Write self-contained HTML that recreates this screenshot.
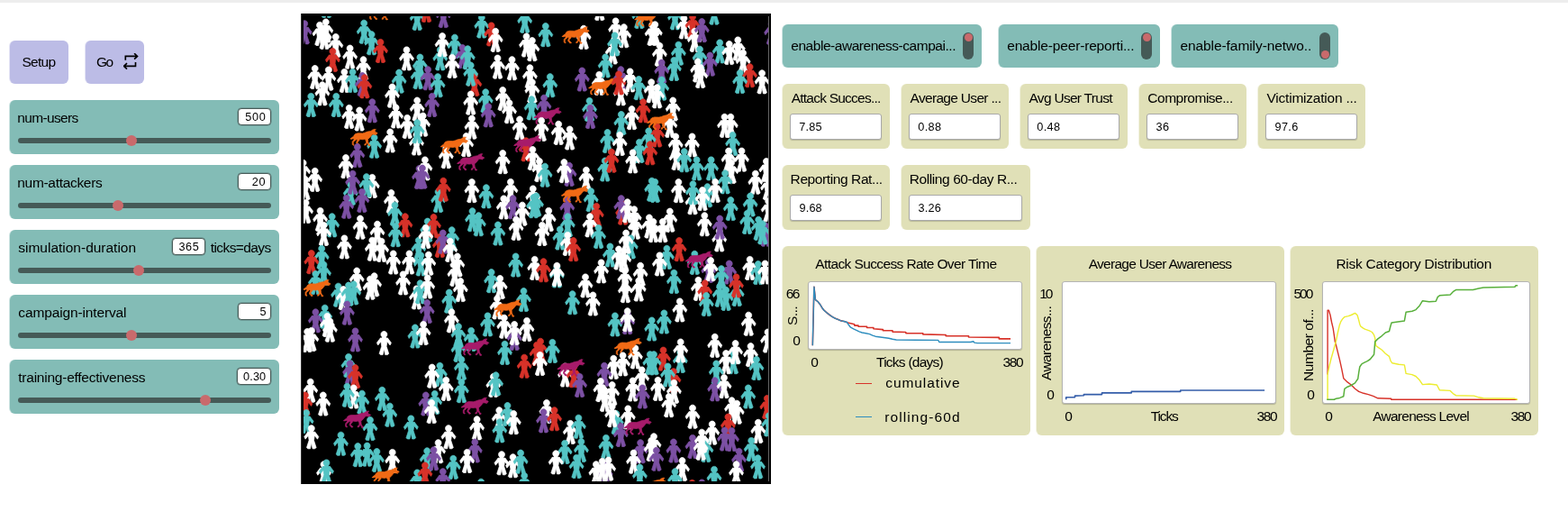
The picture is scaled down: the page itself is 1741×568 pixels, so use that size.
<!DOCTYPE html><html lang="en"><head><meta charset="utf-8"><title>NetLogo Web</title><style>
*{box-sizing:border-box;margin:0;padding:0}
html,body{width:1741px;height:568px;overflow:hidden;background:#fff}
body{font-family:"Liberation Sans",sans-serif;color:#000;position:relative;font-size:15.5px;line-height:18px}
.topbar{position:absolute;left:0;top:0;width:1741px;height:3px;background:#ededed}
.w{position:absolute;border-radius:6px}
.tx{position:absolute;white-space:nowrap;line-height:18px}
.btn{background:#bcbce6;height:48px;top:45px;box-shadow:-1px 0 0 rgba(188,188,230,.4)}
.sl{background:#83bcb6;left:11px;width:299px;height:60px;box-shadow:-1px 0 0 rgba(131,188,182,.4)}
.sl .val{position:absolute;top:9px;height:19px;background:#fff;border:1px solid #4a5d5a;border-radius:4px;box-shadow:0 0 0 .5px rgba(69,90,87,.55)}
.sl .track{position:absolute;left:9px;right:9px;top:42px;height:6px;border-radius:3px;background:#455a57}
.sl .thumb{position:absolute;top:39px;width:12px;height:12px;border-radius:6px;background:#c96a6c}
.sw{background:#83bcb6;top:27px;height:48px;box-shadow:-1px 0 0 rgba(131,188,182,.4)}
.sw .tg{position:absolute;right:9px;top:9px;width:12px;height:30px;border-radius:6px;background:#455a57}
.sw .tg i{position:absolute;left:1.5px;width:9px;height:9px;border-radius:5px;background:#c96a6c}
.mo{background:#e0e0b7;height:72px;box-shadow:-1px 0 0 rgba(224,224,183,.4)}
.mo .val{position:absolute;left:8px;right:9px;top:33px;height:29px;background:#fff;border:1px solid #a9a9a9;border-radius:3px;box-shadow:0 1px 1px rgba(0,0,0,.18)}
.pl{background:#e0e0b7;top:273px;width:275px;height:210px;box-shadow:-1px 0 0 rgba(224,224,183,.4)}
.pl .cv{position:absolute;background:#fff;border:1px solid #b4b4b4;border-radius:3px;box-shadow:0 1px 1px rgba(0,0,0,.2)}
.pl .yl{position:absolute;white-space:nowrap;line-height:18px;transform-origin:0 0;transform:rotate(-90deg)}
.pl .ln{position:absolute;width:18px;height:1.5px}
.world{position:absolute;left:334px;top:15px;width:522px;height:522px;background:#000;box-shadow:inset 1px 0 0 #333;overflow:hidden}
</style></head><body>
<div class="topbar"></div>
<div class="w btn" style="left:11px;width:65px"><span class="tx" style="left:13.5px;top:14.6px;font-size:15.5px;letter-spacing:-0.75px">Setup</span></div>
<div class="w btn" style="left:95px;width:65px"><span class="tx" style="left:12.1px;top:14.6px;font-size:15.5px;letter-spacing:-1.76px">Go</span><svg style="position:absolute;left:42px;top:14px" width="17" height="19" viewBox="0 0 17 19"><g fill="none" stroke="#000" stroke-width="1.65"><path d="M2.3 7.7V3.4H15.2M12.1 0.2L15.5 3.4L12.1 6.6M13.5 10.1V14.4H0.9M4 11.2L0.6 14.4L4 17.7"/></g></svg></div>
<div class="w sl" style="top:111px"><span class="tx" style="left:8.3px;top:10.6px;font-size:15.5px;letter-spacing:-0.65px">num-users</span><div class="val" style="left:253px;width:37px"></div><span class="tx" style="left:261.3px;top:9.6px;font-size:12.7px;letter-spacing:0.64px">500</span><div class="track"></div><div class="thumb" style="left:128.6px"></div></div>
<div class="w sl" style="top:183px"><span class="tx" style="left:8.3px;top:10.6px;font-size:15.5px;letter-spacing:-0.31px">num-attackers</span><div class="val" style="left:253px;width:37px"></div><span class="tx" style="left:268.8px;top:9.6px;font-size:12.7px;letter-spacing:0.74px">20</span><div class="track"></div><div class="thumb" style="left:113.5px"></div></div>
<div class="w sl" style="top:255px"><span class="tx" style="left:9.3px;top:10.6px;font-size:15.5px;letter-spacing:-0.01px">simulation-duration</span><div class="val" style="left:180px;width:37px"></div><span class="tx" style="left:187.5px;top:9.6px;font-size:12.7px;letter-spacing:0.54px">365</span><span class="tx" style="left:222.8px;top:10.6px;font-size:15.5px;letter-spacing:-0.59px">ticks=days</span><div class="track"></div><div class="thumb" style="left:137.4px"></div></div>
<div class="w sl" style="top:327px"><span class="tx" style="left:9.3px;top:10.6px;font-size:15.5px;letter-spacing:-0.13px">campaign-interval</span><div class="val" style="left:253px;width:37px"></div><span class="tx" style="left:277.5px;top:9.6px;font-size:12.7px;letter-spacing:0.00px">5</span><div class="track"></div><div class="thumb" style="left:128.5px"></div></div>
<div class="w sl" style="top:399px"><span class="tx" style="left:9.3px;top:10.6px;font-size:15.5px;letter-spacing:-0.24px">training-effectiveness</span><div class="val" style="left:252px;width:38px"></div><span class="tx" style="left:259.0px;top:9.6px;font-size:12.7px;letter-spacing:0.15px">0.30</span><div class="track"></div><div class="thumb" style="left:210.8px"></div></div>
<div class="world"><svg width="516.5" height="516.5" viewBox="0 0 516.5 516.5" stroke-width="0.7" stroke-linejoin="round" style="position:absolute;left:2.5px;top:2.5px;box-sizing:content-box;border-right:1px solid #666">
<path transform="translate(151.8 46.7)" fill="#54c4c4" stroke="#54c4c4" d="M3.5,-9.3 3.2,-7.8 2.2,-6.5 0.8,-5.9 -0.8,-5.9 -2.2,-6.5 -3.2,-7.8 -3.5,-9.3 -3.2,-10.8 -2.2,-12.1 -0.8,-12.8 0.8,-12.8 2.2,-12.1 3.2,-10.8zM4.0,-5.3 2.7,4.0 5.3,12.0 4.0,13.3 1.3,13.3 0.0,6.7 -1.3,13.3 -4.0,13.3 -5.3,12.0 -2.7,4.0 -4.0,-5.3zM-2.0,-6.3 2.0,-6.3 2.0,-5.0 -2.0,-5.0zM4.0,-5.3 8.0,0.0 6.7,2.7 1.3,-4.0zM-1.3,-4.0 -6.7,2.7 -8.0,0.0 -4.0,-5.3z"/>
<path transform="translate(189.8 75.3)" fill="#d73229" stroke="#d73229" d="M3.5,-9.3 3.2,-7.8 2.2,-6.5 0.8,-5.9 -0.8,-5.9 -2.2,-6.5 -3.2,-7.8 -3.5,-9.3 -3.2,-10.8 -2.2,-12.1 -0.8,-12.8 0.8,-12.8 2.2,-12.1 3.2,-10.8zM4.0,-5.3 2.7,4.0 5.3,12.0 4.0,13.3 1.3,13.3 0.0,6.7 -1.3,13.3 -4.0,13.3 -5.3,12.0 -2.7,4.0 -4.0,-5.3zM-2.0,-6.3 2.0,-6.3 2.0,-5.0 -2.0,-5.0zM4.0,-5.3 8.0,0.0 6.7,2.7 1.3,-4.0zM-1.3,-4.0 -6.7,2.7 -8.0,0.0 -4.0,-5.3z"/>
<path transform="translate(158.3 155.4)" fill="#ffffff" stroke="#ffffff" d="M3.5,-9.3 3.2,-7.8 2.2,-6.5 0.8,-5.9 -0.8,-5.9 -2.2,-6.5 -3.2,-7.8 -3.5,-9.3 -3.2,-10.8 -2.2,-12.1 -0.8,-12.8 0.8,-12.8 2.2,-12.1 3.2,-10.8zM4.0,-5.3 2.7,4.0 5.3,12.0 4.0,13.3 1.3,13.3 0.0,6.7 -1.3,13.3 -4.0,13.3 -5.3,12.0 -2.7,4.0 -4.0,-5.3zM-2.0,-6.3 2.0,-6.3 2.0,-5.0 -2.0,-5.0zM4.0,-5.3 8.0,0.0 6.7,2.7 1.3,-4.0zM-1.3,-4.0 -6.7,2.7 -8.0,0.0 -4.0,-5.3z"/>
<path transform="translate(151.4 254.1)" fill="#d73229" stroke="#d73229" d="M3.5,-9.3 3.2,-7.8 2.2,-6.5 0.8,-5.9 -0.8,-5.9 -2.2,-6.5 -3.2,-7.8 -3.5,-9.3 -3.2,-10.8 -2.2,-12.1 -0.8,-12.8 0.8,-12.8 2.2,-12.1 3.2,-10.8zM4.0,-5.3 2.7,4.0 5.3,12.0 4.0,13.3 1.3,13.3 0.0,6.7 -1.3,13.3 -4.0,13.3 -5.3,12.0 -2.7,4.0 -4.0,-5.3zM-2.0,-6.3 2.0,-6.3 2.0,-5.0 -2.0,-5.0zM4.0,-5.3 8.0,0.0 6.7,2.7 1.3,-4.0zM-1.3,-4.0 -6.7,2.7 -8.0,0.0 -4.0,-5.3z"/>
<path transform="translate(1.2 17.6)" fill="#7c50a4" stroke="#7c50a4" d="M3.5,-9.3 3.2,-7.8 2.2,-6.5 0.8,-5.9 -0.8,-5.9 -2.2,-6.5 -3.2,-7.8 -3.5,-9.3 -3.2,-10.8 -2.2,-12.1 -0.8,-12.8 0.8,-12.8 2.2,-12.1 3.2,-10.8zM4.0,-5.3 2.7,4.0 5.3,12.0 4.0,13.3 1.3,13.3 0.0,6.7 -1.3,13.3 -4.0,13.3 -5.3,12.0 -2.7,4.0 -4.0,-5.3zM-2.0,-6.3 2.0,-6.3 2.0,-5.0 -2.0,-5.0zM4.0,-5.3 8.0,0.0 6.7,2.7 1.3,-4.0zM-1.3,-4.0 -6.7,2.7 -8.0,0.0 -4.0,-5.3z"/>
<path transform="translate(18.0 19.2)" fill="#ffffff" stroke="#ffffff" d="M3.5,-9.3 3.2,-7.8 2.2,-6.5 0.8,-5.9 -0.8,-5.9 -2.2,-6.5 -3.2,-7.8 -3.5,-9.3 -3.2,-10.8 -2.2,-12.1 -0.8,-12.8 0.8,-12.8 2.2,-12.1 3.2,-10.8zM4.0,-5.3 2.7,4.0 5.3,12.0 4.0,13.3 1.3,13.3 0.0,6.7 -1.3,13.3 -4.0,13.3 -5.3,12.0 -2.7,4.0 -4.0,-5.3zM-2.0,-6.3 2.0,-6.3 2.0,-5.0 -2.0,-5.0zM4.0,-5.3 8.0,0.0 6.7,2.7 1.3,-4.0zM-1.3,-4.0 -6.7,2.7 -8.0,0.0 -4.0,-5.3z"/>
<path transform="translate(24.8 15.8)" fill="#ffffff" stroke="#ffffff" d="M3.5,-9.3 3.2,-7.8 2.2,-6.5 0.8,-5.9 -0.8,-5.9 -2.2,-6.5 -3.2,-7.8 -3.5,-9.3 -3.2,-10.8 -2.2,-12.1 -0.8,-12.8 0.8,-12.8 2.2,-12.1 3.2,-10.8zM4.0,-5.3 2.7,4.0 5.3,12.0 4.0,13.3 1.3,13.3 0.0,6.7 -1.3,13.3 -4.0,13.3 -5.3,12.0 -2.7,4.0 -4.0,-5.3zM-2.0,-6.3 2.0,-6.3 2.0,-5.0 -2.0,-5.0zM4.0,-5.3 8.0,0.0 6.7,2.7 1.3,-4.0zM-1.3,-4.0 -6.7,2.7 -8.0,0.0 -4.0,-5.3z"/>
<path transform="translate(23.2 23.1)" fill="#ffffff" stroke="#ffffff" d="M3.5,-9.3 3.2,-7.8 2.2,-6.5 0.8,-5.9 -0.8,-5.9 -2.2,-6.5 -3.2,-7.8 -3.5,-9.3 -3.2,-10.8 -2.2,-12.1 -0.8,-12.8 0.8,-12.8 2.2,-12.1 3.2,-10.8zM4.0,-5.3 2.7,4.0 5.3,12.0 4.0,13.3 1.3,13.3 0.0,6.7 -1.3,13.3 -4.0,13.3 -5.3,12.0 -2.7,4.0 -4.0,-5.3zM-2.0,-6.3 2.0,-6.3 2.0,-5.0 -2.0,-5.0zM4.0,-5.3 8.0,0.0 6.7,2.7 1.3,-4.0zM-1.3,-4.0 -6.7,2.7 -8.0,0.0 -4.0,-5.3z"/>
<path transform="translate(25.5 -11.7)" fill="#54c4c4" stroke="#54c4c4" d="M3.5,-9.3 3.2,-7.8 2.2,-6.5 0.8,-5.9 -0.8,-5.9 -2.2,-6.5 -3.2,-7.8 -3.5,-9.3 -3.2,-10.8 -2.2,-12.1 -0.8,-12.8 0.8,-12.8 2.2,-12.1 3.2,-10.8zM4.0,-5.3 2.7,4.0 5.3,12.0 4.0,13.3 1.3,13.3 0.0,6.7 -1.3,13.3 -4.0,13.3 -5.3,12.0 -2.7,4.0 -4.0,-5.3zM-2.0,-6.3 2.0,-6.3 2.0,-5.0 -2.0,-5.0zM4.0,-5.3 8.0,0.0 6.7,2.7 1.3,-4.0zM-1.3,-4.0 -6.7,2.7 -8.0,0.0 -4.0,-5.3z"/>
<path transform="translate(35.8 32.3)" fill="#ffffff" stroke="#ffffff" d="M3.5,-9.3 3.2,-7.8 2.2,-6.5 0.8,-5.9 -0.8,-5.9 -2.2,-6.5 -3.2,-7.8 -3.5,-9.3 -3.2,-10.8 -2.2,-12.1 -0.8,-12.8 0.8,-12.8 2.2,-12.1 3.2,-10.8zM4.0,-5.3 2.7,4.0 5.3,12.0 4.0,13.3 1.3,13.3 0.0,6.7 -1.3,13.3 -4.0,13.3 -5.3,12.0 -2.7,4.0 -4.0,-5.3zM-2.0,-6.3 2.0,-6.3 2.0,-5.0 -2.0,-5.0zM4.0,-5.3 8.0,0.0 6.7,2.7 1.3,-4.0zM-1.3,-4.0 -6.7,2.7 -8.0,0.0 -4.0,-5.3z"/>
<path transform="translate(32.4 48.3)" fill="#d73229" stroke="#d73229" d="M3.5,-9.3 3.2,-7.8 2.2,-6.5 0.8,-5.9 -0.8,-5.9 -2.2,-6.5 -3.2,-7.8 -3.5,-9.3 -3.2,-10.8 -2.2,-12.1 -0.8,-12.8 0.8,-12.8 2.2,-12.1 3.2,-10.8zM4.0,-5.3 2.7,4.0 5.3,12.0 4.0,13.3 1.3,13.3 0.0,6.7 -1.3,13.3 -4.0,13.3 -5.3,12.0 -2.7,4.0 -4.0,-5.3zM-2.0,-6.3 2.0,-6.3 2.0,-5.0 -2.0,-5.0zM4.0,-5.3 8.0,0.0 6.7,2.7 1.3,-4.0zM-1.3,-4.0 -6.7,2.7 -8.0,0.0 -4.0,-5.3z"/>
<path transform="translate(51.6 44.9)" fill="#ffffff" stroke="#ffffff" d="M3.5,-9.3 3.2,-7.8 2.2,-6.5 0.8,-5.9 -0.8,-5.9 -2.2,-6.5 -3.2,-7.8 -3.5,-9.3 -3.2,-10.8 -2.2,-12.1 -0.8,-12.8 0.8,-12.8 2.2,-12.1 3.2,-10.8zM4.0,-5.3 2.7,4.0 5.3,12.0 4.0,13.3 1.3,13.3 0.0,6.7 -1.3,13.3 -4.0,13.3 -5.3,12.0 -2.7,4.0 -4.0,-5.3zM-2.0,-6.3 2.0,-6.3 2.0,-5.0 -2.0,-5.0zM4.0,-5.3 8.0,0.0 6.7,2.7 1.3,-4.0zM-1.3,-4.0 -6.7,2.7 -8.0,0.0 -4.0,-5.3z"/>
<path transform="translate(66.5 57.5)" fill="#ffffff" stroke="#ffffff" d="M3.5,-9.3 3.2,-7.8 2.2,-6.5 0.8,-5.9 -0.8,-5.9 -2.2,-6.5 -3.2,-7.8 -3.5,-9.3 -3.2,-10.8 -2.2,-12.1 -0.8,-12.8 0.8,-12.8 2.2,-12.1 3.2,-10.8zM4.0,-5.3 2.7,4.0 5.3,12.0 4.0,13.3 1.3,13.3 0.0,6.7 -1.3,13.3 -4.0,13.3 -5.3,12.0 -2.7,4.0 -4.0,-5.3zM-2.0,-6.3 2.0,-6.3 2.0,-5.0 -2.0,-5.0zM4.0,-5.3 8.0,0.0 6.7,2.7 1.3,-4.0zM-1.3,-4.0 -6.7,2.7 -8.0,0.0 -4.0,-5.3z"/>
<path transform="translate(67.2 17.0)" fill="#54c4c4" stroke="#54c4c4" d="M3.5,-9.3 3.2,-7.8 2.2,-6.5 0.8,-5.9 -0.8,-5.9 -2.2,-6.5 -3.2,-7.8 -3.5,-9.3 -3.2,-10.8 -2.2,-12.1 -0.8,-12.8 0.8,-12.8 2.2,-12.1 3.2,-10.8zM4.0,-5.3 2.7,4.0 5.3,12.0 4.0,13.3 1.3,13.3 0.0,6.7 -1.3,13.3 -4.0,13.3 -5.3,12.0 -2.7,4.0 -4.0,-5.3zM-2.0,-6.3 2.0,-6.3 2.0,-5.0 -2.0,-5.0zM4.0,-5.3 8.0,0.0 6.7,2.7 1.3,-4.0zM-1.3,-4.0 -6.7,2.7 -8.0,0.0 -4.0,-5.3z"/>
<path transform="translate(75.6 29.5)" fill="#54c4c4" stroke="#54c4c4" d="M3.5,-9.3 3.2,-7.8 2.2,-6.5 0.8,-5.9 -0.8,-5.9 -2.2,-6.5 -3.2,-7.8 -3.5,-9.3 -3.2,-10.8 -2.2,-12.1 -0.8,-12.8 0.8,-12.8 2.2,-12.1 3.2,-10.8zM4.0,-5.3 2.7,4.0 5.3,12.0 4.0,13.3 1.3,13.3 0.0,6.7 -1.3,13.3 -4.0,13.3 -5.3,12.0 -2.7,4.0 -4.0,-5.3zM-2.0,-6.3 2.0,-6.3 2.0,-5.0 -2.0,-5.0zM4.0,-5.3 8.0,0.0 6.7,2.7 1.3,-4.0zM-1.3,-4.0 -6.7,2.7 -8.0,0.0 -4.0,-5.3z"/>
<path transform="translate(85.5 38.2)" fill="#d73229" stroke="#d73229" d="M3.5,-9.3 3.2,-7.8 2.2,-6.5 0.8,-5.9 -0.8,-5.9 -2.2,-6.5 -3.2,-7.8 -3.5,-9.3 -3.2,-10.8 -2.2,-12.1 -0.8,-12.8 0.8,-12.8 2.2,-12.1 3.2,-10.8zM4.0,-5.3 2.7,4.0 5.3,12.0 4.0,13.3 1.3,13.3 0.0,6.7 -1.3,13.3 -4.0,13.3 -5.3,12.0 -2.7,4.0 -4.0,-5.3zM-2.0,-6.3 2.0,-6.3 2.0,-5.0 -2.0,-5.0zM4.0,-5.3 8.0,0.0 6.7,2.7 1.3,-4.0zM-1.3,-4.0 -6.7,2.7 -8.0,0.0 -4.0,-5.3z"/>
<path transform="translate(114.5 46.7)" fill="#ffffff" stroke="#ffffff" d="M3.5,-9.3 3.2,-7.8 2.2,-6.5 0.8,-5.9 -0.8,-5.9 -2.2,-6.5 -3.2,-7.8 -3.5,-9.3 -3.2,-10.8 -2.2,-12.1 -0.8,-12.8 0.8,-12.8 2.2,-12.1 3.2,-10.8zM4.0,-5.3 2.7,4.0 5.3,12.0 4.0,13.3 1.3,13.3 0.0,6.7 -1.3,13.3 -4.0,13.3 -5.3,12.0 -2.7,4.0 -4.0,-5.3zM-2.0,-6.3 2.0,-6.3 2.0,-5.0 -2.0,-5.0zM4.0,-5.3 8.0,0.0 6.7,2.7 1.3,-4.0zM-1.3,-4.0 -6.7,2.7 -8.0,0.0 -4.0,-5.3z"/>
<path transform="translate(129.4 54.9)" fill="#54c4c4" stroke="#54c4c4" d="M3.5,-9.3 3.2,-7.8 2.2,-6.5 0.8,-5.9 -0.8,-5.9 -2.2,-6.5 -3.2,-7.8 -3.5,-9.3 -3.2,-10.8 -2.2,-12.1 -0.8,-12.8 0.8,-12.8 2.2,-12.1 3.2,-10.8zM4.0,-5.3 2.7,4.0 5.3,12.0 4.0,13.3 1.3,13.3 0.0,6.7 -1.3,13.3 -4.0,13.3 -5.3,12.0 -2.7,4.0 -4.0,-5.3zM-2.0,-6.3 2.0,-6.3 2.0,-5.0 -2.0,-5.0zM4.0,-5.3 8.0,0.0 6.7,2.7 1.3,-4.0zM-1.3,-4.0 -6.7,2.7 -8.0,0.0 -4.0,-5.3z"/>
<path transform="translate(127.1 67.3)" fill="#54c4c4" stroke="#54c4c4" d="M3.5,-9.3 3.2,-7.8 2.2,-6.5 0.8,-5.9 -0.8,-5.9 -2.2,-6.5 -3.2,-7.8 -3.5,-9.3 -3.2,-10.8 -2.2,-12.1 -0.8,-12.8 0.8,-12.8 2.2,-12.1 3.2,-10.8zM4.0,-5.3 2.7,4.0 5.3,12.0 4.0,13.3 1.3,13.3 0.0,6.7 -1.3,13.3 -4.0,13.3 -5.3,12.0 -2.7,4.0 -4.0,-5.3zM-2.0,-6.3 2.0,-6.3 2.0,-5.0 -2.0,-5.0zM4.0,-5.3 8.0,0.0 6.7,2.7 1.3,-4.0zM-1.3,-4.0 -6.7,2.7 -8.0,0.0 -4.0,-5.3z"/>
<path transform="translate(12.7 67.3)" fill="#ffffff" stroke="#ffffff" d="M3.5,-9.3 3.2,-7.8 2.2,-6.5 0.8,-5.9 -0.8,-5.9 -2.2,-6.5 -3.2,-7.8 -3.5,-9.3 -3.2,-10.8 -2.2,-12.1 -0.8,-12.8 0.8,-12.8 2.2,-12.1 3.2,-10.8zM4.0,-5.3 2.7,4.0 5.3,12.0 4.0,13.3 1.3,13.3 0.0,6.7 -1.3,13.3 -4.0,13.3 -5.3,12.0 -2.7,4.0 -4.0,-5.3zM-2.0,-6.3 2.0,-6.3 2.0,-5.0 -2.0,-5.0zM4.0,-5.3 8.0,0.0 6.7,2.7 1.3,-4.0zM-1.3,-4.0 -6.7,2.7 -8.0,0.0 -4.0,-5.3z"/>
<path transform="translate(27.8 68.9)" fill="#ffffff" stroke="#ffffff" d="M3.5,-9.3 3.2,-7.8 2.2,-6.5 0.8,-5.9 -0.8,-5.9 -2.2,-6.5 -3.2,-7.8 -3.5,-9.3 -3.2,-10.8 -2.2,-12.1 -0.8,-12.8 0.8,-12.8 2.2,-12.1 3.2,-10.8zM4.0,-5.3 2.7,4.0 5.3,12.0 4.0,13.3 1.3,13.3 0.0,6.7 -1.3,13.3 -4.0,13.3 -5.3,12.0 -2.7,4.0 -4.0,-5.3zM-2.0,-6.3 2.0,-6.3 2.0,-5.0 -2.0,-5.0zM4.0,-5.3 8.0,0.0 6.7,2.7 1.3,-4.0zM-1.3,-4.0 -6.7,2.7 -8.0,0.0 -4.0,-5.3z"/>
<path transform="translate(45.4 71.2)" fill="#ffffff" stroke="#ffffff" d="M3.5,-9.3 3.2,-7.8 2.2,-6.5 0.8,-5.9 -0.8,-5.9 -2.2,-6.5 -3.2,-7.8 -3.5,-9.3 -3.2,-10.8 -2.2,-12.1 -0.8,-12.8 0.8,-12.8 2.2,-12.1 3.2,-10.8zM4.0,-5.3 2.7,4.0 5.3,12.0 4.0,13.3 1.3,13.3 0.0,6.7 -1.3,13.3 -4.0,13.3 -5.3,12.0 -2.7,4.0 -4.0,-5.3zM-2.0,-6.3 2.0,-6.3 2.0,-5.0 -2.0,-5.0zM4.0,-5.3 8.0,0.0 6.7,2.7 1.3,-4.0zM-1.3,-4.0 -6.7,2.7 -8.0,0.0 -4.0,-5.3z"/>
<path transform="translate(54.6 71.2)" fill="#54c4c4" stroke="#54c4c4" d="M3.5,-9.3 3.2,-7.8 2.2,-6.5 0.8,-5.9 -0.8,-5.9 -2.2,-6.5 -3.2,-7.8 -3.5,-9.3 -3.2,-10.8 -2.2,-12.1 -0.8,-12.8 0.8,-12.8 2.2,-12.1 3.2,-10.8zM4.0,-5.3 2.7,4.0 5.3,12.0 4.0,13.3 1.3,13.3 0.0,6.7 -1.3,13.3 -4.0,13.3 -5.3,12.0 -2.7,4.0 -4.0,-5.3zM-2.0,-6.3 2.0,-6.3 2.0,-5.0 -2.0,-5.0zM4.0,-5.3 8.0,0.0 6.7,2.7 1.3,-4.0zM-1.3,-4.0 -6.7,2.7 -8.0,0.0 -4.0,-5.3z"/>
<path transform="translate(65.3 75.3)" fill="#7c50a4" stroke="#7c50a4" d="M3.5,-9.3 3.2,-7.8 2.2,-6.5 0.8,-5.9 -0.8,-5.9 -2.2,-6.5 -3.2,-7.8 -3.5,-9.3 -3.2,-10.8 -2.2,-12.1 -0.8,-12.8 0.8,-12.8 2.2,-12.1 3.2,-10.8zM4.0,-5.3 2.7,4.0 5.3,12.0 4.0,13.3 1.3,13.3 0.0,6.7 -1.3,13.3 -4.0,13.3 -5.3,12.0 -2.7,4.0 -4.0,-5.3zM-2.0,-6.3 2.0,-6.3 2.0,-5.0 -2.0,-5.0zM4.0,-5.3 8.0,0.0 6.7,2.7 1.3,-4.0zM-1.3,-4.0 -6.7,2.7 -8.0,0.0 -4.0,-5.3z"/>
<path transform="translate(67.8 77.6)" fill="#d73229" stroke="#d73229" d="M3.5,-9.3 3.2,-7.8 2.2,-6.5 0.8,-5.9 -0.8,-5.9 -2.2,-6.5 -3.2,-7.8 -3.5,-9.3 -3.2,-10.8 -2.2,-12.1 -0.8,-12.8 0.8,-12.8 2.2,-12.1 3.2,-10.8zM4.0,-5.3 2.7,4.0 5.3,12.0 4.0,13.3 1.3,13.3 0.0,6.7 -1.3,13.3 -4.0,13.3 -5.3,12.0 -2.7,4.0 -4.0,-5.3zM-2.0,-6.3 2.0,-6.3 2.0,-5.0 -2.0,-5.0zM4.0,-5.3 8.0,0.0 6.7,2.7 1.3,-4.0zM-1.3,-4.0 -6.7,2.7 -8.0,0.0 -4.0,-5.3z"/>
<path transform="translate(20.9 85.6)" fill="#ffffff" stroke="#ffffff" d="M3.5,-9.3 3.2,-7.8 2.2,-6.5 0.8,-5.9 -0.8,-5.9 -2.2,-6.5 -3.2,-7.8 -3.5,-9.3 -3.2,-10.8 -2.2,-12.1 -0.8,-12.8 0.8,-12.8 2.2,-12.1 3.2,-10.8zM4.0,-5.3 2.7,4.0 5.3,12.0 4.0,13.3 1.3,13.3 0.0,6.7 -1.3,13.3 -4.0,13.3 -5.3,12.0 -2.7,4.0 -4.0,-5.3zM-2.0,-6.3 2.0,-6.3 2.0,-5.0 -2.0,-5.0zM4.0,-5.3 8.0,0.0 6.7,2.7 1.3,-4.0zM-1.3,-4.0 -6.7,2.7 -8.0,0.0 -4.0,-5.3z"/>
<path transform="translate(8.3 98.2)" fill="#54c4c4" stroke="#54c4c4" d="M3.5,-9.3 3.2,-7.8 2.2,-6.5 0.8,-5.9 -0.8,-5.9 -2.2,-6.5 -3.2,-7.8 -3.5,-9.3 -3.2,-10.8 -2.2,-12.1 -0.8,-12.8 0.8,-12.8 2.2,-12.1 3.2,-10.8zM4.0,-5.3 2.7,4.0 5.3,12.0 4.0,13.3 1.3,13.3 0.0,6.7 -1.3,13.3 -4.0,13.3 -5.3,12.0 -2.7,4.0 -4.0,-5.3zM-2.0,-6.3 2.0,-6.3 2.0,-5.0 -2.0,-5.0zM4.0,-5.3 8.0,0.0 6.7,2.7 1.3,-4.0zM-1.3,-4.0 -6.7,2.7 -8.0,0.0 -4.0,-5.3z"/>
<path transform="translate(36.3 98.2)" fill="#54c4c4" stroke="#54c4c4" d="M3.5,-9.3 3.2,-7.8 2.2,-6.5 0.8,-5.9 -0.8,-5.9 -2.2,-6.5 -3.2,-7.8 -3.5,-9.3 -3.2,-10.8 -2.2,-12.1 -0.8,-12.8 0.8,-12.8 2.2,-12.1 3.2,-10.8zM4.0,-5.3 2.7,4.0 5.3,12.0 4.0,13.3 1.3,13.3 0.0,6.7 -1.3,13.3 -4.0,13.3 -5.3,12.0 -2.7,4.0 -4.0,-5.3zM-2.0,-6.3 2.0,-6.3 2.0,-5.0 -2.0,-5.0zM4.0,-5.3 8.0,0.0 6.7,2.7 1.3,-4.0zM-1.3,-4.0 -6.7,2.7 -8.0,0.0 -4.0,-5.3z"/>
<path transform="translate(50.7 111.2)" fill="#ffffff" stroke="#ffffff" d="M3.5,-9.3 3.2,-7.8 2.2,-6.5 0.8,-5.9 -0.8,-5.9 -2.2,-6.5 -3.2,-7.8 -3.5,-9.3 -3.2,-10.8 -2.2,-12.1 -0.8,-12.8 0.8,-12.8 2.2,-12.1 3.2,-10.8zM4.0,-5.3 2.7,4.0 5.3,12.0 4.0,13.3 1.3,13.3 0.0,6.7 -1.3,13.3 -4.0,13.3 -5.3,12.0 -2.7,4.0 -4.0,-5.3zM-2.0,-6.3 2.0,-6.3 2.0,-5.0 -2.0,-5.0zM4.0,-5.3 8.0,0.0 6.7,2.7 1.3,-4.0zM-1.3,-4.0 -6.7,2.7 -8.0,0.0 -4.0,-5.3z"/>
<path transform="translate(62.1 113.8)" fill="#ffffff" stroke="#ffffff" d="M3.5,-9.3 3.2,-7.8 2.2,-6.5 0.8,-5.9 -0.8,-5.9 -2.2,-6.5 -3.2,-7.8 -3.5,-9.3 -3.2,-10.8 -2.2,-12.1 -0.8,-12.8 0.8,-12.8 2.2,-12.1 3.2,-10.8zM4.0,-5.3 2.7,4.0 5.3,12.0 4.0,13.3 1.3,13.3 0.0,6.7 -1.3,13.3 -4.0,13.3 -5.3,12.0 -2.7,4.0 -4.0,-5.3zM-2.0,-6.3 2.0,-6.3 2.0,-5.0 -2.0,-5.0zM4.0,-5.3 8.0,0.0 6.7,2.7 1.3,-4.0zM-1.3,-4.0 -6.7,2.7 -8.0,0.0 -4.0,-5.3z"/>
<path transform="translate(76.3 104.6)" fill="#7c50a4" stroke="#7c50a4" d="M3.5,-9.3 3.2,-7.8 2.2,-6.5 0.8,-5.9 -0.8,-5.9 -2.2,-6.5 -3.2,-7.8 -3.5,-9.3 -3.2,-10.8 -2.2,-12.1 -0.8,-12.8 0.8,-12.8 2.2,-12.1 3.2,-10.8zM4.0,-5.3 2.7,4.0 5.3,12.0 4.0,13.3 1.3,13.3 0.0,6.7 -1.3,13.3 -4.0,13.3 -5.3,12.0 -2.7,4.0 -4.0,-5.3zM-2.0,-6.3 2.0,-6.3 2.0,-5.0 -2.0,-5.0zM4.0,-5.3 8.0,0.0 6.7,2.7 1.3,-4.0zM-1.3,-4.0 -6.7,2.7 -8.0,0.0 -4.0,-5.3z"/>
<path transform="translate(106.1 71.9)" fill="#54c4c4" stroke="#54c4c4" d="M3.5,-9.3 3.2,-7.8 2.2,-6.5 0.8,-5.9 -0.8,-5.9 -2.2,-6.5 -3.2,-7.8 -3.5,-9.3 -3.2,-10.8 -2.2,-12.1 -0.8,-12.8 0.8,-12.8 2.2,-12.1 3.2,-10.8zM4.0,-5.3 2.7,4.0 5.3,12.0 4.0,13.3 1.3,13.3 0.0,6.7 -1.3,13.3 -4.0,13.3 -5.3,12.0 -2.7,4.0 -4.0,-5.3zM-2.0,-6.3 2.0,-6.3 2.0,-5.0 -2.0,-5.0zM4.0,-5.3 8.0,0.0 6.7,2.7 1.3,-4.0zM-1.3,-4.0 -6.7,2.7 -8.0,0.0 -4.0,-5.3z"/>
<path transform="translate(98.5 87.9)" fill="#ffffff" stroke="#ffffff" d="M3.5,-9.3 3.2,-7.8 2.2,-6.5 0.8,-5.9 -0.8,-5.9 -2.2,-6.5 -3.2,-7.8 -3.5,-9.3 -3.2,-10.8 -2.2,-12.1 -0.8,-12.8 0.8,-12.8 2.2,-12.1 3.2,-10.8zM4.0,-5.3 2.7,4.0 5.3,12.0 4.0,13.3 1.3,13.3 0.0,6.7 -1.3,13.3 -4.0,13.3 -5.3,12.0 -2.7,4.0 -4.0,-5.3zM-2.0,-6.3 2.0,-6.3 2.0,-5.0 -2.0,-5.0zM4.0,-5.3 8.0,0.0 6.7,2.7 1.3,-4.0zM-1.3,-4.0 -6.7,2.7 -8.0,0.0 -4.0,-5.3z"/>
<path transform="translate(102.6 110.8)" fill="#ffffff" stroke="#ffffff" d="M3.5,-9.3 3.2,-7.8 2.2,-6.5 0.8,-5.9 -0.8,-5.9 -2.2,-6.5 -3.2,-7.8 -3.5,-9.3 -3.2,-10.8 -2.2,-12.1 -0.8,-12.8 0.8,-12.8 2.2,-12.1 3.2,-10.8zM4.0,-5.3 2.7,4.0 5.3,12.0 4.0,13.3 1.3,13.3 0.0,6.7 -1.3,13.3 -4.0,13.3 -5.3,12.0 -2.7,4.0 -4.0,-5.3zM-2.0,-6.3 2.0,-6.3 2.0,-5.0 -2.0,-5.0zM4.0,-5.3 8.0,0.0 6.7,2.7 1.3,-4.0zM-1.3,-4.0 -6.7,2.7 -8.0,0.0 -4.0,-5.3z"/>
<path transform="translate(115.2 122.2)" fill="#ffffff" stroke="#ffffff" d="M3.5,-9.3 3.2,-7.8 2.2,-6.5 0.8,-5.9 -0.8,-5.9 -2.2,-6.5 -3.2,-7.8 -3.5,-9.3 -3.2,-10.8 -2.2,-12.1 -0.8,-12.8 0.8,-12.8 2.2,-12.1 3.2,-10.8zM4.0,-5.3 2.7,4.0 5.3,12.0 4.0,13.3 1.3,13.3 0.0,6.7 -1.3,13.3 -4.0,13.3 -5.3,12.0 -2.7,4.0 -4.0,-5.3zM-2.0,-6.3 2.0,-6.3 2.0,-5.0 -2.0,-5.0zM4.0,-5.3 8.0,0.0 6.7,2.7 1.3,-4.0zM-1.3,-4.0 -6.7,2.7 -8.0,0.0 -4.0,-5.3z"/>
<path transform="translate(126.2 102.8)" fill="#ffffff" stroke="#ffffff" d="M3.5,-9.3 3.2,-7.8 2.2,-6.5 0.8,-5.9 -0.8,-5.9 -2.2,-6.5 -3.2,-7.8 -3.5,-9.3 -3.2,-10.8 -2.2,-12.1 -0.8,-12.8 0.8,-12.8 2.2,-12.1 3.2,-10.8zM4.0,-5.3 2.7,4.0 5.3,12.0 4.0,13.3 1.3,13.3 0.0,6.7 -1.3,13.3 -4.0,13.3 -5.3,12.0 -2.7,4.0 -4.0,-5.3zM-2.0,-6.3 2.0,-6.3 2.0,-5.0 -2.0,-5.0zM4.0,-5.3 8.0,0.0 6.7,2.7 1.3,-4.0zM-1.3,-4.0 -6.7,2.7 -8.0,0.0 -4.0,-5.3z"/>
<path transform="translate(86.6 -8.2)" fill="#f16a15" stroke="#f16a15" d="M12.0,-4.5 12.3,-3.1 14.7,-2.3 14.9,-1.6 14.3,-1.0 12.7,-0.9 13.4,0.1 10.9,-0.5 9.2,-0.6 7.7,1.4 6.0,3.4 4.2,4.8 4.5,8.0 5.7,10.8 6.9,11.2 6.7,12.1 5.0,12.1 4.8,11.0 3.6,9.0 2.8,9.7 1.9,11.4 0.4,11.5 1.0,9.8 1.7,10.1 2.3,8.8 2.2,6.3 1.6,6.0 1.0,4.5 -0.7,5.2 -3.1,5.1 -5.2,4.6 -5.0,5.7 -7.1,8.1 -7.3,8.9 -4.7,11.1 -5.0,11.7 -6.6,11.8 -6.8,11.1 -8.5,9.3 -8.4,7.8 -7.5,5.9 -8.2,4.8 -9.0,5.6 -11.9,8.0 -11.9,10.3 -11.0,11.0 -11.2,11.6 -12.3,11.5 -13.0,10.7 -13.0,7.6 -11.2,5.5 -11.2,4.3 -12.0,4.1 -13.7,4.7 -14.8,4.4zM-15.1,4.5 -13.6,3.0 -11.4,1.6 -11.0,0.3 -9.7,-1.0 -6.8,-1.9 -1.6,-1.7 0.9,-2.4 3.8,-3.5 7.7,-4.2 8.6,-4.8 8.8,-5.2 11.8,-6.4 11.9,-5.8 13.1,-6.3 11.9,-4.7 11.9,-3.7z"/>
<path transform="translate(126.2 2.1)" fill="#54c4c4" stroke="#54c4c4" d="M3.5,-9.3 3.2,-7.8 2.2,-6.5 0.8,-5.9 -0.8,-5.9 -2.2,-6.5 -3.2,-7.8 -3.5,-9.3 -3.2,-10.8 -2.2,-12.1 -0.8,-12.8 0.8,-12.8 2.2,-12.1 3.2,-10.8zM4.0,-5.3 2.7,4.0 5.3,12.0 4.0,13.3 1.3,13.3 0.0,6.7 -1.3,13.3 -4.0,13.3 -5.3,12.0 -2.7,4.0 -4.0,-5.3zM-2.0,-6.3 2.0,-6.3 2.0,-5.0 -2.0,-5.0zM4.0,-5.3 8.0,0.0 6.7,2.7 1.3,-4.0zM-1.3,-4.0 -6.7,2.7 -8.0,0.0 -4.0,-5.3z"/>
<path transform="translate(136.5 -6.8)" fill="#d73229" stroke="#d73229" d="M3.5,-9.3 3.2,-7.8 2.2,-6.5 0.8,-5.9 -0.8,-5.9 -2.2,-6.5 -3.2,-7.8 -3.5,-9.3 -3.2,-10.8 -2.2,-12.1 -0.8,-12.8 0.8,-12.8 2.2,-12.1 3.2,-10.8zM4.0,-5.3 2.7,4.0 5.3,12.0 4.0,13.3 1.3,13.3 0.0,6.7 -1.3,13.3 -4.0,13.3 -5.3,12.0 -2.7,4.0 -4.0,-5.3zM-2.0,-6.3 2.0,-6.3 2.0,-5.0 -2.0,-5.0zM4.0,-5.3 8.0,0.0 6.7,2.7 1.3,-4.0zM-1.3,-4.0 -6.7,2.7 -8.0,0.0 -4.0,-5.3z"/>
<path transform="translate(155.3 -0.7)" fill="#7c50a4" stroke="#7c50a4" d="M3.5,-9.3 3.2,-7.8 2.2,-6.5 0.8,-5.9 -0.8,-5.9 -2.2,-6.5 -3.2,-7.8 -3.5,-9.3 -3.2,-10.8 -2.2,-12.1 -0.8,-12.8 0.8,-12.8 2.2,-12.1 3.2,-10.8zM4.0,-5.3 2.7,4.0 5.3,12.0 4.0,13.3 1.3,13.3 0.0,6.7 -1.3,13.3 -4.0,13.3 -5.3,12.0 -2.7,4.0 -4.0,-5.3zM-2.0,-6.3 2.0,-6.3 2.0,-5.0 -2.0,-5.0zM4.0,-5.3 8.0,0.0 6.7,2.7 1.3,-4.0zM-1.3,-4.0 -6.7,2.7 -8.0,0.0 -4.0,-5.3z"/>
<path transform="translate(197.8 10.8)" fill="#54c4c4" stroke="#54c4c4" d="M3.5,-9.3 3.2,-7.8 2.2,-6.5 0.8,-5.9 -0.8,-5.9 -2.2,-6.5 -3.2,-7.8 -3.5,-9.3 -3.2,-10.8 -2.2,-12.1 -0.8,-12.8 0.8,-12.8 2.2,-12.1 3.2,-10.8zM4.0,-5.3 2.7,4.0 5.3,12.0 4.0,13.3 1.3,13.3 0.0,6.7 -1.3,13.3 -4.0,13.3 -5.3,12.0 -2.7,4.0 -4.0,-5.3zM-2.0,-6.3 2.0,-6.3 2.0,-5.0 -2.0,-5.0zM4.0,-5.3 8.0,0.0 6.7,2.7 1.3,-4.0zM-1.3,-4.0 -6.7,2.7 -8.0,0.0 -4.0,-5.3z"/>
<path transform="translate(208.6 19.7)" fill="#d73229" stroke="#d73229" d="M3.5,-9.3 3.2,-7.8 2.2,-6.5 0.8,-5.9 -0.8,-5.9 -2.2,-6.5 -3.2,-7.8 -3.5,-9.3 -3.2,-10.8 -2.2,-12.1 -0.8,-12.8 0.8,-12.8 2.2,-12.1 3.2,-10.8zM4.0,-5.3 2.7,4.0 5.3,12.0 4.0,13.3 1.3,13.3 0.0,6.7 -1.3,13.3 -4.0,13.3 -5.3,12.0 -2.7,4.0 -4.0,-5.3zM-2.0,-6.3 2.0,-6.3 2.0,-5.0 -2.0,-5.0zM4.0,-5.3 8.0,0.0 6.7,2.7 1.3,-4.0zM-1.3,-4.0 -6.7,2.7 -8.0,0.0 -4.0,-5.3z"/>
<path transform="translate(213.2 26.1)" fill="#ffffff" stroke="#ffffff" d="M3.5,-9.3 3.2,-7.8 2.2,-6.5 0.8,-5.9 -0.8,-5.9 -2.2,-6.5 -3.2,-7.8 -3.5,-9.3 -3.2,-10.8 -2.2,-12.1 -0.8,-12.8 0.8,-12.8 2.2,-12.1 3.2,-10.8zM4.0,-5.3 2.7,4.0 5.3,12.0 4.0,13.3 1.3,13.3 0.0,6.7 -1.3,13.3 -4.0,13.3 -5.3,12.0 -2.7,4.0 -4.0,-5.3zM-2.0,-6.3 2.0,-6.3 2.0,-5.0 -2.0,-5.0zM4.0,-5.3 8.0,0.0 6.7,2.7 1.3,-4.0zM-1.3,-4.0 -6.7,2.7 -8.0,0.0 -4.0,-5.3z"/>
<path transform="translate(245.7 5.1)" fill="#54c4c4" stroke="#54c4c4" d="M3.5,-9.3 3.2,-7.8 2.2,-6.5 0.8,-5.9 -0.8,-5.9 -2.2,-6.5 -3.2,-7.8 -3.5,-9.3 -3.2,-10.8 -2.2,-12.1 -0.8,-12.8 0.8,-12.8 2.2,-12.1 3.2,-10.8zM4.0,-5.3 2.7,4.0 5.3,12.0 4.0,13.3 1.3,13.3 0.0,6.7 -1.3,13.3 -4.0,13.3 -5.3,12.0 -2.7,4.0 -4.0,-5.3zM-2.0,-6.3 2.0,-6.3 2.0,-5.0 -2.0,-5.0zM4.0,-5.3 8.0,0.0 6.7,2.7 1.3,-4.0zM-1.3,-4.0 -6.7,2.7 -8.0,0.0 -4.0,-5.3z"/>
<path transform="translate(247.5 31.8)" fill="#ffffff" stroke="#ffffff" d="M3.5,-9.3 3.2,-7.8 2.2,-6.5 0.8,-5.9 -0.8,-5.9 -2.2,-6.5 -3.2,-7.8 -3.5,-9.3 -3.2,-10.8 -2.2,-12.1 -0.8,-12.8 0.8,-12.8 2.2,-12.1 3.2,-10.8zM4.0,-5.3 2.7,4.0 5.3,12.0 4.0,13.3 1.3,13.3 0.0,6.7 -1.3,13.3 -4.0,13.3 -5.3,12.0 -2.7,4.0 -4.0,-5.3zM-2.0,-6.3 2.0,-6.3 2.0,-5.0 -2.0,-5.0zM4.0,-5.3 8.0,0.0 6.7,2.7 1.3,-4.0zM-1.3,-4.0 -6.7,2.7 -8.0,0.0 -4.0,-5.3z"/>
<path transform="translate(253.9 36.4)" fill="#ffffff" stroke="#ffffff" d="M3.5,-9.3 3.2,-7.8 2.2,-6.5 0.8,-5.9 -0.8,-5.9 -2.2,-6.5 -3.2,-7.8 -3.5,-9.3 -3.2,-10.8 -2.2,-12.1 -0.8,-12.8 0.8,-12.8 2.2,-12.1 3.2,-10.8zM4.0,-5.3 2.7,4.0 5.3,12.0 4.0,13.3 1.3,13.3 0.0,6.7 -1.3,13.3 -4.0,13.3 -5.3,12.0 -2.7,4.0 -4.0,-5.3zM-2.0,-6.3 2.0,-6.3 2.0,-5.0 -2.0,-5.0zM4.0,-5.3 8.0,0.0 6.7,2.7 1.3,-4.0zM-1.3,-4.0 -6.7,2.7 -8.0,0.0 -4.0,-5.3z"/>
<path transform="translate(154.1 31.4)" fill="#ffffff" stroke="#ffffff" d="M3.5,-9.3 3.2,-7.8 2.2,-6.5 0.8,-5.9 -0.8,-5.9 -2.2,-6.5 -3.2,-7.8 -3.5,-9.3 -3.2,-10.8 -2.2,-12.1 -0.8,-12.8 0.8,-12.8 2.2,-12.1 3.2,-10.8zM4.0,-5.3 2.7,4.0 5.3,12.0 4.0,13.3 1.3,13.3 0.0,6.7 -1.3,13.3 -4.0,13.3 -5.3,12.0 -2.7,4.0 -4.0,-5.3zM-2.0,-6.3 2.0,-6.3 2.0,-5.0 -2.0,-5.0zM4.0,-5.3 8.0,0.0 6.7,2.7 1.3,-4.0zM-1.3,-4.0 -6.7,2.7 -8.0,0.0 -4.0,-5.3z"/>
<path transform="translate(167.9 33.0)" fill="#54c4c4" stroke="#54c4c4" d="M3.5,-9.3 3.2,-7.8 2.2,-6.5 0.8,-5.9 -0.8,-5.9 -2.2,-6.5 -3.2,-7.8 -3.5,-9.3 -3.2,-10.8 -2.2,-12.1 -0.8,-12.8 0.8,-12.8 2.2,-12.1 3.2,-10.8zM4.0,-5.3 2.7,4.0 5.3,12.0 4.0,13.3 1.3,13.3 0.0,6.7 -1.3,13.3 -4.0,13.3 -5.3,12.0 -2.7,4.0 -4.0,-5.3zM-2.0,-6.3 2.0,-6.3 2.0,-5.0 -2.0,-5.0zM4.0,-5.3 8.0,0.0 6.7,2.7 1.3,-4.0zM-1.3,-4.0 -6.7,2.7 -8.0,0.0 -4.0,-5.3z"/>
<path transform="translate(176.6 44.4)" fill="#7c50a4" stroke="#7c50a4" d="M3.5,-9.3 3.2,-7.8 2.2,-6.5 0.8,-5.9 -0.8,-5.9 -2.2,-6.5 -3.2,-7.8 -3.5,-9.3 -3.2,-10.8 -2.2,-12.1 -0.8,-12.8 0.8,-12.8 2.2,-12.1 3.2,-10.8zM4.0,-5.3 2.7,4.0 5.3,12.0 4.0,13.3 1.3,13.3 0.0,6.7 -1.3,13.3 -4.0,13.3 -5.3,12.0 -2.7,4.0 -4.0,-5.3zM-2.0,-6.3 2.0,-6.3 2.0,-5.0 -2.0,-5.0zM4.0,-5.3 8.0,0.0 6.7,2.7 1.3,-4.0zM-1.3,-4.0 -6.7,2.7 -8.0,0.0 -4.0,-5.3z"/>
<path transform="translate(182.3 45.6)" fill="#54c4c4" stroke="#54c4c4" d="M3.5,-9.3 3.2,-7.8 2.2,-6.5 0.8,-5.9 -0.8,-5.9 -2.2,-6.5 -3.2,-7.8 -3.5,-9.3 -3.2,-10.8 -2.2,-12.1 -0.8,-12.8 0.8,-12.8 2.2,-12.1 3.2,-10.8zM4.0,-5.3 2.7,4.0 5.3,12.0 4.0,13.3 1.3,13.3 0.0,6.7 -1.3,13.3 -4.0,13.3 -5.3,12.0 -2.7,4.0 -4.0,-5.3zM-2.0,-6.3 2.0,-6.3 2.0,-5.0 -2.0,-5.0zM4.0,-5.3 8.0,0.0 6.7,2.7 1.3,-4.0zM-1.3,-4.0 -6.7,2.7 -8.0,0.0 -4.0,-5.3z"/>
<path transform="translate(165.1 55.2)" fill="#ffffff" stroke="#ffffff" d="M3.5,-9.3 3.2,-7.8 2.2,-6.5 0.8,-5.9 -0.8,-5.9 -2.2,-6.5 -3.2,-7.8 -3.5,-9.3 -3.2,-10.8 -2.2,-12.1 -0.8,-12.8 0.8,-12.8 2.2,-12.1 3.2,-10.8zM4.0,-5.3 2.7,4.0 5.3,12.0 4.0,13.3 1.3,13.3 0.0,6.7 -1.3,13.3 -4.0,13.3 -5.3,12.0 -2.7,4.0 -4.0,-5.3zM-2.0,-6.3 2.0,-6.3 2.0,-5.0 -2.0,-5.0zM4.0,-5.3 8.0,0.0 6.7,2.7 1.3,-4.0zM-1.3,-4.0 -6.7,2.7 -8.0,0.0 -4.0,-5.3z"/>
<path transform="translate(185.7 63.9)" fill="#54c4c4" stroke="#54c4c4" d="M3.5,-9.3 3.2,-7.8 2.2,-6.5 0.8,-5.9 -0.8,-5.9 -2.2,-6.5 -3.2,-7.8 -3.5,-9.3 -3.2,-10.8 -2.2,-12.1 -0.8,-12.8 0.8,-12.8 2.2,-12.1 3.2,-10.8zM4.0,-5.3 2.7,4.0 5.3,12.0 4.0,13.3 1.3,13.3 0.0,6.7 -1.3,13.3 -4.0,13.3 -5.3,12.0 -2.7,4.0 -4.0,-5.3zM-2.0,-6.3 2.0,-6.3 2.0,-5.0 -2.0,-5.0zM4.0,-5.3 8.0,0.0 6.7,2.7 1.3,-4.0zM-1.3,-4.0 -6.7,2.7 -8.0,0.0 -4.0,-5.3z"/>
<path transform="translate(138.1 68.5)" fill="#7c50a4" stroke="#7c50a4" d="M3.5,-9.3 3.2,-7.8 2.2,-6.5 0.8,-5.9 -0.8,-5.9 -2.2,-6.5 -3.2,-7.8 -3.5,-9.3 -3.2,-10.8 -2.2,-12.1 -0.8,-12.8 0.8,-12.8 2.2,-12.1 3.2,-10.8zM4.0,-5.3 2.7,4.0 5.3,12.0 4.0,13.3 1.3,13.3 0.0,6.7 -1.3,13.3 -4.0,13.3 -5.3,12.0 -2.7,4.0 -4.0,-5.3zM-2.0,-6.3 2.0,-6.3 2.0,-5.0 -2.0,-5.0zM4.0,-5.3 8.0,0.0 6.7,2.7 1.3,-4.0zM-1.3,-4.0 -6.7,2.7 -8.0,0.0 -4.0,-5.3z"/>
<path transform="translate(149.1 76.5)" fill="#54c4c4" stroke="#54c4c4" d="M3.5,-9.3 3.2,-7.8 2.2,-6.5 0.8,-5.9 -0.8,-5.9 -2.2,-6.5 -3.2,-7.8 -3.5,-9.3 -3.2,-10.8 -2.2,-12.1 -0.8,-12.8 0.8,-12.8 2.2,-12.1 3.2,-10.8zM4.0,-5.3 2.7,4.0 5.3,12.0 4.0,13.3 1.3,13.3 0.0,6.7 -1.3,13.3 -4.0,13.3 -5.3,12.0 -2.7,4.0 -4.0,-5.3zM-2.0,-6.3 2.0,-6.3 2.0,-5.0 -2.0,-5.0zM4.0,-5.3 8.0,0.0 6.7,2.7 1.3,-4.0zM-1.3,-4.0 -6.7,2.7 -8.0,0.0 -4.0,-5.3z"/>
<path transform="translate(142.7 98.2)" fill="#7c50a4" stroke="#7c50a4" d="M3.5,-9.3 3.2,-7.8 2.2,-6.5 0.8,-5.9 -0.8,-5.9 -2.2,-6.5 -3.2,-7.8 -3.5,-9.3 -3.2,-10.8 -2.2,-12.1 -0.8,-12.8 0.8,-12.8 2.2,-12.1 3.2,-10.8zM4.0,-5.3 2.7,4.0 5.3,12.0 4.0,13.3 1.3,13.3 0.0,6.7 -1.3,13.3 -4.0,13.3 -5.3,12.0 -2.7,4.0 -4.0,-5.3zM-2.0,-6.3 2.0,-6.3 2.0,-5.0 -2.0,-5.0zM4.0,-5.3 8.0,0.0 6.7,2.7 1.3,-4.0zM-1.3,-4.0 -6.7,2.7 -8.0,0.0 -4.0,-5.3z"/>
<path transform="translate(132.6 119.9)" fill="#ffffff" stroke="#ffffff" d="M3.5,-9.3 3.2,-7.8 2.2,-6.5 0.8,-5.9 -0.8,-5.9 -2.2,-6.5 -3.2,-7.8 -3.5,-9.3 -3.2,-10.8 -2.2,-12.1 -0.8,-12.8 0.8,-12.8 2.2,-12.1 3.2,-10.8zM4.0,-5.3 2.7,4.0 5.3,12.0 4.0,13.3 1.3,13.3 0.0,6.7 -1.3,13.3 -4.0,13.3 -5.3,12.0 -2.7,4.0 -4.0,-5.3zM-2.0,-6.3 2.0,-6.3 2.0,-5.0 -2.0,-5.0zM4.0,-5.3 8.0,0.0 6.7,2.7 1.3,-4.0zM-1.3,-4.0 -6.7,2.7 -8.0,0.0 -4.0,-5.3z"/>
<path transform="translate(185.7 95.9)" fill="#ffffff" stroke="#ffffff" d="M3.5,-9.3 3.2,-7.8 2.2,-6.5 0.8,-5.9 -0.8,-5.9 -2.2,-6.5 -3.2,-7.8 -3.5,-9.3 -3.2,-10.8 -2.2,-12.1 -0.8,-12.8 0.8,-12.8 2.2,-12.1 3.2,-10.8zM4.0,-5.3 2.7,4.0 5.3,12.0 4.0,13.3 1.3,13.3 0.0,6.7 -1.3,13.3 -4.0,13.3 -5.3,12.0 -2.7,4.0 -4.0,-5.3zM-2.0,-6.3 2.0,-6.3 2.0,-5.0 -2.0,-5.0zM4.0,-5.3 8.0,0.0 6.7,2.7 1.3,-4.0zM-1.3,-4.0 -6.7,2.7 -8.0,0.0 -4.0,-5.3z"/>
<path transform="translate(186.9 122.9)" fill="#ffffff" stroke="#ffffff" d="M3.5,-9.3 3.2,-7.8 2.2,-6.5 0.8,-5.9 -0.8,-5.9 -2.2,-6.5 -3.2,-7.8 -3.5,-9.3 -3.2,-10.8 -2.2,-12.1 -0.8,-12.8 0.8,-12.8 2.2,-12.1 3.2,-10.8zM4.0,-5.3 2.7,4.0 5.3,12.0 4.0,13.3 1.3,13.3 0.0,6.7 -1.3,13.3 -4.0,13.3 -5.3,12.0 -2.7,4.0 -4.0,-5.3zM-2.0,-6.3 2.0,-6.3 2.0,-5.0 -2.0,-5.0zM4.0,-5.3 8.0,0.0 6.7,2.7 1.3,-4.0zM-1.3,-4.0 -6.7,2.7 -8.0,0.0 -4.0,-5.3z"/>
<path transform="translate(202.2 93.6)" fill="#54c4c4" stroke="#54c4c4" d="M3.5,-9.3 3.2,-7.8 2.2,-6.5 0.8,-5.9 -0.8,-5.9 -2.2,-6.5 -3.2,-7.8 -3.5,-9.3 -3.2,-10.8 -2.2,-12.1 -0.8,-12.8 0.8,-12.8 2.2,-12.1 3.2,-10.8zM4.0,-5.3 2.7,4.0 5.3,12.0 4.0,13.3 1.3,13.3 0.0,6.7 -1.3,13.3 -4.0,13.3 -5.3,12.0 -2.7,4.0 -4.0,-5.3zM-2.0,-6.3 2.0,-6.3 2.0,-5.0 -2.0,-5.0zM4.0,-5.3 8.0,0.0 6.7,2.7 1.3,-4.0zM-1.3,-4.0 -6.7,2.7 -8.0,0.0 -4.0,-5.3z"/>
<path transform="translate(205.2 109.6)" fill="#7c50a4" stroke="#7c50a4" d="M3.5,-9.3 3.2,-7.8 2.2,-6.5 0.8,-5.9 -0.8,-5.9 -2.2,-6.5 -3.2,-7.8 -3.5,-9.3 -3.2,-10.8 -2.2,-12.1 -0.8,-12.8 0.8,-12.8 2.2,-12.1 3.2,-10.8zM4.0,-5.3 2.7,4.0 5.3,12.0 4.0,13.3 1.3,13.3 0.0,6.7 -1.3,13.3 -4.0,13.3 -5.3,12.0 -2.7,4.0 -4.0,-5.3zM-2.0,-6.3 2.0,-6.3 2.0,-5.0 -2.0,-5.0zM4.0,-5.3 8.0,0.0 6.7,2.7 1.3,-4.0zM-1.3,-4.0 -6.7,2.7 -8.0,0.0 -4.0,-5.3z"/>
<path transform="translate(221.2 91.3)" fill="#ffffff" stroke="#ffffff" d="M3.5,-9.3 3.2,-7.8 2.2,-6.5 0.8,-5.9 -0.8,-5.9 -2.2,-6.5 -3.2,-7.8 -3.5,-9.3 -3.2,-10.8 -2.2,-12.1 -0.8,-12.8 0.8,-12.8 2.2,-12.1 3.2,-10.8zM4.0,-5.3 2.7,4.0 5.3,12.0 4.0,13.3 1.3,13.3 0.0,6.7 -1.3,13.3 -4.0,13.3 -5.3,12.0 -2.7,4.0 -4.0,-5.3zM-2.0,-6.3 2.0,-6.3 2.0,-5.0 -2.0,-5.0zM4.0,-5.3 8.0,0.0 6.7,2.7 1.3,-4.0zM-1.3,-4.0 -6.7,2.7 -8.0,0.0 -4.0,-5.3z"/>
<path transform="translate(228.5 105.5)" fill="#ffffff" stroke="#ffffff" d="M3.5,-9.3 3.2,-7.8 2.2,-6.5 0.8,-5.9 -0.8,-5.9 -2.2,-6.5 -3.2,-7.8 -3.5,-9.3 -3.2,-10.8 -2.2,-12.1 -0.8,-12.8 0.8,-12.8 2.2,-12.1 3.2,-10.8zM4.0,-5.3 2.7,4.0 5.3,12.0 4.0,13.3 1.3,13.3 0.0,6.7 -1.3,13.3 -4.0,13.3 -5.3,12.0 -2.7,4.0 -4.0,-5.3zM-2.0,-6.3 2.0,-6.3 2.0,-5.0 -2.0,-5.0zM4.0,-5.3 8.0,0.0 6.7,2.7 1.3,-4.0zM-1.3,-4.0 -6.7,2.7 -8.0,0.0 -4.0,-5.3z"/>
<path transform="translate(215.5 55.9)" fill="#ffffff" stroke="#ffffff" d="M3.5,-9.3 3.2,-7.8 2.2,-6.5 0.8,-5.9 -0.8,-5.9 -2.2,-6.5 -3.2,-7.8 -3.5,-9.3 -3.2,-10.8 -2.2,-12.1 -0.8,-12.8 0.8,-12.8 2.2,-12.1 3.2,-10.8zM4.0,-5.3 2.7,4.0 5.3,12.0 4.0,13.3 1.3,13.3 0.0,6.7 -1.3,13.3 -4.0,13.3 -5.3,12.0 -2.7,4.0 -4.0,-5.3zM-2.0,-6.3 2.0,-6.3 2.0,-5.0 -2.0,-5.0zM4.0,-5.3 8.0,0.0 6.7,2.7 1.3,-4.0zM-1.3,-4.0 -6.7,2.7 -8.0,0.0 -4.0,-5.3z"/>
<path transform="translate(231.5 57.5)" fill="#ffffff" stroke="#ffffff" d="M3.5,-9.3 3.2,-7.8 2.2,-6.5 0.8,-5.9 -0.8,-5.9 -2.2,-6.5 -3.2,-7.8 -3.5,-9.3 -3.2,-10.8 -2.2,-12.1 -0.8,-12.8 0.8,-12.8 2.2,-12.1 3.2,-10.8zM4.0,-5.3 2.7,4.0 5.3,12.0 4.0,13.3 1.3,13.3 0.0,6.7 -1.3,13.3 -4.0,13.3 -5.3,12.0 -2.7,4.0 -4.0,-5.3zM-2.0,-6.3 2.0,-6.3 2.0,-5.0 -2.0,-5.0zM4.0,-5.3 8.0,0.0 6.7,2.7 1.3,-4.0zM-1.3,-4.0 -6.7,2.7 -8.0,0.0 -4.0,-5.3z"/>
<path transform="translate(251.4 66.6)" fill="#ffffff" stroke="#ffffff" d="M3.5,-9.3 3.2,-7.8 2.2,-6.5 0.8,-5.9 -0.8,-5.9 -2.2,-6.5 -3.2,-7.8 -3.5,-9.3 -3.2,-10.8 -2.2,-12.1 -0.8,-12.8 0.8,-12.8 2.2,-12.1 3.2,-10.8zM4.0,-5.3 2.7,4.0 5.3,12.0 4.0,13.3 1.3,13.3 0.0,6.7 -1.3,13.3 -4.0,13.3 -5.3,12.0 -2.7,4.0 -4.0,-5.3zM-2.0,-6.3 2.0,-6.3 2.0,-5.0 -2.0,-5.0zM4.0,-5.3 8.0,0.0 6.7,2.7 1.3,-4.0zM-1.3,-4.0 -6.7,2.7 -8.0,0.0 -4.0,-5.3z"/>
<path transform="translate(253.9 82.6)" fill="#ffffff" stroke="#ffffff" d="M3.5,-9.3 3.2,-7.8 2.2,-6.5 0.8,-5.9 -0.8,-5.9 -2.2,-6.5 -3.2,-7.8 -3.5,-9.3 -3.2,-10.8 -2.2,-12.1 -0.8,-12.8 0.8,-12.8 2.2,-12.1 3.2,-10.8zM4.0,-5.3 2.7,4.0 5.3,12.0 4.0,13.3 1.3,13.3 0.0,6.7 -1.3,13.3 -4.0,13.3 -5.3,12.0 -2.7,4.0 -4.0,-5.3zM-2.0,-6.3 2.0,-6.3 2.0,-5.0 -2.0,-5.0zM4.0,-5.3 8.0,0.0 6.7,2.7 1.3,-4.0zM-1.3,-4.0 -6.7,2.7 -8.0,0.0 -4.0,-5.3z"/>
<path transform="translate(253.2 101.6)" fill="#54c4c4" stroke="#54c4c4" d="M3.5,-9.3 3.2,-7.8 2.2,-6.5 0.8,-5.9 -0.8,-5.9 -2.2,-6.5 -3.2,-7.8 -3.5,-9.3 -3.2,-10.8 -2.2,-12.1 -0.8,-12.8 0.8,-12.8 2.2,-12.1 3.2,-10.8zM4.0,-5.3 2.7,4.0 5.3,12.0 4.0,13.3 1.3,13.3 0.0,6.7 -1.3,13.3 -4.0,13.3 -5.3,12.0 -2.7,4.0 -4.0,-5.3zM-2.0,-6.3 2.0,-6.3 2.0,-5.0 -2.0,-5.0zM4.0,-5.3 8.0,0.0 6.7,2.7 1.3,-4.0zM-1.3,-4.0 -6.7,2.7 -8.0,0.0 -4.0,-5.3z"/>
<path transform="translate(240.0 123.8)" fill="#ffffff" stroke="#ffffff" d="M3.5,-9.3 3.2,-7.8 2.2,-6.5 0.8,-5.9 -0.8,-5.9 -2.2,-6.5 -3.2,-7.8 -3.5,-9.3 -3.2,-10.8 -2.2,-12.1 -0.8,-12.8 0.8,-12.8 2.2,-12.1 3.2,-10.8zM4.0,-5.3 2.7,4.0 5.3,12.0 4.0,13.3 1.3,13.3 0.0,6.7 -1.3,13.3 -4.0,13.3 -5.3,12.0 -2.7,4.0 -4.0,-5.3zM-2.0,-6.3 2.0,-6.3 2.0,-5.0 -2.0,-5.0zM4.0,-5.3 8.0,0.0 6.7,2.7 1.3,-4.0zM-1.3,-4.0 -6.7,2.7 -8.0,0.0 -4.0,-5.3z"/>
<path transform="translate(268.8 20.4)" fill="#54c4c4" stroke="#54c4c4" d="M3.5,-9.3 3.2,-7.8 2.2,-6.5 0.8,-5.9 -0.8,-5.9 -2.2,-6.5 -3.2,-7.8 -3.5,-9.3 -3.2,-10.8 -2.2,-12.1 -0.8,-12.8 0.8,-12.8 2.2,-12.1 3.2,-10.8zM4.0,-5.3 2.7,4.0 5.3,12.0 4.0,13.3 1.3,13.3 0.0,6.7 -1.3,13.3 -4.0,13.3 -5.3,12.0 -2.7,4.0 -4.0,-5.3zM-2.0,-6.3 2.0,-6.3 2.0,-5.0 -2.0,-5.0zM4.0,-5.3 8.0,0.0 6.7,2.7 1.3,-4.0zM-1.3,-4.0 -6.7,2.7 -8.0,0.0 -4.0,-5.3z"/>
<path transform="translate(311.1 23.1)" fill="#ffffff" stroke="#ffffff" d="M3.5,-9.3 3.2,-7.8 2.2,-6.5 0.8,-5.9 -0.8,-5.9 -2.2,-6.5 -3.2,-7.8 -3.5,-9.3 -3.2,-10.8 -2.2,-12.1 -0.8,-12.8 0.8,-12.8 2.2,-12.1 3.2,-10.8zM4.0,-5.3 2.7,4.0 5.3,12.0 4.0,13.3 1.3,13.3 0.0,6.7 -1.3,13.3 -4.0,13.3 -5.3,12.0 -2.7,4.0 -4.0,-5.3zM-2.0,-6.3 2.0,-6.3 2.0,-5.0 -2.0,-5.0zM4.0,-5.3 8.0,0.0 6.7,2.7 1.3,-4.0zM-1.3,-4.0 -6.7,2.7 -8.0,0.0 -4.0,-5.3z"/>
<path transform="translate(302.2 18.1)" fill="#f16a15" stroke="#f16a15" d="M12.0,-4.5 12.3,-3.1 14.7,-2.3 14.9,-1.6 14.3,-1.0 12.7,-0.9 13.4,0.1 10.9,-0.5 9.2,-0.6 7.7,1.4 6.0,3.4 4.2,4.8 4.5,8.0 5.7,10.8 6.9,11.2 6.7,12.1 5.0,12.1 4.8,11.0 3.6,9.0 2.8,9.7 1.9,11.4 0.4,11.5 1.0,9.8 1.7,10.1 2.3,8.8 2.2,6.3 1.6,6.0 1.0,4.5 -0.7,5.2 -3.1,5.1 -5.2,4.6 -5.0,5.7 -7.1,8.1 -7.3,8.9 -4.7,11.1 -5.0,11.7 -6.6,11.8 -6.8,11.1 -8.5,9.3 -8.4,7.8 -7.5,5.9 -8.2,4.8 -9.0,5.6 -11.9,8.0 -11.9,10.3 -11.0,11.0 -11.2,11.6 -12.3,11.5 -13.0,10.7 -13.0,7.6 -11.2,5.5 -11.2,4.3 -12.0,4.1 -13.7,4.7 -14.8,4.4zM-15.1,4.5 -13.6,3.0 -11.4,1.6 -11.0,0.3 -9.7,-1.0 -6.8,-1.9 -1.6,-1.7 0.9,-2.4 3.8,-3.5 7.7,-4.2 8.6,-4.8 8.8,-5.2 11.8,-6.4 11.9,-5.8 13.1,-6.3 11.9,-4.7 11.9,-3.7z"/>
<path transform="translate(328.8 -8.7)" fill="#ffffff" stroke="#ffffff" d="M3.5,-9.3 3.2,-7.8 2.2,-6.5 0.8,-5.9 -0.8,-5.9 -2.2,-6.5 -3.2,-7.8 -3.5,-9.3 -3.2,-10.8 -2.2,-12.1 -0.8,-12.8 0.8,-12.8 2.2,-12.1 3.2,-10.8zM4.0,-5.3 2.7,4.0 5.3,12.0 4.0,13.3 1.3,13.3 0.0,6.7 -1.3,13.3 -4.0,13.3 -5.3,12.0 -2.7,4.0 -4.0,-5.3zM-2.0,-6.3 2.0,-6.3 2.0,-5.0 -2.0,-5.0zM4.0,-5.3 8.0,0.0 6.7,2.7 1.3,-4.0zM-1.3,-4.0 -6.7,2.7 -8.0,0.0 -4.0,-5.3z"/>
<path transform="translate(346.6 14.7)" fill="#ffffff" stroke="#ffffff" d="M3.5,-9.3 3.2,-7.8 2.2,-6.5 0.8,-5.9 -0.8,-5.9 -2.2,-6.5 -3.2,-7.8 -3.5,-9.3 -3.2,-10.8 -2.2,-12.1 -0.8,-12.8 0.8,-12.8 2.2,-12.1 3.2,-10.8zM4.0,-5.3 2.7,4.0 5.3,12.0 4.0,13.3 1.3,13.3 0.0,6.7 -1.3,13.3 -4.0,13.3 -5.3,12.0 -2.7,4.0 -4.0,-5.3zM-2.0,-6.3 2.0,-6.3 2.0,-5.0 -2.0,-5.0zM4.0,-5.3 8.0,0.0 6.7,2.7 1.3,-4.0zM-1.3,-4.0 -6.7,2.7 -8.0,0.0 -4.0,-5.3z"/>
<path transform="translate(355.8 21.5)" fill="#ffffff" stroke="#ffffff" d="M3.5,-9.3 3.2,-7.8 2.2,-6.5 0.8,-5.9 -0.8,-5.9 -2.2,-6.5 -3.2,-7.8 -3.5,-9.3 -3.2,-10.8 -2.2,-12.1 -0.8,-12.8 0.8,-12.8 2.2,-12.1 3.2,-10.8zM4.0,-5.3 2.7,4.0 5.3,12.0 4.0,13.3 1.3,13.3 0.0,6.7 -1.3,13.3 -4.0,13.3 -5.3,12.0 -2.7,4.0 -4.0,-5.3zM-2.0,-6.3 2.0,-6.3 2.0,-5.0 -2.0,-5.0zM4.0,-5.3 8.0,0.0 6.7,2.7 1.3,-4.0zM-1.3,-4.0 -6.7,2.7 -8.0,0.0 -4.0,-5.3z"/>
<path transform="translate(343.2 39.8)" fill="#ffffff" stroke="#ffffff" d="M3.5,-9.3 3.2,-7.8 2.2,-6.5 0.8,-5.9 -0.8,-5.9 -2.2,-6.5 -3.2,-7.8 -3.5,-9.3 -3.2,-10.8 -2.2,-12.1 -0.8,-12.8 0.8,-12.8 2.2,-12.1 3.2,-10.8zM4.0,-5.3 2.7,4.0 5.3,12.0 4.0,13.3 1.3,13.3 0.0,6.7 -1.3,13.3 -4.0,13.3 -5.3,12.0 -2.7,4.0 -4.0,-5.3zM-2.0,-6.3 2.0,-6.3 2.0,-5.0 -2.0,-5.0zM4.0,-5.3 8.0,0.0 6.7,2.7 1.3,-4.0zM-1.3,-4.0 -6.7,2.7 -8.0,0.0 -4.0,-5.3z"/>
<path transform="translate(345.5 30.7)" fill="#54c4c4" stroke="#54c4c4" d="M3.5,-9.3 3.2,-7.8 2.2,-6.5 0.8,-5.9 -0.8,-5.9 -2.2,-6.5 -3.2,-7.8 -3.5,-9.3 -3.2,-10.8 -2.2,-12.1 -0.8,-12.8 0.8,-12.8 2.2,-12.1 3.2,-10.8zM4.0,-5.3 2.7,4.0 5.3,12.0 4.0,13.3 1.3,13.3 0.0,6.7 -1.3,13.3 -4.0,13.3 -5.3,12.0 -2.7,4.0 -4.0,-5.3zM-2.0,-6.3 2.0,-6.3 2.0,-5.0 -2.0,-5.0zM4.0,-5.3 8.0,0.0 6.7,2.7 1.3,-4.0zM-1.3,-4.0 -6.7,2.7 -8.0,0.0 -4.0,-5.3z"/>
<path transform="translate(335.2 54.7)" fill="#54c4c4" stroke="#54c4c4" d="M3.5,-9.3 3.2,-7.8 2.2,-6.5 0.8,-5.9 -0.8,-5.9 -2.2,-6.5 -3.2,-7.8 -3.5,-9.3 -3.2,-10.8 -2.2,-12.1 -0.8,-12.8 0.8,-12.8 2.2,-12.1 3.2,-10.8zM4.0,-5.3 2.7,4.0 5.3,12.0 4.0,13.3 1.3,13.3 0.0,6.7 -1.3,13.3 -4.0,13.3 -5.3,12.0 -2.7,4.0 -4.0,-5.3zM-2.0,-6.3 2.0,-6.3 2.0,-5.0 -2.0,-5.0zM4.0,-5.3 8.0,0.0 6.7,2.7 1.3,-4.0zM-1.3,-4.0 -6.7,2.7 -8.0,0.0 -4.0,-5.3z"/>
<path transform="translate(387.1 19.2)" fill="#ffffff" stroke="#ffffff" d="M3.5,-9.3 3.2,-7.8 2.2,-6.5 0.8,-5.9 -0.8,-5.9 -2.2,-6.5 -3.2,-7.8 -3.5,-9.3 -3.2,-10.8 -2.2,-12.1 -0.8,-12.8 0.8,-12.8 2.2,-12.1 3.2,-10.8zM4.0,-5.3 2.7,4.0 5.3,12.0 4.0,13.3 1.3,13.3 0.0,6.7 -1.3,13.3 -4.0,13.3 -5.3,12.0 -2.7,4.0 -4.0,-5.3zM-2.0,-6.3 2.0,-6.3 2.0,-5.0 -2.0,-5.0zM4.0,-5.3 8.0,0.0 6.7,2.7 1.3,-4.0zM-1.3,-4.0 -6.7,2.7 -8.0,0.0 -4.0,-5.3z"/>
<path transform="translate(309.3 69.8)" fill="#7c50a4" stroke="#7c50a4" d="M3.5,-9.3 3.2,-7.8 2.2,-6.5 0.8,-5.9 -0.8,-5.9 -2.2,-6.5 -3.2,-7.8 -3.5,-9.3 -3.2,-10.8 -2.2,-12.1 -0.8,-12.8 0.8,-12.8 2.2,-12.1 3.2,-10.8zM4.0,-5.3 2.7,4.0 5.3,12.0 4.0,13.3 1.3,13.3 0.0,6.7 -1.3,13.3 -4.0,13.3 -5.3,12.0 -2.7,4.0 -4.0,-5.3zM-2.0,-6.3 2.0,-6.3 2.0,-5.0 -2.0,-5.0zM4.0,-5.3 8.0,0.0 6.7,2.7 1.3,-4.0zM-1.3,-4.0 -6.7,2.7 -8.0,0.0 -4.0,-5.3z"/>
<path transform="translate(328.3 74.2)" fill="#ffffff" stroke="#ffffff" d="M3.5,-9.3 3.2,-7.8 2.2,-6.5 0.8,-5.9 -0.8,-5.9 -2.2,-6.5 -3.2,-7.8 -3.5,-9.3 -3.2,-10.8 -2.2,-12.1 -0.8,-12.8 0.8,-12.8 2.2,-12.1 3.2,-10.8zM4.0,-5.3 2.7,4.0 5.3,12.0 4.0,13.3 1.3,13.3 0.0,6.7 -1.3,13.3 -4.0,13.3 -5.3,12.0 -2.7,4.0 -4.0,-5.3zM-2.0,-6.3 2.0,-6.3 2.0,-5.0 -2.0,-5.0zM4.0,-5.3 8.0,0.0 6.7,2.7 1.3,-4.0zM-1.3,-4.0 -6.7,2.7 -8.0,0.0 -4.0,-5.3z"/>
<path transform="translate(331.7 75.3)" fill="#f16a15" stroke="#f16a15" d="M12.0,-4.5 12.3,-3.1 14.7,-2.3 14.9,-1.6 14.3,-1.0 12.7,-0.9 13.4,0.1 10.9,-0.5 9.2,-0.6 7.7,1.4 6.0,3.4 4.2,4.8 4.5,8.0 5.7,10.8 6.9,11.2 6.7,12.1 5.0,12.1 4.8,11.0 3.6,9.0 2.8,9.7 1.9,11.4 0.4,11.5 1.0,9.8 1.7,10.1 2.3,8.8 2.2,6.3 1.6,6.0 1.0,4.5 -0.7,5.2 -3.1,5.1 -5.2,4.6 -5.0,5.7 -7.1,8.1 -7.3,8.9 -4.7,11.1 -5.0,11.7 -6.6,11.8 -6.8,11.1 -8.5,9.3 -8.4,7.8 -7.5,5.9 -8.2,4.8 -9.0,5.6 -11.9,8.0 -11.9,10.3 -11.0,11.0 -11.2,11.6 -12.3,11.5 -13.0,10.7 -13.0,7.6 -11.2,5.5 -11.2,4.3 -12.0,4.1 -13.7,4.7 -14.8,4.4zM-15.1,4.5 -13.6,3.0 -11.4,1.6 -11.0,0.3 -9.7,-1.0 -6.8,-1.9 -1.6,-1.7 0.9,-2.4 3.8,-3.5 7.7,-4.2 8.6,-4.8 8.8,-5.2 11.8,-6.4 11.9,-5.8 13.1,-6.3 11.9,-4.7 11.9,-3.7z"/>
<path transform="translate(273.8 76.5)" fill="#54c4c4" stroke="#54c4c4" d="M3.5,-9.3 3.2,-7.8 2.2,-6.5 0.8,-5.9 -0.8,-5.9 -2.2,-6.5 -3.2,-7.8 -3.5,-9.3 -3.2,-10.8 -2.2,-12.1 -0.8,-12.8 0.8,-12.8 2.2,-12.1 3.2,-10.8zM4.0,-5.3 2.7,4.0 5.3,12.0 4.0,13.3 1.3,13.3 0.0,6.7 -1.3,13.3 -4.0,13.3 -5.3,12.0 -2.7,4.0 -4.0,-5.3zM-2.0,-6.3 2.0,-6.3 2.0,-5.0 -2.0,-5.0zM4.0,-5.3 8.0,0.0 6.7,2.7 1.3,-4.0zM-1.3,-4.0 -6.7,2.7 -8.0,0.0 -4.0,-5.3z"/>
<path transform="translate(352.3 68.5)" fill="#7c50a4" stroke="#7c50a4" d="M3.5,-9.3 3.2,-7.8 2.2,-6.5 0.8,-5.9 -0.8,-5.9 -2.2,-6.5 -3.2,-7.8 -3.5,-9.3 -3.2,-10.8 -2.2,-12.1 -0.8,-12.8 0.8,-12.8 2.2,-12.1 3.2,-10.8zM4.0,-5.3 2.7,4.0 5.3,12.0 4.0,13.3 1.3,13.3 0.0,6.7 -1.3,13.3 -4.0,13.3 -5.3,12.0 -2.7,4.0 -4.0,-5.3zM-2.0,-6.3 2.0,-6.3 2.0,-5.0 -2.0,-5.0zM4.0,-5.3 8.0,0.0 6.7,2.7 1.3,-4.0zM-1.3,-4.0 -6.7,2.7 -8.0,0.0 -4.0,-5.3z"/>
<path transform="translate(352.3 85.6)" fill="#ffffff" stroke="#ffffff" d="M3.5,-9.3 3.2,-7.8 2.2,-6.5 0.8,-5.9 -0.8,-5.9 -2.2,-6.5 -3.2,-7.8 -3.5,-9.3 -3.2,-10.8 -2.2,-12.1 -0.8,-12.8 0.8,-12.8 2.2,-12.1 3.2,-10.8zM4.0,-5.3 2.7,4.0 5.3,12.0 4.0,13.3 1.3,13.3 0.0,6.7 -1.3,13.3 -4.0,13.3 -5.3,12.0 -2.7,4.0 -4.0,-5.3zM-2.0,-6.3 2.0,-6.3 2.0,-5.0 -2.0,-5.0zM4.0,-5.3 8.0,0.0 6.7,2.7 1.3,-4.0zM-1.3,-4.0 -6.7,2.7 -8.0,0.0 -4.0,-5.3z"/>
<path transform="translate(350.0 73.7)" fill="#d73229" stroke="#d73229" d="M3.5,-9.3 3.2,-7.8 2.2,-6.5 0.8,-5.9 -0.8,-5.9 -2.2,-6.5 -3.2,-7.8 -3.5,-9.3 -3.2,-10.8 -2.2,-12.1 -0.8,-12.8 0.8,-12.8 2.2,-12.1 3.2,-10.8zM4.0,-5.3 2.7,4.0 5.3,12.0 4.0,13.3 1.3,13.3 0.0,6.7 -1.3,13.3 -4.0,13.3 -5.3,12.0 -2.7,4.0 -4.0,-5.3zM-2.0,-6.3 2.0,-6.3 2.0,-5.0 -2.0,-5.0zM4.0,-5.3 8.0,0.0 6.7,2.7 1.3,-4.0zM-1.3,-4.0 -6.7,2.7 -8.0,0.0 -4.0,-5.3z"/>
<path transform="translate(362.6 70.7)" fill="#ffffff" stroke="#ffffff" d="M3.5,-9.3 3.2,-7.8 2.2,-6.5 0.8,-5.9 -0.8,-5.9 -2.2,-6.5 -3.2,-7.8 -3.5,-9.3 -3.2,-10.8 -2.2,-12.1 -0.8,-12.8 0.8,-12.8 2.2,-12.1 3.2,-10.8zM4.0,-5.3 2.7,4.0 5.3,12.0 4.0,13.3 1.3,13.3 0.0,6.7 -1.3,13.3 -4.0,13.3 -5.3,12.0 -2.7,4.0 -4.0,-5.3zM-2.0,-6.3 2.0,-6.3 2.0,-5.0 -2.0,-5.0zM4.0,-5.3 8.0,0.0 6.7,2.7 1.3,-4.0zM-1.3,-4.0 -6.7,2.7 -8.0,0.0 -4.0,-5.3z"/>
<path transform="translate(372.2 79.4)" fill="#54c4c4" stroke="#54c4c4" d="M3.5,-9.3 3.2,-7.8 2.2,-6.5 0.8,-5.9 -0.8,-5.9 -2.2,-6.5 -3.2,-7.8 -3.5,-9.3 -3.2,-10.8 -2.2,-12.1 -0.8,-12.8 0.8,-12.8 2.2,-12.1 3.2,-10.8zM4.0,-5.3 2.7,4.0 5.3,12.0 4.0,13.3 1.3,13.3 0.0,6.7 -1.3,13.3 -4.0,13.3 -5.3,12.0 -2.7,4.0 -4.0,-5.3zM-2.0,-6.3 2.0,-6.3 2.0,-5.0 -2.0,-5.0zM4.0,-5.3 8.0,0.0 6.7,2.7 1.3,-4.0zM-1.3,-4.0 -6.7,2.7 -8.0,0.0 -4.0,-5.3z"/>
<path transform="translate(386.2 82.6)" fill="#ffffff" stroke="#ffffff" d="M3.5,-9.3 3.2,-7.8 2.2,-6.5 0.8,-5.9 -0.8,-5.9 -2.2,-6.5 -3.2,-7.8 -3.5,-9.3 -3.2,-10.8 -2.2,-12.1 -0.8,-12.8 0.8,-12.8 2.2,-12.1 3.2,-10.8zM4.0,-5.3 2.7,4.0 5.3,12.0 4.0,13.3 1.3,13.3 0.0,6.7 -1.3,13.3 -4.0,13.3 -5.3,12.0 -2.7,4.0 -4.0,-5.3zM-2.0,-6.3 2.0,-6.3 2.0,-5.0 -2.0,-5.0zM4.0,-5.3 8.0,0.0 6.7,2.7 1.3,-4.0zM-1.3,-4.0 -6.7,2.7 -8.0,0.0 -4.0,-5.3z"/>
<path transform="translate(377.1 104.6)" fill="#d73229" stroke="#d73229" d="M3.5,-9.3 3.2,-7.8 2.2,-6.5 0.8,-5.9 -0.8,-5.9 -2.2,-6.5 -3.2,-7.8 -3.5,-9.3 -3.2,-10.8 -2.2,-12.1 -0.8,-12.8 0.8,-12.8 2.2,-12.1 3.2,-10.8zM4.0,-5.3 2.7,4.0 5.3,12.0 4.0,13.3 1.3,13.3 0.0,6.7 -1.3,13.3 -4.0,13.3 -5.3,12.0 -2.7,4.0 -4.0,-5.3zM-2.0,-6.3 2.0,-6.3 2.0,-5.0 -2.0,-5.0zM4.0,-5.3 8.0,0.0 6.7,2.7 1.3,-4.0zM-1.3,-4.0 -6.7,2.7 -8.0,0.0 -4.0,-5.3z"/>
<path transform="translate(364.5 112.4)" fill="#ffffff" stroke="#ffffff" d="M3.5,-9.3 3.2,-7.8 2.2,-6.5 0.8,-5.9 -0.8,-5.9 -2.2,-6.5 -3.2,-7.8 -3.5,-9.3 -3.2,-10.8 -2.2,-12.1 -0.8,-12.8 0.8,-12.8 2.2,-12.1 3.2,-10.8zM4.0,-5.3 2.7,4.0 5.3,12.0 4.0,13.3 1.3,13.3 0.0,6.7 -1.3,13.3 -4.0,13.3 -5.3,12.0 -2.7,4.0 -4.0,-5.3zM-2.0,-6.3 2.0,-6.3 2.0,-5.0 -2.0,-5.0zM4.0,-5.3 8.0,0.0 6.7,2.7 1.3,-4.0zM-1.3,-4.0 -6.7,2.7 -8.0,0.0 -4.0,-5.3z"/>
<path transform="translate(352.8 118.3)" fill="#54c4c4" stroke="#54c4c4" d="M3.5,-9.3 3.2,-7.8 2.2,-6.5 0.8,-5.9 -0.8,-5.9 -2.2,-6.5 -3.2,-7.8 -3.5,-9.3 -3.2,-10.8 -2.2,-12.1 -0.8,-12.8 0.8,-12.8 2.2,-12.1 3.2,-10.8zM4.0,-5.3 2.7,4.0 5.3,12.0 4.0,13.3 1.3,13.3 0.0,6.7 -1.3,13.3 -4.0,13.3 -5.3,12.0 -2.7,4.0 -4.0,-5.3zM-2.0,-6.3 2.0,-6.3 2.0,-5.0 -2.0,-5.0zM4.0,-5.3 8.0,0.0 6.7,2.7 1.3,-4.0zM-1.3,-4.0 -6.7,2.7 -8.0,0.0 -4.0,-5.3z"/>
<path transform="translate(317.5 103.2)" fill="#54c4c4" stroke="#54c4c4" d="M3.5,-9.3 3.2,-7.8 2.2,-6.5 0.8,-5.9 -0.8,-5.9 -2.2,-6.5 -3.2,-7.8 -3.5,-9.3 -3.2,-10.8 -2.2,-12.1 -0.8,-12.8 0.8,-12.8 2.2,-12.1 3.2,-10.8zM4.0,-5.3 2.7,4.0 5.3,12.0 4.0,13.3 1.3,13.3 0.0,6.7 -1.3,13.3 -4.0,13.3 -5.3,12.0 -2.7,4.0 -4.0,-5.3zM-2.0,-6.3 2.0,-6.3 2.0,-5.0 -2.0,-5.0zM4.0,-5.3 8.0,0.0 6.7,2.7 1.3,-4.0zM-1.3,-4.0 -6.7,2.7 -8.0,0.0 -4.0,-5.3z"/>
<path transform="translate(318.5 111.2)" fill="#7c50a4" stroke="#7c50a4" d="M3.5,-9.3 3.2,-7.8 2.2,-6.5 0.8,-5.9 -0.8,-5.9 -2.2,-6.5 -3.2,-7.8 -3.5,-9.3 -3.2,-10.8 -2.2,-12.1 -0.8,-12.8 0.8,-12.8 2.2,-12.1 3.2,-10.8zM4.0,-5.3 2.7,4.0 5.3,12.0 4.0,13.3 1.3,13.3 0.0,6.7 -1.3,13.3 -4.0,13.3 -5.3,12.0 -2.7,4.0 -4.0,-5.3zM-2.0,-6.3 2.0,-6.3 2.0,-5.0 -2.0,-5.0zM4.0,-5.3 8.0,0.0 6.7,2.7 1.3,-4.0zM-1.3,-4.0 -6.7,2.7 -8.0,0.0 -4.0,-5.3z"/>
<path transform="translate(267.0 100.0)" fill="#7c50a4" stroke="#7c50a4" d="M3.5,-9.3 3.2,-7.8 2.2,-6.5 0.8,-5.9 -0.8,-5.9 -2.2,-6.5 -3.2,-7.8 -3.5,-9.3 -3.2,-10.8 -2.2,-12.1 -0.8,-12.8 0.8,-12.8 2.2,-12.1 3.2,-10.8zM4.0,-5.3 2.7,4.0 5.3,12.0 4.0,13.3 1.3,13.3 0.0,6.7 -1.3,13.3 -4.0,13.3 -5.3,12.0 -2.7,4.0 -4.0,-5.3zM-2.0,-6.3 2.0,-6.3 2.0,-5.0 -2.0,-5.0zM4.0,-5.3 8.0,0.0 6.7,2.7 1.3,-4.0zM-1.3,-4.0 -6.7,2.7 -8.0,0.0 -4.0,-5.3z"/>
<path transform="translate(271.1 108.0)" fill="#a71b6a" stroke="#a71b6a" d="M12.0,-4.5 12.3,-3.1 14.7,-2.3 14.9,-1.6 14.3,-1.0 12.7,-0.9 13.4,0.1 10.9,-0.5 9.2,-0.6 7.7,1.4 6.0,3.4 4.2,4.8 4.5,8.0 5.7,10.8 6.9,11.2 6.7,12.1 5.0,12.1 4.8,11.0 3.6,9.0 2.8,9.7 1.9,11.4 0.4,11.5 1.0,9.8 1.7,10.1 2.3,8.8 2.2,6.3 1.6,6.0 1.0,4.5 -0.7,5.2 -3.1,5.1 -5.2,4.6 -5.0,5.7 -7.1,8.1 -7.3,8.9 -4.7,11.1 -5.0,11.7 -6.6,11.8 -6.8,11.1 -8.5,9.3 -8.4,7.8 -7.5,5.9 -8.2,4.8 -9.0,5.6 -11.9,8.0 -11.9,10.3 -11.0,11.0 -11.2,11.6 -12.3,11.5 -13.0,10.7 -13.0,7.6 -11.2,5.5 -11.2,4.3 -12.0,4.1 -13.7,4.7 -14.8,4.4zM-15.1,4.5 -13.6,3.0 -11.4,1.6 -11.0,0.3 -9.7,-1.0 -6.8,-1.9 -1.6,-1.7 0.9,-2.4 3.8,-3.5 7.7,-4.2 8.6,-4.8 8.8,-5.2 11.8,-6.4 11.9,-5.8 13.1,-6.3 11.9,-4.7 11.9,-3.7z"/>
<path transform="translate(264.2 125.2)" fill="#ffffff" stroke="#ffffff" d="M3.5,-9.3 3.2,-7.8 2.2,-6.5 0.8,-5.9 -0.8,-5.9 -2.2,-6.5 -3.2,-7.8 -3.5,-9.3 -3.2,-10.8 -2.2,-12.1 -0.8,-12.8 0.8,-12.8 2.2,-12.1 3.2,-10.8zM4.0,-5.3 2.7,4.0 5.3,12.0 4.0,13.3 1.3,13.3 0.0,6.7 -1.3,13.3 -4.0,13.3 -5.3,12.0 -2.7,4.0 -4.0,-5.3zM-2.0,-6.3 2.0,-6.3 2.0,-5.0 -2.0,-5.0zM4.0,-5.3 8.0,0.0 6.7,2.7 1.3,-4.0zM-1.3,-4.0 -6.7,2.7 -8.0,0.0 -4.0,-5.3z"/>
<path transform="translate(283.2 129.1)" fill="#ffffff" stroke="#ffffff" d="M3.5,-9.3 3.2,-7.8 2.2,-6.5 0.8,-5.9 -0.8,-5.9 -2.2,-6.5 -3.2,-7.8 -3.5,-9.3 -3.2,-10.8 -2.2,-12.1 -0.8,-12.8 0.8,-12.8 2.2,-12.1 3.2,-10.8zM4.0,-5.3 2.7,4.0 5.3,12.0 4.0,13.3 1.3,13.3 0.0,6.7 -1.3,13.3 -4.0,13.3 -5.3,12.0 -2.7,4.0 -4.0,-5.3zM-2.0,-6.3 2.0,-6.3 2.0,-5.0 -2.0,-5.0zM4.0,-5.3 8.0,0.0 6.7,2.7 1.3,-4.0zM-1.3,-4.0 -6.7,2.7 -8.0,0.0 -4.0,-5.3z"/>
<path transform="translate(295.6 134.8)" fill="#ffffff" stroke="#ffffff" d="M3.5,-9.3 3.2,-7.8 2.2,-6.5 0.8,-5.9 -0.8,-5.9 -2.2,-6.5 -3.2,-7.8 -3.5,-9.3 -3.2,-10.8 -2.2,-12.1 -0.8,-12.8 0.8,-12.8 2.2,-12.1 3.2,-10.8zM4.0,-5.3 2.7,4.0 5.3,12.0 4.0,13.3 1.3,13.3 0.0,6.7 -1.3,13.3 -4.0,13.3 -5.3,12.0 -2.7,4.0 -4.0,-5.3zM-2.0,-6.3 2.0,-6.3 2.0,-5.0 -2.0,-5.0zM4.0,-5.3 8.0,0.0 6.7,2.7 1.3,-4.0zM-1.3,-4.0 -6.7,2.7 -8.0,0.0 -4.0,-5.3z"/>
<path transform="translate(337.5 138.3)" fill="#54c4c4" stroke="#54c4c4" d="M3.5,-9.3 3.2,-7.8 2.2,-6.5 0.8,-5.9 -0.8,-5.9 -2.2,-6.5 -3.2,-7.8 -3.5,-9.3 -3.2,-10.8 -2.2,-12.1 -0.8,-12.8 0.8,-12.8 2.2,-12.1 3.2,-10.8zM4.0,-5.3 2.7,4.0 5.3,12.0 4.0,13.3 1.3,13.3 0.0,6.7 -1.3,13.3 -4.0,13.3 -5.3,12.0 -2.7,4.0 -4.0,-5.3zM-2.0,-6.3 2.0,-6.3 2.0,-5.0 -2.0,-5.0zM4.0,-5.3 8.0,0.0 6.7,2.7 1.3,-4.0zM-1.3,-4.0 -6.7,2.7 -8.0,0.0 -4.0,-5.3z"/>
<path transform="translate(372.9 0.2)" fill="#54c4c4" stroke="#54c4c4" d="M3.5,-9.3 3.2,-7.8 2.2,-6.5 0.8,-5.9 -0.8,-5.9 -2.2,-6.5 -3.2,-7.8 -3.5,-9.3 -3.2,-10.8 -2.2,-12.1 -0.8,-12.8 0.8,-12.8 2.2,-12.1 3.2,-10.8zM4.0,-5.3 2.7,4.0 5.3,12.0 4.0,13.3 1.3,13.3 0.0,6.7 -1.3,13.3 -4.0,13.3 -5.3,12.0 -2.7,4.0 -4.0,-5.3zM-2.0,-6.3 2.0,-6.3 2.0,-5.0 -2.0,-5.0zM4.0,-5.3 8.0,0.0 6.7,2.7 1.3,-4.0zM-1.3,-4.0 -6.7,2.7 -8.0,0.0 -4.0,-5.3z"/>
<path transform="translate(382.8 -0.7)" fill="#f16a15" stroke="#f16a15" d="M12.0,-4.5 12.3,-3.1 14.7,-2.3 14.9,-1.6 14.3,-1.0 12.7,-0.9 13.4,0.1 10.9,-0.5 9.2,-0.6 7.7,1.4 6.0,3.4 4.2,4.8 4.5,8.0 5.7,10.8 6.9,11.2 6.7,12.1 5.0,12.1 4.8,11.0 3.6,9.0 2.8,9.7 1.9,11.4 0.4,11.5 1.0,9.8 1.7,10.1 2.3,8.8 2.2,6.3 1.6,6.0 1.0,4.5 -0.7,5.2 -3.1,5.1 -5.2,4.6 -5.0,5.7 -7.1,8.1 -7.3,8.9 -4.7,11.1 -5.0,11.7 -6.6,11.8 -6.8,11.1 -8.5,9.3 -8.4,7.8 -7.5,5.9 -8.2,4.8 -9.0,5.6 -11.9,8.0 -11.9,10.3 -11.0,11.0 -11.2,11.6 -12.3,11.5 -13.0,10.7 -13.0,7.6 -11.2,5.5 -11.2,4.3 -12.0,4.1 -13.7,4.7 -14.8,4.4zM-15.1,4.5 -13.6,3.0 -11.4,1.6 -11.0,0.3 -9.7,-1.0 -6.8,-1.9 -1.6,-1.7 0.9,-2.4 3.8,-3.5 7.7,-4.2 8.6,-4.8 8.8,-5.2 11.8,-6.4 11.9,-5.8 13.1,-6.3 11.9,-4.7 11.9,-3.7z"/>
<path transform="translate(390.3 18.6)" fill="#ffffff" stroke="#ffffff" d="M3.5,-9.3 3.2,-7.8 2.2,-6.5 0.8,-5.9 -0.8,-5.9 -2.2,-6.5 -3.2,-7.8 -3.5,-9.3 -3.2,-10.8 -2.2,-12.1 -0.8,-12.8 0.8,-12.8 2.2,-12.1 3.2,-10.8zM4.0,-5.3 2.7,4.0 5.3,12.0 4.0,13.3 1.3,13.3 0.0,6.7 -1.3,13.3 -4.0,13.3 -5.3,12.0 -2.7,4.0 -4.0,-5.3zM-2.0,-6.3 2.0,-6.3 2.0,-5.0 -2.0,-5.0zM4.0,-5.3 8.0,0.0 6.7,2.7 1.3,-4.0zM-1.3,-4.0 -6.7,2.7 -8.0,0.0 -4.0,-5.3z"/>
<path transform="translate(412.5 1.6)" fill="#54c4c4" stroke="#54c4c4" d="M3.5,-9.3 3.2,-7.8 2.2,-6.5 0.8,-5.9 -0.8,-5.9 -2.2,-6.5 -3.2,-7.8 -3.5,-9.3 -3.2,-10.8 -2.2,-12.1 -0.8,-12.8 0.8,-12.8 2.2,-12.1 3.2,-10.8zM4.0,-5.3 2.7,4.0 5.3,12.0 4.0,13.3 1.3,13.3 0.0,6.7 -1.3,13.3 -4.0,13.3 -5.3,12.0 -2.7,4.0 -4.0,-5.3zM-2.0,-6.3 2.0,-6.3 2.0,-5.0 -2.0,-5.0zM4.0,-5.3 8.0,0.0 6.7,2.7 1.3,-4.0zM-1.3,-4.0 -6.7,2.7 -8.0,0.0 -4.0,-5.3z"/>
<path transform="translate(422.4 11.7)" fill="#ffffff" stroke="#ffffff" d="M3.5,-9.3 3.2,-7.8 2.2,-6.5 0.8,-5.9 -0.8,-5.9 -2.2,-6.5 -3.2,-7.8 -3.5,-9.3 -3.2,-10.8 -2.2,-12.1 -0.8,-12.8 0.8,-12.8 2.2,-12.1 3.2,-10.8zM4.0,-5.3 2.7,4.0 5.3,12.0 4.0,13.3 1.3,13.3 0.0,6.7 -1.3,13.3 -4.0,13.3 -5.3,12.0 -2.7,4.0 -4.0,-5.3zM-2.0,-6.3 2.0,-6.3 2.0,-5.0 -2.0,-5.0zM4.0,-5.3 8.0,0.0 6.7,2.7 1.3,-4.0zM-1.3,-4.0 -6.7,2.7 -8.0,0.0 -4.0,-5.3z"/>
<path transform="translate(432.0 10.1)" fill="#d73229" stroke="#d73229" d="M3.5,-9.3 3.2,-7.8 2.2,-6.5 0.8,-5.9 -0.8,-5.9 -2.2,-6.5 -3.2,-7.8 -3.5,-9.3 -3.2,-10.8 -2.2,-12.1 -0.8,-12.8 0.8,-12.8 2.2,-12.1 3.2,-10.8zM4.0,-5.3 2.7,4.0 5.3,12.0 4.0,13.3 1.3,13.3 0.0,6.7 -1.3,13.3 -4.0,13.3 -5.3,12.0 -2.7,4.0 -4.0,-5.3zM-2.0,-6.3 2.0,-6.3 2.0,-5.0 -2.0,-5.0zM4.0,-5.3 8.0,0.0 6.7,2.7 1.3,-4.0zM-1.3,-4.0 -6.7,2.7 -8.0,0.0 -4.0,-5.3z"/>
<path transform="translate(434.3 26.1)" fill="#ffffff" stroke="#ffffff" d="M3.5,-9.3 3.2,-7.8 2.2,-6.5 0.8,-5.9 -0.8,-5.9 -2.2,-6.5 -3.2,-7.8 -3.5,-9.3 -3.2,-10.8 -2.2,-12.1 -0.8,-12.8 0.8,-12.8 2.2,-12.1 3.2,-10.8zM4.0,-5.3 2.7,4.0 5.3,12.0 4.0,13.3 1.3,13.3 0.0,6.7 -1.3,13.3 -4.0,13.3 -5.3,12.0 -2.7,4.0 -4.0,-5.3zM-2.0,-6.3 2.0,-6.3 2.0,-5.0 -2.0,-5.0zM4.0,-5.3 8.0,0.0 6.7,2.7 1.3,-4.0zM-1.3,-4.0 -6.7,2.7 -8.0,0.0 -4.0,-5.3z"/>
<path transform="translate(442.3 15.4)" fill="#7c50a4" stroke="#7c50a4" d="M3.5,-9.3 3.2,-7.8 2.2,-6.5 0.8,-5.9 -0.8,-5.9 -2.2,-6.5 -3.2,-7.8 -3.5,-9.3 -3.2,-10.8 -2.2,-12.1 -0.8,-12.8 0.8,-12.8 2.2,-12.1 3.2,-10.8zM4.0,-5.3 2.7,4.0 5.3,12.0 4.0,13.3 1.3,13.3 0.0,6.7 -1.3,13.3 -4.0,13.3 -5.3,12.0 -2.7,4.0 -4.0,-5.3zM-2.0,-6.3 2.0,-6.3 2.0,-5.0 -2.0,-5.0zM4.0,-5.3 8.0,0.0 6.7,2.7 1.3,-4.0zM-1.3,-4.0 -6.7,2.7 -8.0,0.0 -4.0,-5.3z"/>
<path transform="translate(456.0 -4.1)" fill="#54c4c4" stroke="#54c4c4" d="M3.5,-9.3 3.2,-7.8 2.2,-6.5 0.8,-5.9 -0.8,-5.9 -2.2,-6.5 -3.2,-7.8 -3.5,-9.3 -3.2,-10.8 -2.2,-12.1 -0.8,-12.8 0.8,-12.8 2.2,-12.1 3.2,-10.8zM4.0,-5.3 2.7,4.0 5.3,12.0 4.0,13.3 1.3,13.3 0.0,6.7 -1.3,13.3 -4.0,13.3 -5.3,12.0 -2.7,4.0 -4.0,-5.3zM-2.0,-6.3 2.0,-6.3 2.0,-5.0 -2.0,-5.0zM4.0,-5.3 8.0,0.0 6.7,2.7 1.3,-4.0zM-1.3,-4.0 -6.7,2.7 -8.0,0.0 -4.0,-5.3z"/>
<path transform="translate(519.6 18.1)" fill="#7c50a4" stroke="#7c50a4" d="M3.5,-9.3 3.2,-7.8 2.2,-6.5 0.8,-5.9 -0.8,-5.9 -2.2,-6.5 -3.2,-7.8 -3.5,-9.3 -3.2,-10.8 -2.2,-12.1 -0.8,-12.8 0.8,-12.8 2.2,-12.1 3.2,-10.8zM4.0,-5.3 2.7,4.0 5.3,12.0 4.0,13.3 1.3,13.3 0.0,6.7 -1.3,13.3 -4.0,13.3 -5.3,12.0 -2.7,4.0 -4.0,-5.3zM-2.0,-6.3 2.0,-6.3 2.0,-5.0 -2.0,-5.0zM4.0,-5.3 8.0,0.0 6.7,2.7 1.3,-4.0zM-1.3,-4.0 -6.7,2.7 -8.0,0.0 -4.0,-5.3z"/>
<path transform="translate(462.2 38.7)" fill="#54c4c4" stroke="#54c4c4" d="M3.5,-9.3 3.2,-7.8 2.2,-6.5 0.8,-5.9 -0.8,-5.9 -2.2,-6.5 -3.2,-7.8 -3.5,-9.3 -3.2,-10.8 -2.2,-12.1 -0.8,-12.8 0.8,-12.8 2.2,-12.1 3.2,-10.8zM4.0,-5.3 2.7,4.0 5.3,12.0 4.0,13.3 1.3,13.3 0.0,6.7 -1.3,13.3 -4.0,13.3 -5.3,12.0 -2.7,4.0 -4.0,-5.3zM-2.0,-6.3 2.0,-6.3 2.0,-5.0 -2.0,-5.0zM4.0,-5.3 8.0,0.0 6.7,2.7 1.3,-4.0zM-1.3,-4.0 -6.7,2.7 -8.0,0.0 -4.0,-5.3z"/>
<path transform="translate(472.7 40.3)" fill="#ffffff" stroke="#ffffff" d="M3.5,-9.3 3.2,-7.8 2.2,-6.5 0.8,-5.9 -0.8,-5.9 -2.2,-6.5 -3.2,-7.8 -3.5,-9.3 -3.2,-10.8 -2.2,-12.1 -0.8,-12.8 0.8,-12.8 2.2,-12.1 3.2,-10.8zM4.0,-5.3 2.7,4.0 5.3,12.0 4.0,13.3 1.3,13.3 0.0,6.7 -1.3,13.3 -4.0,13.3 -5.3,12.0 -2.7,4.0 -4.0,-5.3zM-2.0,-6.3 2.0,-6.3 2.0,-5.0 -2.0,-5.0zM4.0,-5.3 8.0,0.0 6.7,2.7 1.3,-4.0zM-1.3,-4.0 -6.7,2.7 -8.0,0.0 -4.0,-5.3z"/>
<path transform="translate(482.3 35.7)" fill="#ffffff" stroke="#ffffff" d="M3.5,-9.3 3.2,-7.8 2.2,-6.5 0.8,-5.9 -0.8,-5.9 -2.2,-6.5 -3.2,-7.8 -3.5,-9.3 -3.2,-10.8 -2.2,-12.1 -0.8,-12.8 0.8,-12.8 2.2,-12.1 3.2,-10.8zM4.0,-5.3 2.7,4.0 5.3,12.0 4.0,13.3 1.3,13.3 0.0,6.7 -1.3,13.3 -4.0,13.3 -5.3,12.0 -2.7,4.0 -4.0,-5.3zM-2.0,-6.3 2.0,-6.3 2.0,-5.0 -2.0,-5.0zM4.0,-5.3 8.0,0.0 6.7,2.7 1.3,-4.0zM-1.3,-4.0 -6.7,2.7 -8.0,0.0 -4.0,-5.3z"/>
<path transform="translate(488.1 50.1)" fill="#ffffff" stroke="#ffffff" d="M3.5,-9.3 3.2,-7.8 2.2,-6.5 0.8,-5.9 -0.8,-5.9 -2.2,-6.5 -3.2,-7.8 -3.5,-9.3 -3.2,-10.8 -2.2,-12.1 -0.8,-12.8 0.8,-12.8 2.2,-12.1 3.2,-10.8zM4.0,-5.3 2.7,4.0 5.3,12.0 4.0,13.3 1.3,13.3 0.0,6.7 -1.3,13.3 -4.0,13.3 -5.3,12.0 -2.7,4.0 -4.0,-5.3zM-2.0,-6.3 2.0,-6.3 2.0,-5.0 -2.0,-5.0zM4.0,-5.3 8.0,0.0 6.7,2.7 1.3,-4.0zM-1.3,-4.0 -6.7,2.7 -8.0,0.0 -4.0,-5.3z"/>
<path transform="translate(495.6 65.5)" fill="#d73229" stroke="#d73229" d="M3.5,-9.3 3.2,-7.8 2.2,-6.5 0.8,-5.9 -0.8,-5.9 -2.2,-6.5 -3.2,-7.8 -3.5,-9.3 -3.2,-10.8 -2.2,-12.1 -0.8,-12.8 0.8,-12.8 2.2,-12.1 3.2,-10.8zM4.0,-5.3 2.7,4.0 5.3,12.0 4.0,13.3 1.3,13.3 0.0,6.7 -1.3,13.3 -4.0,13.3 -5.3,12.0 -2.7,4.0 -4.0,-5.3zM-2.0,-6.3 2.0,-6.3 2.0,-5.0 -2.0,-5.0zM4.0,-5.3 8.0,0.0 6.7,2.7 1.3,-4.0zM-1.3,-4.0 -6.7,2.7 -8.0,0.0 -4.0,-5.3z"/>
<path transform="translate(484.6 72.3)" fill="#54c4c4" stroke="#54c4c4" d="M3.5,-9.3 3.2,-7.8 2.2,-6.5 0.8,-5.9 -0.8,-5.9 -2.2,-6.5 -3.2,-7.8 -3.5,-9.3 -3.2,-10.8 -2.2,-12.1 -0.8,-12.8 0.8,-12.8 2.2,-12.1 3.2,-10.8zM4.0,-5.3 2.7,4.0 5.3,12.0 4.0,13.3 1.3,13.3 0.0,6.7 -1.3,13.3 -4.0,13.3 -5.3,12.0 -2.7,4.0 -4.0,-5.3zM-2.0,-6.3 2.0,-6.3 2.0,-5.0 -2.0,-5.0zM4.0,-5.3 8.0,0.0 6.7,2.7 1.3,-4.0zM-1.3,-4.0 -6.7,2.7 -8.0,0.0 -4.0,-5.3z"/>
<path transform="translate(509.1 72.6)" fill="#ffffff" stroke="#ffffff" d="M3.5,-9.3 3.2,-7.8 2.2,-6.5 0.8,-5.9 -0.8,-5.9 -2.2,-6.5 -3.2,-7.8 -3.5,-9.3 -3.2,-10.8 -2.2,-12.1 -0.8,-12.8 0.8,-12.8 2.2,-12.1 3.2,-10.8zM4.0,-5.3 2.7,4.0 5.3,12.0 4.0,13.3 1.3,13.3 0.0,6.7 -1.3,13.3 -4.0,13.3 -5.3,12.0 -2.7,4.0 -4.0,-5.3zM-2.0,-6.3 2.0,-6.3 2.0,-5.0 -2.0,-5.0zM4.0,-5.3 8.0,0.0 6.7,2.7 1.3,-4.0zM-1.3,-4.0 -6.7,2.7 -8.0,0.0 -4.0,-5.3z"/>
<path transform="translate(416.4 41.0)" fill="#54c4c4" stroke="#54c4c4" d="M3.5,-9.3 3.2,-7.8 2.2,-6.5 0.8,-5.9 -0.8,-5.9 -2.2,-6.5 -3.2,-7.8 -3.5,-9.3 -3.2,-10.8 -2.2,-12.1 -0.8,-12.8 0.8,-12.8 2.2,-12.1 3.2,-10.8zM4.0,-5.3 2.7,4.0 5.3,12.0 4.0,13.3 1.3,13.3 0.0,6.7 -1.3,13.3 -4.0,13.3 -5.3,12.0 -2.7,4.0 -4.0,-5.3zM-2.0,-6.3 2.0,-6.3 2.0,-5.0 -2.0,-5.0zM4.0,-5.3 8.0,0.0 6.7,2.7 1.3,-4.0zM-1.3,-4.0 -6.7,2.7 -8.0,0.0 -4.0,-5.3z"/>
<path transform="translate(395.4 42.1)" fill="#ffffff" stroke="#ffffff" d="M3.5,-9.3 3.2,-7.8 2.2,-6.5 0.8,-5.9 -0.8,-5.9 -2.2,-6.5 -3.2,-7.8 -3.5,-9.3 -3.2,-10.8 -2.2,-12.1 -0.8,-12.8 0.8,-12.8 2.2,-12.1 3.2,-10.8zM4.0,-5.3 2.7,4.0 5.3,12.0 4.0,13.3 1.3,13.3 0.0,6.7 -1.3,13.3 -4.0,13.3 -5.3,12.0 -2.7,4.0 -4.0,-5.3zM-2.0,-6.3 2.0,-6.3 2.0,-5.0 -2.0,-5.0zM4.0,-5.3 8.0,0.0 6.7,2.7 1.3,-4.0zM-1.3,-4.0 -6.7,2.7 -8.0,0.0 -4.0,-5.3z"/>
<path transform="translate(440.0 46.0)" fill="#54c4c4" stroke="#54c4c4" d="M3.5,-9.3 3.2,-7.8 2.2,-6.5 0.8,-5.9 -0.8,-5.9 -2.2,-6.5 -3.2,-7.8 -3.5,-9.3 -3.2,-10.8 -2.2,-12.1 -0.8,-12.8 0.8,-12.8 2.2,-12.1 3.2,-10.8zM4.0,-5.3 2.7,4.0 5.3,12.0 4.0,13.3 1.3,13.3 0.0,6.7 -1.3,13.3 -4.0,13.3 -5.3,12.0 -2.7,4.0 -4.0,-5.3zM-2.0,-6.3 2.0,-6.3 2.0,-5.0 -2.0,-5.0zM4.0,-5.3 8.0,0.0 6.7,2.7 1.3,-4.0zM-1.3,-4.0 -6.7,2.7 -8.0,0.0 -4.0,-5.3z"/>
<path transform="translate(451.4 52.9)" fill="#7c50a4" stroke="#7c50a4" d="M3.5,-9.3 3.2,-7.8 2.2,-6.5 0.8,-5.9 -0.8,-5.9 -2.2,-6.5 -3.2,-7.8 -3.5,-9.3 -3.2,-10.8 -2.2,-12.1 -0.8,-12.8 0.8,-12.8 2.2,-12.1 3.2,-10.8zM4.0,-5.3 2.7,4.0 5.3,12.0 4.0,13.3 1.3,13.3 0.0,6.7 -1.3,13.3 -4.0,13.3 -5.3,12.0 -2.7,4.0 -4.0,-5.3zM-2.0,-6.3 2.0,-6.3 2.0,-5.0 -2.0,-5.0zM4.0,-5.3 8.0,0.0 6.7,2.7 1.3,-4.0zM-1.3,-4.0 -6.7,2.7 -8.0,0.0 -4.0,-5.3z"/>
<path transform="translate(437.7 59.8)" fill="#ffffff" stroke="#ffffff" d="M3.5,-9.3 3.2,-7.8 2.2,-6.5 0.8,-5.9 -0.8,-5.9 -2.2,-6.5 -3.2,-7.8 -3.5,-9.3 -3.2,-10.8 -2.2,-12.1 -0.8,-12.8 0.8,-12.8 2.2,-12.1 3.2,-10.8zM4.0,-5.3 2.7,4.0 5.3,12.0 4.0,13.3 1.3,13.3 0.0,6.7 -1.3,13.3 -4.0,13.3 -5.3,12.0 -2.7,4.0 -4.0,-5.3zM-2.0,-6.3 2.0,-6.3 2.0,-5.0 -2.0,-5.0zM4.0,-5.3 8.0,0.0 6.7,2.7 1.3,-4.0zM-1.3,-4.0 -6.7,2.7 -8.0,0.0 -4.0,-5.3z"/>
<path transform="translate(440.7 66.2)" fill="#ffffff" stroke="#ffffff" d="M3.5,-9.3 3.2,-7.8 2.2,-6.5 0.8,-5.9 -0.8,-5.9 -2.2,-6.5 -3.2,-7.8 -3.5,-9.3 -3.2,-10.8 -2.2,-12.1 -0.8,-12.8 0.8,-12.8 2.2,-12.1 3.2,-10.8zM4.0,-5.3 2.7,4.0 5.3,12.0 4.0,13.3 1.3,13.3 0.0,6.7 -1.3,13.3 -4.0,13.3 -5.3,12.0 -2.7,4.0 -4.0,-5.3zM-2.0,-6.3 2.0,-6.3 2.0,-5.0 -2.0,-5.0zM4.0,-5.3 8.0,0.0 6.7,2.7 1.3,-4.0zM-1.3,-4.0 -6.7,2.7 -8.0,0.0 -4.0,-5.3z"/>
<path transform="translate(411.4 58.2)" fill="#54c4c4" stroke="#54c4c4" d="M3.5,-9.3 3.2,-7.8 2.2,-6.5 0.8,-5.9 -0.8,-5.9 -2.2,-6.5 -3.2,-7.8 -3.5,-9.3 -3.2,-10.8 -2.2,-12.1 -0.8,-12.8 0.8,-12.8 2.2,-12.1 3.2,-10.8zM4.0,-5.3 2.7,4.0 5.3,12.0 4.0,13.3 1.3,13.3 0.0,6.7 -1.3,13.3 -4.0,13.3 -5.3,12.0 -2.7,4.0 -4.0,-5.3zM-2.0,-6.3 2.0,-6.3 2.0,-5.0 -2.0,-5.0zM4.0,-5.3 8.0,0.0 6.7,2.7 1.3,-4.0zM-1.3,-4.0 -6.7,2.7 -8.0,0.0 -4.0,-5.3z"/>
<path transform="translate(397.7 60.9)" fill="#7c50a4" stroke="#7c50a4" d="M3.5,-9.3 3.2,-7.8 2.2,-6.5 0.8,-5.9 -0.8,-5.9 -2.2,-6.5 -3.2,-7.8 -3.5,-9.3 -3.2,-10.8 -2.2,-12.1 -0.8,-12.8 0.8,-12.8 2.2,-12.1 3.2,-10.8zM4.0,-5.3 2.7,4.0 5.3,12.0 4.0,13.3 1.3,13.3 0.0,6.7 -1.3,13.3 -4.0,13.3 -5.3,12.0 -2.7,4.0 -4.0,-5.3zM-2.0,-6.3 2.0,-6.3 2.0,-5.0 -2.0,-5.0zM4.0,-5.3 8.0,0.0 6.7,2.7 1.3,-4.0zM-1.3,-4.0 -6.7,2.7 -8.0,0.0 -4.0,-5.3z"/>
<path transform="translate(397.7 79.9)" fill="#54c4c4" stroke="#54c4c4" d="M3.5,-9.3 3.2,-7.8 2.2,-6.5 0.8,-5.9 -0.8,-5.9 -2.2,-6.5 -3.2,-7.8 -3.5,-9.3 -3.2,-10.8 -2.2,-12.1 -0.8,-12.8 0.8,-12.8 2.2,-12.1 3.2,-10.8zM4.0,-5.3 2.7,4.0 5.3,12.0 4.0,13.3 1.3,13.3 0.0,6.7 -1.3,13.3 -4.0,13.3 -5.3,12.0 -2.7,4.0 -4.0,-5.3zM-2.0,-6.3 2.0,-6.3 2.0,-5.0 -2.0,-5.0zM4.0,-5.3 8.0,0.0 6.7,2.7 1.3,-4.0zM-1.3,-4.0 -6.7,2.7 -8.0,0.0 -4.0,-5.3z"/>
<path transform="translate(392.6 88.6)" fill="#ffffff" stroke="#ffffff" d="M3.5,-9.3 3.2,-7.8 2.2,-6.5 0.8,-5.9 -0.8,-5.9 -2.2,-6.5 -3.2,-7.8 -3.5,-9.3 -3.2,-10.8 -2.2,-12.1 -0.8,-12.8 0.8,-12.8 2.2,-12.1 3.2,-10.8zM4.0,-5.3 2.7,4.0 5.3,12.0 4.0,13.3 1.3,13.3 0.0,6.7 -1.3,13.3 -4.0,13.3 -5.3,12.0 -2.7,4.0 -4.0,-5.3zM-2.0,-6.3 2.0,-6.3 2.0,-5.0 -2.0,-5.0zM4.0,-5.3 8.0,0.0 6.7,2.7 1.3,-4.0zM-1.3,-4.0 -6.7,2.7 -8.0,0.0 -4.0,-5.3z"/>
<path transform="translate(410.2 102.8)" fill="#ffffff" stroke="#ffffff" d="M3.5,-9.3 3.2,-7.8 2.2,-6.5 0.8,-5.9 -0.8,-5.9 -2.2,-6.5 -3.2,-7.8 -3.5,-9.3 -3.2,-10.8 -2.2,-12.1 -0.8,-12.8 0.8,-12.8 2.2,-12.1 3.2,-10.8zM4.0,-5.3 2.7,4.0 5.3,12.0 4.0,13.3 1.3,13.3 0.0,6.7 -1.3,13.3 -4.0,13.3 -5.3,12.0 -2.7,4.0 -4.0,-5.3zM-2.0,-6.3 2.0,-6.3 2.0,-5.0 -2.0,-5.0zM4.0,-5.3 8.0,0.0 6.7,2.7 1.3,-4.0zM-1.3,-4.0 -6.7,2.7 -8.0,0.0 -4.0,-5.3z"/>
<path transform="translate(392.6 131.8)" fill="#d73229" stroke="#d73229" d="M3.5,-9.3 3.2,-7.8 2.2,-6.5 0.8,-5.9 -0.8,-5.9 -2.2,-6.5 -3.2,-7.8 -3.5,-9.3 -3.2,-10.8 -2.2,-12.1 -0.8,-12.8 0.8,-12.8 2.2,-12.1 3.2,-10.8zM4.0,-5.3 2.7,4.0 5.3,12.0 4.0,13.3 1.3,13.3 0.0,6.7 -1.3,13.3 -4.0,13.3 -5.3,12.0 -2.7,4.0 -4.0,-5.3zM-2.0,-6.3 2.0,-6.3 2.0,-5.0 -2.0,-5.0zM4.0,-5.3 8.0,0.0 6.7,2.7 1.3,-4.0zM-1.3,-4.0 -6.7,2.7 -8.0,0.0 -4.0,-5.3z"/>
<path transform="translate(406.8 121.1)" fill="#ffffff" stroke="#ffffff" d="M3.5,-9.3 3.2,-7.8 2.2,-6.5 0.8,-5.9 -0.8,-5.9 -2.2,-6.5 -3.2,-7.8 -3.5,-9.3 -3.2,-10.8 -2.2,-12.1 -0.8,-12.8 0.8,-12.8 2.2,-12.1 3.2,-10.8zM4.0,-5.3 2.7,4.0 5.3,12.0 4.0,13.3 1.3,13.3 0.0,6.7 -1.3,13.3 -4.0,13.3 -5.3,12.0 -2.7,4.0 -4.0,-5.3zM-2.0,-6.3 2.0,-6.3 2.0,-5.0 -2.0,-5.0zM4.0,-5.3 8.0,0.0 6.7,2.7 1.3,-4.0zM-1.3,-4.0 -6.7,2.7 -8.0,0.0 -4.0,-5.3z"/>
<path transform="translate(396.5 113.8)" fill="#f16a15" stroke="#f16a15" d="M12.0,-4.5 12.3,-3.1 14.7,-2.3 14.9,-1.6 14.3,-1.0 12.7,-0.9 13.4,0.1 10.9,-0.5 9.2,-0.6 7.7,1.4 6.0,3.4 4.2,4.8 4.5,8.0 5.7,10.8 6.9,11.2 6.7,12.1 5.0,12.1 4.8,11.0 3.6,9.0 2.8,9.7 1.9,11.4 0.4,11.5 1.0,9.8 1.7,10.1 2.3,8.8 2.2,6.3 1.6,6.0 1.0,4.5 -0.7,5.2 -3.1,5.1 -5.2,4.6 -5.0,5.7 -7.1,8.1 -7.3,8.9 -4.7,11.1 -5.0,11.7 -6.6,11.8 -6.8,11.1 -8.5,9.3 -8.4,7.8 -7.5,5.9 -8.2,4.8 -9.0,5.6 -11.9,8.0 -11.9,10.3 -11.0,11.0 -11.2,11.6 -12.3,11.5 -13.0,10.7 -13.0,7.6 -11.2,5.5 -11.2,4.3 -12.0,4.1 -13.7,4.7 -14.8,4.4zM-15.1,4.5 -13.6,3.0 -11.4,1.6 -11.0,0.3 -9.7,-1.0 -6.8,-1.9 -1.6,-1.7 0.9,-2.4 3.8,-3.5 7.7,-4.2 8.6,-4.8 8.8,-5.2 11.8,-6.4 11.9,-5.8 13.1,-6.3 11.9,-4.7 11.9,-3.7z"/>
<path transform="translate(467.5 121.1)" fill="#ffffff" stroke="#ffffff" d="M3.5,-9.3 3.2,-7.8 2.2,-6.5 0.8,-5.9 -0.8,-5.9 -2.2,-6.5 -3.2,-7.8 -3.5,-9.3 -3.2,-10.8 -2.2,-12.1 -0.8,-12.8 0.8,-12.8 2.2,-12.1 3.2,-10.8zM4.0,-5.3 2.7,4.0 5.3,12.0 4.0,13.3 1.3,13.3 0.0,6.7 -1.3,13.3 -4.0,13.3 -5.3,12.0 -2.7,4.0 -4.0,-5.3zM-2.0,-6.3 2.0,-6.3 2.0,-5.0 -2.0,-5.0zM4.0,-5.3 8.0,0.0 6.7,2.7 1.3,-4.0zM-1.3,-4.0 -6.7,2.7 -8.0,0.0 -4.0,-5.3z"/>
<path transform="translate(474.3 121.1)" fill="#ffffff" stroke="#ffffff" d="M3.5,-9.3 3.2,-7.8 2.2,-6.5 0.8,-5.9 -0.8,-5.9 -2.2,-6.5 -3.2,-7.8 -3.5,-9.3 -3.2,-10.8 -2.2,-12.1 -0.8,-12.8 0.8,-12.8 2.2,-12.1 3.2,-10.8zM4.0,-5.3 2.7,4.0 5.3,12.0 4.0,13.3 1.3,13.3 0.0,6.7 -1.3,13.3 -4.0,13.3 -5.3,12.0 -2.7,4.0 -4.0,-5.3zM-2.0,-6.3 2.0,-6.3 2.0,-5.0 -2.0,-5.0zM4.0,-5.3 8.0,0.0 6.7,2.7 1.3,-4.0zM-1.3,-4.0 -6.7,2.7 -8.0,0.0 -4.0,-5.3z"/>
<path transform="translate(96.2 137.8)" fill="#ffffff" stroke="#ffffff" d="M3.5,-9.3 3.2,-7.8 2.2,-6.5 0.8,-5.9 -0.8,-5.9 -2.2,-6.5 -3.2,-7.8 -3.5,-9.3 -3.2,-10.8 -2.2,-12.1 -0.8,-12.8 0.8,-12.8 2.2,-12.1 3.2,-10.8zM4.0,-5.3 2.7,4.0 5.3,12.0 4.0,13.3 1.3,13.3 0.0,6.7 -1.3,13.3 -4.0,13.3 -5.3,12.0 -2.7,4.0 -4.0,-5.3zM-2.0,-6.3 2.0,-6.3 2.0,-5.0 -2.0,-5.0zM4.0,-5.3 8.0,0.0 6.7,2.7 1.3,-4.0zM-1.3,-4.0 -6.7,2.7 -8.0,0.0 -4.0,-5.3z"/>
<path transform="translate(78.6 144.0)" fill="#54c4c4" stroke="#54c4c4" d="M3.5,-9.3 3.2,-7.8 2.2,-6.5 0.8,-5.9 -0.8,-5.9 -2.2,-6.5 -3.2,-7.8 -3.5,-9.3 -3.2,-10.8 -2.2,-12.1 -0.8,-12.8 0.8,-12.8 2.2,-12.1 3.2,-10.8zM4.0,-5.3 2.7,4.0 5.3,12.0 4.0,13.3 1.3,13.3 0.0,6.7 -1.3,13.3 -4.0,13.3 -5.3,12.0 -2.7,4.0 -4.0,-5.3zM-2.0,-6.3 2.0,-6.3 2.0,-5.0 -2.0,-5.0zM4.0,-5.3 8.0,0.0 6.7,2.7 1.3,-4.0zM-1.3,-4.0 -6.7,2.7 -8.0,0.0 -4.0,-5.3z"/>
<path transform="translate(67.2 131.6)" fill="#f16a15" stroke="#f16a15" d="M12.0,-4.5 12.3,-3.1 14.7,-2.3 14.9,-1.6 14.3,-1.0 12.7,-0.9 13.4,0.1 10.9,-0.5 9.2,-0.6 7.7,1.4 6.0,3.4 4.2,4.8 4.5,8.0 5.7,10.8 6.9,11.2 6.7,12.1 5.0,12.1 4.8,11.0 3.6,9.0 2.8,9.7 1.9,11.4 0.4,11.5 1.0,9.8 1.7,10.1 2.3,8.8 2.2,6.3 1.6,6.0 1.0,4.5 -0.7,5.2 -3.1,5.1 -5.2,4.6 -5.0,5.7 -7.1,8.1 -7.3,8.9 -4.7,11.1 -5.0,11.7 -6.6,11.8 -6.8,11.1 -8.5,9.3 -8.4,7.8 -7.5,5.9 -8.2,4.8 -9.0,5.6 -11.9,8.0 -11.9,10.3 -11.0,11.0 -11.2,11.6 -12.3,11.5 -13.0,10.7 -13.0,7.6 -11.2,5.5 -11.2,4.3 -12.0,4.1 -13.7,4.7 -14.8,4.4zM-15.1,4.5 -13.6,3.0 -11.4,1.6 -11.0,0.3 -9.7,-1.0 -6.8,-1.9 -1.6,-1.7 0.9,-2.4 3.8,-3.5 7.7,-4.2 8.6,-4.8 8.8,-5.2 11.8,-6.4 11.9,-5.8 13.1,-6.3 11.9,-4.7 11.9,-3.7z"/>
<path transform="translate(125.5 140.8)" fill="#ffffff" stroke="#ffffff" d="M3.5,-9.3 3.2,-7.8 2.2,-6.5 0.8,-5.9 -0.8,-5.9 -2.2,-6.5 -3.2,-7.8 -3.5,-9.3 -3.2,-10.8 -2.2,-12.1 -0.8,-12.8 0.8,-12.8 2.2,-12.1 3.2,-10.8zM4.0,-5.3 2.7,4.0 5.3,12.0 4.0,13.3 1.3,13.3 0.0,6.7 -1.3,13.3 -4.0,13.3 -5.3,12.0 -2.7,4.0 -4.0,-5.3zM-2.0,-6.3 2.0,-6.3 2.0,-5.0 -2.0,-5.0zM4.0,-5.3 8.0,0.0 6.7,2.7 1.3,-4.0zM-1.3,-4.0 -6.7,2.7 -8.0,0.0 -4.0,-5.3z"/>
<path transform="translate(126.2 127.5)" fill="#54c4c4" stroke="#54c4c4" d="M3.5,-9.3 3.2,-7.8 2.2,-6.5 0.8,-5.9 -0.8,-5.9 -2.2,-6.5 -3.2,-7.8 -3.5,-9.3 -3.2,-10.8 -2.2,-12.1 -0.8,-12.8 0.8,-12.8 2.2,-12.1 3.2,-10.8zM4.0,-5.3 2.7,4.0 5.3,12.0 4.0,13.3 1.3,13.3 0.0,6.7 -1.3,13.3 -4.0,13.3 -5.3,12.0 -2.7,4.0 -4.0,-5.3zM-2.0,-6.3 2.0,-6.3 2.0,-5.0 -2.0,-5.0zM4.0,-5.3 8.0,0.0 6.7,2.7 1.3,-4.0zM-1.3,-4.0 -6.7,2.7 -8.0,0.0 -4.0,-5.3z"/>
<path transform="translate(59.8 154.3)" fill="#7c50a4" stroke="#7c50a4" d="M3.5,-9.3 3.2,-7.8 2.2,-6.5 0.8,-5.9 -0.8,-5.9 -2.2,-6.5 -3.2,-7.8 -3.5,-9.3 -3.2,-10.8 -2.2,-12.1 -0.8,-12.8 0.8,-12.8 2.2,-12.1 3.2,-10.8zM4.0,-5.3 2.7,4.0 5.3,12.0 4.0,13.3 1.3,13.3 0.0,6.7 -1.3,13.3 -4.0,13.3 -5.3,12.0 -2.7,4.0 -4.0,-5.3zM-2.0,-6.3 2.0,-6.3 2.0,-5.0 -2.0,-5.0zM4.0,-5.3 8.0,0.0 6.7,2.7 1.3,-4.0zM-1.3,-4.0 -6.7,2.7 -8.0,0.0 -4.0,-5.3z"/>
<path transform="translate(47.0 166.4)" fill="#ffffff" stroke="#ffffff" d="M3.5,-9.3 3.2,-7.8 2.2,-6.5 0.8,-5.9 -0.8,-5.9 -2.2,-6.5 -3.2,-7.8 -3.5,-9.3 -3.2,-10.8 -2.2,-12.1 -0.8,-12.8 0.8,-12.8 2.2,-12.1 3.2,-10.8zM4.0,-5.3 2.7,4.0 5.3,12.0 4.0,13.3 1.3,13.3 0.0,6.7 -1.3,13.3 -4.0,13.3 -5.3,12.0 -2.7,4.0 -4.0,-5.3zM-2.0,-6.3 2.0,-6.3 2.0,-5.0 -2.0,-5.0zM4.0,-5.3 8.0,0.0 6.7,2.7 1.3,-4.0zM-1.3,-4.0 -6.7,2.7 -8.0,0.0 -4.0,-5.3z"/>
<path transform="translate(-0.4 172.1)" fill="#ffffff" stroke="#ffffff" d="M3.5,-9.3 3.2,-7.8 2.2,-6.5 0.8,-5.9 -0.8,-5.9 -2.2,-6.5 -3.2,-7.8 -3.5,-9.3 -3.2,-10.8 -2.2,-12.1 -0.8,-12.8 0.8,-12.8 2.2,-12.1 3.2,-10.8zM4.0,-5.3 2.7,4.0 5.3,12.0 4.0,13.3 1.3,13.3 0.0,6.7 -1.3,13.3 -4.0,13.3 -5.3,12.0 -2.7,4.0 -4.0,-5.3zM-2.0,-6.3 2.0,-6.3 2.0,-5.0 -2.0,-5.0zM4.0,-5.3 8.0,0.0 6.7,2.7 1.3,-4.0zM-1.3,-4.0 -6.7,2.7 -8.0,0.0 -4.0,-5.3z"/>
<path transform="translate(12.7 181.1)" fill="#ffffff" stroke="#ffffff" d="M3.5,-9.3 3.2,-7.8 2.2,-6.5 0.8,-5.9 -0.8,-5.9 -2.2,-6.5 -3.2,-7.8 -3.5,-9.3 -3.2,-10.8 -2.2,-12.1 -0.8,-12.8 0.8,-12.8 2.2,-12.1 3.2,-10.8zM4.0,-5.3 2.7,4.0 5.3,12.0 4.0,13.3 1.3,13.3 0.0,6.7 -1.3,13.3 -4.0,13.3 -5.3,12.0 -2.7,4.0 -4.0,-5.3zM-2.0,-6.3 2.0,-6.3 2.0,-5.0 -2.0,-5.0zM4.0,-5.3 8.0,0.0 6.7,2.7 1.3,-4.0zM-1.3,-4.0 -6.7,2.7 -8.0,0.0 -4.0,-5.3z"/>
<path transform="translate(1.9 190.4)" fill="#ffffff" stroke="#ffffff" d="M3.5,-9.3 3.2,-7.8 2.2,-6.5 0.8,-5.9 -0.8,-5.9 -2.2,-6.5 -3.2,-7.8 -3.5,-9.3 -3.2,-10.8 -2.2,-12.1 -0.8,-12.8 0.8,-12.8 2.2,-12.1 3.2,-10.8zM4.0,-5.3 2.7,4.0 5.3,12.0 4.0,13.3 1.3,13.3 0.0,6.7 -1.3,13.3 -4.0,13.3 -5.3,12.0 -2.7,4.0 -4.0,-5.3zM-2.0,-6.3 2.0,-6.3 2.0,-5.0 -2.0,-5.0zM4.0,-5.3 8.0,0.0 6.7,2.7 1.3,-4.0zM-1.3,-4.0 -6.7,2.7 -8.0,0.0 -4.0,-5.3z"/>
<path transform="translate(76.3 188.2)" fill="#ffffff" stroke="#ffffff" d="M3.5,-9.3 3.2,-7.8 2.2,-6.5 0.8,-5.9 -0.8,-5.9 -2.2,-6.5 -3.2,-7.8 -3.5,-9.3 -3.2,-10.8 -2.2,-12.1 -0.8,-12.8 0.8,-12.8 2.2,-12.1 3.2,-10.8zM4.0,-5.3 2.7,4.0 5.3,12.0 4.0,13.3 1.3,13.3 0.0,6.7 -1.3,13.3 -4.0,13.3 -5.3,12.0 -2.7,4.0 -4.0,-5.3zM-2.0,-6.3 2.0,-6.3 2.0,-5.0 -2.0,-5.0zM4.0,-5.3 8.0,0.0 6.7,2.7 1.3,-4.0zM-1.3,-4.0 -6.7,2.7 -8.0,0.0 -4.0,-5.3z"/>
<path transform="translate(52.3 196.2)" fill="#54c4c4" stroke="#54c4c4" d="M3.5,-9.3 3.2,-7.8 2.2,-6.5 0.8,-5.9 -0.8,-5.9 -2.2,-6.5 -3.2,-7.8 -3.5,-9.3 -3.2,-10.8 -2.2,-12.1 -0.8,-12.8 0.8,-12.8 2.2,-12.1 3.2,-10.8zM4.0,-5.3 2.7,4.0 5.3,12.0 4.0,13.3 1.3,13.3 0.0,6.7 -1.3,13.3 -4.0,13.3 -5.3,12.0 -2.7,4.0 -4.0,-5.3zM-2.0,-6.3 2.0,-6.3 2.0,-5.0 -2.0,-5.0zM4.0,-5.3 8.0,0.0 6.7,2.7 1.3,-4.0zM-1.3,-4.0 -6.7,2.7 -8.0,0.0 -4.0,-5.3z"/>
<path transform="translate(54.6 184.0)" fill="#7c50a4" stroke="#7c50a4" d="M3.5,-9.3 3.2,-7.8 2.2,-6.5 0.8,-5.9 -0.8,-5.9 -2.2,-6.5 -3.2,-7.8 -3.5,-9.3 -3.2,-10.8 -2.2,-12.1 -0.8,-12.8 0.8,-12.8 2.2,-12.1 3.2,-10.8zM4.0,-5.3 2.7,4.0 5.3,12.0 4.0,13.3 1.3,13.3 0.0,6.7 -1.3,13.3 -4.0,13.3 -5.3,12.0 -2.7,4.0 -4.0,-5.3zM-2.0,-6.3 2.0,-6.3 2.0,-5.0 -2.0,-5.0zM4.0,-5.3 8.0,0.0 6.7,2.7 1.3,-4.0zM-1.3,-4.0 -6.7,2.7 -8.0,0.0 -4.0,-5.3z"/>
<path transform="translate(69.9 187.5)" fill="#54c4c4" stroke="#54c4c4" d="M3.5,-9.3 3.2,-7.8 2.2,-6.5 0.8,-5.9 -0.8,-5.9 -2.2,-6.5 -3.2,-7.8 -3.5,-9.3 -3.2,-10.8 -2.2,-12.1 -0.8,-12.8 0.8,-12.8 2.2,-12.1 3.2,-10.8zM4.0,-5.3 2.7,4.0 5.3,12.0 4.0,13.3 1.3,13.3 0.0,6.7 -1.3,13.3 -4.0,13.3 -5.3,12.0 -2.7,4.0 -4.0,-5.3zM-2.0,-6.3 2.0,-6.3 2.0,-5.0 -2.0,-5.0zM4.0,-5.3 8.0,0.0 6.7,2.7 1.3,-4.0zM-1.3,-4.0 -6.7,2.7 -8.0,0.0 -4.0,-5.3z"/>
<path transform="translate(64.9 204.2)" fill="#7c50a4" stroke="#7c50a4" d="M3.5,-9.3 3.2,-7.8 2.2,-6.5 0.8,-5.9 -0.8,-5.9 -2.2,-6.5 -3.2,-7.8 -3.5,-9.3 -3.2,-10.8 -2.2,-12.1 -0.8,-12.8 0.8,-12.8 2.2,-12.1 3.2,-10.8zM4.0,-5.3 2.7,4.0 5.3,12.0 4.0,13.3 1.3,13.3 0.0,6.7 -1.3,13.3 -4.0,13.3 -5.3,12.0 -2.7,4.0 -4.0,-5.3zM-2.0,-6.3 2.0,-6.3 2.0,-5.0 -2.0,-5.0zM4.0,-5.3 8.0,0.0 6.7,2.7 1.3,-4.0zM-1.3,-4.0 -6.7,2.7 -8.0,0.0 -4.0,-5.3z"/>
<path transform="translate(47.7 211.0)" fill="#7c50a4" stroke="#7c50a4" d="M3.5,-9.3 3.2,-7.8 2.2,-6.5 0.8,-5.9 -0.8,-5.9 -2.2,-6.5 -3.2,-7.8 -3.5,-9.3 -3.2,-10.8 -2.2,-12.1 -0.8,-12.8 0.8,-12.8 2.2,-12.1 3.2,-10.8zM4.0,-5.3 2.7,4.0 5.3,12.0 4.0,13.3 1.3,13.3 0.0,6.7 -1.3,13.3 -4.0,13.3 -5.3,12.0 -2.7,4.0 -4.0,-5.3zM-2.0,-6.3 2.0,-6.3 2.0,-5.0 -2.0,-5.0zM4.0,-5.3 8.0,0.0 6.7,2.7 1.3,-4.0zM-1.3,-4.0 -6.7,2.7 -8.0,0.0 -4.0,-5.3z"/>
<path transform="translate(97.4 205.3)" fill="#ffffff" stroke="#ffffff" d="M3.5,-9.3 3.2,-7.8 2.2,-6.5 0.8,-5.9 -0.8,-5.9 -2.2,-6.5 -3.2,-7.8 -3.5,-9.3 -3.2,-10.8 -2.2,-12.1 -0.8,-12.8 0.8,-12.8 2.2,-12.1 3.2,-10.8zM4.0,-5.3 2.7,4.0 5.3,12.0 4.0,13.3 1.3,13.3 0.0,6.7 -1.3,13.3 -4.0,13.3 -5.3,12.0 -2.7,4.0 -4.0,-5.3zM-2.0,-6.3 2.0,-6.3 2.0,-5.0 -2.0,-5.0zM4.0,-5.3 8.0,0.0 6.7,2.7 1.3,-4.0zM-1.3,-4.0 -6.7,2.7 -8.0,0.0 -4.0,-5.3z"/>
<path transform="translate(101.5 219.0)" fill="#54c4c4" stroke="#54c4c4" d="M3.5,-9.3 3.2,-7.8 2.2,-6.5 0.8,-5.9 -0.8,-5.9 -2.2,-6.5 -3.2,-7.8 -3.5,-9.3 -3.2,-10.8 -2.2,-12.1 -0.8,-12.8 0.8,-12.8 2.2,-12.1 3.2,-10.8zM4.0,-5.3 2.7,4.0 5.3,12.0 4.0,13.3 1.3,13.3 0.0,6.7 -1.3,13.3 -4.0,13.3 -5.3,12.0 -2.7,4.0 -4.0,-5.3zM-2.0,-6.3 2.0,-6.3 2.0,-5.0 -2.0,-5.0zM4.0,-5.3 8.0,0.0 6.7,2.7 1.3,-4.0zM-1.3,-4.0 -6.7,2.7 -8.0,0.0 -4.0,-5.3z"/>
<path transform="translate(112.9 231.6)" fill="#d73229" stroke="#d73229" d="M3.5,-9.3 3.2,-7.8 2.2,-6.5 0.8,-5.9 -0.8,-5.9 -2.2,-6.5 -3.2,-7.8 -3.5,-9.3 -3.2,-10.8 -2.2,-12.1 -0.8,-12.8 0.8,-12.8 2.2,-12.1 3.2,-10.8zM4.0,-5.3 2.7,4.0 5.3,12.0 4.0,13.3 1.3,13.3 0.0,6.7 -1.3,13.3 -4.0,13.3 -5.3,12.0 -2.7,4.0 -4.0,-5.3zM-2.0,-6.3 2.0,-6.3 2.0,-5.0 -2.0,-5.0zM4.0,-5.3 8.0,0.0 6.7,2.7 1.3,-4.0zM-1.3,-4.0 -6.7,2.7 -8.0,0.0 -4.0,-5.3z"/>
<path transform="translate(102.2 242.4)" fill="#54c4c4" stroke="#54c4c4" d="M3.5,-9.3 3.2,-7.8 2.2,-6.5 0.8,-5.9 -0.8,-5.9 -2.2,-6.5 -3.2,-7.8 -3.5,-9.3 -3.2,-10.8 -2.2,-12.1 -0.8,-12.8 0.8,-12.8 2.2,-12.1 3.2,-10.8zM4.0,-5.3 2.7,4.0 5.3,12.0 4.0,13.3 1.3,13.3 0.0,6.7 -1.3,13.3 -4.0,13.3 -5.3,12.0 -2.7,4.0 -4.0,-5.3zM-2.0,-6.3 2.0,-6.3 2.0,-5.0 -2.0,-5.0zM4.0,-5.3 8.0,0.0 6.7,2.7 1.3,-4.0zM-1.3,-4.0 -6.7,2.7 -8.0,0.0 -4.0,-5.3z"/>
<path transform="translate(128.5 178.3)" fill="#7c50a4" stroke="#7c50a4" d="M3.5,-9.3 3.2,-7.8 2.2,-6.5 0.8,-5.9 -0.8,-5.9 -2.2,-6.5 -3.2,-7.8 -3.5,-9.3 -3.2,-10.8 -2.2,-12.1 -0.8,-12.8 0.8,-12.8 2.2,-12.1 3.2,-10.8zM4.0,-5.3 2.7,4.0 5.3,12.0 4.0,13.3 1.3,13.3 0.0,6.7 -1.3,13.3 -4.0,13.3 -5.3,12.0 -2.7,4.0 -4.0,-5.3zM-2.0,-6.3 2.0,-6.3 2.0,-5.0 -2.0,-5.0zM4.0,-5.3 8.0,0.0 6.7,2.7 1.3,-4.0zM-1.3,-4.0 -6.7,2.7 -8.0,0.0 -4.0,-5.3z"/>
<path transform="translate(2.6 216.3)" fill="#ffffff" stroke="#ffffff" d="M3.5,-9.3 3.2,-7.8 2.2,-6.5 0.8,-5.9 -0.8,-5.9 -2.2,-6.5 -3.2,-7.8 -3.5,-9.3 -3.2,-10.8 -2.2,-12.1 -0.8,-12.8 0.8,-12.8 2.2,-12.1 3.2,-10.8zM4.0,-5.3 2.7,4.0 5.3,12.0 4.0,13.3 1.3,13.3 0.0,6.7 -1.3,13.3 -4.0,13.3 -5.3,12.0 -2.7,4.0 -4.0,-5.3zM-2.0,-6.3 2.0,-6.3 2.0,-5.0 -2.0,-5.0zM4.0,-5.3 8.0,0.0 6.7,2.7 1.3,-4.0zM-1.3,-4.0 -6.7,2.7 -8.0,0.0 -4.0,-5.3z"/>
<path transform="translate(18.6 225.2)" fill="#ffffff" stroke="#ffffff" d="M3.5,-9.3 3.2,-7.8 2.2,-6.5 0.8,-5.9 -0.8,-5.9 -2.2,-6.5 -3.2,-7.8 -3.5,-9.3 -3.2,-10.8 -2.2,-12.1 -0.8,-12.8 0.8,-12.8 2.2,-12.1 3.2,-10.8zM4.0,-5.3 2.7,4.0 5.3,12.0 4.0,13.3 1.3,13.3 0.0,6.7 -1.3,13.3 -4.0,13.3 -5.3,12.0 -2.7,4.0 -4.0,-5.3zM-2.0,-6.3 2.0,-6.3 2.0,-5.0 -2.0,-5.0zM4.0,-5.3 8.0,0.0 6.7,2.7 1.3,-4.0zM-1.3,-4.0 -6.7,2.7 -8.0,0.0 -4.0,-5.3z"/>
<path transform="translate(31.7 231.6)" fill="#54c4c4" stroke="#54c4c4" d="M3.5,-9.3 3.2,-7.8 2.2,-6.5 0.8,-5.9 -0.8,-5.9 -2.2,-6.5 -3.2,-7.8 -3.5,-9.3 -3.2,-10.8 -2.2,-12.1 -0.8,-12.8 0.8,-12.8 2.2,-12.1 3.2,-10.8zM4.0,-5.3 2.7,4.0 5.3,12.0 4.0,13.3 1.3,13.3 0.0,6.7 -1.3,13.3 -4.0,13.3 -5.3,12.0 -2.7,4.0 -4.0,-5.3zM-2.0,-6.3 2.0,-6.3 2.0,-5.0 -2.0,-5.0zM4.0,-5.3 8.0,0.0 6.7,2.7 1.3,-4.0zM-1.3,-4.0 -6.7,2.7 -8.0,0.0 -4.0,-5.3z"/>
<path transform="translate(22.5 241.2)" fill="#ffffff" stroke="#ffffff" d="M3.5,-9.3 3.2,-7.8 2.2,-6.5 0.8,-5.9 -0.8,-5.9 -2.2,-6.5 -3.2,-7.8 -3.5,-9.3 -3.2,-10.8 -2.2,-12.1 -0.8,-12.8 0.8,-12.8 2.2,-12.1 3.2,-10.8zM4.0,-5.3 2.7,4.0 5.3,12.0 4.0,13.3 1.3,13.3 0.0,6.7 -1.3,13.3 -4.0,13.3 -5.3,12.0 -2.7,4.0 -4.0,-5.3zM-2.0,-6.3 2.0,-6.3 2.0,-5.0 -2.0,-5.0zM4.0,-5.3 8.0,0.0 6.7,2.7 1.3,-4.0zM-1.3,-4.0 -6.7,2.7 -8.0,0.0 -4.0,-5.3z"/>
<path transform="translate(63.0 233.9)" fill="#ffffff" stroke="#ffffff" d="M3.5,-9.3 3.2,-7.8 2.2,-6.5 0.8,-5.9 -0.8,-5.9 -2.2,-6.5 -3.2,-7.8 -3.5,-9.3 -3.2,-10.8 -2.2,-12.1 -0.8,-12.8 0.8,-12.8 2.2,-12.1 3.2,-10.8zM4.0,-5.3 2.7,4.0 5.3,12.0 4.0,13.3 1.3,13.3 0.0,6.7 -1.3,13.3 -4.0,13.3 -5.3,12.0 -2.7,4.0 -4.0,-5.3zM-2.0,-6.3 2.0,-6.3 2.0,-5.0 -2.0,-5.0zM4.0,-5.3 8.0,0.0 6.7,2.7 1.3,-4.0zM-1.3,-4.0 -6.7,2.7 -8.0,0.0 -4.0,-5.3z"/>
<path transform="translate(82.0 240.1)" fill="#ffffff" stroke="#ffffff" d="M3.5,-9.3 3.2,-7.8 2.2,-6.5 0.8,-5.9 -0.8,-5.9 -2.2,-6.5 -3.2,-7.8 -3.5,-9.3 -3.2,-10.8 -2.2,-12.1 -0.8,-12.8 0.8,-12.8 2.2,-12.1 3.2,-10.8zM4.0,-5.3 2.7,4.0 5.3,12.0 4.0,13.3 1.3,13.3 0.0,6.7 -1.3,13.3 -4.0,13.3 -5.3,12.0 -2.7,4.0 -4.0,-5.3zM-2.0,-6.3 2.0,-6.3 2.0,-5.0 -2.0,-5.0zM4.0,-5.3 8.0,0.0 6.7,2.7 1.3,-4.0zM-1.3,-4.0 -6.7,2.7 -8.0,0.0 -4.0,-5.3z"/>
<path transform="translate(45.4 255.7)" fill="#ffffff" stroke="#ffffff" d="M3.5,-9.3 3.2,-7.8 2.2,-6.5 0.8,-5.9 -0.8,-5.9 -2.2,-6.5 -3.2,-7.8 -3.5,-9.3 -3.2,-10.8 -2.2,-12.1 -0.8,-12.8 0.8,-12.8 2.2,-12.1 3.2,-10.8zM4.0,-5.3 2.7,4.0 5.3,12.0 4.0,13.3 1.3,13.3 0.0,6.7 -1.3,13.3 -4.0,13.3 -5.3,12.0 -2.7,4.0 -4.0,-5.3zM-2.0,-6.3 2.0,-6.3 2.0,-5.0 -2.0,-5.0zM4.0,-5.3 8.0,0.0 6.7,2.7 1.3,-4.0zM-1.3,-4.0 -6.7,2.7 -8.0,0.0 -4.0,-5.3z"/>
<path transform="translate(76.3 258.0)" fill="#ffffff" stroke="#ffffff" d="M3.5,-9.3 3.2,-7.8 2.2,-6.5 0.8,-5.9 -0.8,-5.9 -2.2,-6.5 -3.2,-7.8 -3.5,-9.3 -3.2,-10.8 -2.2,-12.1 -0.8,-12.8 0.8,-12.8 2.2,-12.1 3.2,-10.8zM4.0,-5.3 2.7,4.0 5.3,12.0 4.0,13.3 1.3,13.3 0.0,6.7 -1.3,13.3 -4.0,13.3 -5.3,12.0 -2.7,4.0 -4.0,-5.3zM-2.0,-6.3 2.0,-6.3 2.0,-5.0 -2.0,-5.0zM4.0,-5.3 8.0,0.0 6.7,2.7 1.3,-4.0zM-1.3,-4.0 -6.7,2.7 -8.0,0.0 -4.0,-5.3z"/>
<path transform="translate(86.6 259.1)" fill="#ffffff" stroke="#ffffff" d="M3.5,-9.3 3.2,-7.8 2.2,-6.5 0.8,-5.9 -0.8,-5.9 -2.2,-6.5 -3.2,-7.8 -3.5,-9.3 -3.2,-10.8 -2.2,-12.1 -0.8,-12.8 0.8,-12.8 2.2,-12.1 3.2,-10.8zM4.0,-5.3 2.7,4.0 5.3,12.0 4.0,13.3 1.3,13.3 0.0,6.7 -1.3,13.3 -4.0,13.3 -5.3,12.0 -2.7,4.0 -4.0,-5.3zM-2.0,-6.3 2.0,-6.3 2.0,-5.0 -2.0,-5.0zM4.0,-5.3 8.0,0.0 6.7,2.7 1.3,-4.0zM-1.3,-4.0 -6.7,2.7 -8.0,0.0 -4.0,-5.3z"/>
<path transform="translate(20.2 267.1)" fill="#54c4c4" stroke="#54c4c4" d="M3.5,-9.3 3.2,-7.8 2.2,-6.5 0.8,-5.9 -0.8,-5.9 -2.2,-6.5 -3.2,-7.8 -3.5,-9.3 -3.2,-10.8 -2.2,-12.1 -0.8,-12.8 0.8,-12.8 2.2,-12.1 3.2,-10.8zM4.0,-5.3 2.7,4.0 5.3,12.0 4.0,13.3 1.3,13.3 0.0,6.7 -1.3,13.3 -4.0,13.3 -5.3,12.0 -2.7,4.0 -4.0,-5.3zM-2.0,-6.3 2.0,-6.3 2.0,-5.0 -2.0,-5.0zM4.0,-5.3 8.0,0.0 6.7,2.7 1.3,-4.0zM-1.3,-4.0 -6.7,2.7 -8.0,0.0 -4.0,-5.3z"/>
<path transform="translate(127.8 258.0)" fill="#54c4c4" stroke="#54c4c4" d="M3.5,-9.3 3.2,-7.8 2.2,-6.5 0.8,-5.9 -0.8,-5.9 -2.2,-6.5 -3.2,-7.8 -3.5,-9.3 -3.2,-10.8 -2.2,-12.1 -0.8,-12.8 0.8,-12.8 2.2,-12.1 3.2,-10.8zM4.0,-5.3 2.7,4.0 5.3,12.0 4.0,13.3 1.3,13.3 0.0,6.7 -1.3,13.3 -4.0,13.3 -5.3,12.0 -2.7,4.0 -4.0,-5.3zM-2.0,-6.3 2.0,-6.3 2.0,-5.0 -2.0,-5.0zM4.0,-5.3 8.0,0.0 6.7,2.7 1.3,-4.0zM-1.3,-4.0 -6.7,2.7 -8.0,0.0 -4.0,-5.3z"/>
<path transform="translate(180.7 142.4)" fill="#ffffff" stroke="#ffffff" d="M3.5,-9.3 3.2,-7.8 2.2,-6.5 0.8,-5.9 -0.8,-5.9 -2.2,-6.5 -3.2,-7.8 -3.5,-9.3 -3.2,-10.8 -2.2,-12.1 -0.8,-12.8 0.8,-12.8 2.2,-12.1 3.2,-10.8zM4.0,-5.3 2.7,4.0 5.3,12.0 4.0,13.3 1.3,13.3 0.0,6.7 -1.3,13.3 -4.0,13.3 -5.3,12.0 -2.7,4.0 -4.0,-5.3zM-2.0,-6.3 2.0,-6.3 2.0,-5.0 -2.0,-5.0zM4.0,-5.3 8.0,0.0 6.7,2.7 1.3,-4.0zM-1.3,-4.0 -6.7,2.7 -8.0,0.0 -4.0,-5.3z"/>
<path transform="translate(167.4 140.3)" fill="#f16a15" stroke="#f16a15" d="M12.0,-4.5 12.3,-3.1 14.7,-2.3 14.9,-1.6 14.3,-1.0 12.7,-0.9 13.4,0.1 10.9,-0.5 9.2,-0.6 7.7,1.4 6.0,3.4 4.2,4.8 4.5,8.0 5.7,10.8 6.9,11.2 6.7,12.1 5.0,12.1 4.8,11.0 3.6,9.0 2.8,9.7 1.9,11.4 0.4,11.5 1.0,9.8 1.7,10.1 2.3,8.8 2.2,6.3 1.6,6.0 1.0,4.5 -0.7,5.2 -3.1,5.1 -5.2,4.6 -5.0,5.7 -7.1,8.1 -7.3,8.9 -4.7,11.1 -5.0,11.7 -6.6,11.8 -6.8,11.1 -8.5,9.3 -8.4,7.8 -7.5,5.9 -8.2,4.8 -9.0,5.6 -11.9,8.0 -11.9,10.3 -11.0,11.0 -11.2,11.6 -12.3,11.5 -13.0,10.7 -13.0,7.6 -11.2,5.5 -11.2,4.3 -12.0,4.1 -13.7,4.7 -14.8,4.4zM-15.1,4.5 -13.6,3.0 -11.4,1.6 -11.0,0.3 -9.7,-1.0 -6.8,-1.9 -1.6,-1.7 0.9,-2.4 3.8,-3.5 7.7,-4.2 8.6,-4.8 8.8,-5.2 11.8,-6.4 11.9,-5.8 13.1,-6.3 11.9,-4.7 11.9,-3.7z"/>
<path transform="translate(185.7 158.9)" fill="#a71b6a" stroke="#a71b6a" d="M12.0,-4.5 12.3,-3.1 14.7,-2.3 14.9,-1.6 14.3,-1.0 12.7,-0.9 13.4,0.1 10.9,-0.5 9.2,-0.6 7.7,1.4 6.0,3.4 4.2,4.8 4.5,8.0 5.7,10.8 6.9,11.2 6.7,12.1 5.0,12.1 4.8,11.0 3.6,9.0 2.8,9.7 1.9,11.4 0.4,11.5 1.0,9.8 1.7,10.1 2.3,8.8 2.2,6.3 1.6,6.0 1.0,4.5 -0.7,5.2 -3.1,5.1 -5.2,4.6 -5.0,5.7 -7.1,8.1 -7.3,8.9 -4.7,11.1 -5.0,11.7 -6.6,11.8 -6.8,11.1 -8.5,9.3 -8.4,7.8 -7.5,5.9 -8.2,4.8 -9.0,5.6 -11.9,8.0 -11.9,10.3 -11.0,11.0 -11.2,11.6 -12.3,11.5 -13.0,10.7 -13.0,7.6 -11.2,5.5 -11.2,4.3 -12.0,4.1 -13.7,4.7 -14.8,4.4zM-15.1,4.5 -13.6,3.0 -11.4,1.6 -11.0,0.3 -9.7,-1.0 -6.8,-1.9 -1.6,-1.7 0.9,-2.4 3.8,-3.5 7.7,-4.2 8.6,-4.8 8.8,-5.2 11.8,-6.4 11.9,-5.8 13.1,-6.3 11.9,-4.7 11.9,-3.7z"/>
<path transform="translate(221.2 161.4)" fill="#ffffff" stroke="#ffffff" d="M3.5,-9.3 3.2,-7.8 2.2,-6.5 0.8,-5.9 -0.8,-5.9 -2.2,-6.5 -3.2,-7.8 -3.5,-9.3 -3.2,-10.8 -2.2,-12.1 -0.8,-12.8 0.8,-12.8 2.2,-12.1 3.2,-10.8zM4.0,-5.3 2.7,4.0 5.3,12.0 4.0,13.3 1.3,13.3 0.0,6.7 -1.3,13.3 -4.0,13.3 -5.3,12.0 -2.7,4.0 -4.0,-5.3zM-2.0,-6.3 2.0,-6.3 2.0,-5.0 -2.0,-5.0zM4.0,-5.3 8.0,0.0 6.7,2.7 1.3,-4.0zM-1.3,-4.0 -6.7,2.7 -8.0,0.0 -4.0,-5.3z"/>
<path transform="translate(247.1 147.6)" fill="#d73229" stroke="#d73229" d="M3.5,-9.3 3.2,-7.8 2.2,-6.5 0.8,-5.9 -0.8,-5.9 -2.2,-6.5 -3.2,-7.8 -3.5,-9.3 -3.2,-10.8 -2.2,-12.1 -0.8,-12.8 0.8,-12.8 2.2,-12.1 3.2,-10.8zM4.0,-5.3 2.7,4.0 5.3,12.0 4.0,13.3 1.3,13.3 0.0,6.7 -1.3,13.3 -4.0,13.3 -5.3,12.0 -2.7,4.0 -4.0,-5.3zM-2.0,-6.3 2.0,-6.3 2.0,-5.0 -2.0,-5.0zM4.0,-5.3 8.0,0.0 6.7,2.7 1.3,-4.0zM-1.3,-4.0 -6.7,2.7 -8.0,0.0 -4.0,-5.3z"/>
<path transform="translate(248.7 138.9)" fill="#a71b6a" stroke="#a71b6a" d="M12.0,-4.5 12.3,-3.1 14.7,-2.3 14.9,-1.6 14.3,-1.0 12.7,-0.9 13.4,0.1 10.9,-0.5 9.2,-0.6 7.7,1.4 6.0,3.4 4.2,4.8 4.5,8.0 5.7,10.8 6.9,11.2 6.7,12.1 5.0,12.1 4.8,11.0 3.6,9.0 2.8,9.7 1.9,11.4 0.4,11.5 1.0,9.8 1.7,10.1 2.3,8.8 2.2,6.3 1.6,6.0 1.0,4.5 -0.7,5.2 -3.1,5.1 -5.2,4.6 -5.0,5.7 -7.1,8.1 -7.3,8.9 -4.7,11.1 -5.0,11.7 -6.6,11.8 -6.8,11.1 -8.5,9.3 -8.4,7.8 -7.5,5.9 -8.2,4.8 -9.0,5.6 -11.9,8.0 -11.9,10.3 -11.0,11.0 -11.2,11.6 -12.3,11.5 -13.0,10.7 -13.0,7.6 -11.2,5.5 -11.2,4.3 -12.0,4.1 -13.7,4.7 -14.8,4.4zM-15.1,4.5 -13.6,3.0 -11.4,1.6 -11.0,0.3 -9.7,-1.0 -6.8,-1.9 -1.6,-1.7 0.9,-2.4 3.8,-3.5 7.7,-4.2 8.6,-4.8 8.8,-5.2 11.8,-6.4 11.9,-5.8 13.1,-6.3 11.9,-4.7 11.9,-3.7z"/>
<path transform="translate(254.4 157.3)" fill="#ffffff" stroke="#ffffff" d="M3.5,-9.3 3.2,-7.8 2.2,-6.5 0.8,-5.9 -0.8,-5.9 -2.2,-6.5 -3.2,-7.8 -3.5,-9.3 -3.2,-10.8 -2.2,-12.1 -0.8,-12.8 0.8,-12.8 2.2,-12.1 3.2,-10.8zM4.0,-5.3 2.7,4.0 5.3,12.0 4.0,13.3 1.3,13.3 0.0,6.7 -1.3,13.3 -4.0,13.3 -5.3,12.0 -2.7,4.0 -4.0,-5.3zM-2.0,-6.3 2.0,-6.3 2.0,-5.0 -2.0,-5.0zM4.0,-5.3 8.0,0.0 6.7,2.7 1.3,-4.0zM-1.3,-4.0 -6.7,2.7 -8.0,0.0 -4.0,-5.3z"/>
<path transform="translate(134.9 168.7)" fill="#ffffff" stroke="#ffffff" d="M3.5,-9.3 3.2,-7.8 2.2,-6.5 0.8,-5.9 -0.8,-5.9 -2.2,-6.5 -3.2,-7.8 -3.5,-9.3 -3.2,-10.8 -2.2,-12.1 -0.8,-12.8 0.8,-12.8 2.2,-12.1 3.2,-10.8zM4.0,-5.3 2.7,4.0 5.3,12.0 4.0,13.3 1.3,13.3 0.0,6.7 -1.3,13.3 -4.0,13.3 -5.3,12.0 -2.7,4.0 -4.0,-5.3zM-2.0,-6.3 2.0,-6.3 2.0,-5.0 -2.0,-5.0zM4.0,-5.3 8.0,0.0 6.7,2.7 1.3,-4.0zM-1.3,-4.0 -6.7,2.7 -8.0,0.0 -4.0,-5.3z"/>
<path transform="translate(131.9 177.9)" fill="#7c50a4" stroke="#7c50a4" d="M3.5,-9.3 3.2,-7.8 2.2,-6.5 0.8,-5.9 -0.8,-5.9 -2.2,-6.5 -3.2,-7.8 -3.5,-9.3 -3.2,-10.8 -2.2,-12.1 -0.8,-12.8 0.8,-12.8 2.2,-12.1 3.2,-10.8zM4.0,-5.3 2.7,4.0 5.3,12.0 4.0,13.3 1.3,13.3 0.0,6.7 -1.3,13.3 -4.0,13.3 -5.3,12.0 -2.7,4.0 -4.0,-5.3zM-2.0,-6.3 2.0,-6.3 2.0,-5.0 -2.0,-5.0zM4.0,-5.3 8.0,0.0 6.7,2.7 1.3,-4.0zM-1.3,-4.0 -6.7,2.7 -8.0,0.0 -4.0,-5.3z"/>
<path transform="translate(149.6 204.2)" fill="#54c4c4" stroke="#54c4c4" d="M3.5,-9.3 3.2,-7.8 2.2,-6.5 0.8,-5.9 -0.8,-5.9 -2.2,-6.5 -3.2,-7.8 -3.5,-9.3 -3.2,-10.8 -2.2,-12.1 -0.8,-12.8 0.8,-12.8 2.2,-12.1 3.2,-10.8zM4.0,-5.3 2.7,4.0 5.3,12.0 4.0,13.3 1.3,13.3 0.0,6.7 -1.3,13.3 -4.0,13.3 -5.3,12.0 -2.7,4.0 -4.0,-5.3zM-2.0,-6.3 2.0,-6.3 2.0,-5.0 -2.0,-5.0zM4.0,-5.3 8.0,0.0 6.7,2.7 1.3,-4.0zM-1.3,-4.0 -6.7,2.7 -8.0,0.0 -4.0,-5.3z"/>
<path transform="translate(155.3 192.0)" fill="#d73229" stroke="#d73229" d="M3.5,-9.3 3.2,-7.8 2.2,-6.5 0.8,-5.9 -0.8,-5.9 -2.2,-6.5 -3.2,-7.8 -3.5,-9.3 -3.2,-10.8 -2.2,-12.1 -0.8,-12.8 0.8,-12.8 2.2,-12.1 3.2,-10.8zM4.0,-5.3 2.7,4.0 5.3,12.0 4.0,13.3 1.3,13.3 0.0,6.7 -1.3,13.3 -4.0,13.3 -5.3,12.0 -2.7,4.0 -4.0,-5.3zM-2.0,-6.3 2.0,-6.3 2.0,-5.0 -2.0,-5.0zM4.0,-5.3 8.0,0.0 6.7,2.7 1.3,-4.0zM-1.3,-4.0 -6.7,2.7 -8.0,0.0 -4.0,-5.3z"/>
<path transform="translate(186.9 193.4)" fill="#ffffff" stroke="#ffffff" d="M3.5,-9.3 3.2,-7.8 2.2,-6.5 0.8,-5.9 -0.8,-5.9 -2.2,-6.5 -3.2,-7.8 -3.5,-9.3 -3.2,-10.8 -2.2,-12.1 -0.8,-12.8 0.8,-12.8 2.2,-12.1 3.2,-10.8zM4.0,-5.3 2.7,4.0 5.3,12.0 4.0,13.3 1.3,13.3 0.0,6.7 -1.3,13.3 -4.0,13.3 -5.3,12.0 -2.7,4.0 -4.0,-5.3zM-2.0,-6.3 2.0,-6.3 2.0,-5.0 -2.0,-5.0zM4.0,-5.3 8.0,0.0 6.7,2.7 1.3,-4.0zM-1.3,-4.0 -6.7,2.7 -8.0,0.0 -4.0,-5.3z"/>
<path transform="translate(202.9 199.6)" fill="#54c4c4" stroke="#54c4c4" d="M3.5,-9.3 3.2,-7.8 2.2,-6.5 0.8,-5.9 -0.8,-5.9 -2.2,-6.5 -3.2,-7.8 -3.5,-9.3 -3.2,-10.8 -2.2,-12.1 -0.8,-12.8 0.8,-12.8 2.2,-12.1 3.2,-10.8zM4.0,-5.3 2.7,4.0 5.3,12.0 4.0,13.3 1.3,13.3 0.0,6.7 -1.3,13.3 -4.0,13.3 -5.3,12.0 -2.7,4.0 -4.0,-5.3zM-2.0,-6.3 2.0,-6.3 2.0,-5.0 -2.0,-5.0zM4.0,-5.3 8.0,0.0 6.7,2.7 1.3,-4.0zM-1.3,-4.0 -6.7,2.7 -8.0,0.0 -4.0,-5.3z"/>
<path transform="translate(229.9 193.2)" fill="#ffffff" stroke="#ffffff" d="M3.5,-9.3 3.2,-7.8 2.2,-6.5 0.8,-5.9 -0.8,-5.9 -2.2,-6.5 -3.2,-7.8 -3.5,-9.3 -3.2,-10.8 -2.2,-12.1 -0.8,-12.8 0.8,-12.8 2.2,-12.1 3.2,-10.8zM4.0,-5.3 2.7,4.0 5.3,12.0 4.0,13.3 1.3,13.3 0.0,6.7 -1.3,13.3 -4.0,13.3 -5.3,12.0 -2.7,4.0 -4.0,-5.3zM-2.0,-6.3 2.0,-6.3 2.0,-5.0 -2.0,-5.0zM4.0,-5.3 8.0,0.0 6.7,2.7 1.3,-4.0zM-1.3,-4.0 -6.7,2.7 -8.0,0.0 -4.0,-5.3z"/>
<path transform="translate(222.3 211.7)" fill="#ffffff" stroke="#ffffff" d="M3.5,-9.3 3.2,-7.8 2.2,-6.5 0.8,-5.9 -0.8,-5.9 -2.2,-6.5 -3.2,-7.8 -3.5,-9.3 -3.2,-10.8 -2.2,-12.1 -0.8,-12.8 0.8,-12.8 2.2,-12.1 3.2,-10.8zM4.0,-5.3 2.7,4.0 5.3,12.0 4.0,13.3 1.3,13.3 0.0,6.7 -1.3,13.3 -4.0,13.3 -5.3,12.0 -2.7,4.0 -4.0,-5.3zM-2.0,-6.3 2.0,-6.3 2.0,-5.0 -2.0,-5.0zM4.0,-5.3 8.0,0.0 6.7,2.7 1.3,-4.0zM-1.3,-4.0 -6.7,2.7 -8.0,0.0 -4.0,-5.3z"/>
<path transform="translate(232.6 211.5)" fill="#7c50a4" stroke="#7c50a4" d="M3.5,-9.3 3.2,-7.8 2.2,-6.5 0.8,-5.9 -0.8,-5.9 -2.2,-6.5 -3.2,-7.8 -3.5,-9.3 -3.2,-10.8 -2.2,-12.1 -0.8,-12.8 0.8,-12.8 2.2,-12.1 3.2,-10.8zM4.0,-5.3 2.7,4.0 5.3,12.0 4.0,13.3 1.3,13.3 0.0,6.7 -1.3,13.3 -4.0,13.3 -5.3,12.0 -2.7,4.0 -4.0,-5.3zM-2.0,-6.3 2.0,-6.3 2.0,-5.0 -2.0,-5.0zM4.0,-5.3 8.0,0.0 6.7,2.7 1.3,-4.0zM-1.3,-4.0 -6.7,2.7 -8.0,0.0 -4.0,-5.3z"/>
<path transform="translate(242.9 219.0)" fill="#ffffff" stroke="#ffffff" d="M3.5,-9.3 3.2,-7.8 2.2,-6.5 0.8,-5.9 -0.8,-5.9 -2.2,-6.5 -3.2,-7.8 -3.5,-9.3 -3.2,-10.8 -2.2,-12.1 -0.8,-12.8 0.8,-12.8 2.2,-12.1 3.2,-10.8zM4.0,-5.3 2.7,4.0 5.3,12.0 4.0,13.3 1.3,13.3 0.0,6.7 -1.3,13.3 -4.0,13.3 -5.3,12.0 -2.7,4.0 -4.0,-5.3zM-2.0,-6.3 2.0,-6.3 2.0,-5.0 -2.0,-5.0zM4.0,-5.3 8.0,0.0 6.7,2.7 1.3,-4.0zM-1.3,-4.0 -6.7,2.7 -8.0,0.0 -4.0,-5.3z"/>
<path transform="translate(254.8 200.7)" fill="#ffffff" stroke="#ffffff" d="M3.5,-9.3 3.2,-7.8 2.2,-6.5 0.8,-5.9 -0.8,-5.9 -2.2,-6.5 -3.2,-7.8 -3.5,-9.3 -3.2,-10.8 -2.2,-12.1 -0.8,-12.8 0.8,-12.8 2.2,-12.1 3.2,-10.8zM4.0,-5.3 2.7,4.0 5.3,12.0 4.0,13.3 1.3,13.3 0.0,6.7 -1.3,13.3 -4.0,13.3 -5.3,12.0 -2.7,4.0 -4.0,-5.3zM-2.0,-6.3 2.0,-6.3 2.0,-5.0 -2.0,-5.0zM4.0,-5.3 8.0,0.0 6.7,2.7 1.3,-4.0zM-1.3,-4.0 -6.7,2.7 -8.0,0.0 -4.0,-5.3z"/>
<path transform="translate(255.5 210.4)" fill="#54c4c4" stroke="#54c4c4" d="M3.5,-9.3 3.2,-7.8 2.2,-6.5 0.8,-5.9 -0.8,-5.9 -2.2,-6.5 -3.2,-7.8 -3.5,-9.3 -3.2,-10.8 -2.2,-12.1 -0.8,-12.8 0.8,-12.8 2.2,-12.1 3.2,-10.8zM4.0,-5.3 2.7,4.0 5.3,12.0 4.0,13.3 1.3,13.3 0.0,6.7 -1.3,13.3 -4.0,13.3 -5.3,12.0 -2.7,4.0 -4.0,-5.3zM-2.0,-6.3 2.0,-6.3 2.0,-5.0 -2.0,-5.0zM4.0,-5.3 8.0,0.0 6.7,2.7 1.3,-4.0zM-1.3,-4.0 -6.7,2.7 -8.0,0.0 -4.0,-5.3z"/>
<path transform="translate(187.5 225.5)" fill="#54c4c4" stroke="#54c4c4" d="M3.5,-9.3 3.2,-7.8 2.2,-6.5 0.8,-5.9 -0.8,-5.9 -2.2,-6.5 -3.2,-7.8 -3.5,-9.3 -3.2,-10.8 -2.2,-12.1 -0.8,-12.8 0.8,-12.8 2.2,-12.1 3.2,-10.8zM4.0,-5.3 2.7,4.0 5.3,12.0 4.0,13.3 1.3,13.3 0.0,6.7 -1.3,13.3 -4.0,13.3 -5.3,12.0 -2.7,4.0 -4.0,-5.3zM-2.0,-6.3 2.0,-6.3 2.0,-5.0 -2.0,-5.0zM4.0,-5.3 8.0,0.0 6.7,2.7 1.3,-4.0zM-1.3,-4.0 -6.7,2.7 -8.0,0.0 -4.0,-5.3z"/>
<path transform="translate(194.4 230.5)" fill="#54c4c4" stroke="#54c4c4" d="M3.5,-9.3 3.2,-7.8 2.2,-6.5 0.8,-5.9 -0.8,-5.9 -2.2,-6.5 -3.2,-7.8 -3.5,-9.3 -3.2,-10.8 -2.2,-12.1 -0.8,-12.8 0.8,-12.8 2.2,-12.1 3.2,-10.8zM4.0,-5.3 2.7,4.0 5.3,12.0 4.0,13.3 1.3,13.3 0.0,6.7 -1.3,13.3 -4.0,13.3 -5.3,12.0 -2.7,4.0 -4.0,-5.3zM-2.0,-6.3 2.0,-6.3 2.0,-5.0 -2.0,-5.0zM4.0,-5.3 8.0,0.0 6.7,2.7 1.3,-4.0zM-1.3,-4.0 -6.7,2.7 -8.0,0.0 -4.0,-5.3z"/>
<path transform="translate(215.9 240.8)" fill="#54c4c4" stroke="#54c4c4" d="M3.5,-9.3 3.2,-7.8 2.2,-6.5 0.8,-5.9 -0.8,-5.9 -2.2,-6.5 -3.2,-7.8 -3.5,-9.3 -3.2,-10.8 -2.2,-12.1 -0.8,-12.8 0.8,-12.8 2.2,-12.1 3.2,-10.8zM4.0,-5.3 2.7,4.0 5.3,12.0 4.0,13.3 1.3,13.3 0.0,6.7 -1.3,13.3 -4.0,13.3 -5.3,12.0 -2.7,4.0 -4.0,-5.3zM-2.0,-6.3 2.0,-6.3 2.0,-5.0 -2.0,-5.0zM4.0,-5.3 8.0,0.0 6.7,2.7 1.3,-4.0zM-1.3,-4.0 -6.7,2.7 -8.0,0.0 -4.0,-5.3z"/>
<path transform="translate(236.1 235.1)" fill="#ffffff" stroke="#ffffff" d="M3.5,-9.3 3.2,-7.8 2.2,-6.5 0.8,-5.9 -0.8,-5.9 -2.2,-6.5 -3.2,-7.8 -3.5,-9.3 -3.2,-10.8 -2.2,-12.1 -0.8,-12.8 0.8,-12.8 2.2,-12.1 3.2,-10.8zM4.0,-5.3 2.7,4.0 5.3,12.0 4.0,13.3 1.3,13.3 0.0,6.7 -1.3,13.3 -4.0,13.3 -5.3,12.0 -2.7,4.0 -4.0,-5.3zM-2.0,-6.3 2.0,-6.3 2.0,-5.0 -2.0,-5.0zM4.0,-5.3 8.0,0.0 6.7,2.7 1.3,-4.0zM-1.3,-4.0 -6.7,2.7 -8.0,0.0 -4.0,-5.3z"/>
<path transform="translate(137.7 236.9)" fill="#54c4c4" stroke="#54c4c4" d="M3.5,-9.3 3.2,-7.8 2.2,-6.5 0.8,-5.9 -0.8,-5.9 -2.2,-6.5 -3.2,-7.8 -3.5,-9.3 -3.2,-10.8 -2.2,-12.1 -0.8,-12.8 0.8,-12.8 2.2,-12.1 3.2,-10.8zM4.0,-5.3 2.7,4.0 5.3,12.0 4.0,13.3 1.3,13.3 0.0,6.7 -1.3,13.3 -4.0,13.3 -5.3,12.0 -2.7,4.0 -4.0,-5.3zM-2.0,-6.3 2.0,-6.3 2.0,-5.0 -2.0,-5.0zM4.0,-5.3 8.0,0.0 6.7,2.7 1.3,-4.0zM-1.3,-4.0 -6.7,2.7 -8.0,0.0 -4.0,-5.3z"/>
<path transform="translate(144.5 232.3)" fill="#d73229" stroke="#d73229" d="M3.5,-9.3 3.2,-7.8 2.2,-6.5 0.8,-5.9 -0.8,-5.9 -2.2,-6.5 -3.2,-7.8 -3.5,-9.3 -3.2,-10.8 -2.2,-12.1 -0.8,-12.8 0.8,-12.8 2.2,-12.1 3.2,-10.8zM4.0,-5.3 2.7,4.0 5.3,12.0 4.0,13.3 1.3,13.3 0.0,6.7 -1.3,13.3 -4.0,13.3 -5.3,12.0 -2.7,4.0 -4.0,-5.3zM-2.0,-6.3 2.0,-6.3 2.0,-5.0 -2.0,-5.0zM4.0,-5.3 8.0,0.0 6.7,2.7 1.3,-4.0zM-1.3,-4.0 -6.7,2.7 -8.0,0.0 -4.0,-5.3z"/>
<path transform="translate(135.8 244.2)" fill="#ffffff" stroke="#ffffff" d="M3.5,-9.3 3.2,-7.8 2.2,-6.5 0.8,-5.9 -0.8,-5.9 -2.2,-6.5 -3.2,-7.8 -3.5,-9.3 -3.2,-10.8 -2.2,-12.1 -0.8,-12.8 0.8,-12.8 2.2,-12.1 3.2,-10.8zM4.0,-5.3 2.7,4.0 5.3,12.0 4.0,13.3 1.3,13.3 0.0,6.7 -1.3,13.3 -4.0,13.3 -5.3,12.0 -2.7,4.0 -4.0,-5.3zM-2.0,-6.3 2.0,-6.3 2.0,-5.0 -2.0,-5.0zM4.0,-5.3 8.0,0.0 6.7,2.7 1.3,-4.0zM-1.3,-4.0 -6.7,2.7 -8.0,0.0 -4.0,-5.3z"/>
<path transform="translate(164.7 246.5)" fill="#54c4c4" stroke="#54c4c4" d="M3.5,-9.3 3.2,-7.8 2.2,-6.5 0.8,-5.9 -0.8,-5.9 -2.2,-6.5 -3.2,-7.8 -3.5,-9.3 -3.2,-10.8 -2.2,-12.1 -0.8,-12.8 0.8,-12.8 2.2,-12.1 3.2,-10.8zM4.0,-5.3 2.7,4.0 5.3,12.0 4.0,13.3 1.3,13.3 0.0,6.7 -1.3,13.3 -4.0,13.3 -5.3,12.0 -2.7,4.0 -4.0,-5.3zM-2.0,-6.3 2.0,-6.3 2.0,-5.0 -2.0,-5.0zM4.0,-5.3 8.0,0.0 6.7,2.7 1.3,-4.0zM-1.3,-4.0 -6.7,2.7 -8.0,0.0 -4.0,-5.3z"/>
<path transform="translate(154.8 249.9)" fill="#7c50a4" stroke="#7c50a4" d="M3.5,-9.3 3.2,-7.8 2.2,-6.5 0.8,-5.9 -0.8,-5.9 -2.2,-6.5 -3.2,-7.8 -3.5,-9.3 -3.2,-10.8 -2.2,-12.1 -0.8,-12.8 0.8,-12.8 2.2,-12.1 3.2,-10.8zM4.0,-5.3 2.7,4.0 5.3,12.0 4.0,13.3 1.3,13.3 0.0,6.7 -1.3,13.3 -4.0,13.3 -5.3,12.0 -2.7,4.0 -4.0,-5.3zM-2.0,-6.3 2.0,-6.3 2.0,-5.0 -2.0,-5.0zM4.0,-5.3 8.0,0.0 6.7,2.7 1.3,-4.0zM-1.3,-4.0 -6.7,2.7 -8.0,0.0 -4.0,-5.3z"/>
<path transform="translate(162.8 259.1)" fill="#ffffff" stroke="#ffffff" d="M3.5,-9.3 3.2,-7.8 2.2,-6.5 0.8,-5.9 -0.8,-5.9 -2.2,-6.5 -3.2,-7.8 -3.5,-9.3 -3.2,-10.8 -2.2,-12.1 -0.8,-12.8 0.8,-12.8 2.2,-12.1 3.2,-10.8zM4.0,-5.3 2.7,4.0 5.3,12.0 4.0,13.3 1.3,13.3 0.0,6.7 -1.3,13.3 -4.0,13.3 -5.3,12.0 -2.7,4.0 -4.0,-5.3zM-2.0,-6.3 2.0,-6.3 2.0,-5.0 -2.0,-5.0zM4.0,-5.3 8.0,0.0 6.7,2.7 1.3,-4.0zM-1.3,-4.0 -6.7,2.7 -8.0,0.0 -4.0,-5.3z"/>
<path transform="translate(351.2 141.2)" fill="#ffffff" stroke="#ffffff" d="M3.5,-9.3 3.2,-7.8 2.2,-6.5 0.8,-5.9 -0.8,-5.9 -2.2,-6.5 -3.2,-7.8 -3.5,-9.3 -3.2,-10.8 -2.2,-12.1 -0.8,-12.8 0.8,-12.8 2.2,-12.1 3.2,-10.8zM4.0,-5.3 2.7,4.0 5.3,12.0 4.0,13.3 1.3,13.3 0.0,6.7 -1.3,13.3 -4.0,13.3 -5.3,12.0 -2.7,4.0 -4.0,-5.3zM-2.0,-6.3 2.0,-6.3 2.0,-5.0 -2.0,-5.0zM4.0,-5.3 8.0,0.0 6.7,2.7 1.3,-4.0zM-1.3,-4.0 -6.7,2.7 -8.0,0.0 -4.0,-5.3z"/>
<path transform="translate(372.9 149.2)" fill="#54c4c4" stroke="#54c4c4" d="M3.5,-9.3 3.2,-7.8 2.2,-6.5 0.8,-5.9 -0.8,-5.9 -2.2,-6.5 -3.2,-7.8 -3.5,-9.3 -3.2,-10.8 -2.2,-12.1 -0.8,-12.8 0.8,-12.8 2.2,-12.1 3.2,-10.8zM4.0,-5.3 2.7,4.0 5.3,12.0 4.0,13.3 1.3,13.3 0.0,6.7 -1.3,13.3 -4.0,13.3 -5.3,12.0 -2.7,4.0 -4.0,-5.3zM-2.0,-6.3 2.0,-6.3 2.0,-5.0 -2.0,-5.0zM4.0,-5.3 8.0,0.0 6.7,2.7 1.3,-4.0zM-1.3,-4.0 -6.7,2.7 -8.0,0.0 -4.0,-5.3z"/>
<path transform="translate(383.2 136.7)" fill="#54c4c4" stroke="#54c4c4" d="M3.5,-9.3 3.2,-7.8 2.2,-6.5 0.8,-5.9 -0.8,-5.9 -2.2,-6.5 -3.2,-7.8 -3.5,-9.3 -3.2,-10.8 -2.2,-12.1 -0.8,-12.8 0.8,-12.8 2.2,-12.1 3.2,-10.8zM4.0,-5.3 2.7,4.0 5.3,12.0 4.0,13.3 1.3,13.3 0.0,6.7 -1.3,13.3 -4.0,13.3 -5.3,12.0 -2.7,4.0 -4.0,-5.3zM-2.0,-6.3 2.0,-6.3 2.0,-5.0 -2.0,-5.0zM4.0,-5.3 8.0,0.0 6.7,2.7 1.3,-4.0zM-1.3,-4.0 -6.7,2.7 -8.0,0.0 -4.0,-5.3z"/>
<path transform="translate(384.8 151.5)" fill="#d73229" stroke="#d73229" d="M3.5,-9.3 3.2,-7.8 2.2,-6.5 0.8,-5.9 -0.8,-5.9 -2.2,-6.5 -3.2,-7.8 -3.5,-9.3 -3.2,-10.8 -2.2,-12.1 -0.8,-12.8 0.8,-12.8 2.2,-12.1 3.2,-10.8zM4.0,-5.3 2.7,4.0 5.3,12.0 4.0,13.3 1.3,13.3 0.0,6.7 -1.3,13.3 -4.0,13.3 -5.3,12.0 -2.7,4.0 -4.0,-5.3zM-2.0,-6.3 2.0,-6.3 2.0,-5.0 -2.0,-5.0zM4.0,-5.3 8.0,0.0 6.7,2.7 1.3,-4.0zM-1.3,-4.0 -6.7,2.7 -8.0,0.0 -4.0,-5.3z"/>
<path transform="translate(365.6 160.7)" fill="#ffffff" stroke="#ffffff" d="M3.5,-9.3 3.2,-7.8 2.2,-6.5 0.8,-5.9 -0.8,-5.9 -2.2,-6.5 -3.2,-7.8 -3.5,-9.3 -3.2,-10.8 -2.2,-12.1 -0.8,-12.8 0.8,-12.8 2.2,-12.1 3.2,-10.8zM4.0,-5.3 2.7,4.0 5.3,12.0 4.0,13.3 1.3,13.3 0.0,6.7 -1.3,13.3 -4.0,13.3 -5.3,12.0 -2.7,4.0 -4.0,-5.3zM-2.0,-6.3 2.0,-6.3 2.0,-5.0 -2.0,-5.0zM4.0,-5.3 8.0,0.0 6.7,2.7 1.3,-4.0zM-1.3,-4.0 -6.7,2.7 -8.0,0.0 -4.0,-5.3z"/>
<path transform="translate(334.7 169.8)" fill="#54c4c4" stroke="#54c4c4" d="M3.5,-9.3 3.2,-7.8 2.2,-6.5 0.8,-5.9 -0.8,-5.9 -2.2,-6.5 -3.2,-7.8 -3.5,-9.3 -3.2,-10.8 -2.2,-12.1 -0.8,-12.8 0.8,-12.8 2.2,-12.1 3.2,-10.8zM4.0,-5.3 2.7,4.0 5.3,12.0 4.0,13.3 1.3,13.3 0.0,6.7 -1.3,13.3 -4.0,13.3 -5.3,12.0 -2.7,4.0 -4.0,-5.3zM-2.0,-6.3 2.0,-6.3 2.0,-5.0 -2.0,-5.0zM4.0,-5.3 8.0,0.0 6.7,2.7 1.3,-4.0zM-1.3,-4.0 -6.7,2.7 -8.0,0.0 -4.0,-5.3z"/>
<path transform="translate(342.0 160.0)" fill="#d73229" stroke="#d73229" d="M3.5,-9.3 3.2,-7.8 2.2,-6.5 0.8,-5.9 -0.8,-5.9 -2.2,-6.5 -3.2,-7.8 -3.5,-9.3 -3.2,-10.8 -2.2,-12.1 -0.8,-12.8 0.8,-12.8 2.2,-12.1 3.2,-10.8zM4.0,-5.3 2.7,4.0 5.3,12.0 4.0,13.3 1.3,13.3 0.0,6.7 -1.3,13.3 -4.0,13.3 -5.3,12.0 -2.7,4.0 -4.0,-5.3zM-2.0,-6.3 2.0,-6.3 2.0,-5.0 -2.0,-5.0zM4.0,-5.3 8.0,0.0 6.7,2.7 1.3,-4.0zM-1.3,-4.0 -6.7,2.7 -8.0,0.0 -4.0,-5.3z"/>
<path transform="translate(261.9 170.3)" fill="#ffffff" stroke="#ffffff" d="M3.5,-9.3 3.2,-7.8 2.2,-6.5 0.8,-5.9 -0.8,-5.9 -2.2,-6.5 -3.2,-7.8 -3.5,-9.3 -3.2,-10.8 -2.2,-12.1 -0.8,-12.8 0.8,-12.8 2.2,-12.1 3.2,-10.8zM4.0,-5.3 2.7,4.0 5.3,12.0 4.0,13.3 1.3,13.3 0.0,6.7 -1.3,13.3 -4.0,13.3 -5.3,12.0 -2.7,4.0 -4.0,-5.3zM-2.0,-6.3 2.0,-6.3 2.0,-5.0 -2.0,-5.0zM4.0,-5.3 8.0,0.0 6.7,2.7 1.3,-4.0zM-1.3,-4.0 -6.7,2.7 -8.0,0.0 -4.0,-5.3z"/>
<path transform="translate(268.1 176.0)" fill="#54c4c4" stroke="#54c4c4" d="M3.5,-9.3 3.2,-7.8 2.2,-6.5 0.8,-5.9 -0.8,-5.9 -2.2,-6.5 -3.2,-7.8 -3.5,-9.3 -3.2,-10.8 -2.2,-12.1 -0.8,-12.8 0.8,-12.8 2.2,-12.1 3.2,-10.8zM4.0,-5.3 2.7,4.0 5.3,12.0 4.0,13.3 1.3,13.3 0.0,6.7 -1.3,13.3 -4.0,13.3 -5.3,12.0 -2.7,4.0 -4.0,-5.3zM-2.0,-6.3 2.0,-6.3 2.0,-5.0 -2.0,-5.0zM4.0,-5.3 8.0,0.0 6.7,2.7 1.3,-4.0zM-1.3,-4.0 -6.7,2.7 -8.0,0.0 -4.0,-5.3z"/>
<path transform="translate(295.1 175.1)" fill="#7c50a4" stroke="#7c50a4" d="M3.5,-9.3 3.2,-7.8 2.2,-6.5 0.8,-5.9 -0.8,-5.9 -2.2,-6.5 -3.2,-7.8 -3.5,-9.3 -3.2,-10.8 -2.2,-12.1 -0.8,-12.8 0.8,-12.8 2.2,-12.1 3.2,-10.8zM4.0,-5.3 2.7,4.0 5.3,12.0 4.0,13.3 1.3,13.3 0.0,6.7 -1.3,13.3 -4.0,13.3 -5.3,12.0 -2.7,4.0 -4.0,-5.3zM-2.0,-6.3 2.0,-6.3 2.0,-5.0 -2.0,-5.0zM4.0,-5.3 8.0,0.0 6.7,2.7 1.3,-4.0zM-1.3,-4.0 -6.7,2.7 -8.0,0.0 -4.0,-5.3z"/>
<path transform="translate(289.4 171.4)" fill="#ffffff" stroke="#ffffff" d="M3.5,-9.3 3.2,-7.8 2.2,-6.5 0.8,-5.9 -0.8,-5.9 -2.2,-6.5 -3.2,-7.8 -3.5,-9.3 -3.2,-10.8 -2.2,-12.1 -0.8,-12.8 0.8,-12.8 2.2,-12.1 3.2,-10.8zM4.0,-5.3 2.7,4.0 5.3,12.0 4.0,13.3 1.3,13.3 0.0,6.7 -1.3,13.3 -4.0,13.3 -5.3,12.0 -2.7,4.0 -4.0,-5.3zM-2.0,-6.3 2.0,-6.3 2.0,-5.0 -2.0,-5.0zM4.0,-5.3 8.0,0.0 6.7,2.7 1.3,-4.0zM-1.3,-4.0 -6.7,2.7 -8.0,0.0 -4.0,-5.3z"/>
<path transform="translate(313.9 180.1)" fill="#ffffff" stroke="#ffffff" d="M3.5,-9.3 3.2,-7.8 2.2,-6.5 0.8,-5.9 -0.8,-5.9 -2.2,-6.5 -3.2,-7.8 -3.5,-9.3 -3.2,-10.8 -2.2,-12.1 -0.8,-12.8 0.8,-12.8 2.2,-12.1 3.2,-10.8zM4.0,-5.3 2.7,4.0 5.3,12.0 4.0,13.3 1.3,13.3 0.0,6.7 -1.3,13.3 -4.0,13.3 -5.3,12.0 -2.7,4.0 -4.0,-5.3zM-2.0,-6.3 2.0,-6.3 2.0,-5.0 -2.0,-5.0zM4.0,-5.3 8.0,0.0 6.7,2.7 1.3,-4.0zM-1.3,-4.0 -6.7,2.7 -8.0,0.0 -4.0,-5.3z"/>
<path transform="translate(292.8 212.6)" fill="#7c50a4" stroke="#7c50a4" d="M3.5,-9.3 3.2,-7.8 2.2,-6.5 0.8,-5.9 -0.8,-5.9 -2.2,-6.5 -3.2,-7.8 -3.5,-9.3 -3.2,-10.8 -2.2,-12.1 -0.8,-12.8 0.8,-12.8 2.2,-12.1 3.2,-10.8zM4.0,-5.3 2.7,4.0 5.3,12.0 4.0,13.3 1.3,13.3 0.0,6.7 -1.3,13.3 -4.0,13.3 -5.3,12.0 -2.7,4.0 -4.0,-5.3zM-2.0,-6.3 2.0,-6.3 2.0,-5.0 -2.0,-5.0zM4.0,-5.3 8.0,0.0 6.7,2.7 1.3,-4.0zM-1.3,-4.0 -6.7,2.7 -8.0,0.0 -4.0,-5.3z"/>
<path transform="translate(301.5 194.6)" fill="#f16a15" stroke="#f16a15" d="M12.0,-4.5 12.3,-3.1 14.7,-2.3 14.9,-1.6 14.3,-1.0 12.7,-0.9 13.4,0.1 10.9,-0.5 9.2,-0.6 7.7,1.4 6.0,3.4 4.2,4.8 4.5,8.0 5.7,10.8 6.9,11.2 6.7,12.1 5.0,12.1 4.8,11.0 3.6,9.0 2.8,9.7 1.9,11.4 0.4,11.5 1.0,9.8 1.7,10.1 2.3,8.8 2.2,6.3 1.6,6.0 1.0,4.5 -0.7,5.2 -3.1,5.1 -5.2,4.6 -5.0,5.7 -7.1,8.1 -7.3,8.9 -4.7,11.1 -5.0,11.7 -6.6,11.8 -6.8,11.1 -8.5,9.3 -8.4,7.8 -7.5,5.9 -8.2,4.8 -9.0,5.6 -11.9,8.0 -11.9,10.3 -11.0,11.0 -11.2,11.6 -12.3,11.5 -13.0,10.7 -13.0,7.6 -11.2,5.5 -11.2,4.3 -12.0,4.1 -13.7,4.7 -14.8,4.4zM-15.1,4.5 -13.6,3.0 -11.4,1.6 -11.0,0.3 -9.7,-1.0 -6.8,-1.9 -1.6,-1.7 0.9,-2.4 3.8,-3.5 7.7,-4.2 8.6,-4.8 8.8,-5.2 11.8,-6.4 11.9,-5.8 13.1,-6.3 11.9,-4.7 11.9,-3.7z"/>
<path transform="translate(319.2 203.5)" fill="#54c4c4" stroke="#54c4c4" d="M3.5,-9.3 3.2,-7.8 2.2,-6.5 0.8,-5.9 -0.8,-5.9 -2.2,-6.5 -3.2,-7.8 -3.5,-9.3 -3.2,-10.8 -2.2,-12.1 -0.8,-12.8 0.8,-12.8 2.2,-12.1 3.2,-10.8zM4.0,-5.3 2.7,4.0 5.3,12.0 4.0,13.3 1.3,13.3 0.0,6.7 -1.3,13.3 -4.0,13.3 -5.3,12.0 -2.7,4.0 -4.0,-5.3zM-2.0,-6.3 2.0,-6.3 2.0,-5.0 -2.0,-5.0zM4.0,-5.3 8.0,0.0 6.7,2.7 1.3,-4.0zM-1.3,-4.0 -6.7,2.7 -8.0,0.0 -4.0,-5.3z"/>
<path transform="translate(325.3 220.2)" fill="#d73229" stroke="#d73229" d="M3.5,-9.3 3.2,-7.8 2.2,-6.5 0.8,-5.9 -0.8,-5.9 -2.2,-6.5 -3.2,-7.8 -3.5,-9.3 -3.2,-10.8 -2.2,-12.1 -0.8,-12.8 0.8,-12.8 2.2,-12.1 3.2,-10.8zM4.0,-5.3 2.7,4.0 5.3,12.0 4.0,13.3 1.3,13.3 0.0,6.7 -1.3,13.3 -4.0,13.3 -5.3,12.0 -2.7,4.0 -4.0,-5.3zM-2.0,-6.3 2.0,-6.3 2.0,-5.0 -2.0,-5.0zM4.0,-5.3 8.0,0.0 6.7,2.7 1.3,-4.0zM-1.3,-4.0 -6.7,2.7 -8.0,0.0 -4.0,-5.3z"/>
<path transform="translate(318.0 231.6)" fill="#ffffff" stroke="#ffffff" d="M3.5,-9.3 3.2,-7.8 2.2,-6.5 0.8,-5.9 -0.8,-5.9 -2.2,-6.5 -3.2,-7.8 -3.5,-9.3 -3.2,-10.8 -2.2,-12.1 -0.8,-12.8 0.8,-12.8 2.2,-12.1 3.2,-10.8zM4.0,-5.3 2.7,4.0 5.3,12.0 4.0,13.3 1.3,13.3 0.0,6.7 -1.3,13.3 -4.0,13.3 -5.3,12.0 -2.7,4.0 -4.0,-5.3zM-2.0,-6.3 2.0,-6.3 2.0,-5.0 -2.0,-5.0zM4.0,-5.3 8.0,0.0 6.7,2.7 1.3,-4.0zM-1.3,-4.0 -6.7,2.7 -8.0,0.0 -4.0,-5.3z"/>
<path transform="translate(327.6 244.2)" fill="#54c4c4" stroke="#54c4c4" d="M3.5,-9.3 3.2,-7.8 2.2,-6.5 0.8,-5.9 -0.8,-5.9 -2.2,-6.5 -3.2,-7.8 -3.5,-9.3 -3.2,-10.8 -2.2,-12.1 -0.8,-12.8 0.8,-12.8 2.2,-12.1 3.2,-10.8zM4.0,-5.3 2.7,4.0 5.3,12.0 4.0,13.3 1.3,13.3 0.0,6.7 -1.3,13.3 -4.0,13.3 -5.3,12.0 -2.7,4.0 -4.0,-5.3zM-2.0,-6.3 2.0,-6.3 2.0,-5.0 -2.0,-5.0zM4.0,-5.3 8.0,0.0 6.7,2.7 1.3,-4.0zM-1.3,-4.0 -6.7,2.7 -8.0,0.0 -4.0,-5.3z"/>
<path transform="translate(354.6 217.9)" fill="#d73229" stroke="#d73229" d="M3.5,-9.3 3.2,-7.8 2.2,-6.5 0.8,-5.9 -0.8,-5.9 -2.2,-6.5 -3.2,-7.8 -3.5,-9.3 -3.2,-10.8 -2.2,-12.1 -0.8,-12.8 0.8,-12.8 2.2,-12.1 3.2,-10.8zM4.0,-5.3 2.7,4.0 5.3,12.0 4.0,13.3 1.3,13.3 0.0,6.7 -1.3,13.3 -4.0,13.3 -5.3,12.0 -2.7,4.0 -4.0,-5.3zM-2.0,-6.3 2.0,-6.3 2.0,-5.0 -2.0,-5.0zM4.0,-5.3 8.0,0.0 6.7,2.7 1.3,-4.0zM-1.3,-4.0 -6.7,2.7 -8.0,0.0 -4.0,-5.3z"/>
<path transform="translate(352.8 211.5)" fill="#7c50a4" stroke="#7c50a4" d="M3.5,-9.3 3.2,-7.8 2.2,-6.5 0.8,-5.9 -0.8,-5.9 -2.2,-6.5 -3.2,-7.8 -3.5,-9.3 -3.2,-10.8 -2.2,-12.1 -0.8,-12.8 0.8,-12.8 2.2,-12.1 3.2,-10.8zM4.0,-5.3 2.7,4.0 5.3,12.0 4.0,13.3 1.3,13.3 0.0,6.7 -1.3,13.3 -4.0,13.3 -5.3,12.0 -2.7,4.0 -4.0,-5.3zM-2.0,-6.3 2.0,-6.3 2.0,-5.0 -2.0,-5.0zM4.0,-5.3 8.0,0.0 6.7,2.7 1.3,-4.0zM-1.3,-4.0 -6.7,2.7 -8.0,0.0 -4.0,-5.3z"/>
<path transform="translate(359.7 215.6)" fill="#ffffff" stroke="#ffffff" d="M3.5,-9.3 3.2,-7.8 2.2,-6.5 0.8,-5.9 -0.8,-5.9 -2.2,-6.5 -3.2,-7.8 -3.5,-9.3 -3.2,-10.8 -2.2,-12.1 -0.8,-12.8 0.8,-12.8 2.2,-12.1 3.2,-10.8zM4.0,-5.3 2.7,4.0 5.3,12.0 4.0,13.3 1.3,13.3 0.0,6.7 -1.3,13.3 -4.0,13.3 -5.3,12.0 -2.7,4.0 -4.0,-5.3zM-2.0,-6.3 2.0,-6.3 2.0,-5.0 -2.0,-5.0zM4.0,-5.3 8.0,0.0 6.7,2.7 1.3,-4.0zM-1.3,-4.0 -6.7,2.7 -8.0,0.0 -4.0,-5.3z"/>
<path transform="translate(367.2 223.6)" fill="#ffffff" stroke="#ffffff" d="M3.5,-9.3 3.2,-7.8 2.2,-6.5 0.8,-5.9 -0.8,-5.9 -2.2,-6.5 -3.2,-7.8 -3.5,-9.3 -3.2,-10.8 -2.2,-12.1 -0.8,-12.8 0.8,-12.8 2.2,-12.1 3.2,-10.8zM4.0,-5.3 2.7,4.0 5.3,12.0 4.0,13.3 1.3,13.3 0.0,6.7 -1.3,13.3 -4.0,13.3 -5.3,12.0 -2.7,4.0 -4.0,-5.3zM-2.0,-6.3 2.0,-6.3 2.0,-5.0 -2.0,-5.0zM4.0,-5.3 8.0,0.0 6.7,2.7 1.3,-4.0zM-1.3,-4.0 -6.7,2.7 -8.0,0.0 -4.0,-5.3z"/>
<path transform="translate(368.4 233.9)" fill="#ffffff" stroke="#ffffff" d="M3.5,-9.3 3.2,-7.8 2.2,-6.5 0.8,-5.9 -0.8,-5.9 -2.2,-6.5 -3.2,-7.8 -3.5,-9.3 -3.2,-10.8 -2.2,-12.1 -0.8,-12.8 0.8,-12.8 2.2,-12.1 3.2,-10.8zM4.0,-5.3 2.7,4.0 5.3,12.0 4.0,13.3 1.3,13.3 0.0,6.7 -1.3,13.3 -4.0,13.3 -5.3,12.0 -2.7,4.0 -4.0,-5.3zM-2.0,-6.3 2.0,-6.3 2.0,-5.0 -2.0,-5.0zM4.0,-5.3 8.0,0.0 6.7,2.7 1.3,-4.0zM-1.3,-4.0 -6.7,2.7 -8.0,0.0 -4.0,-5.3z"/>
<path transform="translate(383.9 232.8)" fill="#ffffff" stroke="#ffffff" d="M3.5,-9.3 3.2,-7.8 2.2,-6.5 0.8,-5.9 -0.8,-5.9 -2.2,-6.5 -3.2,-7.8 -3.5,-9.3 -3.2,-10.8 -2.2,-12.1 -0.8,-12.8 0.8,-12.8 2.2,-12.1 3.2,-10.8zM4.0,-5.3 2.7,4.0 5.3,12.0 4.0,13.3 1.3,13.3 0.0,6.7 -1.3,13.3 -4.0,13.3 -5.3,12.0 -2.7,4.0 -4.0,-5.3zM-2.0,-6.3 2.0,-6.3 2.0,-5.0 -2.0,-5.0zM4.0,-5.3 8.0,0.0 6.7,2.7 1.3,-4.0zM-1.3,-4.0 -6.7,2.7 -8.0,0.0 -4.0,-5.3z"/>
<path transform="translate(386.7 192.0)" fill="#54c4c4" stroke="#54c4c4" d="M3.5,-9.3 3.2,-7.8 2.2,-6.5 0.8,-5.9 -0.8,-5.9 -2.2,-6.5 -3.2,-7.8 -3.5,-9.3 -3.2,-10.8 -2.2,-12.1 -0.8,-12.8 0.8,-12.8 2.2,-12.1 3.2,-10.8zM4.0,-5.3 2.7,4.0 5.3,12.0 4.0,13.3 1.3,13.3 0.0,6.7 -1.3,13.3 -4.0,13.3 -5.3,12.0 -2.7,4.0 -4.0,-5.3zM-2.0,-6.3 2.0,-6.3 2.0,-5.0 -2.0,-5.0zM4.0,-5.3 8.0,0.0 6.7,2.7 1.3,-4.0zM-1.3,-4.0 -6.7,2.7 -8.0,0.0 -4.0,-5.3z"/>
<path transform="translate(258.5 208.8)" fill="#54c4c4" stroke="#54c4c4" d="M3.5,-9.3 3.2,-7.8 2.2,-6.5 0.8,-5.9 -0.8,-5.9 -2.2,-6.5 -3.2,-7.8 -3.5,-9.3 -3.2,-10.8 -2.2,-12.1 -0.8,-12.8 0.8,-12.8 2.2,-12.1 3.2,-10.8zM4.0,-5.3 2.7,4.0 5.3,12.0 4.0,13.3 1.3,13.3 0.0,6.7 -1.3,13.3 -4.0,13.3 -5.3,12.0 -2.7,4.0 -4.0,-5.3zM-2.0,-6.3 2.0,-6.3 2.0,-5.0 -2.0,-5.0zM4.0,-5.3 8.0,0.0 6.7,2.7 1.3,-4.0zM-1.3,-4.0 -6.7,2.7 -8.0,0.0 -4.0,-5.3z"/>
<path transform="translate(272.2 225.2)" fill="#ffffff" stroke="#ffffff" d="M3.5,-9.3 3.2,-7.8 2.2,-6.5 0.8,-5.9 -0.8,-5.9 -2.2,-6.5 -3.2,-7.8 -3.5,-9.3 -3.2,-10.8 -2.2,-12.1 -0.8,-12.8 0.8,-12.8 2.2,-12.1 3.2,-10.8zM4.0,-5.3 2.7,4.0 5.3,12.0 4.0,13.3 1.3,13.3 0.0,6.7 -1.3,13.3 -4.0,13.3 -5.3,12.0 -2.7,4.0 -4.0,-5.3zM-2.0,-6.3 2.0,-6.3 2.0,-5.0 -2.0,-5.0zM4.0,-5.3 8.0,0.0 6.7,2.7 1.3,-4.0zM-1.3,-4.0 -6.7,2.7 -8.0,0.0 -4.0,-5.3z"/>
<path transform="translate(293.3 231.6)" fill="#54c4c4" stroke="#54c4c4" d="M3.5,-9.3 3.2,-7.8 2.2,-6.5 0.8,-5.9 -0.8,-5.9 -2.2,-6.5 -3.2,-7.8 -3.5,-9.3 -3.2,-10.8 -2.2,-12.1 -0.8,-12.8 0.8,-12.8 2.2,-12.1 3.2,-10.8zM4.0,-5.3 2.7,4.0 5.3,12.0 4.0,13.3 1.3,13.3 0.0,6.7 -1.3,13.3 -4.0,13.3 -5.3,12.0 -2.7,4.0 -4.0,-5.3zM-2.0,-6.3 2.0,-6.3 2.0,-5.0 -2.0,-5.0zM4.0,-5.3 8.0,0.0 6.7,2.7 1.3,-4.0zM-1.3,-4.0 -6.7,2.7 -8.0,0.0 -4.0,-5.3z"/>
<path transform="translate(264.9 241.2)" fill="#ffffff" stroke="#ffffff" d="M3.5,-9.3 3.2,-7.8 2.2,-6.5 0.8,-5.9 -0.8,-5.9 -2.2,-6.5 -3.2,-7.8 -3.5,-9.3 -3.2,-10.8 -2.2,-12.1 -0.8,-12.8 0.8,-12.8 2.2,-12.1 3.2,-10.8zM4.0,-5.3 2.7,4.0 5.3,12.0 4.0,13.3 1.3,13.3 0.0,6.7 -1.3,13.3 -4.0,13.3 -5.3,12.0 -2.7,4.0 -4.0,-5.3zM-2.0,-6.3 2.0,-6.3 2.0,-5.0 -2.0,-5.0zM4.0,-5.3 8.0,0.0 6.7,2.7 1.3,-4.0zM-1.3,-4.0 -6.7,2.7 -8.0,0.0 -4.0,-5.3z"/>
<path transform="translate(284.8 245.8)" fill="#54c4c4" stroke="#54c4c4" d="M3.5,-9.3 3.2,-7.8 2.2,-6.5 0.8,-5.9 -0.8,-5.9 -2.2,-6.5 -3.2,-7.8 -3.5,-9.3 -3.2,-10.8 -2.2,-12.1 -0.8,-12.8 0.8,-12.8 2.2,-12.1 3.2,-10.8zM4.0,-5.3 2.7,4.0 5.3,12.0 4.0,13.3 1.3,13.3 0.0,6.7 -1.3,13.3 -4.0,13.3 -5.3,12.0 -2.7,4.0 -4.0,-5.3zM-2.0,-6.3 2.0,-6.3 2.0,-5.0 -2.0,-5.0zM4.0,-5.3 8.0,0.0 6.7,2.7 1.3,-4.0zM-1.3,-4.0 -6.7,2.7 -8.0,0.0 -4.0,-5.3z"/>
<path transform="translate(293.3 252.2)" fill="#ffffff" stroke="#ffffff" d="M3.5,-9.3 3.2,-7.8 2.2,-6.5 0.8,-5.9 -0.8,-5.9 -2.2,-6.5 -3.2,-7.8 -3.5,-9.3 -3.2,-10.8 -2.2,-12.1 -0.8,-12.8 0.8,-12.8 2.2,-12.1 3.2,-10.8zM4.0,-5.3 2.7,4.0 5.3,12.0 4.0,13.3 1.3,13.3 0.0,6.7 -1.3,13.3 -4.0,13.3 -5.3,12.0 -2.7,4.0 -4.0,-5.3zM-2.0,-6.3 2.0,-6.3 2.0,-5.0 -2.0,-5.0zM4.0,-5.3 8.0,0.0 6.7,2.7 1.3,-4.0zM-1.3,-4.0 -6.7,2.7 -8.0,0.0 -4.0,-5.3z"/>
<path transform="translate(299.7 258.4)" fill="#d73229" stroke="#d73229" d="M3.5,-9.3 3.2,-7.8 2.2,-6.5 0.8,-5.9 -0.8,-5.9 -2.2,-6.5 -3.2,-7.8 -3.5,-9.3 -3.2,-10.8 -2.2,-12.1 -0.8,-12.8 0.8,-12.8 2.2,-12.1 3.2,-10.8zM4.0,-5.3 2.7,4.0 5.3,12.0 4.0,13.3 1.3,13.3 0.0,6.7 -1.3,13.3 -4.0,13.3 -5.3,12.0 -2.7,4.0 -4.0,-5.3zM-2.0,-6.3 2.0,-6.3 2.0,-5.0 -2.0,-5.0zM4.0,-5.3 8.0,0.0 6.7,2.7 1.3,-4.0zM-1.3,-4.0 -6.7,2.7 -8.0,0.0 -4.0,-5.3z"/>
<path transform="translate(363.3 255.7)" fill="#54c4c4" stroke="#54c4c4" d="M3.5,-9.3 3.2,-7.8 2.2,-6.5 0.8,-5.9 -0.8,-5.9 -2.2,-6.5 -3.2,-7.8 -3.5,-9.3 -3.2,-10.8 -2.2,-12.1 -0.8,-12.8 0.8,-12.8 2.2,-12.1 3.2,-10.8zM4.0,-5.3 2.7,4.0 5.3,12.0 4.0,13.3 1.3,13.3 0.0,6.7 -1.3,13.3 -4.0,13.3 -5.3,12.0 -2.7,4.0 -4.0,-5.3zM-2.0,-6.3 2.0,-6.3 2.0,-5.0 -2.0,-5.0zM4.0,-5.3 8.0,0.0 6.7,2.7 1.3,-4.0zM-1.3,-4.0 -6.7,2.7 -8.0,0.0 -4.0,-5.3z"/>
<path transform="translate(358.1 249.9)" fill="#ffffff" stroke="#ffffff" d="M3.5,-9.3 3.2,-7.8 2.2,-6.5 0.8,-5.9 -0.8,-5.9 -2.2,-6.5 -3.2,-7.8 -3.5,-9.3 -3.2,-10.8 -2.2,-12.1 -0.8,-12.8 0.8,-12.8 2.2,-12.1 3.2,-10.8zM4.0,-5.3 2.7,4.0 5.3,12.0 4.0,13.3 1.3,13.3 0.0,6.7 -1.3,13.3 -4.0,13.3 -5.3,12.0 -2.7,4.0 -4.0,-5.3zM-2.0,-6.3 2.0,-6.3 2.0,-5.0 -2.0,-5.0zM4.0,-5.3 8.0,0.0 6.7,2.7 1.3,-4.0zM-1.3,-4.0 -6.7,2.7 -8.0,0.0 -4.0,-5.3z"/>
<path transform="translate(340.4 264.8)" fill="#54c4c4" stroke="#54c4c4" d="M3.5,-9.3 3.2,-7.8 2.2,-6.5 0.8,-5.9 -0.8,-5.9 -2.2,-6.5 -3.2,-7.8 -3.5,-9.3 -3.2,-10.8 -2.2,-12.1 -0.8,-12.8 0.8,-12.8 2.2,-12.1 3.2,-10.8zM4.0,-5.3 2.7,4.0 5.3,12.0 4.0,13.3 1.3,13.3 0.0,6.7 -1.3,13.3 -4.0,13.3 -5.3,12.0 -2.7,4.0 -4.0,-5.3zM-2.0,-6.3 2.0,-6.3 2.0,-5.0 -2.0,-5.0zM4.0,-5.3 8.0,0.0 6.7,2.7 1.3,-4.0zM-1.3,-4.0 -6.7,2.7 -8.0,0.0 -4.0,-5.3z"/>
<path transform="translate(413.2 142.8)" fill="#ffffff" stroke="#ffffff" d="M3.5,-9.3 3.2,-7.8 2.2,-6.5 0.8,-5.9 -0.8,-5.9 -2.2,-6.5 -3.2,-7.8 -3.5,-9.3 -3.2,-10.8 -2.2,-12.1 -0.8,-12.8 0.8,-12.8 2.2,-12.1 3.2,-10.8zM4.0,-5.3 2.7,4.0 5.3,12.0 4.0,13.3 1.3,13.3 0.0,6.7 -1.3,13.3 -4.0,13.3 -5.3,12.0 -2.7,4.0 -4.0,-5.3zM-2.0,-6.3 2.0,-6.3 2.0,-5.0 -2.0,-5.0zM4.0,-5.3 8.0,0.0 6.7,2.7 1.3,-4.0zM-1.3,-4.0 -6.7,2.7 -8.0,0.0 -4.0,-5.3z"/>
<path transform="translate(431.5 142.8)" fill="#ffffff" stroke="#ffffff" d="M3.5,-9.3 3.2,-7.8 2.2,-6.5 0.8,-5.9 -0.8,-5.9 -2.2,-6.5 -3.2,-7.8 -3.5,-9.3 -3.2,-10.8 -2.2,-12.1 -0.8,-12.8 0.8,-12.8 2.2,-12.1 3.2,-10.8zM4.0,-5.3 2.7,4.0 5.3,12.0 4.0,13.3 1.3,13.3 0.0,6.7 -1.3,13.3 -4.0,13.3 -5.3,12.0 -2.7,4.0 -4.0,-5.3zM-2.0,-6.3 2.0,-6.3 2.0,-5.0 -2.0,-5.0zM4.0,-5.3 8.0,0.0 6.7,2.7 1.3,-4.0zM-1.3,-4.0 -6.7,2.7 -8.0,0.0 -4.0,-5.3z"/>
<path transform="translate(414.1 157.3)" fill="#ffffff" stroke="#ffffff" d="M3.5,-9.3 3.2,-7.8 2.2,-6.5 0.8,-5.9 -0.8,-5.9 -2.2,-6.5 -3.2,-7.8 -3.5,-9.3 -3.2,-10.8 -2.2,-12.1 -0.8,-12.8 0.8,-12.8 2.2,-12.1 3.2,-10.8zM4.0,-5.3 2.7,4.0 5.3,12.0 4.0,13.3 1.3,13.3 0.0,6.7 -1.3,13.3 -4.0,13.3 -5.3,12.0 -2.7,4.0 -4.0,-5.3zM-2.0,-6.3 2.0,-6.3 2.0,-5.0 -2.0,-5.0zM4.0,-5.3 8.0,0.0 6.7,2.7 1.3,-4.0zM-1.3,-4.0 -6.7,2.7 -8.0,0.0 -4.0,-5.3z"/>
<path transform="translate(422.8 159.5)" fill="#54c4c4" stroke="#54c4c4" d="M3.5,-9.3 3.2,-7.8 2.2,-6.5 0.8,-5.9 -0.8,-5.9 -2.2,-6.5 -3.2,-7.8 -3.5,-9.3 -3.2,-10.8 -2.2,-12.1 -0.8,-12.8 0.8,-12.8 2.2,-12.1 3.2,-10.8zM4.0,-5.3 2.7,4.0 5.3,12.0 4.0,13.3 1.3,13.3 0.0,6.7 -1.3,13.3 -4.0,13.3 -5.3,12.0 -2.7,4.0 -4.0,-5.3zM-2.0,-6.3 2.0,-6.3 2.0,-5.0 -2.0,-5.0zM4.0,-5.3 8.0,0.0 6.7,2.7 1.3,-4.0zM-1.3,-4.0 -6.7,2.7 -8.0,0.0 -4.0,-5.3z"/>
<path transform="translate(476.6 141.2)" fill="#54c4c4" stroke="#54c4c4" d="M3.5,-9.3 3.2,-7.8 2.2,-6.5 0.8,-5.9 -0.8,-5.9 -2.2,-6.5 -3.2,-7.8 -3.5,-9.3 -3.2,-10.8 -2.2,-12.1 -0.8,-12.8 0.8,-12.8 2.2,-12.1 3.2,-10.8zM4.0,-5.3 2.7,4.0 5.3,12.0 4.0,13.3 1.3,13.3 0.0,6.7 -1.3,13.3 -4.0,13.3 -5.3,12.0 -2.7,4.0 -4.0,-5.3zM-2.0,-6.3 2.0,-6.3 2.0,-5.0 -2.0,-5.0zM4.0,-5.3 8.0,0.0 6.7,2.7 1.3,-4.0zM-1.3,-4.0 -6.7,2.7 -8.0,0.0 -4.0,-5.3z"/>
<path transform="translate(472.0 158.9)" fill="#ffffff" stroke="#ffffff" d="M3.5,-9.3 3.2,-7.8 2.2,-6.5 0.8,-5.9 -0.8,-5.9 -2.2,-6.5 -3.2,-7.8 -3.5,-9.3 -3.2,-10.8 -2.2,-12.1 -0.8,-12.8 0.8,-12.8 2.2,-12.1 3.2,-10.8zM4.0,-5.3 2.7,4.0 5.3,12.0 4.0,13.3 1.3,13.3 0.0,6.7 -1.3,13.3 -4.0,13.3 -5.3,12.0 -2.7,4.0 -4.0,-5.3zM-2.0,-6.3 2.0,-6.3 2.0,-5.0 -2.0,-5.0zM4.0,-5.3 8.0,0.0 6.7,2.7 1.3,-4.0zM-1.3,-4.0 -6.7,2.7 -8.0,0.0 -4.0,-5.3z"/>
<path transform="translate(486.5 158.9)" fill="#ffffff" stroke="#ffffff" d="M3.5,-9.3 3.2,-7.8 2.2,-6.5 0.8,-5.9 -0.8,-5.9 -2.2,-6.5 -3.2,-7.8 -3.5,-9.3 -3.2,-10.8 -2.2,-12.1 -0.8,-12.8 0.8,-12.8 2.2,-12.1 3.2,-10.8zM4.0,-5.3 2.7,4.0 5.3,12.0 4.0,13.3 1.3,13.3 0.0,6.7 -1.3,13.3 -4.0,13.3 -5.3,12.0 -2.7,4.0 -4.0,-5.3zM-2.0,-6.3 2.0,-6.3 2.0,-5.0 -2.0,-5.0zM4.0,-5.3 8.0,0.0 6.7,2.7 1.3,-4.0zM-1.3,-4.0 -6.7,2.7 -8.0,0.0 -4.0,-5.3z"/>
<path transform="translate(475.0 172.1)" fill="#ffffff" stroke="#ffffff" d="M3.5,-9.3 3.2,-7.8 2.2,-6.5 0.8,-5.9 -0.8,-5.9 -2.2,-6.5 -3.2,-7.8 -3.5,-9.3 -3.2,-10.8 -2.2,-12.1 -0.8,-12.8 0.8,-12.8 2.2,-12.1 3.2,-10.8zM4.0,-5.3 2.7,4.0 5.3,12.0 4.0,13.3 1.3,13.3 0.0,6.7 -1.3,13.3 -4.0,13.3 -5.3,12.0 -2.7,4.0 -4.0,-5.3zM-2.0,-6.3 2.0,-6.3 2.0,-5.0 -2.0,-5.0zM4.0,-5.3 8.0,0.0 6.7,2.7 1.3,-4.0zM-1.3,-4.0 -6.7,2.7 -8.0,0.0 -4.0,-5.3z"/>
<path transform="translate(436.6 168.7)" fill="#54c4c4" stroke="#54c4c4" d="M3.5,-9.3 3.2,-7.8 2.2,-6.5 0.8,-5.9 -0.8,-5.9 -2.2,-6.5 -3.2,-7.8 -3.5,-9.3 -3.2,-10.8 -2.2,-12.1 -0.8,-12.8 0.8,-12.8 2.2,-12.1 3.2,-10.8zM4.0,-5.3 2.7,4.0 5.3,12.0 4.0,13.3 1.3,13.3 0.0,6.7 -1.3,13.3 -4.0,13.3 -5.3,12.0 -2.7,4.0 -4.0,-5.3zM-2.0,-6.3 2.0,-6.3 2.0,-5.0 -2.0,-5.0zM4.0,-5.3 8.0,0.0 6.7,2.7 1.3,-4.0zM-1.3,-4.0 -6.7,2.7 -8.0,0.0 -4.0,-5.3z"/>
<path transform="translate(452.6 168.7)" fill="#54c4c4" stroke="#54c4c4" d="M3.5,-9.3 3.2,-7.8 2.2,-6.5 0.8,-5.9 -0.8,-5.9 -2.2,-6.5 -3.2,-7.8 -3.5,-9.3 -3.2,-10.8 -2.2,-12.1 -0.8,-12.8 0.8,-12.8 2.2,-12.1 3.2,-10.8zM4.0,-5.3 2.7,4.0 5.3,12.0 4.0,13.3 1.3,13.3 0.0,6.7 -1.3,13.3 -4.0,13.3 -5.3,12.0 -2.7,4.0 -4.0,-5.3zM-2.0,-6.3 2.0,-6.3 2.0,-5.0 -2.0,-5.0zM4.0,-5.3 8.0,0.0 6.7,2.7 1.3,-4.0zM-1.3,-4.0 -6.7,2.7 -8.0,0.0 -4.0,-5.3z"/>
<path transform="translate(468.1 183.6)" fill="#54c4c4" stroke="#54c4c4" d="M3.5,-9.3 3.2,-7.8 2.2,-6.5 0.8,-5.9 -0.8,-5.9 -2.2,-6.5 -3.2,-7.8 -3.5,-9.3 -3.2,-10.8 -2.2,-12.1 -0.8,-12.8 0.8,-12.8 2.2,-12.1 3.2,-10.8zM4.0,-5.3 2.7,4.0 5.3,12.0 4.0,13.3 1.3,13.3 0.0,6.7 -1.3,13.3 -4.0,13.3 -5.3,12.0 -2.7,4.0 -4.0,-5.3zM-2.0,-6.3 2.0,-6.3 2.0,-5.0 -2.0,-5.0zM4.0,-5.3 8.0,0.0 6.7,2.7 1.3,-4.0zM-1.3,-4.0 -6.7,2.7 -8.0,0.0 -4.0,-5.3z"/>
<path transform="translate(501.8 184.0)" fill="#ffffff" stroke="#ffffff" d="M3.5,-9.3 3.2,-7.8 2.2,-6.5 0.8,-5.9 -0.8,-5.9 -2.2,-6.5 -3.2,-7.8 -3.5,-9.3 -3.2,-10.8 -2.2,-12.1 -0.8,-12.8 0.8,-12.8 2.2,-12.1 3.2,-10.8zM4.0,-5.3 2.7,4.0 5.3,12.0 4.0,13.3 1.3,13.3 0.0,6.7 -1.3,13.3 -4.0,13.3 -5.3,12.0 -2.7,4.0 -4.0,-5.3zM-2.0,-6.3 2.0,-6.3 2.0,-5.0 -2.0,-5.0zM4.0,-5.3 8.0,0.0 6.7,2.7 1.3,-4.0zM-1.3,-4.0 -6.7,2.7 -8.0,0.0 -4.0,-5.3z"/>
<path transform="translate(513.9 170.3)" fill="#ffffff" stroke="#ffffff" d="M3.5,-9.3 3.2,-7.8 2.2,-6.5 0.8,-5.9 -0.8,-5.9 -2.2,-6.5 -3.2,-7.8 -3.5,-9.3 -3.2,-10.8 -2.2,-12.1 -0.8,-12.8 0.8,-12.8 2.2,-12.1 3.2,-10.8zM4.0,-5.3 2.7,4.0 5.3,12.0 4.0,13.3 1.3,13.3 0.0,6.7 -1.3,13.3 -4.0,13.3 -5.3,12.0 -2.7,4.0 -4.0,-5.3zM-2.0,-6.3 2.0,-6.3 2.0,-5.0 -2.0,-5.0zM4.0,-5.3 8.0,0.0 6.7,2.7 1.3,-4.0zM-1.3,-4.0 -6.7,2.7 -8.0,0.0 -4.0,-5.3z"/>
<path transform="translate(515.5 190.4)" fill="#ffffff" stroke="#ffffff" d="M3.5,-9.3 3.2,-7.8 2.2,-6.5 0.8,-5.9 -0.8,-5.9 -2.2,-6.5 -3.2,-7.8 -3.5,-9.3 -3.2,-10.8 -2.2,-12.1 -0.8,-12.8 0.8,-12.8 2.2,-12.1 3.2,-10.8zM4.0,-5.3 2.7,4.0 5.3,12.0 4.0,13.3 1.3,13.3 0.0,6.7 -1.3,13.3 -4.0,13.3 -5.3,12.0 -2.7,4.0 -4.0,-5.3zM-2.0,-6.3 2.0,-6.3 2.0,-5.0 -2.0,-5.0zM4.0,-5.3 8.0,0.0 6.7,2.7 1.3,-4.0zM-1.3,-4.0 -6.7,2.7 -8.0,0.0 -4.0,-5.3z"/>
<path transform="translate(416.4 193.4)" fill="#ffffff" stroke="#ffffff" d="M3.5,-9.3 3.2,-7.8 2.2,-6.5 0.8,-5.9 -0.8,-5.9 -2.2,-6.5 -3.2,-7.8 -3.5,-9.3 -3.2,-10.8 -2.2,-12.1 -0.8,-12.8 0.8,-12.8 2.2,-12.1 3.2,-10.8zM4.0,-5.3 2.7,4.0 5.3,12.0 4.0,13.3 1.3,13.3 0.0,6.7 -1.3,13.3 -4.0,13.3 -5.3,12.0 -2.7,4.0 -4.0,-5.3zM-2.0,-6.3 2.0,-6.3 2.0,-5.0 -2.0,-5.0zM4.0,-5.3 8.0,0.0 6.7,2.7 1.3,-4.0zM-1.3,-4.0 -6.7,2.7 -8.0,0.0 -4.0,-5.3z"/>
<path transform="translate(432.0 206.5)" fill="#ffffff" stroke="#ffffff" d="M3.5,-9.3 3.2,-7.8 2.2,-6.5 0.8,-5.9 -0.8,-5.9 -2.2,-6.5 -3.2,-7.8 -3.5,-9.3 -3.2,-10.8 -2.2,-12.1 -0.8,-12.8 0.8,-12.8 2.2,-12.1 3.2,-10.8zM4.0,-5.3 2.7,4.0 5.3,12.0 4.0,13.3 1.3,13.3 0.0,6.7 -1.3,13.3 -4.0,13.3 -5.3,12.0 -2.7,4.0 -4.0,-5.3zM-2.0,-6.3 2.0,-6.3 2.0,-5.0 -2.0,-5.0zM4.0,-5.3 8.0,0.0 6.7,2.7 1.3,-4.0zM-1.3,-4.0 -6.7,2.7 -8.0,0.0 -4.0,-5.3z"/>
<path transform="translate(432.4 195.5)" fill="#54c4c4" stroke="#54c4c4" d="M3.5,-9.3 3.2,-7.8 2.2,-6.5 0.8,-5.9 -0.8,-5.9 -2.2,-6.5 -3.2,-7.8 -3.5,-9.3 -3.2,-10.8 -2.2,-12.1 -0.8,-12.8 0.8,-12.8 2.2,-12.1 3.2,-10.8zM4.0,-5.3 2.7,4.0 5.3,12.0 4.0,13.3 1.3,13.3 0.0,6.7 -1.3,13.3 -4.0,13.3 -5.3,12.0 -2.7,4.0 -4.0,-5.3zM-2.0,-6.3 2.0,-6.3 2.0,-5.0 -2.0,-5.0zM4.0,-5.3 8.0,0.0 6.7,2.7 1.3,-4.0zM-1.3,-4.0 -6.7,2.7 -8.0,0.0 -4.0,-5.3z"/>
<path transform="translate(448.5 198.5)" fill="#54c4c4" stroke="#54c4c4" d="M3.5,-9.3 3.2,-7.8 2.2,-6.5 0.8,-5.9 -0.8,-5.9 -2.2,-6.5 -3.2,-7.8 -3.5,-9.3 -3.2,-10.8 -2.2,-12.1 -0.8,-12.8 0.8,-12.8 2.2,-12.1 3.2,-10.8zM4.0,-5.3 2.7,4.0 5.3,12.0 4.0,13.3 1.3,13.3 0.0,6.7 -1.3,13.3 -4.0,13.3 -5.3,12.0 -2.7,4.0 -4.0,-5.3zM-2.0,-6.3 2.0,-6.3 2.0,-5.0 -2.0,-5.0zM4.0,-5.3 8.0,0.0 6.7,2.7 1.3,-4.0zM-1.3,-4.0 -6.7,2.7 -8.0,0.0 -4.0,-5.3z"/>
<path transform="translate(457.2 193.2)" fill="#ffffff" stroke="#ffffff" d="M3.5,-9.3 3.2,-7.8 2.2,-6.5 0.8,-5.9 -0.8,-5.9 -2.2,-6.5 -3.2,-7.8 -3.5,-9.3 -3.2,-10.8 -2.2,-12.1 -0.8,-12.8 0.8,-12.8 2.2,-12.1 3.2,-10.8zM4.0,-5.3 2.7,4.0 5.3,12.0 4.0,13.3 1.3,13.3 0.0,6.7 -1.3,13.3 -4.0,13.3 -5.3,12.0 -2.7,4.0 -4.0,-5.3zM-2.0,-6.3 2.0,-6.3 2.0,-5.0 -2.0,-5.0zM4.0,-5.3 8.0,0.0 6.7,2.7 1.3,-4.0zM-1.3,-4.0 -6.7,2.7 -8.0,0.0 -4.0,-5.3z"/>
<path transform="translate(443.0 202.3)" fill="#ffffff" stroke="#ffffff" d="M3.5,-9.3 3.2,-7.8 2.2,-6.5 0.8,-5.9 -0.8,-5.9 -2.2,-6.5 -3.2,-7.8 -3.5,-9.3 -3.2,-10.8 -2.2,-12.1 -0.8,-12.8 0.8,-12.8 2.2,-12.1 3.2,-10.8zM4.0,-5.3 2.7,4.0 5.3,12.0 4.0,13.3 1.3,13.3 0.0,6.7 -1.3,13.3 -4.0,13.3 -5.3,12.0 -2.7,4.0 -4.0,-5.3zM-2.0,-6.3 2.0,-6.3 2.0,-5.0 -2.0,-5.0zM4.0,-5.3 8.0,0.0 6.7,2.7 1.3,-4.0zM-1.3,-4.0 -6.7,2.7 -8.0,0.0 -4.0,-5.3z"/>
<path transform="translate(390.3 193.2)" fill="#54c4c4" stroke="#54c4c4" d="M3.5,-9.3 3.2,-7.8 2.2,-6.5 0.8,-5.9 -0.8,-5.9 -2.2,-6.5 -3.2,-7.8 -3.5,-9.3 -3.2,-10.8 -2.2,-12.1 -0.8,-12.8 0.8,-12.8 2.2,-12.1 3.2,-10.8zM4.0,-5.3 2.7,4.0 5.3,12.0 4.0,13.3 1.3,13.3 0.0,6.7 -1.3,13.3 -4.0,13.3 -5.3,12.0 -2.7,4.0 -4.0,-5.3zM-2.0,-6.3 2.0,-6.3 2.0,-5.0 -2.0,-5.0zM4.0,-5.3 8.0,0.0 6.7,2.7 1.3,-4.0zM-1.3,-4.0 -6.7,2.7 -8.0,0.0 -4.0,-5.3z"/>
<path transform="translate(474.3 213.3)" fill="#54c4c4" stroke="#54c4c4" d="M3.5,-9.3 3.2,-7.8 2.2,-6.5 0.8,-5.9 -0.8,-5.9 -2.2,-6.5 -3.2,-7.8 -3.5,-9.3 -3.2,-10.8 -2.2,-12.1 -0.8,-12.8 0.8,-12.8 2.2,-12.1 3.2,-10.8zM4.0,-5.3 2.7,4.0 5.3,12.0 4.0,13.3 1.3,13.3 0.0,6.7 -1.3,13.3 -4.0,13.3 -5.3,12.0 -2.7,4.0 -4.0,-5.3zM-2.0,-6.3 2.0,-6.3 2.0,-5.0 -2.0,-5.0zM4.0,-5.3 8.0,0.0 6.7,2.7 1.3,-4.0zM-1.3,-4.0 -6.7,2.7 -8.0,0.0 -4.0,-5.3z"/>
<path transform="translate(496.1 208.8)" fill="#54c4c4" stroke="#54c4c4" d="M3.5,-9.3 3.2,-7.8 2.2,-6.5 0.8,-5.9 -0.8,-5.9 -2.2,-6.5 -3.2,-7.8 -3.5,-9.3 -3.2,-10.8 -2.2,-12.1 -0.8,-12.8 0.8,-12.8 2.2,-12.1 3.2,-10.8zM4.0,-5.3 2.7,4.0 5.3,12.0 4.0,13.3 1.3,13.3 0.0,6.7 -1.3,13.3 -4.0,13.3 -5.3,12.0 -2.7,4.0 -4.0,-5.3zM-2.0,-6.3 2.0,-6.3 2.0,-5.0 -2.0,-5.0zM4.0,-5.3 8.0,0.0 6.7,2.7 1.3,-4.0zM-1.3,-4.0 -6.7,2.7 -8.0,0.0 -4.0,-5.3z"/>
<path transform="translate(492.6 228.2)" fill="#54c4c4" stroke="#54c4c4" d="M3.5,-9.3 3.2,-7.8 2.2,-6.5 0.8,-5.9 -0.8,-5.9 -2.2,-6.5 -3.2,-7.8 -3.5,-9.3 -3.2,-10.8 -2.2,-12.1 -0.8,-12.8 0.8,-12.8 2.2,-12.1 3.2,-10.8zM4.0,-5.3 2.7,4.0 5.3,12.0 4.0,13.3 1.3,13.3 0.0,6.7 -1.3,13.3 -4.0,13.3 -5.3,12.0 -2.7,4.0 -4.0,-5.3zM-2.0,-6.3 2.0,-6.3 2.0,-5.0 -2.0,-5.0zM4.0,-5.3 8.0,0.0 6.7,2.7 1.3,-4.0zM-1.3,-4.0 -6.7,2.7 -8.0,0.0 -4.0,-5.3z"/>
<path transform="translate(513.2 241.9)" fill="#7c50a4" stroke="#7c50a4" d="M3.5,-9.3 3.2,-7.8 2.2,-6.5 0.8,-5.9 -0.8,-5.9 -2.2,-6.5 -3.2,-7.8 -3.5,-9.3 -3.2,-10.8 -2.2,-12.1 -0.8,-12.8 0.8,-12.8 2.2,-12.1 3.2,-10.8zM4.0,-5.3 2.7,4.0 5.3,12.0 4.0,13.3 1.3,13.3 0.0,6.7 -1.3,13.3 -4.0,13.3 -5.3,12.0 -2.7,4.0 -4.0,-5.3zM-2.0,-6.3 2.0,-6.3 2.0,-5.0 -2.0,-5.0zM4.0,-5.3 8.0,0.0 6.7,2.7 1.3,-4.0zM-1.3,-4.0 -6.7,2.7 -8.0,0.0 -4.0,-5.3z"/>
<path transform="translate(505.2 235.1)" fill="#54c4c4" stroke="#54c4c4" d="M3.5,-9.3 3.2,-7.8 2.2,-6.5 0.8,-5.9 -0.8,-5.9 -2.2,-6.5 -3.2,-7.8 -3.5,-9.3 -3.2,-10.8 -2.2,-12.1 -0.8,-12.8 0.8,-12.8 2.2,-12.1 3.2,-10.8zM4.0,-5.3 2.7,4.0 5.3,12.0 4.0,13.3 1.3,13.3 0.0,6.7 -1.3,13.3 -4.0,13.3 -5.3,12.0 -2.7,4.0 -4.0,-5.3zM-2.0,-6.3 2.0,-6.3 2.0,-5.0 -2.0,-5.0zM4.0,-5.3 8.0,0.0 6.7,2.7 1.3,-4.0zM-1.3,-4.0 -6.7,2.7 -8.0,0.0 -4.0,-5.3z"/>
<path transform="translate(509.8 239.6)" fill="#54c4c4" stroke="#54c4c4" d="M3.5,-9.3 3.2,-7.8 2.2,-6.5 0.8,-5.9 -0.8,-5.9 -2.2,-6.5 -3.2,-7.8 -3.5,-9.3 -3.2,-10.8 -2.2,-12.1 -0.8,-12.8 0.8,-12.8 2.2,-12.1 3.2,-10.8zM4.0,-5.3 2.7,4.0 5.3,12.0 4.0,13.3 1.3,13.3 0.0,6.7 -1.3,13.3 -4.0,13.3 -5.3,12.0 -2.7,4.0 -4.0,-5.3zM-2.0,-6.3 2.0,-6.3 2.0,-5.0 -2.0,-5.0zM4.0,-5.3 8.0,0.0 6.7,2.7 1.3,-4.0zM-1.3,-4.0 -6.7,2.7 -8.0,0.0 -4.0,-5.3z"/>
<path transform="translate(516.2 214.5)" fill="#ffffff" stroke="#ffffff" d="M3.5,-9.3 3.2,-7.8 2.2,-6.5 0.8,-5.9 -0.8,-5.9 -2.2,-6.5 -3.2,-7.8 -3.5,-9.3 -3.2,-10.8 -2.2,-12.1 -0.8,-12.8 0.8,-12.8 2.2,-12.1 3.2,-10.8zM4.0,-5.3 2.7,4.0 5.3,12.0 4.0,13.3 1.3,13.3 0.0,6.7 -1.3,13.3 -4.0,13.3 -5.3,12.0 -2.7,4.0 -4.0,-5.3zM-2.0,-6.3 2.0,-6.3 2.0,-5.0 -2.0,-5.0zM4.0,-5.3 8.0,0.0 6.7,2.7 1.3,-4.0zM-1.3,-4.0 -6.7,2.7 -8.0,0.0 -4.0,-5.3z"/>
<path transform="translate(406.8 225.9)" fill="#ffffff" stroke="#ffffff" d="M3.5,-9.3 3.2,-7.8 2.2,-6.5 0.8,-5.9 -0.8,-5.9 -2.2,-6.5 -3.2,-7.8 -3.5,-9.3 -3.2,-10.8 -2.2,-12.1 -0.8,-12.8 0.8,-12.8 2.2,-12.1 3.2,-10.8zM4.0,-5.3 2.7,4.0 5.3,12.0 4.0,13.3 1.3,13.3 0.0,6.7 -1.3,13.3 -4.0,13.3 -5.3,12.0 -2.7,4.0 -4.0,-5.3zM-2.0,-6.3 2.0,-6.3 2.0,-5.0 -2.0,-5.0zM4.0,-5.3 8.0,0.0 6.7,2.7 1.3,-4.0zM-1.3,-4.0 -6.7,2.7 -8.0,0.0 -4.0,-5.3z"/>
<path transform="translate(398.8 237.4)" fill="#ffffff" stroke="#ffffff" d="M3.5,-9.3 3.2,-7.8 2.2,-6.5 0.8,-5.9 -0.8,-5.9 -2.2,-6.5 -3.2,-7.8 -3.5,-9.3 -3.2,-10.8 -2.2,-12.1 -0.8,-12.8 0.8,-12.8 2.2,-12.1 3.2,-10.8zM4.0,-5.3 2.7,4.0 5.3,12.0 4.0,13.3 1.3,13.3 0.0,6.7 -1.3,13.3 -4.0,13.3 -5.3,12.0 -2.7,4.0 -4.0,-5.3zM-2.0,-6.3 2.0,-6.3 2.0,-5.0 -2.0,-5.0zM4.0,-5.3 8.0,0.0 6.7,2.7 1.3,-4.0zM-1.3,-4.0 -6.7,2.7 -8.0,0.0 -4.0,-5.3z"/>
<path transform="translate(388.5 237.4)" fill="#ffffff" stroke="#ffffff" d="M3.5,-9.3 3.2,-7.8 2.2,-6.5 0.8,-5.9 -0.8,-5.9 -2.2,-6.5 -3.2,-7.8 -3.5,-9.3 -3.2,-10.8 -2.2,-12.1 -0.8,-12.8 0.8,-12.8 2.2,-12.1 3.2,-10.8zM4.0,-5.3 2.7,4.0 5.3,12.0 4.0,13.3 1.3,13.3 0.0,6.7 -1.3,13.3 -4.0,13.3 -5.3,12.0 -2.7,4.0 -4.0,-5.3zM-2.0,-6.3 2.0,-6.3 2.0,-5.0 -2.0,-5.0zM4.0,-5.3 8.0,0.0 6.7,2.7 1.3,-4.0zM-1.3,-4.0 -6.7,2.7 -8.0,0.0 -4.0,-5.3z"/>
<path transform="translate(445.3 230.5)" fill="#ffffff" stroke="#ffffff" d="M3.5,-9.3 3.2,-7.8 2.2,-6.5 0.8,-5.9 -0.8,-5.9 -2.2,-6.5 -3.2,-7.8 -3.5,-9.3 -3.2,-10.8 -2.2,-12.1 -0.8,-12.8 0.8,-12.8 2.2,-12.1 3.2,-10.8zM4.0,-5.3 2.7,4.0 5.3,12.0 4.0,13.3 1.3,13.3 0.0,6.7 -1.3,13.3 -4.0,13.3 -5.3,12.0 -2.7,4.0 -4.0,-5.3zM-2.0,-6.3 2.0,-6.3 2.0,-5.0 -2.0,-5.0zM4.0,-5.3 8.0,0.0 6.7,2.7 1.3,-4.0zM-1.3,-4.0 -6.7,2.7 -8.0,0.0 -4.0,-5.3z"/>
<path transform="translate(461.7 247.7)" fill="#ffffff" stroke="#ffffff" d="M3.5,-9.3 3.2,-7.8 2.2,-6.5 0.8,-5.9 -0.8,-5.9 -2.2,-6.5 -3.2,-7.8 -3.5,-9.3 -3.2,-10.8 -2.2,-12.1 -0.8,-12.8 0.8,-12.8 2.2,-12.1 3.2,-10.8zM4.0,-5.3 2.7,4.0 5.3,12.0 4.0,13.3 1.3,13.3 0.0,6.7 -1.3,13.3 -4.0,13.3 -5.3,12.0 -2.7,4.0 -4.0,-5.3zM-2.0,-6.3 2.0,-6.3 2.0,-5.0 -2.0,-5.0zM4.0,-5.3 8.0,0.0 6.7,2.7 1.3,-4.0zM-1.3,-4.0 -6.7,2.7 -8.0,0.0 -4.0,-5.3z"/>
<path transform="translate(462.2 233.9)" fill="#7c50a4" stroke="#7c50a4" d="M3.5,-9.3 3.2,-7.8 2.2,-6.5 0.8,-5.9 -0.8,-5.9 -2.2,-6.5 -3.2,-7.8 -3.5,-9.3 -3.2,-10.8 -2.2,-12.1 -0.8,-12.8 0.8,-12.8 2.2,-12.1 3.2,-10.8zM4.0,-5.3 2.7,4.0 5.3,12.0 4.0,13.3 1.3,13.3 0.0,6.7 -1.3,13.3 -4.0,13.3 -5.3,12.0 -2.7,4.0 -4.0,-5.3zM-2.0,-6.3 2.0,-6.3 2.0,-5.0 -2.0,-5.0zM4.0,-5.3 8.0,0.0 6.7,2.7 1.3,-4.0zM-1.3,-4.0 -6.7,2.7 -8.0,0.0 -4.0,-5.3z"/>
<path transform="translate(417.1 258.4)" fill="#d73229" stroke="#d73229" d="M3.5,-9.3 3.2,-7.8 2.2,-6.5 0.8,-5.9 -0.8,-5.9 -2.2,-6.5 -3.2,-7.8 -3.5,-9.3 -3.2,-10.8 -2.2,-12.1 -0.8,-12.8 0.8,-12.8 2.2,-12.1 3.2,-10.8zM4.0,-5.3 2.7,4.0 5.3,12.0 4.0,13.3 1.3,13.3 0.0,6.7 -1.3,13.3 -4.0,13.3 -5.3,12.0 -2.7,4.0 -4.0,-5.3zM-2.0,-6.3 2.0,-6.3 2.0,-5.0 -2.0,-5.0zM4.0,-5.3 8.0,0.0 6.7,2.7 1.3,-4.0zM-1.3,-4.0 -6.7,2.7 -8.0,0.0 -4.0,-5.3z"/>
<path transform="translate(403.4 267.1)" fill="#54c4c4" stroke="#54c4c4" d="M3.5,-9.3 3.2,-7.8 2.2,-6.5 0.8,-5.9 -0.8,-5.9 -2.2,-6.5 -3.2,-7.8 -3.5,-9.3 -3.2,-10.8 -2.2,-12.1 -0.8,-12.8 0.8,-12.8 2.2,-12.1 3.2,-10.8zM4.0,-5.3 2.7,4.0 5.3,12.0 4.0,13.3 1.3,13.3 0.0,6.7 -1.3,13.3 -4.0,13.3 -5.3,12.0 -2.7,4.0 -4.0,-5.3zM-2.0,-6.3 2.0,-6.3 2.0,-5.0 -2.0,-5.0zM4.0,-5.3 8.0,0.0 6.7,2.7 1.3,-4.0zM-1.3,-4.0 -6.7,2.7 -8.0,0.0 -4.0,-5.3z"/>
<path transform="translate(8.8 272.4)" fill="#d73229" stroke="#d73229" d="M3.5,-9.3 3.2,-7.8 2.2,-6.5 0.8,-5.9 -0.8,-5.9 -2.2,-6.5 -3.2,-7.8 -3.5,-9.3 -3.2,-10.8 -2.2,-12.1 -0.8,-12.8 0.8,-12.8 2.2,-12.1 3.2,-10.8zM4.0,-5.3 2.7,4.0 5.3,12.0 4.0,13.3 1.3,13.3 0.0,6.7 -1.3,13.3 -4.0,13.3 -5.3,12.0 -2.7,4.0 -4.0,-5.3zM-2.0,-6.3 2.0,-6.3 2.0,-5.0 -2.0,-5.0zM4.0,-5.3 8.0,0.0 6.7,2.7 1.3,-4.0zM-1.3,-4.0 -6.7,2.7 -8.0,0.0 -4.0,-5.3z"/>
<path transform="translate(22.5 285.0)" fill="#54c4c4" stroke="#54c4c4" d="M3.5,-9.3 3.2,-7.8 2.2,-6.5 0.8,-5.9 -0.8,-5.9 -2.2,-6.5 -3.2,-7.8 -3.5,-9.3 -3.2,-10.8 -2.2,-12.1 -0.8,-12.8 0.8,-12.8 2.2,-12.1 3.2,-10.8zM4.0,-5.3 2.7,4.0 5.3,12.0 4.0,13.3 1.3,13.3 0.0,6.7 -1.3,13.3 -4.0,13.3 -5.3,12.0 -2.7,4.0 -4.0,-5.3zM-2.0,-6.3 2.0,-6.3 2.0,-5.0 -2.0,-5.0zM4.0,-5.3 8.0,0.0 6.7,2.7 1.3,-4.0zM-1.3,-4.0 -6.7,2.7 -8.0,0.0 -4.0,-5.3z"/>
<path transform="translate(13.4 295.3)" fill="#54c4c4" stroke="#54c4c4" d="M3.5,-9.3 3.2,-7.8 2.2,-6.5 0.8,-5.9 -0.8,-5.9 -2.2,-6.5 -3.2,-7.8 -3.5,-9.3 -3.2,-10.8 -2.2,-12.1 -0.8,-12.8 0.8,-12.8 2.2,-12.1 3.2,-10.8zM4.0,-5.3 2.7,4.0 5.3,12.0 4.0,13.3 1.3,13.3 0.0,6.7 -1.3,13.3 -4.0,13.3 -5.3,12.0 -2.7,4.0 -4.0,-5.3zM-2.0,-6.3 2.0,-6.3 2.0,-5.0 -2.0,-5.0zM4.0,-5.3 8.0,0.0 6.7,2.7 1.3,-4.0zM-1.3,-4.0 -6.7,2.7 -8.0,0.0 -4.0,-5.3z"/>
<path transform="translate(15.0 298.7)" fill="#f16a15" stroke="#f16a15" d="M12.0,-4.5 12.3,-3.1 14.7,-2.3 14.9,-1.6 14.3,-1.0 12.7,-0.9 13.4,0.1 10.9,-0.5 9.2,-0.6 7.7,1.4 6.0,3.4 4.2,4.8 4.5,8.0 5.7,10.8 6.9,11.2 6.7,12.1 5.0,12.1 4.8,11.0 3.6,9.0 2.8,9.7 1.9,11.4 0.4,11.5 1.0,9.8 1.7,10.1 2.3,8.8 2.2,6.3 1.6,6.0 1.0,4.5 -0.7,5.2 -3.1,5.1 -5.2,4.6 -5.0,5.7 -7.1,8.1 -7.3,8.9 -4.7,11.1 -5.0,11.7 -6.6,11.8 -6.8,11.1 -8.5,9.3 -8.4,7.8 -7.5,5.9 -8.2,4.8 -9.0,5.6 -11.9,8.0 -11.9,10.3 -11.0,11.0 -11.2,11.6 -12.3,11.5 -13.0,10.7 -13.0,7.6 -11.2,5.5 -11.2,4.3 -12.0,4.1 -13.7,4.7 -14.8,4.4zM-15.1,4.5 -13.6,3.0 -11.4,1.6 -11.0,0.3 -9.7,-1.0 -6.8,-1.9 -1.6,-1.7 0.9,-2.4 3.8,-3.5 7.7,-4.2 8.6,-4.8 8.8,-5.2 11.8,-6.4 11.9,-5.8 13.1,-6.3 11.9,-4.7 11.9,-3.7z"/>
<path transform="translate(59.2 291.8)" fill="#ffffff" stroke="#ffffff" d="M3.5,-9.3 3.2,-7.8 2.2,-6.5 0.8,-5.9 -0.8,-5.9 -2.2,-6.5 -3.2,-7.8 -3.5,-9.3 -3.2,-10.8 -2.2,-12.1 -0.8,-12.8 0.8,-12.8 2.2,-12.1 3.2,-10.8zM4.0,-5.3 2.7,4.0 5.3,12.0 4.0,13.3 1.3,13.3 0.0,6.7 -1.3,13.3 -4.0,13.3 -5.3,12.0 -2.7,4.0 -4.0,-5.3zM-2.0,-6.3 2.0,-6.3 2.0,-5.0 -2.0,-5.0zM4.0,-5.3 8.0,0.0 6.7,2.7 1.3,-4.0zM-1.3,-4.0 -6.7,2.7 -8.0,0.0 -4.0,-5.3z"/>
<path transform="translate(74.0 301.0)" fill="#ffffff" stroke="#ffffff" d="M3.5,-9.3 3.2,-7.8 2.2,-6.5 0.8,-5.9 -0.8,-5.9 -2.2,-6.5 -3.2,-7.8 -3.5,-9.3 -3.2,-10.8 -2.2,-12.1 -0.8,-12.8 0.8,-12.8 2.2,-12.1 3.2,-10.8zM4.0,-5.3 2.7,4.0 5.3,12.0 4.0,13.3 1.3,13.3 0.0,6.7 -1.3,13.3 -4.0,13.3 -5.3,12.0 -2.7,4.0 -4.0,-5.3zM-2.0,-6.3 2.0,-6.3 2.0,-5.0 -2.0,-5.0zM4.0,-5.3 8.0,0.0 6.7,2.7 1.3,-4.0zM-1.3,-4.0 -6.7,2.7 -8.0,0.0 -4.0,-5.3z"/>
<path transform="translate(78.6 297.6)" fill="#ffffff" stroke="#ffffff" d="M3.5,-9.3 3.2,-7.8 2.2,-6.5 0.8,-5.9 -0.8,-5.9 -2.2,-6.5 -3.2,-7.8 -3.5,-9.3 -3.2,-10.8 -2.2,-12.1 -0.8,-12.8 0.8,-12.8 2.2,-12.1 3.2,-10.8zM4.0,-5.3 2.7,4.0 5.3,12.0 4.0,13.3 1.3,13.3 0.0,6.7 -1.3,13.3 -4.0,13.3 -5.3,12.0 -2.7,4.0 -4.0,-5.3zM-2.0,-6.3 2.0,-6.3 2.0,-5.0 -2.0,-5.0zM4.0,-5.3 8.0,0.0 6.7,2.7 1.3,-4.0zM-1.3,-4.0 -6.7,2.7 -8.0,0.0 -4.0,-5.3z"/>
<path transform="translate(99.7 272.8)" fill="#ffffff" stroke="#ffffff" d="M3.5,-9.3 3.2,-7.8 2.2,-6.5 0.8,-5.9 -0.8,-5.9 -2.2,-6.5 -3.2,-7.8 -3.5,-9.3 -3.2,-10.8 -2.2,-12.1 -0.8,-12.8 0.8,-12.8 2.2,-12.1 3.2,-10.8zM4.0,-5.3 2.7,4.0 5.3,12.0 4.0,13.3 1.3,13.3 0.0,6.7 -1.3,13.3 -4.0,13.3 -5.3,12.0 -2.7,4.0 -4.0,-5.3zM-2.0,-6.3 2.0,-6.3 2.0,-5.0 -2.0,-5.0zM4.0,-5.3 8.0,0.0 6.7,2.7 1.3,-4.0zM-1.3,-4.0 -6.7,2.7 -8.0,0.0 -4.0,-5.3z"/>
<path transform="translate(117.5 272.8)" fill="#ffffff" stroke="#ffffff" d="M3.5,-9.3 3.2,-7.8 2.2,-6.5 0.8,-5.9 -0.8,-5.9 -2.2,-6.5 -3.2,-7.8 -3.5,-9.3 -3.2,-10.8 -2.2,-12.1 -0.8,-12.8 0.8,-12.8 2.2,-12.1 3.2,-10.8zM4.0,-5.3 2.7,4.0 5.3,12.0 4.0,13.3 1.3,13.3 0.0,6.7 -1.3,13.3 -4.0,13.3 -5.3,12.0 -2.7,4.0 -4.0,-5.3zM-2.0,-6.3 2.0,-6.3 2.0,-5.0 -2.0,-5.0zM4.0,-5.3 8.0,0.0 6.7,2.7 1.3,-4.0zM-1.3,-4.0 -6.7,2.7 -8.0,0.0 -4.0,-5.3z"/>
<path transform="translate(110.6 295.7)" fill="#ffffff" stroke="#ffffff" d="M3.5,-9.3 3.2,-7.8 2.2,-6.5 0.8,-5.9 -0.8,-5.9 -2.2,-6.5 -3.2,-7.8 -3.5,-9.3 -3.2,-10.8 -2.2,-12.1 -0.8,-12.8 0.8,-12.8 2.2,-12.1 3.2,-10.8zM4.0,-5.3 2.7,4.0 5.3,12.0 4.0,13.3 1.3,13.3 0.0,6.7 -1.3,13.3 -4.0,13.3 -5.3,12.0 -2.7,4.0 -4.0,-5.3zM-2.0,-6.3 2.0,-6.3 2.0,-5.0 -2.0,-5.0zM4.0,-5.3 8.0,0.0 6.7,2.7 1.3,-4.0zM-1.3,-4.0 -6.7,2.7 -8.0,0.0 -4.0,-5.3z"/>
<path transform="translate(125.5 311.7)" fill="#ffffff" stroke="#ffffff" d="M3.5,-9.3 3.2,-7.8 2.2,-6.5 0.8,-5.9 -0.8,-5.9 -2.2,-6.5 -3.2,-7.8 -3.5,-9.3 -3.2,-10.8 -2.2,-12.1 -0.8,-12.8 0.8,-12.8 2.2,-12.1 3.2,-10.8zM4.0,-5.3 2.7,4.0 5.3,12.0 4.0,13.3 1.3,13.3 0.0,6.7 -1.3,13.3 -4.0,13.3 -5.3,12.0 -2.7,4.0 -4.0,-5.3zM-2.0,-6.3 2.0,-6.3 2.0,-5.0 -2.0,-5.0zM4.0,-5.3 8.0,0.0 6.7,2.7 1.3,-4.0zM-1.3,-4.0 -6.7,2.7 -8.0,0.0 -4.0,-5.3z"/>
<path transform="translate(38.6 309.0)" fill="#54c4c4" stroke="#54c4c4" d="M3.5,-9.3 3.2,-7.8 2.2,-6.5 0.8,-5.9 -0.8,-5.9 -2.2,-6.5 -3.2,-7.8 -3.5,-9.3 -3.2,-10.8 -2.2,-12.1 -0.8,-12.8 0.8,-12.8 2.2,-12.1 3.2,-10.8zM4.0,-5.3 2.7,4.0 5.3,12.0 4.0,13.3 1.3,13.3 0.0,6.7 -1.3,13.3 -4.0,13.3 -5.3,12.0 -2.7,4.0 -4.0,-5.3zM-2.0,-6.3 2.0,-6.3 2.0,-5.0 -2.0,-5.0zM4.0,-5.3 8.0,0.0 6.7,2.7 1.3,-4.0zM-1.3,-4.0 -6.7,2.7 -8.0,0.0 -4.0,-5.3z"/>
<path transform="translate(44.3 312.4)" fill="#ffffff" stroke="#ffffff" d="M3.5,-9.3 3.2,-7.8 2.2,-6.5 0.8,-5.9 -0.8,-5.9 -2.2,-6.5 -3.2,-7.8 -3.5,-9.3 -3.2,-10.8 -2.2,-12.1 -0.8,-12.8 0.8,-12.8 2.2,-12.1 3.2,-10.8zM4.0,-5.3 2.7,4.0 5.3,12.0 4.0,13.3 1.3,13.3 0.0,6.7 -1.3,13.3 -4.0,13.3 -5.3,12.0 -2.7,4.0 -4.0,-5.3zM-2.0,-6.3 2.0,-6.3 2.0,-5.0 -2.0,-5.0zM4.0,-5.3 8.0,0.0 6.7,2.7 1.3,-4.0zM-1.3,-4.0 -6.7,2.7 -8.0,0.0 -4.0,-5.3z"/>
<path transform="translate(50.0 307.9)" fill="#54c4c4" stroke="#54c4c4" d="M3.5,-9.3 3.2,-7.8 2.2,-6.5 0.8,-5.9 -0.8,-5.9 -2.2,-6.5 -3.2,-7.8 -3.5,-9.3 -3.2,-10.8 -2.2,-12.1 -0.8,-12.8 0.8,-12.8 2.2,-12.1 3.2,-10.8zM4.0,-5.3 2.7,4.0 5.3,12.0 4.0,13.3 1.3,13.3 0.0,6.7 -1.3,13.3 -4.0,13.3 -5.3,12.0 -2.7,4.0 -4.0,-5.3zM-2.0,-6.3 2.0,-6.3 2.0,-5.0 -2.0,-5.0zM4.0,-5.3 8.0,0.0 6.7,2.7 1.3,-4.0zM-1.3,-4.0 -6.7,2.7 -8.0,0.0 -4.0,-5.3z"/>
<path transform="translate(55.7 306.7)" fill="#54c4c4" stroke="#54c4c4" d="M3.5,-9.3 3.2,-7.8 2.2,-6.5 0.8,-5.9 -0.8,-5.9 -2.2,-6.5 -3.2,-7.8 -3.5,-9.3 -3.2,-10.8 -2.2,-12.1 -0.8,-12.8 0.8,-12.8 2.2,-12.1 3.2,-10.8zM4.0,-5.3 2.7,4.0 5.3,12.0 4.0,13.3 1.3,13.3 0.0,6.7 -1.3,13.3 -4.0,13.3 -5.3,12.0 -2.7,4.0 -4.0,-5.3zM-2.0,-6.3 2.0,-6.3 2.0,-5.0 -2.0,-5.0zM4.0,-5.3 8.0,0.0 6.7,2.7 1.3,-4.0zM-1.3,-4.0 -6.7,2.7 -8.0,0.0 -4.0,-5.3z"/>
<path transform="translate(48.4 328.9)" fill="#7c50a4" stroke="#7c50a4" d="M3.5,-9.3 3.2,-7.8 2.2,-6.5 0.8,-5.9 -0.8,-5.9 -2.2,-6.5 -3.2,-7.8 -3.5,-9.3 -3.2,-10.8 -2.2,-12.1 -0.8,-12.8 0.8,-12.8 2.2,-12.1 3.2,-10.8zM4.0,-5.3 2.7,4.0 5.3,12.0 4.0,13.3 1.3,13.3 0.0,6.7 -1.3,13.3 -4.0,13.3 -5.3,12.0 -2.7,4.0 -4.0,-5.3zM-2.0,-6.3 2.0,-6.3 2.0,-5.0 -2.0,-5.0zM4.0,-5.3 8.0,0.0 6.7,2.7 1.3,-4.0zM-1.3,-4.0 -6.7,2.7 -8.0,0.0 -4.0,-5.3z"/>
<path transform="translate(23.7 333.0)" fill="#54c4c4" stroke="#54c4c4" d="M3.5,-9.3 3.2,-7.8 2.2,-6.5 0.8,-5.9 -0.8,-5.9 -2.2,-6.5 -3.2,-7.8 -3.5,-9.3 -3.2,-10.8 -2.2,-12.1 -0.8,-12.8 0.8,-12.8 2.2,-12.1 3.2,-10.8zM4.0,-5.3 2.7,4.0 5.3,12.0 4.0,13.3 1.3,13.3 0.0,6.7 -1.3,13.3 -4.0,13.3 -5.3,12.0 -2.7,4.0 -4.0,-5.3zM-2.0,-6.3 2.0,-6.3 2.0,-5.0 -2.0,-5.0zM4.0,-5.3 8.0,0.0 6.7,2.7 1.3,-4.0zM-1.3,-4.0 -6.7,2.7 -8.0,0.0 -4.0,-5.3z"/>
<path transform="translate(13.4 337.6)" fill="#7c50a4" stroke="#7c50a4" d="M3.5,-9.3 3.2,-7.8 2.2,-6.5 0.8,-5.9 -0.8,-5.9 -2.2,-6.5 -3.2,-7.8 -3.5,-9.3 -3.2,-10.8 -2.2,-12.1 -0.8,-12.8 0.8,-12.8 2.2,-12.1 3.2,-10.8zM4.0,-5.3 2.7,4.0 5.3,12.0 4.0,13.3 1.3,13.3 0.0,6.7 -1.3,13.3 -4.0,13.3 -5.3,12.0 -2.7,4.0 -4.0,-5.3zM-2.0,-6.3 2.0,-6.3 2.0,-5.0 -2.0,-5.0zM4.0,-5.3 8.0,0.0 6.7,2.7 1.3,-4.0zM-1.3,-4.0 -6.7,2.7 -8.0,0.0 -4.0,-5.3z"/>
<path transform="translate(26.4 342.2)" fill="#ffffff" stroke="#ffffff" d="M3.5,-9.3 3.2,-7.8 2.2,-6.5 0.8,-5.9 -0.8,-5.9 -2.2,-6.5 -3.2,-7.8 -3.5,-9.3 -3.2,-10.8 -2.2,-12.1 -0.8,-12.8 0.8,-12.8 2.2,-12.1 3.2,-10.8zM4.0,-5.3 2.7,4.0 5.3,12.0 4.0,13.3 1.3,13.3 0.0,6.7 -1.3,13.3 -4.0,13.3 -5.3,12.0 -2.7,4.0 -4.0,-5.3zM-2.0,-6.3 2.0,-6.3 2.0,-5.0 -2.0,-5.0zM4.0,-5.3 8.0,0.0 6.7,2.7 1.3,-4.0zM-1.3,-4.0 -6.7,2.7 -8.0,0.0 -4.0,-5.3z"/>
<path transform="translate(29.4 347.9)" fill="#ffffff" stroke="#ffffff" d="M3.5,-9.3 3.2,-7.8 2.2,-6.5 0.8,-5.9 -0.8,-5.9 -2.2,-6.5 -3.2,-7.8 -3.5,-9.3 -3.2,-10.8 -2.2,-12.1 -0.8,-12.8 0.8,-12.8 2.2,-12.1 3.2,-10.8zM4.0,-5.3 2.7,4.0 5.3,12.0 4.0,13.3 1.3,13.3 0.0,6.7 -1.3,13.3 -4.0,13.3 -5.3,12.0 -2.7,4.0 -4.0,-5.3zM-2.0,-6.3 2.0,-6.3 2.0,-5.0 -2.0,-5.0zM4.0,-5.3 8.0,0.0 6.7,2.7 1.3,-4.0zM-1.3,-4.0 -6.7,2.7 -8.0,0.0 -4.0,-5.3z"/>
<path transform="translate(4.2 359.3)" fill="#ffffff" stroke="#ffffff" d="M3.5,-9.3 3.2,-7.8 2.2,-6.5 0.8,-5.9 -0.8,-5.9 -2.2,-6.5 -3.2,-7.8 -3.5,-9.3 -3.2,-10.8 -2.2,-12.1 -0.8,-12.8 0.8,-12.8 2.2,-12.1 3.2,-10.8zM4.0,-5.3 2.7,4.0 5.3,12.0 4.0,13.3 1.3,13.3 0.0,6.7 -1.3,13.3 -4.0,13.3 -5.3,12.0 -2.7,4.0 -4.0,-5.3zM-2.0,-6.3 2.0,-6.3 2.0,-5.0 -2.0,-5.0zM4.0,-5.3 8.0,0.0 6.7,2.7 1.3,-4.0zM-1.3,-4.0 -6.7,2.7 -8.0,0.0 -4.0,-5.3z"/>
<path transform="translate(8.8 358.2)" fill="#ffffff" stroke="#ffffff" d="M3.5,-9.3 3.2,-7.8 2.2,-6.5 0.8,-5.9 -0.8,-5.9 -2.2,-6.5 -3.2,-7.8 -3.5,-9.3 -3.2,-10.8 -2.2,-12.1 -0.8,-12.8 0.8,-12.8 2.2,-12.1 3.2,-10.8zM4.0,-5.3 2.7,4.0 5.3,12.0 4.0,13.3 1.3,13.3 0.0,6.7 -1.3,13.3 -4.0,13.3 -5.3,12.0 -2.7,4.0 -4.0,-5.3zM-2.0,-6.3 2.0,-6.3 2.0,-5.0 -2.0,-5.0zM4.0,-5.3 8.0,0.0 6.7,2.7 1.3,-4.0zM-1.3,-4.0 -6.7,2.7 -8.0,0.0 -4.0,-5.3z"/>
<path transform="translate(57.5 358.7)" fill="#7c50a4" stroke="#7c50a4" d="M3.5,-9.3 3.2,-7.8 2.2,-6.5 0.8,-5.9 -0.8,-5.9 -2.2,-6.5 -3.2,-7.8 -3.5,-9.3 -3.2,-10.8 -2.2,-12.1 -0.8,-12.8 0.8,-12.8 2.2,-12.1 3.2,-10.8zM4.0,-5.3 2.7,4.0 5.3,12.0 4.0,13.3 1.3,13.3 0.0,6.7 -1.3,13.3 -4.0,13.3 -5.3,12.0 -2.7,4.0 -4.0,-5.3zM-2.0,-6.3 2.0,-6.3 2.0,-5.0 -2.0,-5.0zM4.0,-5.3 8.0,0.0 6.7,2.7 1.3,-4.0zM-1.3,-4.0 -6.7,2.7 -8.0,0.0 -4.0,-5.3z"/>
<path transform="translate(89.4 362.3)" fill="#ffffff" stroke="#ffffff" d="M3.5,-9.3 3.2,-7.8 2.2,-6.5 0.8,-5.9 -0.8,-5.9 -2.2,-6.5 -3.2,-7.8 -3.5,-9.3 -3.2,-10.8 -2.2,-12.1 -0.8,-12.8 0.8,-12.8 2.2,-12.1 3.2,-10.8zM4.0,-5.3 2.7,4.0 5.3,12.0 4.0,13.3 1.3,13.3 0.0,6.7 -1.3,13.3 -4.0,13.3 -5.3,12.0 -2.7,4.0 -4.0,-5.3zM-2.0,-6.3 2.0,-6.3 2.0,-5.0 -2.0,-5.0zM4.0,-5.3 8.0,0.0 6.7,2.7 1.3,-4.0zM-1.3,-4.0 -6.7,2.7 -8.0,0.0 -4.0,-5.3z"/>
<path transform="translate(123.9 354.8)" fill="#54c4c4" stroke="#54c4c4" d="M3.5,-9.3 3.2,-7.8 2.2,-6.5 0.8,-5.9 -0.8,-5.9 -2.2,-6.5 -3.2,-7.8 -3.5,-9.3 -3.2,-10.8 -2.2,-12.1 -0.8,-12.8 0.8,-12.8 2.2,-12.1 3.2,-10.8zM4.0,-5.3 2.7,4.0 5.3,12.0 4.0,13.3 1.3,13.3 0.0,6.7 -1.3,13.3 -4.0,13.3 -5.3,12.0 -2.7,4.0 -4.0,-5.3zM-2.0,-6.3 2.0,-6.3 2.0,-5.0 -2.0,-5.0zM4.0,-5.3 8.0,0.0 6.7,2.7 1.3,-4.0zM-1.3,-4.0 -6.7,2.7 -8.0,0.0 -4.0,-5.3z"/>
<path transform="translate(50.0 387.3)" fill="#54c4c4" stroke="#54c4c4" d="M3.5,-9.3 3.2,-7.8 2.2,-6.5 0.8,-5.9 -0.8,-5.9 -2.2,-6.5 -3.2,-7.8 -3.5,-9.3 -3.2,-10.8 -2.2,-12.1 -0.8,-12.8 0.8,-12.8 2.2,-12.1 3.2,-10.8zM4.0,-5.3 2.7,4.0 5.3,12.0 4.0,13.3 1.3,13.3 0.0,6.7 -1.3,13.3 -4.0,13.3 -5.3,12.0 -2.7,4.0 -4.0,-5.3zM-2.0,-6.3 2.0,-6.3 2.0,-5.0 -2.0,-5.0zM4.0,-5.3 8.0,0.0 6.7,2.7 1.3,-4.0zM-1.3,-4.0 -6.7,2.7 -8.0,0.0 -4.0,-5.3z"/>
<path transform="translate(51.6 394.8)" fill="#7c50a4" stroke="#7c50a4" d="M3.5,-9.3 3.2,-7.8 2.2,-6.5 0.8,-5.9 -0.8,-5.9 -2.2,-6.5 -3.2,-7.8 -3.5,-9.3 -3.2,-10.8 -2.2,-12.1 -0.8,-12.8 0.8,-12.8 2.2,-12.1 3.2,-10.8zM4.0,-5.3 2.7,4.0 5.3,12.0 4.0,13.3 1.3,13.3 0.0,6.7 -1.3,13.3 -4.0,13.3 -5.3,12.0 -2.7,4.0 -4.0,-5.3zM-2.0,-6.3 2.0,-6.3 2.0,-5.0 -2.0,-5.0zM4.0,-5.3 8.0,0.0 6.7,2.7 1.3,-4.0zM-1.3,-4.0 -6.7,2.7 -8.0,0.0 -4.0,-5.3z"/>
<path transform="translate(130.3 274.7)" fill="#54c4c4" stroke="#54c4c4" d="M3.5,-9.3 3.2,-7.8 2.2,-6.5 0.8,-5.9 -0.8,-5.9 -2.2,-6.5 -3.2,-7.8 -3.5,-9.3 -3.2,-10.8 -2.2,-12.1 -0.8,-12.8 0.8,-12.8 2.2,-12.1 3.2,-10.8zM4.0,-5.3 2.7,4.0 5.3,12.0 4.0,13.3 1.3,13.3 0.0,6.7 -1.3,13.3 -4.0,13.3 -5.3,12.0 -2.7,4.0 -4.0,-5.3zM-2.0,-6.3 2.0,-6.3 2.0,-5.0 -2.0,-5.0zM4.0,-5.3 8.0,0.0 6.7,2.7 1.3,-4.0zM-1.3,-4.0 -6.7,2.7 -8.0,0.0 -4.0,-5.3z"/>
<path transform="translate(138.8 274.0)" fill="#ffffff" stroke="#ffffff" d="M3.5,-9.3 3.2,-7.8 2.2,-6.5 0.8,-5.9 -0.8,-5.9 -2.2,-6.5 -3.2,-7.8 -3.5,-9.3 -3.2,-10.8 -2.2,-12.1 -0.8,-12.8 0.8,-12.8 2.2,-12.1 3.2,-10.8zM4.0,-5.3 2.7,4.0 5.3,12.0 4.0,13.3 1.3,13.3 0.0,6.7 -1.3,13.3 -4.0,13.3 -5.3,12.0 -2.7,4.0 -4.0,-5.3zM-2.0,-6.3 2.0,-6.3 2.0,-5.0 -2.0,-5.0zM4.0,-5.3 8.0,0.0 6.7,2.7 1.3,-4.0zM-1.3,-4.0 -6.7,2.7 -8.0,0.0 -4.0,-5.3z"/>
<path transform="translate(170.8 275.8)" fill="#ffffff" stroke="#ffffff" d="M3.5,-9.3 3.2,-7.8 2.2,-6.5 0.8,-5.9 -0.8,-5.9 -2.2,-6.5 -3.2,-7.8 -3.5,-9.3 -3.2,-10.8 -2.2,-12.1 -0.8,-12.8 0.8,-12.8 2.2,-12.1 3.2,-10.8zM4.0,-5.3 2.7,4.0 5.3,12.0 4.0,13.3 1.3,13.3 0.0,6.7 -1.3,13.3 -4.0,13.3 -5.3,12.0 -2.7,4.0 -4.0,-5.3zM-2.0,-6.3 2.0,-6.3 2.0,-5.0 -2.0,-5.0zM4.0,-5.3 8.0,0.0 6.7,2.7 1.3,-4.0zM-1.3,-4.0 -6.7,2.7 -8.0,0.0 -4.0,-5.3z"/>
<path transform="translate(167.9 286.1)" fill="#ffffff" stroke="#ffffff" d="M3.5,-9.3 3.2,-7.8 2.2,-6.5 0.8,-5.9 -0.8,-5.9 -2.2,-6.5 -3.2,-7.8 -3.5,-9.3 -3.2,-10.8 -2.2,-12.1 -0.8,-12.8 0.8,-12.8 2.2,-12.1 3.2,-10.8zM4.0,-5.3 2.7,4.0 5.3,12.0 4.0,13.3 1.3,13.3 0.0,6.7 -1.3,13.3 -4.0,13.3 -5.3,12.0 -2.7,4.0 -4.0,-5.3zM-2.0,-6.3 2.0,-6.3 2.0,-5.0 -2.0,-5.0zM4.0,-5.3 8.0,0.0 6.7,2.7 1.3,-4.0zM-1.3,-4.0 -6.7,2.7 -8.0,0.0 -4.0,-5.3z"/>
<path transform="translate(174.3 303.3)" fill="#ffffff" stroke="#ffffff" d="M3.5,-9.3 3.2,-7.8 2.2,-6.5 0.8,-5.9 -0.8,-5.9 -2.2,-6.5 -3.2,-7.8 -3.5,-9.3 -3.2,-10.8 -2.2,-12.1 -0.8,-12.8 0.8,-12.8 2.2,-12.1 3.2,-10.8zM4.0,-5.3 2.7,4.0 5.3,12.0 4.0,13.3 1.3,13.3 0.0,6.7 -1.3,13.3 -4.0,13.3 -5.3,12.0 -2.7,4.0 -4.0,-5.3zM-2.0,-6.3 2.0,-6.3 2.0,-5.0 -2.0,-5.0zM4.0,-5.3 8.0,0.0 6.7,2.7 1.3,-4.0zM-1.3,-4.0 -6.7,2.7 -8.0,0.0 -4.0,-5.3z"/>
<path transform="translate(129.6 305.6)" fill="#54c4c4" stroke="#54c4c4" d="M3.5,-9.3 3.2,-7.8 2.2,-6.5 0.8,-5.9 -0.8,-5.9 -2.2,-6.5 -3.2,-7.8 -3.5,-9.3 -3.2,-10.8 -2.2,-12.1 -0.8,-12.8 0.8,-12.8 2.2,-12.1 3.2,-10.8zM4.0,-5.3 2.7,4.0 5.3,12.0 4.0,13.3 1.3,13.3 0.0,6.7 -1.3,13.3 -4.0,13.3 -5.3,12.0 -2.7,4.0 -4.0,-5.3zM-2.0,-6.3 2.0,-6.3 2.0,-5.0 -2.0,-5.0zM4.0,-5.3 8.0,0.0 6.7,2.7 1.3,-4.0zM-1.3,-4.0 -6.7,2.7 -8.0,0.0 -4.0,-5.3z"/>
<path transform="translate(137.7 299.8)" fill="#ffffff" stroke="#ffffff" d="M3.5,-9.3 3.2,-7.8 2.2,-6.5 0.8,-5.9 -0.8,-5.9 -2.2,-6.5 -3.2,-7.8 -3.5,-9.3 -3.2,-10.8 -2.2,-12.1 -0.8,-12.8 0.8,-12.8 2.2,-12.1 3.2,-10.8zM4.0,-5.3 2.7,4.0 5.3,12.0 4.0,13.3 1.3,13.3 0.0,6.7 -1.3,13.3 -4.0,13.3 -5.3,12.0 -2.7,4.0 -4.0,-5.3zM-2.0,-6.3 2.0,-6.3 2.0,-5.0 -2.0,-5.0zM4.0,-5.3 8.0,0.0 6.7,2.7 1.3,-4.0zM-1.3,-4.0 -6.7,2.7 -8.0,0.0 -4.0,-5.3z"/>
<path transform="translate(161.7 315.9)" fill="#54c4c4" stroke="#54c4c4" d="M3.5,-9.3 3.2,-7.8 2.2,-6.5 0.8,-5.9 -0.8,-5.9 -2.2,-6.5 -3.2,-7.8 -3.5,-9.3 -3.2,-10.8 -2.2,-12.1 -0.8,-12.8 0.8,-12.8 2.2,-12.1 3.2,-10.8zM4.0,-5.3 2.7,4.0 5.3,12.0 4.0,13.3 1.3,13.3 0.0,6.7 -1.3,13.3 -4.0,13.3 -5.3,12.0 -2.7,4.0 -4.0,-5.3zM-2.0,-6.3 2.0,-6.3 2.0,-5.0 -2.0,-5.0zM4.0,-5.3 8.0,0.0 6.7,2.7 1.3,-4.0zM-1.3,-4.0 -6.7,2.7 -8.0,0.0 -4.0,-5.3z"/>
<path transform="translate(137.2 327.3)" fill="#7c50a4" stroke="#7c50a4" d="M3.5,-9.3 3.2,-7.8 2.2,-6.5 0.8,-5.9 -0.8,-5.9 -2.2,-6.5 -3.2,-7.8 -3.5,-9.3 -3.2,-10.8 -2.2,-12.1 -0.8,-12.8 0.8,-12.8 2.2,-12.1 3.2,-10.8zM4.0,-5.3 2.7,4.0 5.3,12.0 4.0,13.3 1.3,13.3 0.0,6.7 -1.3,13.3 -4.0,13.3 -5.3,12.0 -2.7,4.0 -4.0,-5.3zM-2.0,-6.3 2.0,-6.3 2.0,-5.0 -2.0,-5.0zM4.0,-5.3 8.0,0.0 6.7,2.7 1.3,-4.0zM-1.3,-4.0 -6.7,2.7 -8.0,0.0 -4.0,-5.3z"/>
<path transform="translate(164.4 337.6)" fill="#ffffff" stroke="#ffffff" d="M3.5,-9.3 3.2,-7.8 2.2,-6.5 0.8,-5.9 -0.8,-5.9 -2.2,-6.5 -3.2,-7.8 -3.5,-9.3 -3.2,-10.8 -2.2,-12.1 -0.8,-12.8 0.8,-12.8 2.2,-12.1 3.2,-10.8zM4.0,-5.3 2.7,4.0 5.3,12.0 4.0,13.3 1.3,13.3 0.0,6.7 -1.3,13.3 -4.0,13.3 -5.3,12.0 -2.7,4.0 -4.0,-5.3zM-2.0,-6.3 2.0,-6.3 2.0,-5.0 -2.0,-5.0zM4.0,-5.3 8.0,0.0 6.7,2.7 1.3,-4.0zM-1.3,-4.0 -6.7,2.7 -8.0,0.0 -4.0,-5.3z"/>
<path transform="translate(133.1 351.3)" fill="#ffffff" stroke="#ffffff" d="M3.5,-9.3 3.2,-7.8 2.2,-6.5 0.8,-5.9 -0.8,-5.9 -2.2,-6.5 -3.2,-7.8 -3.5,-9.3 -3.2,-10.8 -2.2,-12.1 -0.8,-12.8 0.8,-12.8 2.2,-12.1 3.2,-10.8zM4.0,-5.3 2.7,4.0 5.3,12.0 4.0,13.3 1.3,13.3 0.0,6.7 -1.3,13.3 -4.0,13.3 -5.3,12.0 -2.7,4.0 -4.0,-5.3zM-2.0,-6.3 2.0,-6.3 2.0,-5.0 -2.0,-5.0zM4.0,-5.3 8.0,0.0 6.7,2.7 1.3,-4.0zM-1.3,-4.0 -6.7,2.7 -8.0,0.0 -4.0,-5.3z"/>
<path transform="translate(208.6 293.4)" fill="#54c4c4" stroke="#54c4c4" d="M3.5,-9.3 3.2,-7.8 2.2,-6.5 0.8,-5.9 -0.8,-5.9 -2.2,-6.5 -3.2,-7.8 -3.5,-9.3 -3.2,-10.8 -2.2,-12.1 -0.8,-12.8 0.8,-12.8 2.2,-12.1 3.2,-10.8zM4.0,-5.3 2.7,4.0 5.3,12.0 4.0,13.3 1.3,13.3 0.0,6.7 -1.3,13.3 -4.0,13.3 -5.3,12.0 -2.7,4.0 -4.0,-5.3zM-2.0,-6.3 2.0,-6.3 2.0,-5.0 -2.0,-5.0zM4.0,-5.3 8.0,0.0 6.7,2.7 1.3,-4.0zM-1.3,-4.0 -6.7,2.7 -8.0,0.0 -4.0,-5.3z"/>
<path transform="translate(218.2 300.3)" fill="#ffffff" stroke="#ffffff" d="M3.5,-9.3 3.2,-7.8 2.2,-6.5 0.8,-5.9 -0.8,-5.9 -2.2,-6.5 -3.2,-7.8 -3.5,-9.3 -3.2,-10.8 -2.2,-12.1 -0.8,-12.8 0.8,-12.8 2.2,-12.1 3.2,-10.8zM4.0,-5.3 2.7,4.0 5.3,12.0 4.0,13.3 1.3,13.3 0.0,6.7 -1.3,13.3 -4.0,13.3 -5.3,12.0 -2.7,4.0 -4.0,-5.3zM-2.0,-6.3 2.0,-6.3 2.0,-5.0 -2.0,-5.0zM4.0,-5.3 8.0,0.0 6.7,2.7 1.3,-4.0zM-1.3,-4.0 -6.7,2.7 -8.0,0.0 -4.0,-5.3z"/>
<path transform="translate(235.6 275.8)" fill="#54c4c4" stroke="#54c4c4" d="M3.5,-9.3 3.2,-7.8 2.2,-6.5 0.8,-5.9 -0.8,-5.9 -2.2,-6.5 -3.2,-7.8 -3.5,-9.3 -3.2,-10.8 -2.2,-12.1 -0.8,-12.8 0.8,-12.8 2.2,-12.1 3.2,-10.8zM4.0,-5.3 2.7,4.0 5.3,12.0 4.0,13.3 1.3,13.3 0.0,6.7 -1.3,13.3 -4.0,13.3 -5.3,12.0 -2.7,4.0 -4.0,-5.3zM-2.0,-6.3 2.0,-6.3 2.0,-5.0 -2.0,-5.0zM4.0,-5.3 8.0,0.0 6.7,2.7 1.3,-4.0zM-1.3,-4.0 -6.7,2.7 -8.0,0.0 -4.0,-5.3z"/>
<path transform="translate(256.7 279.2)" fill="#ffffff" stroke="#ffffff" d="M3.5,-9.3 3.2,-7.8 2.2,-6.5 0.8,-5.9 -0.8,-5.9 -2.2,-6.5 -3.2,-7.8 -3.5,-9.3 -3.2,-10.8 -2.2,-12.1 -0.8,-12.8 0.8,-12.8 2.2,-12.1 3.2,-10.8zM4.0,-5.3 2.7,4.0 5.3,12.0 4.0,13.3 1.3,13.3 0.0,6.7 -1.3,13.3 -4.0,13.3 -5.3,12.0 -2.7,4.0 -4.0,-5.3zM-2.0,-6.3 2.0,-6.3 2.0,-5.0 -2.0,-5.0zM4.0,-5.3 8.0,0.0 6.7,2.7 1.3,-4.0zM-1.3,-4.0 -6.7,2.7 -8.0,0.0 -4.0,-5.3z"/>
<path transform="translate(244.5 314.3)" fill="#54c4c4" stroke="#54c4c4" d="M3.5,-9.3 3.2,-7.8 2.2,-6.5 0.8,-5.9 -0.8,-5.9 -2.2,-6.5 -3.2,-7.8 -3.5,-9.3 -3.2,-10.8 -2.2,-12.1 -0.8,-12.8 0.8,-12.8 2.2,-12.1 3.2,-10.8zM4.0,-5.3 2.7,4.0 5.3,12.0 4.0,13.3 1.3,13.3 0.0,6.7 -1.3,13.3 -4.0,13.3 -5.3,12.0 -2.7,4.0 -4.0,-5.3zM-2.0,-6.3 2.0,-6.3 2.0,-5.0 -2.0,-5.0zM4.0,-5.3 8.0,0.0 6.7,2.7 1.3,-4.0zM-1.3,-4.0 -6.7,2.7 -8.0,0.0 -4.0,-5.3z"/>
<path transform="translate(215.0 322.7)" fill="#ffffff" stroke="#ffffff" d="M3.5,-9.3 3.2,-7.8 2.2,-6.5 0.8,-5.9 -0.8,-5.9 -2.2,-6.5 -3.2,-7.8 -3.5,-9.3 -3.2,-10.8 -2.2,-12.1 -0.8,-12.8 0.8,-12.8 2.2,-12.1 3.2,-10.8zM4.0,-5.3 2.7,4.0 5.3,12.0 4.0,13.3 1.3,13.3 0.0,6.7 -1.3,13.3 -4.0,13.3 -5.3,12.0 -2.7,4.0 -4.0,-5.3zM-2.0,-6.3 2.0,-6.3 2.0,-5.0 -2.0,-5.0zM4.0,-5.3 8.0,0.0 6.7,2.7 1.3,-4.0zM-1.3,-4.0 -6.7,2.7 -8.0,0.0 -4.0,-5.3z"/>
<path transform="translate(226.9 321.1)" fill="#f16a15" stroke="#f16a15" d="M12.0,-4.5 12.3,-3.1 14.7,-2.3 14.9,-1.6 14.3,-1.0 12.7,-0.9 13.4,0.1 10.9,-0.5 9.2,-0.6 7.7,1.4 6.0,3.4 4.2,4.8 4.5,8.0 5.7,10.8 6.9,11.2 6.7,12.1 5.0,12.1 4.8,11.0 3.6,9.0 2.8,9.7 1.9,11.4 0.4,11.5 1.0,9.8 1.7,10.1 2.3,8.8 2.2,6.3 1.6,6.0 1.0,4.5 -0.7,5.2 -3.1,5.1 -5.2,4.6 -5.0,5.7 -7.1,8.1 -7.3,8.9 -4.7,11.1 -5.0,11.7 -6.6,11.8 -6.8,11.1 -8.5,9.3 -8.4,7.8 -7.5,5.9 -8.2,4.8 -9.0,5.6 -11.9,8.0 -11.9,10.3 -11.0,11.0 -11.2,11.6 -12.3,11.5 -13.0,10.7 -13.0,7.6 -11.2,5.5 -11.2,4.3 -12.0,4.1 -13.7,4.7 -14.8,4.4zM-15.1,4.5 -13.6,3.0 -11.4,1.6 -11.0,0.3 -9.7,-1.0 -6.8,-1.9 -1.6,-1.7 0.9,-2.4 3.8,-3.5 7.7,-4.2 8.6,-4.8 8.8,-5.2 11.8,-6.4 11.9,-5.8 13.1,-6.3 11.9,-4.7 11.9,-3.7z"/>
<path transform="translate(204.5 341.7)" fill="#54c4c4" stroke="#54c4c4" d="M3.5,-9.3 3.2,-7.8 2.2,-6.5 0.8,-5.9 -0.8,-5.9 -2.2,-6.5 -3.2,-7.8 -3.5,-9.3 -3.2,-10.8 -2.2,-12.1 -0.8,-12.8 0.8,-12.8 2.2,-12.1 3.2,-10.8zM4.0,-5.3 2.7,4.0 5.3,12.0 4.0,13.3 1.3,13.3 0.0,6.7 -1.3,13.3 -4.0,13.3 -5.3,12.0 -2.7,4.0 -4.0,-5.3zM-2.0,-6.3 2.0,-6.3 2.0,-5.0 -2.0,-5.0zM4.0,-5.3 8.0,0.0 6.7,2.7 1.3,-4.0zM-1.3,-4.0 -6.7,2.7 -8.0,0.0 -4.0,-5.3z"/>
<path transform="translate(222.8 344.0)" fill="#ffffff" stroke="#ffffff" d="M3.5,-9.3 3.2,-7.8 2.2,-6.5 0.8,-5.9 -0.8,-5.9 -2.2,-6.5 -3.2,-7.8 -3.5,-9.3 -3.2,-10.8 -2.2,-12.1 -0.8,-12.8 0.8,-12.8 2.2,-12.1 3.2,-10.8zM4.0,-5.3 2.7,4.0 5.3,12.0 4.0,13.3 1.3,13.3 0.0,6.7 -1.3,13.3 -4.0,13.3 -5.3,12.0 -2.7,4.0 -4.0,-5.3zM-2.0,-6.3 2.0,-6.3 2.0,-5.0 -2.0,-5.0zM4.0,-5.3 8.0,0.0 6.7,2.7 1.3,-4.0zM-1.3,-4.0 -6.7,2.7 -8.0,0.0 -4.0,-5.3z"/>
<path transform="translate(248.0 347.2)" fill="#ffffff" stroke="#ffffff" d="M3.5,-9.3 3.2,-7.8 2.2,-6.5 0.8,-5.9 -0.8,-5.9 -2.2,-6.5 -3.2,-7.8 -3.5,-9.3 -3.2,-10.8 -2.2,-12.1 -0.8,-12.8 0.8,-12.8 2.2,-12.1 3.2,-10.8zM4.0,-5.3 2.7,4.0 5.3,12.0 4.0,13.3 1.3,13.3 0.0,6.7 -1.3,13.3 -4.0,13.3 -5.3,12.0 -2.7,4.0 -4.0,-5.3zM-2.0,-6.3 2.0,-6.3 2.0,-5.0 -2.0,-5.0zM4.0,-5.3 8.0,0.0 6.7,2.7 1.3,-4.0zM-1.3,-4.0 -6.7,2.7 -8.0,0.0 -4.0,-5.3z"/>
<path transform="translate(234.2 357.1)" fill="#7c50a4" stroke="#7c50a4" d="M3.5,-9.3 3.2,-7.8 2.2,-6.5 0.8,-5.9 -0.8,-5.9 -2.2,-6.5 -3.2,-7.8 -3.5,-9.3 -3.2,-10.8 -2.2,-12.1 -0.8,-12.8 0.8,-12.8 2.2,-12.1 3.2,-10.8zM4.0,-5.3 2.7,4.0 5.3,12.0 4.0,13.3 1.3,13.3 0.0,6.7 -1.3,13.3 -4.0,13.3 -5.3,12.0 -2.7,4.0 -4.0,-5.3zM-2.0,-6.3 2.0,-6.3 2.0,-5.0 -2.0,-5.0zM4.0,-5.3 8.0,0.0 6.7,2.7 1.3,-4.0zM-1.3,-4.0 -6.7,2.7 -8.0,0.0 -4.0,-5.3z"/>
<path transform="translate(234.2 351.3)" fill="#ffffff" stroke="#ffffff" d="M3.5,-9.3 3.2,-7.8 2.2,-6.5 0.8,-5.9 -0.8,-5.9 -2.2,-6.5 -3.2,-7.8 -3.5,-9.3 -3.2,-10.8 -2.2,-12.1 -0.8,-12.8 0.8,-12.8 2.2,-12.1 3.2,-10.8zM4.0,-5.3 2.7,4.0 5.3,12.0 4.0,13.3 1.3,13.3 0.0,6.7 -1.3,13.3 -4.0,13.3 -5.3,12.0 -2.7,4.0 -4.0,-5.3zM-2.0,-6.3 2.0,-6.3 2.0,-5.0 -2.0,-5.0zM4.0,-5.3 8.0,0.0 6.7,2.7 1.3,-4.0zM-1.3,-4.0 -6.7,2.7 -8.0,0.0 -4.0,-5.3z"/>
<path transform="translate(172.0 353.6)" fill="#54c4c4" stroke="#54c4c4" d="M3.5,-9.3 3.2,-7.8 2.2,-6.5 0.8,-5.9 -0.8,-5.9 -2.2,-6.5 -3.2,-7.8 -3.5,-9.3 -3.2,-10.8 -2.2,-12.1 -0.8,-12.8 0.8,-12.8 2.2,-12.1 3.2,-10.8zM4.0,-5.3 2.7,4.0 5.3,12.0 4.0,13.3 1.3,13.3 0.0,6.7 -1.3,13.3 -4.0,13.3 -5.3,12.0 -2.7,4.0 -4.0,-5.3zM-2.0,-6.3 2.0,-6.3 2.0,-5.0 -2.0,-5.0zM4.0,-5.3 8.0,0.0 6.7,2.7 1.3,-4.0zM-1.3,-4.0 -6.7,2.7 -8.0,0.0 -4.0,-5.3z"/>
<path transform="translate(186.2 358.2)" fill="#54c4c4" stroke="#54c4c4" d="M3.5,-9.3 3.2,-7.8 2.2,-6.5 0.8,-5.9 -0.8,-5.9 -2.2,-6.5 -3.2,-7.8 -3.5,-9.3 -3.2,-10.8 -2.2,-12.1 -0.8,-12.8 0.8,-12.8 2.2,-12.1 3.2,-10.8zM4.0,-5.3 2.7,4.0 5.3,12.0 4.0,13.3 1.3,13.3 0.0,6.7 -1.3,13.3 -4.0,13.3 -5.3,12.0 -2.7,4.0 -4.0,-5.3zM-2.0,-6.3 2.0,-6.3 2.0,-5.0 -2.0,-5.0zM4.0,-5.3 8.0,0.0 6.7,2.7 1.3,-4.0zM-1.3,-4.0 -6.7,2.7 -8.0,0.0 -4.0,-5.3z"/>
<path transform="translate(172.0 370.1)" fill="#54c4c4" stroke="#54c4c4" d="M3.5,-9.3 3.2,-7.8 2.2,-6.5 0.8,-5.9 -0.8,-5.9 -2.2,-6.5 -3.2,-7.8 -3.5,-9.3 -3.2,-10.8 -2.2,-12.1 -0.8,-12.8 0.8,-12.8 2.2,-12.1 3.2,-10.8zM4.0,-5.3 2.7,4.0 5.3,12.0 4.0,13.3 1.3,13.3 0.0,6.7 -1.3,13.3 -4.0,13.3 -5.3,12.0 -2.7,4.0 -4.0,-5.3zM-2.0,-6.3 2.0,-6.3 2.0,-5.0 -2.0,-5.0zM4.0,-5.3 8.0,0.0 6.7,2.7 1.3,-4.0zM-1.3,-4.0 -6.7,2.7 -8.0,0.0 -4.0,-5.3z"/>
<path transform="translate(190.8 364.2)" fill="#a71b6a" stroke="#a71b6a" d="M12.0,-4.5 12.3,-3.1 14.7,-2.3 14.9,-1.6 14.3,-1.0 12.7,-0.9 13.4,0.1 10.9,-0.5 9.2,-0.6 7.7,1.4 6.0,3.4 4.2,4.8 4.5,8.0 5.7,10.8 6.9,11.2 6.7,12.1 5.0,12.1 4.8,11.0 3.6,9.0 2.8,9.7 1.9,11.4 0.4,11.5 1.0,9.8 1.7,10.1 2.3,8.8 2.2,6.3 1.6,6.0 1.0,4.5 -0.7,5.2 -3.1,5.1 -5.2,4.6 -5.0,5.7 -7.1,8.1 -7.3,8.9 -4.7,11.1 -5.0,11.7 -6.6,11.8 -6.8,11.1 -8.5,9.3 -8.4,7.8 -7.5,5.9 -8.2,4.8 -9.0,5.6 -11.9,8.0 -11.9,10.3 -11.0,11.0 -11.2,11.6 -12.3,11.5 -13.0,10.7 -13.0,7.6 -11.2,5.5 -11.2,4.3 -12.0,4.1 -13.7,4.7 -14.8,4.4zM-15.1,4.5 -13.6,3.0 -11.4,1.6 -11.0,0.3 -9.7,-1.0 -6.8,-1.9 -1.6,-1.7 0.9,-2.4 3.8,-3.5 7.7,-4.2 8.6,-4.8 8.8,-5.2 11.8,-6.4 11.9,-5.8 13.1,-6.3 11.9,-4.7 11.9,-3.7z"/>
<path transform="translate(175.4 390.2)" fill="#54c4c4" stroke="#54c4c4" d="M3.5,-9.3 3.2,-7.8 2.2,-6.5 0.8,-5.9 -0.8,-5.9 -2.2,-6.5 -3.2,-7.8 -3.5,-9.3 -3.2,-10.8 -2.2,-12.1 -0.8,-12.8 0.8,-12.8 2.2,-12.1 3.2,-10.8zM4.0,-5.3 2.7,4.0 5.3,12.0 4.0,13.3 1.3,13.3 0.0,6.7 -1.3,13.3 -4.0,13.3 -5.3,12.0 -2.7,4.0 -4.0,-5.3zM-2.0,-6.3 2.0,-6.3 2.0,-5.0 -2.0,-5.0zM4.0,-5.3 8.0,0.0 6.7,2.7 1.3,-4.0zM-1.3,-4.0 -6.7,2.7 -8.0,0.0 -4.0,-5.3z"/>
<path transform="translate(223.5 373.1)" fill="#54c4c4" stroke="#54c4c4" d="M3.5,-9.3 3.2,-7.8 2.2,-6.5 0.8,-5.9 -0.8,-5.9 -2.2,-6.5 -3.2,-7.8 -3.5,-9.3 -3.2,-10.8 -2.2,-12.1 -0.8,-12.8 0.8,-12.8 2.2,-12.1 3.2,-10.8zM4.0,-5.3 2.7,4.0 5.3,12.0 4.0,13.3 1.3,13.3 0.0,6.7 -1.3,13.3 -4.0,13.3 -5.3,12.0 -2.7,4.0 -4.0,-5.3zM-2.0,-6.3 2.0,-6.3 2.0,-5.0 -2.0,-5.0zM4.0,-5.3 8.0,0.0 6.7,2.7 1.3,-4.0zM-1.3,-4.0 -6.7,2.7 -8.0,0.0 -4.0,-5.3z"/>
<path transform="translate(245.2 388.0)" fill="#d73229" stroke="#d73229" d="M3.5,-9.3 3.2,-7.8 2.2,-6.5 0.8,-5.9 -0.8,-5.9 -2.2,-6.5 -3.2,-7.8 -3.5,-9.3 -3.2,-10.8 -2.2,-12.1 -0.8,-12.8 0.8,-12.8 2.2,-12.1 3.2,-10.8zM4.0,-5.3 2.7,4.0 5.3,12.0 4.0,13.3 1.3,13.3 0.0,6.7 -1.3,13.3 -4.0,13.3 -5.3,12.0 -2.7,4.0 -4.0,-5.3zM-2.0,-6.3 2.0,-6.3 2.0,-5.0 -2.0,-5.0zM4.0,-5.3 8.0,0.0 6.7,2.7 1.3,-4.0zM-1.3,-4.0 -6.7,2.7 -8.0,0.0 -4.0,-5.3z"/>
<path transform="translate(259.0 374.2)" fill="#d73229" stroke="#d73229" d="M3.5,-9.3 3.2,-7.8 2.2,-6.5 0.8,-5.9 -0.8,-5.9 -2.2,-6.5 -3.2,-7.8 -3.5,-9.3 -3.2,-10.8 -2.2,-12.1 -0.8,-12.8 0.8,-12.8 2.2,-12.1 3.2,-10.8zM4.0,-5.3 2.7,4.0 5.3,12.0 4.0,13.3 1.3,13.3 0.0,6.7 -1.3,13.3 -4.0,13.3 -5.3,12.0 -2.7,4.0 -4.0,-5.3zM-2.0,-6.3 2.0,-6.3 2.0,-5.0 -2.0,-5.0zM4.0,-5.3 8.0,0.0 6.7,2.7 1.3,-4.0zM-1.3,-4.0 -6.7,2.7 -8.0,0.0 -4.0,-5.3z"/>
<path transform="translate(151.4 397.1)" fill="#54c4c4" stroke="#54c4c4" d="M3.5,-9.3 3.2,-7.8 2.2,-6.5 0.8,-5.9 -0.8,-5.9 -2.2,-6.5 -3.2,-7.8 -3.5,-9.3 -3.2,-10.8 -2.2,-12.1 -0.8,-12.8 0.8,-12.8 2.2,-12.1 3.2,-10.8zM4.0,-5.3 2.7,4.0 5.3,12.0 4.0,13.3 1.3,13.3 0.0,6.7 -1.3,13.3 -4.0,13.3 -5.3,12.0 -2.7,4.0 -4.0,-5.3zM-2.0,-6.3 2.0,-6.3 2.0,-5.0 -2.0,-5.0zM4.0,-5.3 8.0,0.0 6.7,2.7 1.3,-4.0zM-1.3,-4.0 -6.7,2.7 -8.0,0.0 -4.0,-5.3z"/>
<path transform="translate(266.5 281.5)" fill="#d73229" stroke="#d73229" d="M3.5,-9.3 3.2,-7.8 2.2,-6.5 0.8,-5.9 -0.8,-5.9 -2.2,-6.5 -3.2,-7.8 -3.5,-9.3 -3.2,-10.8 -2.2,-12.1 -0.8,-12.8 0.8,-12.8 2.2,-12.1 3.2,-10.8zM4.0,-5.3 2.7,4.0 5.3,12.0 4.0,13.3 1.3,13.3 0.0,6.7 -1.3,13.3 -4.0,13.3 -5.3,12.0 -2.7,4.0 -4.0,-5.3zM-2.0,-6.3 2.0,-6.3 2.0,-5.0 -2.0,-5.0zM4.0,-5.3 8.0,0.0 6.7,2.7 1.3,-4.0zM-1.3,-4.0 -6.7,2.7 -8.0,0.0 -4.0,-5.3z"/>
<path transform="translate(350.0 267.8)" fill="#ffffff" stroke="#ffffff" d="M3.5,-9.3 3.2,-7.8 2.2,-6.5 0.8,-5.9 -0.8,-5.9 -2.2,-6.5 -3.2,-7.8 -3.5,-9.3 -3.2,-10.8 -2.2,-12.1 -0.8,-12.8 0.8,-12.8 2.2,-12.1 3.2,-10.8zM4.0,-5.3 2.7,4.0 5.3,12.0 4.0,13.3 1.3,13.3 0.0,6.7 -1.3,13.3 -4.0,13.3 -5.3,12.0 -2.7,4.0 -4.0,-5.3zM-2.0,-6.3 2.0,-6.3 2.0,-5.0 -2.0,-5.0zM4.0,-5.3 8.0,0.0 6.7,2.7 1.3,-4.0zM-1.3,-4.0 -6.7,2.7 -8.0,0.0 -4.0,-5.3z"/>
<path transform="translate(355.8 270.1)" fill="#ffffff" stroke="#ffffff" d="M3.5,-9.3 3.2,-7.8 2.2,-6.5 0.8,-5.9 -0.8,-5.9 -2.2,-6.5 -3.2,-7.8 -3.5,-9.3 -3.2,-10.8 -2.2,-12.1 -0.8,-12.8 0.8,-12.8 2.2,-12.1 3.2,-10.8zM4.0,-5.3 2.7,4.0 5.3,12.0 4.0,13.3 1.3,13.3 0.0,6.7 -1.3,13.3 -4.0,13.3 -5.3,12.0 -2.7,4.0 -4.0,-5.3zM-2.0,-6.3 2.0,-6.3 2.0,-5.0 -2.0,-5.0zM4.0,-5.3 8.0,0.0 6.7,2.7 1.3,-4.0zM-1.3,-4.0 -6.7,2.7 -8.0,0.0 -4.0,-5.3z"/>
<path transform="translate(281.4 287.7)" fill="#54c4c4" stroke="#54c4c4" d="M3.5,-9.3 3.2,-7.8 2.2,-6.5 0.8,-5.9 -0.8,-5.9 -2.2,-6.5 -3.2,-7.8 -3.5,-9.3 -3.2,-10.8 -2.2,-12.1 -0.8,-12.8 0.8,-12.8 2.2,-12.1 3.2,-10.8zM4.0,-5.3 2.7,4.0 5.3,12.0 4.0,13.3 1.3,13.3 0.0,6.7 -1.3,13.3 -4.0,13.3 -5.3,12.0 -2.7,4.0 -4.0,-5.3zM-2.0,-6.3 2.0,-6.3 2.0,-5.0 -2.0,-5.0zM4.0,-5.3 8.0,0.0 6.7,2.7 1.3,-4.0zM-1.3,-4.0 -6.7,2.7 -8.0,0.0 -4.0,-5.3z"/>
<path transform="translate(281.4 286.1)" fill="#ffffff" stroke="#ffffff" d="M3.5,-9.3 3.2,-7.8 2.2,-6.5 0.8,-5.9 -0.8,-5.9 -2.2,-6.5 -3.2,-7.8 -3.5,-9.3 -3.2,-10.8 -2.2,-12.1 -0.8,-12.8 0.8,-12.8 2.2,-12.1 3.2,-10.8zM4.0,-5.3 2.7,4.0 5.3,12.0 4.0,13.3 1.3,13.3 0.0,6.7 -1.3,13.3 -4.0,13.3 -5.3,12.0 -2.7,4.0 -4.0,-5.3zM-2.0,-6.3 2.0,-6.3 2.0,-5.0 -2.0,-5.0zM4.0,-5.3 8.0,0.0 6.7,2.7 1.3,-4.0zM-1.3,-4.0 -6.7,2.7 -8.0,0.0 -4.0,-5.3z"/>
<path transform="translate(330.6 282.7)" fill="#ffffff" stroke="#ffffff" d="M3.5,-9.3 3.2,-7.8 2.2,-6.5 0.8,-5.9 -0.8,-5.9 -2.2,-6.5 -3.2,-7.8 -3.5,-9.3 -3.2,-10.8 -2.2,-12.1 -0.8,-12.8 0.8,-12.8 2.2,-12.1 3.2,-10.8zM4.0,-5.3 2.7,4.0 5.3,12.0 4.0,13.3 1.3,13.3 0.0,6.7 -1.3,13.3 -4.0,13.3 -5.3,12.0 -2.7,4.0 -4.0,-5.3zM-2.0,-6.3 2.0,-6.3 2.0,-5.0 -2.0,-5.0zM4.0,-5.3 8.0,0.0 6.7,2.7 1.3,-4.0zM-1.3,-4.0 -6.7,2.7 -8.0,0.0 -4.0,-5.3z"/>
<path transform="translate(313.0 298.7)" fill="#ffffff" stroke="#ffffff" d="M3.5,-9.3 3.2,-7.8 2.2,-6.5 0.8,-5.9 -0.8,-5.9 -2.2,-6.5 -3.2,-7.8 -3.5,-9.3 -3.2,-10.8 -2.2,-12.1 -0.8,-12.8 0.8,-12.8 2.2,-12.1 3.2,-10.8zM4.0,-5.3 2.7,4.0 5.3,12.0 4.0,13.3 1.3,13.3 0.0,6.7 -1.3,13.3 -4.0,13.3 -5.3,12.0 -2.7,4.0 -4.0,-5.3zM-2.0,-6.3 2.0,-6.3 2.0,-5.0 -2.0,-5.0zM4.0,-5.3 8.0,0.0 6.7,2.7 1.3,-4.0zM-1.3,-4.0 -6.7,2.7 -8.0,0.0 -4.0,-5.3z"/>
<path transform="translate(321.4 318.8)" fill="#ffffff" stroke="#ffffff" d="M3.5,-9.3 3.2,-7.8 2.2,-6.5 0.8,-5.9 -0.8,-5.9 -2.2,-6.5 -3.2,-7.8 -3.5,-9.3 -3.2,-10.8 -2.2,-12.1 -0.8,-12.8 0.8,-12.8 2.2,-12.1 3.2,-10.8zM4.0,-5.3 2.7,4.0 5.3,12.0 4.0,13.3 1.3,13.3 0.0,6.7 -1.3,13.3 -4.0,13.3 -5.3,12.0 -2.7,4.0 -4.0,-5.3zM-2.0,-6.3 2.0,-6.3 2.0,-5.0 -2.0,-5.0zM4.0,-5.3 8.0,0.0 6.7,2.7 1.3,-4.0zM-1.3,-4.0 -6.7,2.7 -8.0,0.0 -4.0,-5.3z"/>
<path transform="translate(298.6 317.5)" fill="#54c4c4" stroke="#54c4c4" d="M3.5,-9.3 3.2,-7.8 2.2,-6.5 0.8,-5.9 -0.8,-5.9 -2.2,-6.5 -3.2,-7.8 -3.5,-9.3 -3.2,-10.8 -2.2,-12.1 -0.8,-12.8 0.8,-12.8 2.2,-12.1 3.2,-10.8zM4.0,-5.3 2.7,4.0 5.3,12.0 4.0,13.3 1.3,13.3 0.0,6.7 -1.3,13.3 -4.0,13.3 -5.3,12.0 -2.7,4.0 -4.0,-5.3zM-2.0,-6.3 2.0,-6.3 2.0,-5.0 -2.0,-5.0zM4.0,-5.3 8.0,0.0 6.7,2.7 1.3,-4.0zM-1.3,-4.0 -6.7,2.7 -8.0,0.0 -4.0,-5.3z"/>
<path transform="translate(356.9 291.8)" fill="#ffffff" stroke="#ffffff" d="M3.5,-9.3 3.2,-7.8 2.2,-6.5 0.8,-5.9 -0.8,-5.9 -2.2,-6.5 -3.2,-7.8 -3.5,-9.3 -3.2,-10.8 -2.2,-12.1 -0.8,-12.8 0.8,-12.8 2.2,-12.1 3.2,-10.8zM4.0,-5.3 2.7,4.0 5.3,12.0 4.0,13.3 1.3,13.3 0.0,6.7 -1.3,13.3 -4.0,13.3 -5.3,12.0 -2.7,4.0 -4.0,-5.3zM-2.0,-6.3 2.0,-6.3 2.0,-5.0 -2.0,-5.0zM4.0,-5.3 8.0,0.0 6.7,2.7 1.3,-4.0zM-1.3,-4.0 -6.7,2.7 -8.0,0.0 -4.0,-5.3z"/>
<path transform="translate(374.1 286.1)" fill="#ffffff" stroke="#ffffff" d="M3.5,-9.3 3.2,-7.8 2.2,-6.5 0.8,-5.9 -0.8,-5.9 -2.2,-6.5 -3.2,-7.8 -3.5,-9.3 -3.2,-10.8 -2.2,-12.1 -0.8,-12.8 0.8,-12.8 2.2,-12.1 3.2,-10.8zM4.0,-5.3 2.7,4.0 5.3,12.0 4.0,13.3 1.3,13.3 0.0,6.7 -1.3,13.3 -4.0,13.3 -5.3,12.0 -2.7,4.0 -4.0,-5.3zM-2.0,-6.3 2.0,-6.3 2.0,-5.0 -2.0,-5.0zM4.0,-5.3 8.0,0.0 6.7,2.7 1.3,-4.0zM-1.3,-4.0 -6.7,2.7 -8.0,0.0 -4.0,-5.3z"/>
<path transform="translate(357.4 304.4)" fill="#ffffff" stroke="#ffffff" d="M3.5,-9.3 3.2,-7.8 2.2,-6.5 0.8,-5.9 -0.8,-5.9 -2.2,-6.5 -3.2,-7.8 -3.5,-9.3 -3.2,-10.8 -2.2,-12.1 -0.8,-12.8 0.8,-12.8 2.2,-12.1 3.2,-10.8zM4.0,-5.3 2.7,4.0 5.3,12.0 4.0,13.3 1.3,13.3 0.0,6.7 -1.3,13.3 -4.0,13.3 -5.3,12.0 -2.7,4.0 -4.0,-5.3zM-2.0,-6.3 2.0,-6.3 2.0,-5.0 -2.0,-5.0zM4.0,-5.3 8.0,0.0 6.7,2.7 1.3,-4.0zM-1.3,-4.0 -6.7,2.7 -8.0,0.0 -4.0,-5.3z"/>
<path transform="translate(372.2 302.8)" fill="#ffffff" stroke="#ffffff" d="M3.5,-9.3 3.2,-7.8 2.2,-6.5 0.8,-5.9 -0.8,-5.9 -2.2,-6.5 -3.2,-7.8 -3.5,-9.3 -3.2,-10.8 -2.2,-12.1 -0.8,-12.8 0.8,-12.8 2.2,-12.1 3.2,-10.8zM4.0,-5.3 2.7,4.0 5.3,12.0 4.0,13.3 1.3,13.3 0.0,6.7 -1.3,13.3 -4.0,13.3 -5.3,12.0 -2.7,4.0 -4.0,-5.3zM-2.0,-6.3 2.0,-6.3 2.0,-5.0 -2.0,-5.0zM4.0,-5.3 8.0,0.0 6.7,2.7 1.3,-4.0zM-1.3,-4.0 -6.7,2.7 -8.0,0.0 -4.0,-5.3z"/>
<path transform="translate(345.9 341.7)" fill="#54c4c4" stroke="#54c4c4" d="M3.5,-9.3 3.2,-7.8 2.2,-6.5 0.8,-5.9 -0.8,-5.9 -2.2,-6.5 -3.2,-7.8 -3.5,-9.3 -3.2,-10.8 -2.2,-12.1 -0.8,-12.8 0.8,-12.8 2.2,-12.1 3.2,-10.8zM4.0,-5.3 2.7,4.0 5.3,12.0 4.0,13.3 1.3,13.3 0.0,6.7 -1.3,13.3 -4.0,13.3 -5.3,12.0 -2.7,4.0 -4.0,-5.3zM-2.0,-6.3 2.0,-6.3 2.0,-5.0 -2.0,-5.0zM4.0,-5.3 8.0,0.0 6.7,2.7 1.3,-4.0zM-1.3,-4.0 -6.7,2.7 -8.0,0.0 -4.0,-5.3z"/>
<path transform="translate(359.7 339.4)" fill="#7c50a4" stroke="#7c50a4" d="M3.5,-9.3 3.2,-7.8 2.2,-6.5 0.8,-5.9 -0.8,-5.9 -2.2,-6.5 -3.2,-7.8 -3.5,-9.3 -3.2,-10.8 -2.2,-12.1 -0.8,-12.8 0.8,-12.8 2.2,-12.1 3.2,-10.8zM4.0,-5.3 2.7,4.0 5.3,12.0 4.0,13.3 1.3,13.3 0.0,6.7 -1.3,13.3 -4.0,13.3 -5.3,12.0 -2.7,4.0 -4.0,-5.3zM-2.0,-6.3 2.0,-6.3 2.0,-5.0 -2.0,-5.0zM4.0,-5.3 8.0,0.0 6.7,2.7 1.3,-4.0zM-1.3,-4.0 -6.7,2.7 -8.0,0.0 -4.0,-5.3z"/>
<path transform="translate(359.7 336.5)" fill="#ffffff" stroke="#ffffff" d="M3.5,-9.3 3.2,-7.8 2.2,-6.5 0.8,-5.9 -0.8,-5.9 -2.2,-6.5 -3.2,-7.8 -3.5,-9.3 -3.2,-10.8 -2.2,-12.1 -0.8,-12.8 0.8,-12.8 2.2,-12.1 3.2,-10.8zM4.0,-5.3 2.7,4.0 5.3,12.0 4.0,13.3 1.3,13.3 0.0,6.7 -1.3,13.3 -4.0,13.3 -5.3,12.0 -2.7,4.0 -4.0,-5.3zM-2.0,-6.3 2.0,-6.3 2.0,-5.0 -2.0,-5.0zM4.0,-5.3 8.0,0.0 6.7,2.7 1.3,-4.0zM-1.3,-4.0 -6.7,2.7 -8.0,0.0 -4.0,-5.3z"/>
<path transform="translate(386.7 346.8)" fill="#54c4c4" stroke="#54c4c4" d="M3.5,-9.3 3.2,-7.8 2.2,-6.5 0.8,-5.9 -0.8,-5.9 -2.2,-6.5 -3.2,-7.8 -3.5,-9.3 -3.2,-10.8 -2.2,-12.1 -0.8,-12.8 0.8,-12.8 2.2,-12.1 3.2,-10.8zM4.0,-5.3 2.7,4.0 5.3,12.0 4.0,13.3 1.3,13.3 0.0,6.7 -1.3,13.3 -4.0,13.3 -5.3,12.0 -2.7,4.0 -4.0,-5.3zM-2.0,-6.3 2.0,-6.3 2.0,-5.0 -2.0,-5.0zM4.0,-5.3 8.0,0.0 6.7,2.7 1.3,-4.0zM-1.3,-4.0 -6.7,2.7 -8.0,0.0 -4.0,-5.3z"/>
<path transform="translate(368.4 377.7)" fill="#ffffff" stroke="#ffffff" d="M3.5,-9.3 3.2,-7.8 2.2,-6.5 0.8,-5.9 -0.8,-5.9 -2.2,-6.5 -3.2,-7.8 -3.5,-9.3 -3.2,-10.8 -2.2,-12.1 -0.8,-12.8 0.8,-12.8 2.2,-12.1 3.2,-10.8zM4.0,-5.3 2.7,4.0 5.3,12.0 4.0,13.3 1.3,13.3 0.0,6.7 -1.3,13.3 -4.0,13.3 -5.3,12.0 -2.7,4.0 -4.0,-5.3zM-2.0,-6.3 2.0,-6.3 2.0,-5.0 -2.0,-5.0zM4.0,-5.3 8.0,0.0 6.7,2.7 1.3,-4.0zM-1.3,-4.0 -6.7,2.7 -8.0,0.0 -4.0,-5.3z"/>
<path transform="translate(360.3 363.9)" fill="#f16a15" stroke="#f16a15" d="M12.0,-4.5 12.3,-3.1 14.7,-2.3 14.9,-1.6 14.3,-1.0 12.7,-0.9 13.4,0.1 10.9,-0.5 9.2,-0.6 7.7,1.4 6.0,3.4 4.2,4.8 4.5,8.0 5.7,10.8 6.9,11.2 6.7,12.1 5.0,12.1 4.8,11.0 3.6,9.0 2.8,9.7 1.9,11.4 0.4,11.5 1.0,9.8 1.7,10.1 2.3,8.8 2.2,6.3 1.6,6.0 1.0,4.5 -0.7,5.2 -3.1,5.1 -5.2,4.6 -5.0,5.7 -7.1,8.1 -7.3,8.9 -4.7,11.1 -5.0,11.7 -6.6,11.8 -6.8,11.1 -8.5,9.3 -8.4,7.8 -7.5,5.9 -8.2,4.8 -9.0,5.6 -11.9,8.0 -11.9,10.3 -11.0,11.0 -11.2,11.6 -12.3,11.5 -13.0,10.7 -13.0,7.6 -11.2,5.5 -11.2,4.3 -12.0,4.1 -13.7,4.7 -14.8,4.4zM-15.1,4.5 -13.6,3.0 -11.4,1.6 -11.0,0.3 -9.7,-1.0 -6.8,-1.9 -1.6,-1.7 0.9,-2.4 3.8,-3.5 7.7,-4.2 8.6,-4.8 8.8,-5.2 11.8,-6.4 11.9,-5.8 13.1,-6.3 11.9,-4.7 11.9,-3.7z"/>
<path transform="translate(354.6 385.7)" fill="#ffffff" stroke="#ffffff" d="M3.5,-9.3 3.2,-7.8 2.2,-6.5 0.8,-5.9 -0.8,-5.9 -2.2,-6.5 -3.2,-7.8 -3.5,-9.3 -3.2,-10.8 -2.2,-12.1 -0.8,-12.8 0.8,-12.8 2.2,-12.1 3.2,-10.8zM4.0,-5.3 2.7,4.0 5.3,12.0 4.0,13.3 1.3,13.3 0.0,6.7 -1.3,13.3 -4.0,13.3 -5.3,12.0 -2.7,4.0 -4.0,-5.3zM-2.0,-6.3 2.0,-6.3 2.0,-5.0 -2.0,-5.0zM4.0,-5.3 8.0,0.0 6.7,2.7 1.3,-4.0zM-1.3,-4.0 -6.7,2.7 -8.0,0.0 -4.0,-5.3z"/>
<path transform="translate(344.3 389.1)" fill="#ffffff" stroke="#ffffff" d="M3.5,-9.3 3.2,-7.8 2.2,-6.5 0.8,-5.9 -0.8,-5.9 -2.2,-6.5 -3.2,-7.8 -3.5,-9.3 -3.2,-10.8 -2.2,-12.1 -0.8,-12.8 0.8,-12.8 2.2,-12.1 3.2,-10.8zM4.0,-5.3 2.7,4.0 5.3,12.0 4.0,13.3 1.3,13.3 0.0,6.7 -1.3,13.3 -4.0,13.3 -5.3,12.0 -2.7,4.0 -4.0,-5.3zM-2.0,-6.3 2.0,-6.3 2.0,-5.0 -2.0,-5.0zM4.0,-5.3 8.0,0.0 6.7,2.7 1.3,-4.0zM-1.3,-4.0 -6.7,2.7 -8.0,0.0 -4.0,-5.3z"/>
<path transform="translate(384.8 384.5)" fill="#54c4c4" stroke="#54c4c4" d="M3.5,-9.3 3.2,-7.8 2.2,-6.5 0.8,-5.9 -0.8,-5.9 -2.2,-6.5 -3.2,-7.8 -3.5,-9.3 -3.2,-10.8 -2.2,-12.1 -0.8,-12.8 0.8,-12.8 2.2,-12.1 3.2,-10.8zM4.0,-5.3 2.7,4.0 5.3,12.0 4.0,13.3 1.3,13.3 0.0,6.7 -1.3,13.3 -4.0,13.3 -5.3,12.0 -2.7,4.0 -4.0,-5.3zM-2.0,-6.3 2.0,-6.3 2.0,-5.0 -2.0,-5.0zM4.0,-5.3 8.0,0.0 6.7,2.7 1.3,-4.0zM-1.3,-4.0 -6.7,2.7 -8.0,0.0 -4.0,-5.3z"/>
<path transform="translate(263.1 370.1)" fill="#d73229" stroke="#d73229" d="M3.5,-9.3 3.2,-7.8 2.2,-6.5 0.8,-5.9 -0.8,-5.9 -2.2,-6.5 -3.2,-7.8 -3.5,-9.3 -3.2,-10.8 -2.2,-12.1 -0.8,-12.8 0.8,-12.8 2.2,-12.1 3.2,-10.8zM4.0,-5.3 2.7,4.0 5.3,12.0 4.0,13.3 1.3,13.3 0.0,6.7 -1.3,13.3 -4.0,13.3 -5.3,12.0 -2.7,4.0 -4.0,-5.3zM-2.0,-6.3 2.0,-6.3 2.0,-5.0 -2.0,-5.0zM4.0,-5.3 8.0,0.0 6.7,2.7 1.3,-4.0zM-1.3,-4.0 -6.7,2.7 -8.0,0.0 -4.0,-5.3z"/>
<path transform="translate(276.4 371.2)" fill="#54c4c4" stroke="#54c4c4" d="M3.5,-9.3 3.2,-7.8 2.2,-6.5 0.8,-5.9 -0.8,-5.9 -2.2,-6.5 -3.2,-7.8 -3.5,-9.3 -3.2,-10.8 -2.2,-12.1 -0.8,-12.8 0.8,-12.8 2.2,-12.1 3.2,-10.8zM4.0,-5.3 2.7,4.0 5.3,12.0 4.0,13.3 1.3,13.3 0.0,6.7 -1.3,13.3 -4.0,13.3 -5.3,12.0 -2.7,4.0 -4.0,-5.3zM-2.0,-6.3 2.0,-6.3 2.0,-5.0 -2.0,-5.0zM4.0,-5.3 8.0,0.0 6.7,2.7 1.3,-4.0zM-1.3,-4.0 -6.7,2.7 -8.0,0.0 -4.0,-5.3z"/>
<path transform="translate(334.0 397.1)" fill="#7c50a4" stroke="#7c50a4" d="M3.5,-9.3 3.2,-7.8 2.2,-6.5 0.8,-5.9 -0.8,-5.9 -2.2,-6.5 -3.2,-7.8 -3.5,-9.3 -3.2,-10.8 -2.2,-12.1 -0.8,-12.8 0.8,-12.8 2.2,-12.1 3.2,-10.8zM4.0,-5.3 2.7,4.0 5.3,12.0 4.0,13.3 1.3,13.3 0.0,6.7 -1.3,13.3 -4.0,13.3 -5.3,12.0 -2.7,4.0 -4.0,-5.3zM-2.0,-6.3 2.0,-6.3 2.0,-5.0 -2.0,-5.0zM4.0,-5.3 8.0,0.0 6.7,2.7 1.3,-4.0zM-1.3,-4.0 -6.7,2.7 -8.0,0.0 -4.0,-5.3z"/>
<path transform="translate(395.4 274.7)" fill="#ffffff" stroke="#ffffff" d="M3.5,-9.3 3.2,-7.8 2.2,-6.5 0.8,-5.9 -0.8,-5.9 -2.2,-6.5 -3.2,-7.8 -3.5,-9.3 -3.2,-10.8 -2.2,-12.1 -0.8,-12.8 0.8,-12.8 2.2,-12.1 3.2,-10.8zM4.0,-5.3 2.7,4.0 5.3,12.0 4.0,13.3 1.3,13.3 0.0,6.7 -1.3,13.3 -4.0,13.3 -5.3,12.0 -2.7,4.0 -4.0,-5.3zM-2.0,-6.3 2.0,-6.3 2.0,-5.0 -2.0,-5.0zM4.0,-5.3 8.0,0.0 6.7,2.7 1.3,-4.0zM-1.3,-4.0 -6.7,2.7 -8.0,0.0 -4.0,-5.3z"/>
<path transform="translate(434.3 273.1)" fill="#54c4c4" stroke="#54c4c4" d="M3.5,-9.3 3.2,-7.8 2.2,-6.5 0.8,-5.9 -0.8,-5.9 -2.2,-6.5 -3.2,-7.8 -3.5,-9.3 -3.2,-10.8 -2.2,-12.1 -0.8,-12.8 0.8,-12.8 2.2,-12.1 3.2,-10.8zM4.0,-5.3 2.7,4.0 5.3,12.0 4.0,13.3 1.3,13.3 0.0,6.7 -1.3,13.3 -4.0,13.3 -5.3,12.0 -2.7,4.0 -4.0,-5.3zM-2.0,-6.3 2.0,-6.3 2.0,-5.0 -2.0,-5.0zM4.0,-5.3 8.0,0.0 6.7,2.7 1.3,-4.0zM-1.3,-4.0 -6.7,2.7 -8.0,0.0 -4.0,-5.3z"/>
<path transform="translate(439.3 267.3)" fill="#a71b6a" stroke="#a71b6a" d="M12.0,-4.5 12.3,-3.1 14.7,-2.3 14.9,-1.6 14.3,-1.0 12.7,-0.9 13.4,0.1 10.9,-0.5 9.2,-0.6 7.7,1.4 6.0,3.4 4.2,4.8 4.5,8.0 5.7,10.8 6.9,11.2 6.7,12.1 5.0,12.1 4.8,11.0 3.6,9.0 2.8,9.7 1.9,11.4 0.4,11.5 1.0,9.8 1.7,10.1 2.3,8.8 2.2,6.3 1.6,6.0 1.0,4.5 -0.7,5.2 -3.1,5.1 -5.2,4.6 -5.0,5.7 -7.1,8.1 -7.3,8.9 -4.7,11.1 -5.0,11.7 -6.6,11.8 -6.8,11.1 -8.5,9.3 -8.4,7.8 -7.5,5.9 -8.2,4.8 -9.0,5.6 -11.9,8.0 -11.9,10.3 -11.0,11.0 -11.2,11.6 -12.3,11.5 -13.0,10.7 -13.0,7.6 -11.2,5.5 -11.2,4.3 -12.0,4.1 -13.7,4.7 -14.8,4.4zM-15.1,4.5 -13.6,3.0 -11.4,1.6 -11.0,0.3 -9.7,-1.0 -6.8,-1.9 -1.6,-1.7 0.9,-2.4 3.8,-3.5 7.7,-4.2 8.6,-4.8 8.8,-5.2 11.8,-6.4 11.9,-5.8 13.1,-6.3 11.9,-4.7 11.9,-3.7z"/>
<path transform="translate(449.8 282.2)" fill="#7c50a4" stroke="#7c50a4" d="M3.5,-9.3 3.2,-7.8 2.2,-6.5 0.8,-5.9 -0.8,-5.9 -2.2,-6.5 -3.2,-7.8 -3.5,-9.3 -3.2,-10.8 -2.2,-12.1 -0.8,-12.8 0.8,-12.8 2.2,-12.1 3.2,-10.8zM4.0,-5.3 2.7,4.0 5.3,12.0 4.0,13.3 1.3,13.3 0.0,6.7 -1.3,13.3 -4.0,13.3 -5.3,12.0 -2.7,4.0 -4.0,-5.3zM-2.0,-6.3 2.0,-6.3 2.0,-5.0 -2.0,-5.0zM4.0,-5.3 8.0,0.0 6.7,2.7 1.3,-4.0zM-1.3,-4.0 -6.7,2.7 -8.0,0.0 -4.0,-5.3z"/>
<path transform="translate(452.1 280.4)" fill="#ffffff" stroke="#ffffff" d="M3.5,-9.3 3.2,-7.8 2.2,-6.5 0.8,-5.9 -0.8,-5.9 -2.2,-6.5 -3.2,-7.8 -3.5,-9.3 -3.2,-10.8 -2.2,-12.1 -0.8,-12.8 0.8,-12.8 2.2,-12.1 3.2,-10.8zM4.0,-5.3 2.7,4.0 5.3,12.0 4.0,13.3 1.3,13.3 0.0,6.7 -1.3,13.3 -4.0,13.3 -5.3,12.0 -2.7,4.0 -4.0,-5.3zM-2.0,-6.3 2.0,-6.3 2.0,-5.0 -2.0,-5.0zM4.0,-5.3 8.0,0.0 6.7,2.7 1.3,-4.0zM-1.3,-4.0 -6.7,2.7 -8.0,0.0 -4.0,-5.3z"/>
<path transform="translate(472.7 283.8)" fill="#7c50a4" stroke="#7c50a4" d="M3.5,-9.3 3.2,-7.8 2.2,-6.5 0.8,-5.9 -0.8,-5.9 -2.2,-6.5 -3.2,-7.8 -3.5,-9.3 -3.2,-10.8 -2.2,-12.1 -0.8,-12.8 0.8,-12.8 2.2,-12.1 3.2,-10.8zM4.0,-5.3 2.7,4.0 5.3,12.0 4.0,13.3 1.3,13.3 0.0,6.7 -1.3,13.3 -4.0,13.3 -5.3,12.0 -2.7,4.0 -4.0,-5.3zM-2.0,-6.3 2.0,-6.3 2.0,-5.0 -2.0,-5.0zM4.0,-5.3 8.0,0.0 6.7,2.7 1.3,-4.0zM-1.3,-4.0 -6.7,2.7 -8.0,0.0 -4.0,-5.3z"/>
<path transform="translate(495.6 279.2)" fill="#ffffff" stroke="#ffffff" d="M3.5,-9.3 3.2,-7.8 2.2,-6.5 0.8,-5.9 -0.8,-5.9 -2.2,-6.5 -3.2,-7.8 -3.5,-9.3 -3.2,-10.8 -2.2,-12.1 -0.8,-12.8 0.8,-12.8 2.2,-12.1 3.2,-10.8zM4.0,-5.3 2.7,4.0 5.3,12.0 4.0,13.3 1.3,13.3 0.0,6.7 -1.3,13.3 -4.0,13.3 -5.3,12.0 -2.7,4.0 -4.0,-5.3zM-2.0,-6.3 2.0,-6.3 2.0,-5.0 -2.0,-5.0zM4.0,-5.3 8.0,0.0 6.7,2.7 1.3,-4.0zM-1.3,-4.0 -6.7,2.7 -8.0,0.0 -4.0,-5.3z"/>
<path transform="translate(504.8 284.3)" fill="#54c4c4" stroke="#54c4c4" d="M3.5,-9.3 3.2,-7.8 2.2,-6.5 0.8,-5.9 -0.8,-5.9 -2.2,-6.5 -3.2,-7.8 -3.5,-9.3 -3.2,-10.8 -2.2,-12.1 -0.8,-12.8 0.8,-12.8 2.2,-12.1 3.2,-10.8zM4.0,-5.3 2.7,4.0 5.3,12.0 4.0,13.3 1.3,13.3 0.0,6.7 -1.3,13.3 -4.0,13.3 -5.3,12.0 -2.7,4.0 -4.0,-5.3zM-2.0,-6.3 2.0,-6.3 2.0,-5.0 -2.0,-5.0zM4.0,-5.3 8.0,0.0 6.7,2.7 1.3,-4.0zM-1.3,-4.0 -6.7,2.7 -8.0,0.0 -4.0,-5.3z"/>
<path transform="translate(512.5 283.8)" fill="#ffffff" stroke="#ffffff" d="M3.5,-9.3 3.2,-7.8 2.2,-6.5 0.8,-5.9 -0.8,-5.9 -2.2,-6.5 -3.2,-7.8 -3.5,-9.3 -3.2,-10.8 -2.2,-12.1 -0.8,-12.8 0.8,-12.8 2.2,-12.1 3.2,-10.8zM4.0,-5.3 2.7,4.0 5.3,12.0 4.0,13.3 1.3,13.3 0.0,6.7 -1.3,13.3 -4.0,13.3 -5.3,12.0 -2.7,4.0 -4.0,-5.3zM-2.0,-6.3 2.0,-6.3 2.0,-5.0 -2.0,-5.0zM4.0,-5.3 8.0,0.0 6.7,2.7 1.3,-4.0zM-1.3,-4.0 -6.7,2.7 -8.0,0.0 -4.0,-5.3z"/>
<path transform="translate(411.4 294.1)" fill="#54c4c4" stroke="#54c4c4" d="M3.5,-9.3 3.2,-7.8 2.2,-6.5 0.8,-5.9 -0.8,-5.9 -2.2,-6.5 -3.2,-7.8 -3.5,-9.3 -3.2,-10.8 -2.2,-12.1 -0.8,-12.8 0.8,-12.8 2.2,-12.1 3.2,-10.8zM4.0,-5.3 2.7,4.0 5.3,12.0 4.0,13.3 1.3,13.3 0.0,6.7 -1.3,13.3 -4.0,13.3 -5.3,12.0 -2.7,4.0 -4.0,-5.3zM-2.0,-6.3 2.0,-6.3 2.0,-5.0 -2.0,-5.0zM4.0,-5.3 8.0,0.0 6.7,2.7 1.3,-4.0zM-1.3,-4.0 -6.7,2.7 -8.0,0.0 -4.0,-5.3z"/>
<path transform="translate(438.4 302.1)" fill="#ffffff" stroke="#ffffff" d="M3.5,-9.3 3.2,-7.8 2.2,-6.5 0.8,-5.9 -0.8,-5.9 -2.2,-6.5 -3.2,-7.8 -3.5,-9.3 -3.2,-10.8 -2.2,-12.1 -0.8,-12.8 0.8,-12.8 2.2,-12.1 3.2,-10.8zM4.0,-5.3 2.7,4.0 5.3,12.0 4.0,13.3 1.3,13.3 0.0,6.7 -1.3,13.3 -4.0,13.3 -5.3,12.0 -2.7,4.0 -4.0,-5.3zM-2.0,-6.3 2.0,-6.3 2.0,-5.0 -2.0,-5.0zM4.0,-5.3 8.0,0.0 6.7,2.7 1.3,-4.0zM-1.3,-4.0 -6.7,2.7 -8.0,0.0 -4.0,-5.3z"/>
<path transform="translate(445.7 305.6)" fill="#d73229" stroke="#d73229" d="M3.5,-9.3 3.2,-7.8 2.2,-6.5 0.8,-5.9 -0.8,-5.9 -2.2,-6.5 -3.2,-7.8 -3.5,-9.3 -3.2,-10.8 -2.2,-12.1 -0.8,-12.8 0.8,-12.8 2.2,-12.1 3.2,-10.8zM4.0,-5.3 2.7,4.0 5.3,12.0 4.0,13.3 1.3,13.3 0.0,6.7 -1.3,13.3 -4.0,13.3 -5.3,12.0 -2.7,4.0 -4.0,-5.3zM-2.0,-6.3 2.0,-6.3 2.0,-5.0 -2.0,-5.0zM4.0,-5.3 8.0,0.0 6.7,2.7 1.3,-4.0zM-1.3,-4.0 -6.7,2.7 -8.0,0.0 -4.0,-5.3z"/>
<path transform="translate(464.0 289.5)" fill="#54c4c4" stroke="#54c4c4" d="M3.5,-9.3 3.2,-7.8 2.2,-6.5 0.8,-5.9 -0.8,-5.9 -2.2,-6.5 -3.2,-7.8 -3.5,-9.3 -3.2,-10.8 -2.2,-12.1 -0.8,-12.8 0.8,-12.8 2.2,-12.1 3.2,-10.8zM4.0,-5.3 2.7,4.0 5.3,12.0 4.0,13.3 1.3,13.3 0.0,6.7 -1.3,13.3 -4.0,13.3 -5.3,12.0 -2.7,4.0 -4.0,-5.3zM-2.0,-6.3 2.0,-6.3 2.0,-5.0 -2.0,-5.0zM4.0,-5.3 8.0,0.0 6.7,2.7 1.3,-4.0zM-1.3,-4.0 -6.7,2.7 -8.0,0.0 -4.0,-5.3z"/>
<path transform="translate(462.2 309.0)" fill="#54c4c4" stroke="#54c4c4" d="M3.5,-9.3 3.2,-7.8 2.2,-6.5 0.8,-5.9 -0.8,-5.9 -2.2,-6.5 -3.2,-7.8 -3.5,-9.3 -3.2,-10.8 -2.2,-12.1 -0.8,-12.8 0.8,-12.8 2.2,-12.1 3.2,-10.8zM4.0,-5.3 2.7,4.0 5.3,12.0 4.0,13.3 1.3,13.3 0.0,6.7 -1.3,13.3 -4.0,13.3 -5.3,12.0 -2.7,4.0 -4.0,-5.3zM-2.0,-6.3 2.0,-6.3 2.0,-5.0 -2.0,-5.0zM4.0,-5.3 8.0,0.0 6.7,2.7 1.3,-4.0zM-1.3,-4.0 -6.7,2.7 -8.0,0.0 -4.0,-5.3z"/>
<path transform="translate(481.2 308.3)" fill="#54c4c4" stroke="#54c4c4" d="M3.5,-9.3 3.2,-7.8 2.2,-6.5 0.8,-5.9 -0.8,-5.9 -2.2,-6.5 -3.2,-7.8 -3.5,-9.3 -3.2,-10.8 -2.2,-12.1 -0.8,-12.8 0.8,-12.8 2.2,-12.1 3.2,-10.8zM4.0,-5.3 2.7,4.0 5.3,12.0 4.0,13.3 1.3,13.3 0.0,6.7 -1.3,13.3 -4.0,13.3 -5.3,12.0 -2.7,4.0 -4.0,-5.3zM-2.0,-6.3 2.0,-6.3 2.0,-5.0 -2.0,-5.0zM4.0,-5.3 8.0,0.0 6.7,2.7 1.3,-4.0zM-1.3,-4.0 -6.7,2.7 -8.0,0.0 -4.0,-5.3z"/>
<path transform="translate(480.5 298.7)" fill="#d73229" stroke="#d73229" d="M3.5,-9.3 3.2,-7.8 2.2,-6.5 0.8,-5.9 -0.8,-5.9 -2.2,-6.5 -3.2,-7.8 -3.5,-9.3 -3.2,-10.8 -2.2,-12.1 -0.8,-12.8 0.8,-12.8 2.2,-12.1 3.2,-10.8zM4.0,-5.3 2.7,4.0 5.3,12.0 4.0,13.3 1.3,13.3 0.0,6.7 -1.3,13.3 -4.0,13.3 -5.3,12.0 -2.7,4.0 -4.0,-5.3zM-2.0,-6.3 2.0,-6.3 2.0,-5.0 -2.0,-5.0zM4.0,-5.3 8.0,0.0 6.7,2.7 1.3,-4.0zM-1.3,-4.0 -6.7,2.7 -8.0,0.0 -4.0,-5.3z"/>
<path transform="translate(469.1 313.1)" fill="#54c4c4" stroke="#54c4c4" d="M3.5,-9.3 3.2,-7.8 2.2,-6.5 0.8,-5.9 -0.8,-5.9 -2.2,-6.5 -3.2,-7.8 -3.5,-9.3 -3.2,-10.8 -2.2,-12.1 -0.8,-12.8 0.8,-12.8 2.2,-12.1 3.2,-10.8zM4.0,-5.3 2.7,4.0 5.3,12.0 4.0,13.3 1.3,13.3 0.0,6.7 -1.3,13.3 -4.0,13.3 -5.3,12.0 -2.7,4.0 -4.0,-5.3zM-2.0,-6.3 2.0,-6.3 2.0,-5.0 -2.0,-5.0zM4.0,-5.3 8.0,0.0 6.7,2.7 1.3,-4.0zM-1.3,-4.0 -6.7,2.7 -8.0,0.0 -4.0,-5.3z"/>
<path transform="translate(447.3 319.3)" fill="#54c4c4" stroke="#54c4c4" d="M3.5,-9.3 3.2,-7.8 2.2,-6.5 0.8,-5.9 -0.8,-5.9 -2.2,-6.5 -3.2,-7.8 -3.5,-9.3 -3.2,-10.8 -2.2,-12.1 -0.8,-12.8 0.8,-12.8 2.2,-12.1 3.2,-10.8zM4.0,-5.3 2.7,4.0 5.3,12.0 4.0,13.3 1.3,13.3 0.0,6.7 -1.3,13.3 -4.0,13.3 -5.3,12.0 -2.7,4.0 -4.0,-5.3zM-2.0,-6.3 2.0,-6.3 2.0,-5.0 -2.0,-5.0zM4.0,-5.3 8.0,0.0 6.7,2.7 1.3,-4.0zM-1.3,-4.0 -6.7,2.7 -8.0,0.0 -4.0,-5.3z"/>
<path transform="translate(417.8 325.7)" fill="#ffffff" stroke="#ffffff" d="M3.5,-9.3 3.2,-7.8 2.2,-6.5 0.8,-5.9 -0.8,-5.9 -2.2,-6.5 -3.2,-7.8 -3.5,-9.3 -3.2,-10.8 -2.2,-12.1 -0.8,-12.8 0.8,-12.8 2.2,-12.1 3.2,-10.8zM4.0,-5.3 2.7,4.0 5.3,12.0 4.0,13.3 1.3,13.3 0.0,6.7 -1.3,13.3 -4.0,13.3 -5.3,12.0 -2.7,4.0 -4.0,-5.3zM-2.0,-6.3 2.0,-6.3 2.0,-5.0 -2.0,-5.0zM4.0,-5.3 8.0,0.0 6.7,2.7 1.3,-4.0zM-1.3,-4.0 -6.7,2.7 -8.0,0.0 -4.0,-5.3z"/>
<path transform="translate(400.4 338.8)" fill="#54c4c4" stroke="#54c4c4" d="M3.5,-9.3 3.2,-7.8 2.2,-6.5 0.8,-5.9 -0.8,-5.9 -2.2,-6.5 -3.2,-7.8 -3.5,-9.3 -3.2,-10.8 -2.2,-12.1 -0.8,-12.8 0.8,-12.8 2.2,-12.1 3.2,-10.8zM4.0,-5.3 2.7,4.0 5.3,12.0 4.0,13.3 1.3,13.3 0.0,6.7 -1.3,13.3 -4.0,13.3 -5.3,12.0 -2.7,4.0 -4.0,-5.3zM-2.0,-6.3 2.0,-6.3 2.0,-5.0 -2.0,-5.0zM4.0,-5.3 8.0,0.0 6.7,2.7 1.3,-4.0zM-1.3,-4.0 -6.7,2.7 -8.0,0.0 -4.0,-5.3z"/>
<path transform="translate(494.2 341.0)" fill="#ffffff" stroke="#ffffff" d="M3.5,-9.3 3.2,-7.8 2.2,-6.5 0.8,-5.9 -0.8,-5.9 -2.2,-6.5 -3.2,-7.8 -3.5,-9.3 -3.2,-10.8 -2.2,-12.1 -0.8,-12.8 0.8,-12.8 2.2,-12.1 3.2,-10.8zM4.0,-5.3 2.7,4.0 5.3,12.0 4.0,13.3 1.3,13.3 0.0,6.7 -1.3,13.3 -4.0,13.3 -5.3,12.0 -2.7,4.0 -4.0,-5.3zM-2.0,-6.3 2.0,-6.3 2.0,-5.0 -2.0,-5.0zM4.0,-5.3 8.0,0.0 6.7,2.7 1.3,-4.0zM-1.3,-4.0 -6.7,2.7 -8.0,0.0 -4.0,-5.3z"/>
<path transform="translate(515.5 359.8)" fill="#ffffff" stroke="#ffffff" d="M3.5,-9.3 3.2,-7.8 2.2,-6.5 0.8,-5.9 -0.8,-5.9 -2.2,-6.5 -3.2,-7.8 -3.5,-9.3 -3.2,-10.8 -2.2,-12.1 -0.8,-12.8 0.8,-12.8 2.2,-12.1 3.2,-10.8zM4.0,-5.3 2.7,4.0 5.3,12.0 4.0,13.3 1.3,13.3 0.0,6.7 -1.3,13.3 -4.0,13.3 -5.3,12.0 -2.7,4.0 -4.0,-5.3zM-2.0,-6.3 2.0,-6.3 2.0,-5.0 -2.0,-5.0zM4.0,-5.3 8.0,0.0 6.7,2.7 1.3,-4.0zM-1.3,-4.0 -6.7,2.7 -8.0,0.0 -4.0,-5.3z"/>
<path transform="translate(456.7 365.1)" fill="#ffffff" stroke="#ffffff" d="M3.5,-9.3 3.2,-7.8 2.2,-6.5 0.8,-5.9 -0.8,-5.9 -2.2,-6.5 -3.2,-7.8 -3.5,-9.3 -3.2,-10.8 -2.2,-12.1 -0.8,-12.8 0.8,-12.8 2.2,-12.1 3.2,-10.8zM4.0,-5.3 2.7,4.0 5.3,12.0 4.0,13.3 1.3,13.3 0.0,6.7 -1.3,13.3 -4.0,13.3 -5.3,12.0 -2.7,4.0 -4.0,-5.3zM-2.0,-6.3 2.0,-6.3 2.0,-5.0 -2.0,-5.0zM4.0,-5.3 8.0,0.0 6.7,2.7 1.3,-4.0zM-1.3,-4.0 -6.7,2.7 -8.0,0.0 -4.0,-5.3z"/>
<path transform="translate(418.3 382.2)" fill="#54c4c4" stroke="#54c4c4" d="M3.5,-9.3 3.2,-7.8 2.2,-6.5 0.8,-5.9 -0.8,-5.9 -2.2,-6.5 -3.2,-7.8 -3.5,-9.3 -3.2,-10.8 -2.2,-12.1 -0.8,-12.8 0.8,-12.8 2.2,-12.1 3.2,-10.8zM4.0,-5.3 2.7,4.0 5.3,12.0 4.0,13.3 1.3,13.3 0.0,6.7 -1.3,13.3 -4.0,13.3 -5.3,12.0 -2.7,4.0 -4.0,-5.3zM-2.0,-6.3 2.0,-6.3 2.0,-5.0 -2.0,-5.0zM4.0,-5.3 8.0,0.0 6.7,2.7 1.3,-4.0zM-1.3,-4.0 -6.7,2.7 -8.0,0.0 -4.0,-5.3z"/>
<path transform="translate(418.7 370.8)" fill="#ffffff" stroke="#ffffff" d="M3.5,-9.3 3.2,-7.8 2.2,-6.5 0.8,-5.9 -0.8,-5.9 -2.2,-6.5 -3.2,-7.8 -3.5,-9.3 -3.2,-10.8 -2.2,-12.1 -0.8,-12.8 0.8,-12.8 2.2,-12.1 3.2,-10.8zM4.0,-5.3 2.7,4.0 5.3,12.0 4.0,13.3 1.3,13.3 0.0,6.7 -1.3,13.3 -4.0,13.3 -5.3,12.0 -2.7,4.0 -4.0,-5.3zM-2.0,-6.3 2.0,-6.3 2.0,-5.0 -2.0,-5.0zM4.0,-5.3 8.0,0.0 6.7,2.7 1.3,-4.0zM-1.3,-4.0 -6.7,2.7 -8.0,0.0 -4.0,-5.3z"/>
<path transform="translate(399.5 379.9)" fill="#d73229" stroke="#d73229" d="M3.5,-9.3 3.2,-7.8 2.2,-6.5 0.8,-5.9 -0.8,-5.9 -2.2,-6.5 -3.2,-7.8 -3.5,-9.3 -3.2,-10.8 -2.2,-12.1 -0.8,-12.8 0.8,-12.8 2.2,-12.1 3.2,-10.8zM4.0,-5.3 2.7,4.0 5.3,12.0 4.0,13.3 1.3,13.3 0.0,6.7 -1.3,13.3 -4.0,13.3 -5.3,12.0 -2.7,4.0 -4.0,-5.3zM-2.0,-6.3 2.0,-6.3 2.0,-5.0 -2.0,-5.0zM4.0,-5.3 8.0,0.0 6.7,2.7 1.3,-4.0zM-1.3,-4.0 -6.7,2.7 -8.0,0.0 -4.0,-5.3z"/>
<path transform="translate(389.0 384.5)" fill="#54c4c4" stroke="#54c4c4" d="M3.5,-9.3 3.2,-7.8 2.2,-6.5 0.8,-5.9 -0.8,-5.9 -2.2,-6.5 -3.2,-7.8 -3.5,-9.3 -3.2,-10.8 -2.2,-12.1 -0.8,-12.8 0.8,-12.8 2.2,-12.1 3.2,-10.8zM4.0,-5.3 2.7,4.0 5.3,12.0 4.0,13.3 1.3,13.3 0.0,6.7 -1.3,13.3 -4.0,13.3 -5.3,12.0 -2.7,4.0 -4.0,-5.3zM-2.0,-6.3 2.0,-6.3 2.0,-5.0 -2.0,-5.0zM4.0,-5.3 8.0,0.0 6.7,2.7 1.3,-4.0zM-1.3,-4.0 -6.7,2.7 -8.0,0.0 -4.0,-5.3z"/>
<path transform="translate(477.3 383.4)" fill="#54c4c4" stroke="#54c4c4" d="M3.5,-9.3 3.2,-7.8 2.2,-6.5 0.8,-5.9 -0.8,-5.9 -2.2,-6.5 -3.2,-7.8 -3.5,-9.3 -3.2,-10.8 -2.2,-12.1 -0.8,-12.8 0.8,-12.8 2.2,-12.1 3.2,-10.8zM4.0,-5.3 2.7,4.0 5.3,12.0 4.0,13.3 1.3,13.3 0.0,6.7 -1.3,13.3 -4.0,13.3 -5.3,12.0 -2.7,4.0 -4.0,-5.3zM-2.0,-6.3 2.0,-6.3 2.0,-5.0 -2.0,-5.0zM4.0,-5.3 8.0,0.0 6.7,2.7 1.3,-4.0zM-1.3,-4.0 -6.7,2.7 -8.0,0.0 -4.0,-5.3z"/>
<path transform="translate(469.1 383.4)" fill="#ffffff" stroke="#ffffff" d="M3.5,-9.3 3.2,-7.8 2.2,-6.5 0.8,-5.9 -0.8,-5.9 -2.2,-6.5 -3.2,-7.8 -3.5,-9.3 -3.2,-10.8 -2.2,-12.1 -0.8,-12.8 0.8,-12.8 2.2,-12.1 3.2,-10.8zM4.0,-5.3 2.7,4.0 5.3,12.0 4.0,13.3 1.3,13.3 0.0,6.7 -1.3,13.3 -4.0,13.3 -5.3,12.0 -2.7,4.0 -4.0,-5.3zM-2.0,-6.3 2.0,-6.3 2.0,-5.0 -2.0,-5.0zM4.0,-5.3 8.0,0.0 6.7,2.7 1.3,-4.0zM-1.3,-4.0 -6.7,2.7 -8.0,0.0 -4.0,-5.3z"/>
<path transform="translate(479.6 372.4)" fill="#ffffff" stroke="#ffffff" d="M3.5,-9.3 3.2,-7.8 2.2,-6.5 0.8,-5.9 -0.8,-5.9 -2.2,-6.5 -3.2,-7.8 -3.5,-9.3 -3.2,-10.8 -2.2,-12.1 -0.8,-12.8 0.8,-12.8 2.2,-12.1 3.2,-10.8zM4.0,-5.3 2.7,4.0 5.3,12.0 4.0,13.3 1.3,13.3 0.0,6.7 -1.3,13.3 -4.0,13.3 -5.3,12.0 -2.7,4.0 -4.0,-5.3zM-2.0,-6.3 2.0,-6.3 2.0,-5.0 -2.0,-5.0zM4.0,-5.3 8.0,0.0 6.7,2.7 1.3,-4.0zM-1.3,-4.0 -6.7,2.7 -8.0,0.0 -4.0,-5.3z"/>
<path transform="translate(496.5 375.4)" fill="#ffffff" stroke="#ffffff" d="M3.5,-9.3 3.2,-7.8 2.2,-6.5 0.8,-5.9 -0.8,-5.9 -2.2,-6.5 -3.2,-7.8 -3.5,-9.3 -3.2,-10.8 -2.2,-12.1 -0.8,-12.8 0.8,-12.8 2.2,-12.1 3.2,-10.8zM4.0,-5.3 2.7,4.0 5.3,12.0 4.0,13.3 1.3,13.3 0.0,6.7 -1.3,13.3 -4.0,13.3 -5.3,12.0 -2.7,4.0 -4.0,-5.3zM-2.0,-6.3 2.0,-6.3 2.0,-5.0 -2.0,-5.0zM4.0,-5.3 8.0,0.0 6.7,2.7 1.3,-4.0zM-1.3,-4.0 -6.7,2.7 -8.0,0.0 -4.0,-5.3z"/>
<path transform="translate(502.9 390.2)" fill="#54c4c4" stroke="#54c4c4" d="M3.5,-9.3 3.2,-7.8 2.2,-6.5 0.8,-5.9 -0.8,-5.9 -2.2,-6.5 -3.2,-7.8 -3.5,-9.3 -3.2,-10.8 -2.2,-12.1 -0.8,-12.8 0.8,-12.8 2.2,-12.1 3.2,-10.8zM4.0,-5.3 2.7,4.0 5.3,12.0 4.0,13.3 1.3,13.3 0.0,6.7 -1.3,13.3 -4.0,13.3 -5.3,12.0 -2.7,4.0 -4.0,-5.3zM-2.0,-6.3 2.0,-6.3 2.0,-5.0 -2.0,-5.0zM4.0,-5.3 8.0,0.0 6.7,2.7 1.3,-4.0zM-1.3,-4.0 -6.7,2.7 -8.0,0.0 -4.0,-5.3z"/>
<path transform="translate(458.3 394.8)" fill="#54c4c4" stroke="#54c4c4" d="M3.5,-9.3 3.2,-7.8 2.2,-6.5 0.8,-5.9 -0.8,-5.9 -2.2,-6.5 -3.2,-7.8 -3.5,-9.3 -3.2,-10.8 -2.2,-12.1 -0.8,-12.8 0.8,-12.8 2.2,-12.1 3.2,-10.8zM4.0,-5.3 2.7,4.0 5.3,12.0 4.0,13.3 1.3,13.3 0.0,6.7 -1.3,13.3 -4.0,13.3 -5.3,12.0 -2.7,4.0 -4.0,-5.3zM-2.0,-6.3 2.0,-6.3 2.0,-5.0 -2.0,-5.0zM4.0,-5.3 8.0,0.0 6.7,2.7 1.3,-4.0zM-1.3,-4.0 -6.7,2.7 -8.0,0.0 -4.0,-5.3z"/>
<path transform="translate(57.5 399.4)" fill="#d73229" stroke="#d73229" d="M3.5,-9.3 3.2,-7.8 2.2,-6.5 0.8,-5.9 -0.8,-5.9 -2.2,-6.5 -3.2,-7.8 -3.5,-9.3 -3.2,-10.8 -2.2,-12.1 -0.8,-12.8 0.8,-12.8 2.2,-12.1 3.2,-10.8zM4.0,-5.3 2.7,4.0 5.3,12.0 4.0,13.3 1.3,13.3 0.0,6.7 -1.3,13.3 -4.0,13.3 -5.3,12.0 -2.7,4.0 -4.0,-5.3zM-2.0,-6.3 2.0,-6.3 2.0,-5.0 -2.0,-5.0zM4.0,-5.3 8.0,0.0 6.7,2.7 1.3,-4.0zM-1.3,-4.0 -6.7,2.7 -8.0,0.0 -4.0,-5.3z"/>
<path transform="translate(7.7 415.0)" fill="#ffffff" stroke="#ffffff" d="M3.5,-9.3 3.2,-7.8 2.2,-6.5 0.8,-5.9 -0.8,-5.9 -2.2,-6.5 -3.2,-7.8 -3.5,-9.3 -3.2,-10.8 -2.2,-12.1 -0.8,-12.8 0.8,-12.8 2.2,-12.1 3.2,-10.8zM4.0,-5.3 2.7,4.0 5.3,12.0 4.0,13.3 1.3,13.3 0.0,6.7 -1.3,13.3 -4.0,13.3 -5.3,12.0 -2.7,4.0 -4.0,-5.3zM-2.0,-6.3 2.0,-6.3 2.0,-5.0 -2.0,-5.0zM4.0,-5.3 8.0,0.0 6.7,2.7 1.3,-4.0zM-1.3,-4.0 -6.7,2.7 -8.0,0.0 -4.0,-5.3z"/>
<path transform="translate(21.8 429.8)" fill="#ffffff" stroke="#ffffff" d="M3.5,-9.3 3.2,-7.8 2.2,-6.5 0.8,-5.9 -0.8,-5.9 -2.2,-6.5 -3.2,-7.8 -3.5,-9.3 -3.2,-10.8 -2.2,-12.1 -0.8,-12.8 0.8,-12.8 2.2,-12.1 3.2,-10.8zM4.0,-5.3 2.7,4.0 5.3,12.0 4.0,13.3 1.3,13.3 0.0,6.7 -1.3,13.3 -4.0,13.3 -5.3,12.0 -2.7,4.0 -4.0,-5.3zM-2.0,-6.3 2.0,-6.3 2.0,-5.0 -2.0,-5.0zM4.0,-5.3 8.0,0.0 6.7,2.7 1.3,-4.0zM-1.3,-4.0 -6.7,2.7 -8.0,0.0 -4.0,-5.3z"/>
<path transform="translate(1.9 429.8)" fill="#d73229" stroke="#d73229" d="M3.5,-9.3 3.2,-7.8 2.2,-6.5 0.8,-5.9 -0.8,-5.9 -2.2,-6.5 -3.2,-7.8 -3.5,-9.3 -3.2,-10.8 -2.2,-12.1 -0.8,-12.8 0.8,-12.8 2.2,-12.1 3.2,-10.8zM4.0,-5.3 2.7,4.0 5.3,12.0 4.0,13.3 1.3,13.3 0.0,6.7 -1.3,13.3 -4.0,13.3 -5.3,12.0 -2.7,4.0 -4.0,-5.3zM-2.0,-6.3 2.0,-6.3 2.0,-5.0 -2.0,-5.0zM4.0,-5.3 8.0,0.0 6.7,2.7 1.3,-4.0zM-1.3,-4.0 -6.7,2.7 -8.0,0.0 -4.0,-5.3z"/>
<path transform="translate(3.1 449.3)" fill="#54c4c4" stroke="#54c4c4" d="M3.5,-9.3 3.2,-7.8 2.2,-6.5 0.8,-5.9 -0.8,-5.9 -2.2,-6.5 -3.2,-7.8 -3.5,-9.3 -3.2,-10.8 -2.2,-12.1 -0.8,-12.8 0.8,-12.8 2.2,-12.1 3.2,-10.8zM4.0,-5.3 2.7,4.0 5.3,12.0 4.0,13.3 1.3,13.3 0.0,6.7 -1.3,13.3 -4.0,13.3 -5.3,12.0 -2.7,4.0 -4.0,-5.3zM-2.0,-6.3 2.0,-6.3 2.0,-5.0 -2.0,-5.0zM4.0,-5.3 8.0,0.0 6.7,2.7 1.3,-4.0zM-1.3,-4.0 -6.7,2.7 -8.0,0.0 -4.0,-5.3z"/>
<path transform="translate(8.8 466.5)" fill="#ffffff" stroke="#ffffff" d="M3.5,-9.3 3.2,-7.8 2.2,-6.5 0.8,-5.9 -0.8,-5.9 -2.2,-6.5 -3.2,-7.8 -3.5,-9.3 -3.2,-10.8 -2.2,-12.1 -0.8,-12.8 0.8,-12.8 2.2,-12.1 3.2,-10.8zM4.0,-5.3 2.7,4.0 5.3,12.0 4.0,13.3 1.3,13.3 0.0,6.7 -1.3,13.3 -4.0,13.3 -5.3,12.0 -2.7,4.0 -4.0,-5.3zM-2.0,-6.3 2.0,-6.3 2.0,-5.0 -2.0,-5.0zM4.0,-5.3 8.0,0.0 6.7,2.7 1.3,-4.0zM-1.3,-4.0 -6.7,2.7 -8.0,0.0 -4.0,-5.3z"/>
<path transform="translate(55.7 421.8)" fill="#ffffff" stroke="#ffffff" d="M3.5,-9.3 3.2,-7.8 2.2,-6.5 0.8,-5.9 -0.8,-5.9 -2.2,-6.5 -3.2,-7.8 -3.5,-9.3 -3.2,-10.8 -2.2,-12.1 -0.8,-12.8 0.8,-12.8 2.2,-12.1 3.2,-10.8zM4.0,-5.3 2.7,4.0 5.3,12.0 4.0,13.3 1.3,13.3 0.0,6.7 -1.3,13.3 -4.0,13.3 -5.3,12.0 -2.7,4.0 -4.0,-5.3zM-2.0,-6.3 2.0,-6.3 2.0,-5.0 -2.0,-5.0zM4.0,-5.3 8.0,0.0 6.7,2.7 1.3,-4.0zM-1.3,-4.0 -6.7,2.7 -8.0,0.0 -4.0,-5.3z"/>
<path transform="translate(48.4 420.0)" fill="#54c4c4" stroke="#54c4c4" d="M3.5,-9.3 3.2,-7.8 2.2,-6.5 0.8,-5.9 -0.8,-5.9 -2.2,-6.5 -3.2,-7.8 -3.5,-9.3 -3.2,-10.8 -2.2,-12.1 -0.8,-12.8 0.8,-12.8 2.2,-12.1 3.2,-10.8zM4.0,-5.3 2.7,4.0 5.3,12.0 4.0,13.3 1.3,13.3 0.0,6.7 -1.3,13.3 -4.0,13.3 -5.3,12.0 -2.7,4.0 -4.0,-5.3zM-2.0,-6.3 2.0,-6.3 2.0,-5.0 -2.0,-5.0zM4.0,-5.3 8.0,0.0 6.7,2.7 1.3,-4.0zM-1.3,-4.0 -6.7,2.7 -8.0,0.0 -4.0,-5.3z"/>
<path transform="translate(64.9 428.0)" fill="#54c4c4" stroke="#54c4c4" d="M3.5,-9.3 3.2,-7.8 2.2,-6.5 0.8,-5.9 -0.8,-5.9 -2.2,-6.5 -3.2,-7.8 -3.5,-9.3 -3.2,-10.8 -2.2,-12.1 -0.8,-12.8 0.8,-12.8 2.2,-12.1 3.2,-10.8zM4.0,-5.3 2.7,4.0 5.3,12.0 4.0,13.3 1.3,13.3 0.0,6.7 -1.3,13.3 -4.0,13.3 -5.3,12.0 -2.7,4.0 -4.0,-5.3zM-2.0,-6.3 2.0,-6.3 2.0,-5.0 -2.0,-5.0zM4.0,-5.3 8.0,0.0 6.7,2.7 1.3,-4.0zM-1.3,-4.0 -6.7,2.7 -8.0,0.0 -4.0,-5.3z"/>
<path transform="translate(87.3 424.1)" fill="#54c4c4" stroke="#54c4c4" d="M3.5,-9.3 3.2,-7.8 2.2,-6.5 0.8,-5.9 -0.8,-5.9 -2.2,-6.5 -3.2,-7.8 -3.5,-9.3 -3.2,-10.8 -2.2,-12.1 -0.8,-12.8 0.8,-12.8 2.2,-12.1 3.2,-10.8zM4.0,-5.3 2.7,4.0 5.3,12.0 4.0,13.3 1.3,13.3 0.0,6.7 -1.3,13.3 -4.0,13.3 -5.3,12.0 -2.7,4.0 -4.0,-5.3zM-2.0,-6.3 2.0,-6.3 2.0,-5.0 -2.0,-5.0zM4.0,-5.3 8.0,0.0 6.7,2.7 1.3,-4.0zM-1.3,-4.0 -6.7,2.7 -8.0,0.0 -4.0,-5.3z"/>
<path transform="translate(95.8 442.0)" fill="#54c4c4" stroke="#54c4c4" d="M3.5,-9.3 3.2,-7.8 2.2,-6.5 0.8,-5.9 -0.8,-5.9 -2.2,-6.5 -3.2,-7.8 -3.5,-9.3 -3.2,-10.8 -2.2,-12.1 -0.8,-12.8 0.8,-12.8 2.2,-12.1 3.2,-10.8zM4.0,-5.3 2.7,4.0 5.3,12.0 4.0,13.3 1.3,13.3 0.0,6.7 -1.3,13.3 -4.0,13.3 -5.3,12.0 -2.7,4.0 -4.0,-5.3zM-2.0,-6.3 2.0,-6.3 2.0,-5.0 -2.0,-5.0zM4.0,-5.3 8.0,0.0 6.7,2.7 1.3,-4.0zM-1.3,-4.0 -6.7,2.7 -8.0,0.0 -4.0,-5.3z"/>
<path transform="translate(59.6 444.3)" fill="#a71b6a" stroke="#a71b6a" d="M12.0,-4.5 12.3,-3.1 14.7,-2.3 14.9,-1.6 14.3,-1.0 12.7,-0.9 13.4,0.1 10.9,-0.5 9.2,-0.6 7.7,1.4 6.0,3.4 4.2,4.8 4.5,8.0 5.7,10.8 6.9,11.2 6.7,12.1 5.0,12.1 4.8,11.0 3.6,9.0 2.8,9.7 1.9,11.4 0.4,11.5 1.0,9.8 1.7,10.1 2.3,8.8 2.2,6.3 1.6,6.0 1.0,4.5 -0.7,5.2 -3.1,5.1 -5.2,4.6 -5.0,5.7 -7.1,8.1 -7.3,8.9 -4.7,11.1 -5.0,11.7 -6.6,11.8 -6.8,11.1 -8.5,9.3 -8.4,7.8 -7.5,5.9 -8.2,4.8 -9.0,5.6 -11.9,8.0 -11.9,10.3 -11.0,11.0 -11.2,11.6 -12.3,11.5 -13.0,10.7 -13.0,7.6 -11.2,5.5 -11.2,4.3 -12.0,4.1 -13.7,4.7 -14.8,4.4zM-15.1,4.5 -13.6,3.0 -11.4,1.6 -11.0,0.3 -9.7,-1.0 -6.8,-1.9 -1.6,-1.7 0.9,-2.4 3.8,-3.5 7.7,-4.2 8.6,-4.8 8.8,-5.2 11.8,-6.4 11.9,-5.8 13.1,-6.3 11.9,-4.7 11.9,-3.7z"/>
<path transform="translate(74.0 457.3)" fill="#54c4c4" stroke="#54c4c4" d="M3.5,-9.3 3.2,-7.8 2.2,-6.5 0.8,-5.9 -0.8,-5.9 -2.2,-6.5 -3.2,-7.8 -3.5,-9.3 -3.2,-10.8 -2.2,-12.1 -0.8,-12.8 0.8,-12.8 2.2,-12.1 3.2,-10.8zM4.0,-5.3 2.7,4.0 5.3,12.0 4.0,13.3 1.3,13.3 0.0,6.7 -1.3,13.3 -4.0,13.3 -5.3,12.0 -2.7,4.0 -4.0,-5.3zM-2.0,-6.3 2.0,-6.3 2.0,-5.0 -2.0,-5.0zM4.0,-5.3 8.0,0.0 6.7,2.7 1.3,-4.0zM-1.3,-4.0 -6.7,2.7 -8.0,0.0 -4.0,-5.3z"/>
<path transform="translate(119.3 455.7)" fill="#54c4c4" stroke="#54c4c4" d="M3.5,-9.3 3.2,-7.8 2.2,-6.5 0.8,-5.9 -0.8,-5.9 -2.2,-6.5 -3.2,-7.8 -3.5,-9.3 -3.2,-10.8 -2.2,-12.1 -0.8,-12.8 0.8,-12.8 2.2,-12.1 3.2,-10.8zM4.0,-5.3 2.7,4.0 5.3,12.0 4.0,13.3 1.3,13.3 0.0,6.7 -1.3,13.3 -4.0,13.3 -5.3,12.0 -2.7,4.0 -4.0,-5.3zM-2.0,-6.3 2.0,-6.3 2.0,-5.0 -2.0,-5.0zM4.0,-5.3 8.0,0.0 6.7,2.7 1.3,-4.0zM-1.3,-4.0 -6.7,2.7 -8.0,0.0 -4.0,-5.3z"/>
<path transform="translate(41.5 474.0)" fill="#54c4c4" stroke="#54c4c4" d="M3.5,-9.3 3.2,-7.8 2.2,-6.5 0.8,-5.9 -0.8,-5.9 -2.2,-6.5 -3.2,-7.8 -3.5,-9.3 -3.2,-10.8 -2.2,-12.1 -0.8,-12.8 0.8,-12.8 2.2,-12.1 3.2,-10.8zM4.0,-5.3 2.7,4.0 5.3,12.0 4.0,13.3 1.3,13.3 0.0,6.7 -1.3,13.3 -4.0,13.3 -5.3,12.0 -2.7,4.0 -4.0,-5.3zM-2.0,-6.3 2.0,-6.3 2.0,-5.0 -2.0,-5.0zM4.0,-5.3 8.0,0.0 6.7,2.7 1.3,-4.0zM-1.3,-4.0 -6.7,2.7 -8.0,0.0 -4.0,-5.3z"/>
<path transform="translate(60.3 486.4)" fill="#54c4c4" stroke="#54c4c4" d="M3.5,-9.3 3.2,-7.8 2.2,-6.5 0.8,-5.9 -0.8,-5.9 -2.2,-6.5 -3.2,-7.8 -3.5,-9.3 -3.2,-10.8 -2.2,-12.1 -0.8,-12.8 0.8,-12.8 2.2,-12.1 3.2,-10.8zM4.0,-5.3 2.7,4.0 5.3,12.0 4.0,13.3 1.3,13.3 0.0,6.7 -1.3,13.3 -4.0,13.3 -5.3,12.0 -2.7,4.0 -4.0,-5.3zM-2.0,-6.3 2.0,-6.3 2.0,-5.0 -2.0,-5.0zM4.0,-5.3 8.0,0.0 6.7,2.7 1.3,-4.0zM-1.3,-4.0 -6.7,2.7 -8.0,0.0 -4.0,-5.3z"/>
<path transform="translate(70.6 485.9)" fill="#54c4c4" stroke="#54c4c4" d="M3.5,-9.3 3.2,-7.8 2.2,-6.5 0.8,-5.9 -0.8,-5.9 -2.2,-6.5 -3.2,-7.8 -3.5,-9.3 -3.2,-10.8 -2.2,-12.1 -0.8,-12.8 0.8,-12.8 2.2,-12.1 3.2,-10.8zM4.0,-5.3 2.7,4.0 5.3,12.0 4.0,13.3 1.3,13.3 0.0,6.7 -1.3,13.3 -4.0,13.3 -5.3,12.0 -2.7,4.0 -4.0,-5.3zM-2.0,-6.3 2.0,-6.3 2.0,-5.0 -2.0,-5.0zM4.0,-5.3 8.0,0.0 6.7,2.7 1.3,-4.0zM-1.3,-4.0 -6.7,2.7 -8.0,0.0 -4.0,-5.3z"/>
<path transform="translate(81.4 492.3)" fill="#54c4c4" stroke="#54c4c4" d="M3.5,-9.3 3.2,-7.8 2.2,-6.5 0.8,-5.9 -0.8,-5.9 -2.2,-6.5 -3.2,-7.8 -3.5,-9.3 -3.2,-10.8 -2.2,-12.1 -0.8,-12.8 0.8,-12.8 2.2,-12.1 3.2,-10.8zM4.0,-5.3 2.7,4.0 5.3,12.0 4.0,13.3 1.3,13.3 0.0,6.7 -1.3,13.3 -4.0,13.3 -5.3,12.0 -2.7,4.0 -4.0,-5.3zM-2.0,-6.3 2.0,-6.3 2.0,-5.0 -2.0,-5.0zM4.0,-5.3 8.0,0.0 6.7,2.7 1.3,-4.0zM-1.3,-4.0 -6.7,2.7 -8.0,0.0 -4.0,-5.3z"/>
<path transform="translate(98.7 493.2)" fill="#ffffff" stroke="#ffffff" d="M3.5,-9.3 3.2,-7.8 2.2,-6.5 0.8,-5.9 -0.8,-5.9 -2.2,-6.5 -3.2,-7.8 -3.5,-9.3 -3.2,-10.8 -2.2,-12.1 -0.8,-12.8 0.8,-12.8 2.2,-12.1 3.2,-10.8zM4.0,-5.3 2.7,4.0 5.3,12.0 4.0,13.3 1.3,13.3 0.0,6.7 -1.3,13.3 -4.0,13.3 -5.3,12.0 -2.7,4.0 -4.0,-5.3zM-2.0,-6.3 2.0,-6.3 2.0,-5.0 -2.0,-5.0zM4.0,-5.3 8.0,0.0 6.7,2.7 1.3,-4.0zM-1.3,-4.0 -6.7,2.7 -8.0,0.0 -4.0,-5.3z"/>
<path transform="translate(91.2 507.2)" fill="#f16a15" stroke="#f16a15" d="M12.0,-4.5 12.3,-3.1 14.7,-2.3 14.9,-1.6 14.3,-1.0 12.7,-0.9 13.4,0.1 10.9,-0.5 9.2,-0.6 7.7,1.4 6.0,3.4 4.2,4.8 4.5,8.0 5.7,10.8 6.9,11.2 6.7,12.1 5.0,12.1 4.8,11.0 3.6,9.0 2.8,9.7 1.9,11.4 0.4,11.5 1.0,9.8 1.7,10.1 2.3,8.8 2.2,6.3 1.6,6.0 1.0,4.5 -0.7,5.2 -3.1,5.1 -5.2,4.6 -5.0,5.7 -7.1,8.1 -7.3,8.9 -4.7,11.1 -5.0,11.7 -6.6,11.8 -6.8,11.1 -8.5,9.3 -8.4,7.8 -7.5,5.9 -8.2,4.8 -9.0,5.6 -11.9,8.0 -11.9,10.3 -11.0,11.0 -11.2,11.6 -12.3,11.5 -13.0,10.7 -13.0,7.6 -11.2,5.5 -11.2,4.3 -12.0,4.1 -13.7,4.7 -14.8,4.4zM-15.1,4.5 -13.6,3.0 -11.4,1.6 -11.0,0.3 -9.7,-1.0 -6.8,-1.9 -1.6,-1.7 0.9,-2.4 3.8,-3.5 7.7,-4.2 8.6,-4.8 8.8,-5.2 11.8,-6.4 11.9,-5.8 13.1,-6.3 11.9,-4.7 11.9,-3.7z"/>
<path transform="translate(22.5 506.5)" fill="#ffffff" stroke="#ffffff" d="M3.5,-9.3 3.2,-7.8 2.2,-6.5 0.8,-5.9 -0.8,-5.9 -2.2,-6.5 -3.2,-7.8 -3.5,-9.3 -3.2,-10.8 -2.2,-12.1 -0.8,-12.8 0.8,-12.8 2.2,-12.1 3.2,-10.8zM4.0,-5.3 2.7,4.0 5.3,12.0 4.0,13.3 1.3,13.3 0.0,6.7 -1.3,13.3 -4.0,13.3 -5.3,12.0 -2.7,4.0 -4.0,-5.3zM-2.0,-6.3 2.0,-6.3 2.0,-5.0 -2.0,-5.0zM4.0,-5.3 8.0,0.0 6.7,2.7 1.3,-4.0zM-1.3,-4.0 -6.7,2.7 -8.0,0.0 -4.0,-5.3z"/>
<path transform="translate(25.5 504.7)" fill="#54c4c4" stroke="#54c4c4" d="M3.5,-9.3 3.2,-7.8 2.2,-6.5 0.8,-5.9 -0.8,-5.9 -2.2,-6.5 -3.2,-7.8 -3.5,-9.3 -3.2,-10.8 -2.2,-12.1 -0.8,-12.8 0.8,-12.8 2.2,-12.1 3.2,-10.8zM4.0,-5.3 2.7,4.0 5.3,12.0 4.0,13.3 1.3,13.3 0.0,6.7 -1.3,13.3 -4.0,13.3 -5.3,12.0 -2.7,4.0 -4.0,-5.3zM-2.0,-6.3 2.0,-6.3 2.0,-5.0 -2.0,-5.0zM4.0,-5.3 8.0,0.0 6.7,2.7 1.3,-4.0zM-1.3,-4.0 -6.7,2.7 -8.0,0.0 -4.0,-5.3z"/>
<path transform="translate(126.2 515.7)" fill="#54c4c4" stroke="#54c4c4" d="M3.5,-9.3 3.2,-7.8 2.2,-6.5 0.8,-5.9 -0.8,-5.9 -2.2,-6.5 -3.2,-7.8 -3.5,-9.3 -3.2,-10.8 -2.2,-12.1 -0.8,-12.8 0.8,-12.8 2.2,-12.1 3.2,-10.8zM4.0,-5.3 2.7,4.0 5.3,12.0 4.0,13.3 1.3,13.3 0.0,6.7 -1.3,13.3 -4.0,13.3 -5.3,12.0 -2.7,4.0 -4.0,-5.3zM-2.0,-6.3 2.0,-6.3 2.0,-5.0 -2.0,-5.0zM4.0,-5.3 8.0,0.0 6.7,2.7 1.3,-4.0zM-1.3,-4.0 -6.7,2.7 -8.0,0.0 -4.0,-5.3z"/>
<path transform="translate(142.7 398.9)" fill="#ffffff" stroke="#ffffff" d="M3.5,-9.3 3.2,-7.8 2.2,-6.5 0.8,-5.9 -0.8,-5.9 -2.2,-6.5 -3.2,-7.8 -3.5,-9.3 -3.2,-10.8 -2.2,-12.1 -0.8,-12.8 0.8,-12.8 2.2,-12.1 3.2,-10.8zM4.0,-5.3 2.7,4.0 5.3,12.0 4.0,13.3 1.3,13.3 0.0,6.7 -1.3,13.3 -4.0,13.3 -5.3,12.0 -2.7,4.0 -4.0,-5.3zM-2.0,-6.3 2.0,-6.3 2.0,-5.0 -2.0,-5.0zM4.0,-5.3 8.0,0.0 6.7,2.7 1.3,-4.0zM-1.3,-4.0 -6.7,2.7 -8.0,0.0 -4.0,-5.3z"/>
<path transform="translate(158.3 413.1)" fill="#ffffff" stroke="#ffffff" d="M3.5,-9.3 3.2,-7.8 2.2,-6.5 0.8,-5.9 -0.8,-5.9 -2.2,-6.5 -3.2,-7.8 -3.5,-9.3 -3.2,-10.8 -2.2,-12.1 -0.8,-12.8 0.8,-12.8 2.2,-12.1 3.2,-10.8zM4.0,-5.3 2.7,4.0 5.3,12.0 4.0,13.3 1.3,13.3 0.0,6.7 -1.3,13.3 -4.0,13.3 -5.3,12.0 -2.7,4.0 -4.0,-5.3zM-2.0,-6.3 2.0,-6.3 2.0,-5.0 -2.0,-5.0zM4.0,-5.3 8.0,0.0 6.7,2.7 1.3,-4.0zM-1.3,-4.0 -6.7,2.7 -8.0,0.0 -4.0,-5.3z"/>
<path transform="translate(175.4 415.4)" fill="#54c4c4" stroke="#54c4c4" d="M3.5,-9.3 3.2,-7.8 2.2,-6.5 0.8,-5.9 -0.8,-5.9 -2.2,-6.5 -3.2,-7.8 -3.5,-9.3 -3.2,-10.8 -2.2,-12.1 -0.8,-12.8 0.8,-12.8 2.2,-12.1 3.2,-10.8zM4.0,-5.3 2.7,4.0 5.3,12.0 4.0,13.3 1.3,13.3 0.0,6.7 -1.3,13.3 -4.0,13.3 -5.3,12.0 -2.7,4.0 -4.0,-5.3zM-2.0,-6.3 2.0,-6.3 2.0,-5.0 -2.0,-5.0zM4.0,-5.3 8.0,0.0 6.7,2.7 1.3,-4.0zM-1.3,-4.0 -6.7,2.7 -8.0,0.0 -4.0,-5.3z"/>
<path transform="translate(210.9 409.2)" fill="#ffffff" stroke="#ffffff" d="M3.5,-9.3 3.2,-7.8 2.2,-6.5 0.8,-5.9 -0.8,-5.9 -2.2,-6.5 -3.2,-7.8 -3.5,-9.3 -3.2,-10.8 -2.2,-12.1 -0.8,-12.8 0.8,-12.8 2.2,-12.1 3.2,-10.8zM4.0,-5.3 2.7,4.0 5.3,12.0 4.0,13.3 1.3,13.3 0.0,6.7 -1.3,13.3 -4.0,13.3 -5.3,12.0 -2.7,4.0 -4.0,-5.3zM-2.0,-6.3 2.0,-6.3 2.0,-5.0 -2.0,-5.0zM4.0,-5.3 8.0,0.0 6.7,2.7 1.3,-4.0zM-1.3,-4.0 -6.7,2.7 -8.0,0.0 -4.0,-5.3z"/>
<path transform="translate(213.6 407.6)" fill="#54c4c4" stroke="#54c4c4" d="M3.5,-9.3 3.2,-7.8 2.2,-6.5 0.8,-5.9 -0.8,-5.9 -2.2,-6.5 -3.2,-7.8 -3.5,-9.3 -3.2,-10.8 -2.2,-12.1 -0.8,-12.8 0.8,-12.8 2.2,-12.1 3.2,-10.8zM4.0,-5.3 2.7,4.0 5.3,12.0 4.0,13.3 1.3,13.3 0.0,6.7 -1.3,13.3 -4.0,13.3 -5.3,12.0 -2.7,4.0 -4.0,-5.3zM-2.0,-6.3 2.0,-6.3 2.0,-5.0 -2.0,-5.0zM4.0,-5.3 8.0,0.0 6.7,2.7 1.3,-4.0zM-1.3,-4.0 -6.7,2.7 -8.0,0.0 -4.0,-5.3z"/>
<path transform="translate(135.8 429.8)" fill="#7c50a4" stroke="#7c50a4" d="M3.5,-9.3 3.2,-7.8 2.2,-6.5 0.8,-5.9 -0.8,-5.9 -2.2,-6.5 -3.2,-7.8 -3.5,-9.3 -3.2,-10.8 -2.2,-12.1 -0.8,-12.8 0.8,-12.8 2.2,-12.1 3.2,-10.8zM4.0,-5.3 2.7,4.0 5.3,12.0 4.0,13.3 1.3,13.3 0.0,6.7 -1.3,13.3 -4.0,13.3 -5.3,12.0 -2.7,4.0 -4.0,-5.3zM-2.0,-6.3 2.0,-6.3 2.0,-5.0 -2.0,-5.0zM4.0,-5.3 8.0,0.0 6.7,2.7 1.3,-4.0zM-1.3,-4.0 -6.7,2.7 -8.0,0.0 -4.0,-5.3z"/>
<path transform="translate(145.7 428.2)" fill="#54c4c4" stroke="#54c4c4" d="M3.5,-9.3 3.2,-7.8 2.2,-6.5 0.8,-5.9 -0.8,-5.9 -2.2,-6.5 -3.2,-7.8 -3.5,-9.3 -3.2,-10.8 -2.2,-12.1 -0.8,-12.8 0.8,-12.8 2.2,-12.1 3.2,-10.8zM4.0,-5.3 2.7,4.0 5.3,12.0 4.0,13.3 1.3,13.3 0.0,6.7 -1.3,13.3 -4.0,13.3 -5.3,12.0 -2.7,4.0 -4.0,-5.3zM-2.0,-6.3 2.0,-6.3 2.0,-5.0 -2.0,-5.0zM4.0,-5.3 8.0,0.0 6.7,2.7 1.3,-4.0zM-1.3,-4.0 -6.7,2.7 -8.0,0.0 -4.0,-5.3z"/>
<path transform="translate(142.2 438.3)" fill="#ffffff" stroke="#ffffff" d="M3.5,-9.3 3.2,-7.8 2.2,-6.5 0.8,-5.9 -0.8,-5.9 -2.2,-6.5 -3.2,-7.8 -3.5,-9.3 -3.2,-10.8 -2.2,-12.1 -0.8,-12.8 0.8,-12.8 2.2,-12.1 3.2,-10.8zM4.0,-5.3 2.7,4.0 5.3,12.0 4.0,13.3 1.3,13.3 0.0,6.7 -1.3,13.3 -4.0,13.3 -5.3,12.0 -2.7,4.0 -4.0,-5.3zM-2.0,-6.3 2.0,-6.3 2.0,-5.0 -2.0,-5.0zM4.0,-5.3 8.0,0.0 6.7,2.7 1.3,-4.0zM-1.3,-4.0 -6.7,2.7 -8.0,0.0 -4.0,-5.3z"/>
<path transform="translate(190.3 429.4)" fill="#a71b6a" stroke="#a71b6a" d="M12.0,-4.5 12.3,-3.1 14.7,-2.3 14.9,-1.6 14.3,-1.0 12.7,-0.9 13.4,0.1 10.9,-0.5 9.2,-0.6 7.7,1.4 6.0,3.4 4.2,4.8 4.5,8.0 5.7,10.8 6.9,11.2 6.7,12.1 5.0,12.1 4.8,11.0 3.6,9.0 2.8,9.7 1.9,11.4 0.4,11.5 1.0,9.8 1.7,10.1 2.3,8.8 2.2,6.3 1.6,6.0 1.0,4.5 -0.7,5.2 -3.1,5.1 -5.2,4.6 -5.0,5.7 -7.1,8.1 -7.3,8.9 -4.7,11.1 -5.0,11.7 -6.6,11.8 -6.8,11.1 -8.5,9.3 -8.4,7.8 -7.5,5.9 -8.2,4.8 -9.0,5.6 -11.9,8.0 -11.9,10.3 -11.0,11.0 -11.2,11.6 -12.3,11.5 -13.0,10.7 -13.0,7.6 -11.2,5.5 -11.2,4.3 -12.0,4.1 -13.7,4.7 -14.8,4.4zM-15.1,4.5 -13.6,3.0 -11.4,1.6 -11.0,0.3 -9.7,-1.0 -6.8,-1.9 -1.6,-1.7 0.9,-2.4 3.8,-3.5 7.7,-4.2 8.6,-4.8 8.8,-5.2 11.8,-6.4 11.9,-5.8 13.1,-6.3 11.9,-4.7 11.9,-3.7z"/>
<path transform="translate(217.3 446.5)" fill="#ffffff" stroke="#ffffff" d="M3.5,-9.3 3.2,-7.8 2.2,-6.5 0.8,-5.9 -0.8,-5.9 -2.2,-6.5 -3.2,-7.8 -3.5,-9.3 -3.2,-10.8 -2.2,-12.1 -0.8,-12.8 0.8,-12.8 2.2,-12.1 3.2,-10.8zM4.0,-5.3 2.7,4.0 5.3,12.0 4.0,13.3 1.3,13.3 0.0,6.7 -1.3,13.3 -4.0,13.3 -5.3,12.0 -2.7,4.0 -4.0,-5.3zM-2.0,-6.3 2.0,-6.3 2.0,-5.0 -2.0,-5.0zM4.0,-5.3 8.0,0.0 6.7,2.7 1.3,-4.0zM-1.3,-4.0 -6.7,2.7 -8.0,0.0 -4.0,-5.3z"/>
<path transform="translate(226.5 441.3)" fill="#54c4c4" stroke="#54c4c4" d="M3.5,-9.3 3.2,-7.8 2.2,-6.5 0.8,-5.9 -0.8,-5.9 -2.2,-6.5 -3.2,-7.8 -3.5,-9.3 -3.2,-10.8 -2.2,-12.1 -0.8,-12.8 0.8,-12.8 2.2,-12.1 3.2,-10.8zM4.0,-5.3 2.7,4.0 5.3,12.0 4.0,13.3 1.3,13.3 0.0,6.7 -1.3,13.3 -4.0,13.3 -5.3,12.0 -2.7,4.0 -4.0,-5.3zM-2.0,-6.3 2.0,-6.3 2.0,-5.0 -2.0,-5.0zM4.0,-5.3 8.0,0.0 6.7,2.7 1.3,-4.0zM-1.3,-4.0 -6.7,2.7 -8.0,0.0 -4.0,-5.3z"/>
<path transform="translate(233.3 450.4)" fill="#ffffff" stroke="#ffffff" d="M3.5,-9.3 3.2,-7.8 2.2,-6.5 0.8,-5.9 -0.8,-5.9 -2.2,-6.5 -3.2,-7.8 -3.5,-9.3 -3.2,-10.8 -2.2,-12.1 -0.8,-12.8 0.8,-12.8 2.2,-12.1 3.2,-10.8zM4.0,-5.3 2.7,4.0 5.3,12.0 4.0,13.3 1.3,13.3 0.0,6.7 -1.3,13.3 -4.0,13.3 -5.3,12.0 -2.7,4.0 -4.0,-5.3zM-2.0,-6.3 2.0,-6.3 2.0,-5.0 -2.0,-5.0zM4.0,-5.3 8.0,0.0 6.7,2.7 1.3,-4.0zM-1.3,-4.0 -6.7,2.7 -8.0,0.0 -4.0,-5.3z"/>
<path transform="translate(217.8 459.6)" fill="#54c4c4" stroke="#54c4c4" d="M3.5,-9.3 3.2,-7.8 2.2,-6.5 0.8,-5.9 -0.8,-5.9 -2.2,-6.5 -3.2,-7.8 -3.5,-9.3 -3.2,-10.8 -2.2,-12.1 -0.8,-12.8 0.8,-12.8 2.2,-12.1 3.2,-10.8zM4.0,-5.3 2.7,4.0 5.3,12.0 4.0,13.3 1.3,13.3 0.0,6.7 -1.3,13.3 -4.0,13.3 -5.3,12.0 -2.7,4.0 -4.0,-5.3zM-2.0,-6.3 2.0,-6.3 2.0,-5.0 -2.0,-5.0zM4.0,-5.3 8.0,0.0 6.7,2.7 1.3,-4.0zM-1.3,-4.0 -6.7,2.7 -8.0,0.0 -4.0,-5.3z"/>
<path transform="translate(192.6 456.6)" fill="#ffffff" stroke="#ffffff" d="M3.5,-9.3 3.2,-7.8 2.2,-6.5 0.8,-5.9 -0.8,-5.9 -2.2,-6.5 -3.2,-7.8 -3.5,-9.3 -3.2,-10.8 -2.2,-12.1 -0.8,-12.8 0.8,-12.8 2.2,-12.1 3.2,-10.8zM4.0,-5.3 2.7,4.0 5.3,12.0 4.0,13.3 1.3,13.3 0.0,6.7 -1.3,13.3 -4.0,13.3 -5.3,12.0 -2.7,4.0 -4.0,-5.3zM-2.0,-6.3 2.0,-6.3 2.0,-5.0 -2.0,-5.0zM4.0,-5.3 8.0,0.0 6.7,2.7 1.3,-4.0zM-1.3,-4.0 -6.7,2.7 -8.0,0.0 -4.0,-5.3z"/>
<path transform="translate(161.0 466.5)" fill="#ffffff" stroke="#ffffff" d="M3.5,-9.3 3.2,-7.8 2.2,-6.5 0.8,-5.9 -0.8,-5.9 -2.2,-6.5 -3.2,-7.8 -3.5,-9.3 -3.2,-10.8 -2.2,-12.1 -0.8,-12.8 0.8,-12.8 2.2,-12.1 3.2,-10.8zM4.0,-5.3 2.7,4.0 5.3,12.0 4.0,13.3 1.3,13.3 0.0,6.7 -1.3,13.3 -4.0,13.3 -5.3,12.0 -2.7,4.0 -4.0,-5.3zM-2.0,-6.3 2.0,-6.3 2.0,-5.0 -2.0,-5.0zM4.0,-5.3 8.0,0.0 6.7,2.7 1.3,-4.0zM-1.3,-4.0 -6.7,2.7 -8.0,0.0 -4.0,-5.3z"/>
<path transform="translate(190.3 481.8)" fill="#7c50a4" stroke="#7c50a4" d="M3.5,-9.3 3.2,-7.8 2.2,-6.5 0.8,-5.9 -0.8,-5.9 -2.2,-6.5 -3.2,-7.8 -3.5,-9.3 -3.2,-10.8 -2.2,-12.1 -0.8,-12.8 0.8,-12.8 2.2,-12.1 3.2,-10.8zM4.0,-5.3 2.7,4.0 5.3,12.0 4.0,13.3 1.3,13.3 0.0,6.7 -1.3,13.3 -4.0,13.3 -5.3,12.0 -2.7,4.0 -4.0,-5.3zM-2.0,-6.3 2.0,-6.3 2.0,-5.0 -2.0,-5.0zM4.0,-5.3 8.0,0.0 6.7,2.7 1.3,-4.0zM-1.3,-4.0 -6.7,2.7 -8.0,0.0 -4.0,-5.3z"/>
<path transform="translate(181.6 493.2)" fill="#ffffff" stroke="#ffffff" d="M3.5,-9.3 3.2,-7.8 2.2,-6.5 0.8,-5.9 -0.8,-5.9 -2.2,-6.5 -3.2,-7.8 -3.5,-9.3 -3.2,-10.8 -2.2,-12.1 -0.8,-12.8 0.8,-12.8 2.2,-12.1 3.2,-10.8zM4.0,-5.3 2.7,4.0 5.3,12.0 4.0,13.3 1.3,13.3 0.0,6.7 -1.3,13.3 -4.0,13.3 -5.3,12.0 -2.7,4.0 -4.0,-5.3zM-2.0,-6.3 2.0,-6.3 2.0,-5.0 -2.0,-5.0zM4.0,-5.3 8.0,0.0 6.7,2.7 1.3,-4.0zM-1.3,-4.0 -6.7,2.7 -8.0,0.0 -4.0,-5.3z"/>
<path transform="translate(149.6 482.5)" fill="#ffffff" stroke="#ffffff" d="M3.5,-9.3 3.2,-7.8 2.2,-6.5 0.8,-5.9 -0.8,-5.9 -2.2,-6.5 -3.2,-7.8 -3.5,-9.3 -3.2,-10.8 -2.2,-12.1 -0.8,-12.8 0.8,-12.8 2.2,-12.1 3.2,-10.8zM4.0,-5.3 2.7,4.0 5.3,12.0 4.0,13.3 1.3,13.3 0.0,6.7 -1.3,13.3 -4.0,13.3 -5.3,12.0 -2.7,4.0 -4.0,-5.3zM-2.0,-6.3 2.0,-6.3 2.0,-5.0 -2.0,-5.0zM4.0,-5.3 8.0,0.0 6.7,2.7 1.3,-4.0zM-1.3,-4.0 -6.7,2.7 -8.0,0.0 -4.0,-5.3z"/>
<path transform="translate(137.2 491.6)" fill="#54c4c4" stroke="#54c4c4" d="M3.5,-9.3 3.2,-7.8 2.2,-6.5 0.8,-5.9 -0.8,-5.9 -2.2,-6.5 -3.2,-7.8 -3.5,-9.3 -3.2,-10.8 -2.2,-12.1 -0.8,-12.8 0.8,-12.8 2.2,-12.1 3.2,-10.8zM4.0,-5.3 2.7,4.0 5.3,12.0 4.0,13.3 1.3,13.3 0.0,6.7 -1.3,13.3 -4.0,13.3 -5.3,12.0 -2.7,4.0 -4.0,-5.3zM-2.0,-6.3 2.0,-6.3 2.0,-5.0 -2.0,-5.0zM4.0,-5.3 8.0,0.0 6.7,2.7 1.3,-4.0zM-1.3,-4.0 -6.7,2.7 -8.0,0.0 -4.0,-5.3z"/>
<path transform="translate(144.5 490.5)" fill="#7c50a4" stroke="#7c50a4" d="M3.5,-9.3 3.2,-7.8 2.2,-6.5 0.8,-5.9 -0.8,-5.9 -2.2,-6.5 -3.2,-7.8 -3.5,-9.3 -3.2,-10.8 -2.2,-12.1 -0.8,-12.8 0.8,-12.8 2.2,-12.1 3.2,-10.8zM4.0,-5.3 2.7,4.0 5.3,12.0 4.0,13.3 1.3,13.3 0.0,6.7 -1.3,13.3 -4.0,13.3 -5.3,12.0 -2.7,4.0 -4.0,-5.3zM-2.0,-6.3 2.0,-6.3 2.0,-5.0 -2.0,-5.0zM4.0,-5.3 8.0,0.0 6.7,2.7 1.3,-4.0zM-1.3,-4.0 -6.7,2.7 -8.0,0.0 -4.0,-5.3z"/>
<path transform="translate(134.9 507.7)" fill="#d73229" stroke="#d73229" d="M3.5,-9.3 3.2,-7.8 2.2,-6.5 0.8,-5.9 -0.8,-5.9 -2.2,-6.5 -3.2,-7.8 -3.5,-9.3 -3.2,-10.8 -2.2,-12.1 -0.8,-12.8 0.8,-12.8 2.2,-12.1 3.2,-10.8zM4.0,-5.3 2.7,4.0 5.3,12.0 4.0,13.3 1.3,13.3 0.0,6.7 -1.3,13.3 -4.0,13.3 -5.3,12.0 -2.7,4.0 -4.0,-5.3zM-2.0,-6.3 2.0,-6.3 2.0,-5.0 -2.0,-5.0zM4.0,-5.3 8.0,0.0 6.7,2.7 1.3,-4.0zM-1.3,-4.0 -6.7,2.7 -8.0,0.0 -4.0,-5.3z"/>
<path transform="translate(166.3 500.1)" fill="#54c4c4" stroke="#54c4c4" d="M3.5,-9.3 3.2,-7.8 2.2,-6.5 0.8,-5.9 -0.8,-5.9 -2.2,-6.5 -3.2,-7.8 -3.5,-9.3 -3.2,-10.8 -2.2,-12.1 -0.8,-12.8 0.8,-12.8 2.2,-12.1 3.2,-10.8zM4.0,-5.3 2.7,4.0 5.3,12.0 4.0,13.3 1.3,13.3 0.0,6.7 -1.3,13.3 -4.0,13.3 -5.3,12.0 -2.7,4.0 -4.0,-5.3zM-2.0,-6.3 2.0,-6.3 2.0,-5.0 -2.0,-5.0zM4.0,-5.3 8.0,0.0 6.7,2.7 1.3,-4.0zM-1.3,-4.0 -6.7,2.7 -8.0,0.0 -4.0,-5.3z"/>
<path transform="translate(154.8 514.5)" fill="#7c50a4" stroke="#7c50a4" d="M3.5,-9.3 3.2,-7.8 2.2,-6.5 0.8,-5.9 -0.8,-5.9 -2.2,-6.5 -3.2,-7.8 -3.5,-9.3 -3.2,-10.8 -2.2,-12.1 -0.8,-12.8 0.8,-12.8 2.2,-12.1 3.2,-10.8zM4.0,-5.3 2.7,4.0 5.3,12.0 4.0,13.3 1.3,13.3 0.0,6.7 -1.3,13.3 -4.0,13.3 -5.3,12.0 -2.7,4.0 -4.0,-5.3zM-2.0,-6.3 2.0,-6.3 2.0,-5.0 -2.0,-5.0zM4.0,-5.3 8.0,0.0 6.7,2.7 1.3,-4.0zM-1.3,-4.0 -6.7,2.7 -8.0,0.0 -4.0,-5.3z"/>
<path transform="translate(220.0 495.5)" fill="#ffffff" stroke="#ffffff" d="M3.5,-9.3 3.2,-7.8 2.2,-6.5 0.8,-5.9 -0.8,-5.9 -2.2,-6.5 -3.2,-7.8 -3.5,-9.3 -3.2,-10.8 -2.2,-12.1 -0.8,-12.8 0.8,-12.8 2.2,-12.1 3.2,-10.8zM4.0,-5.3 2.7,4.0 5.3,12.0 4.0,13.3 1.3,13.3 0.0,6.7 -1.3,13.3 -4.0,13.3 -5.3,12.0 -2.7,4.0 -4.0,-5.3zM-2.0,-6.3 2.0,-6.3 2.0,-5.0 -2.0,-5.0zM4.0,-5.3 8.0,0.0 6.7,2.7 1.3,-4.0zM-1.3,-4.0 -6.7,2.7 -8.0,0.0 -4.0,-5.3z"/>
<path transform="translate(232.6 498.5)" fill="#ffffff" stroke="#ffffff" d="M3.5,-9.3 3.2,-7.8 2.2,-6.5 0.8,-5.9 -0.8,-5.9 -2.2,-6.5 -3.2,-7.8 -3.5,-9.3 -3.2,-10.8 -2.2,-12.1 -0.8,-12.8 0.8,-12.8 2.2,-12.1 3.2,-10.8zM4.0,-5.3 2.7,4.0 5.3,12.0 4.0,13.3 1.3,13.3 0.0,6.7 -1.3,13.3 -4.0,13.3 -5.3,12.0 -2.7,4.0 -4.0,-5.3zM-2.0,-6.3 2.0,-6.3 2.0,-5.0 -2.0,-5.0zM4.0,-5.3 8.0,0.0 6.7,2.7 1.3,-4.0zM-1.3,-4.0 -6.7,2.7 -8.0,0.0 -4.0,-5.3z"/>
<path transform="translate(241.1 493.9)" fill="#54c4c4" stroke="#54c4c4" d="M3.5,-9.3 3.2,-7.8 2.2,-6.5 0.8,-5.9 -0.8,-5.9 -2.2,-6.5 -3.2,-7.8 -3.5,-9.3 -3.2,-10.8 -2.2,-12.1 -0.8,-12.8 0.8,-12.8 2.2,-12.1 3.2,-10.8zM4.0,-5.3 2.7,4.0 5.3,12.0 4.0,13.3 1.3,13.3 0.0,6.7 -1.3,13.3 -4.0,13.3 -5.3,12.0 -2.7,4.0 -4.0,-5.3zM-2.0,-6.3 2.0,-6.3 2.0,-5.0 -2.0,-5.0zM4.0,-5.3 8.0,0.0 6.7,2.7 1.3,-4.0zM-1.3,-4.0 -6.7,2.7 -8.0,0.0 -4.0,-5.3z"/>
<path transform="translate(245.2 519.1)" fill="#54c4c4" stroke="#54c4c4" d="M3.5,-9.3 3.2,-7.8 2.2,-6.5 0.8,-5.9 -0.8,-5.9 -2.2,-6.5 -3.2,-7.8 -3.5,-9.3 -3.2,-10.8 -2.2,-12.1 -0.8,-12.8 0.8,-12.8 2.2,-12.1 3.2,-10.8zM4.0,-5.3 2.7,4.0 5.3,12.0 4.0,13.3 1.3,13.3 0.0,6.7 -1.3,13.3 -4.0,13.3 -5.3,12.0 -2.7,4.0 -4.0,-5.3zM-2.0,-6.3 2.0,-6.3 2.0,-5.0 -2.0,-5.0zM4.0,-5.3 8.0,0.0 6.7,2.7 1.3,-4.0zM-1.3,-4.0 -6.7,2.7 -8.0,0.0 -4.0,-5.3z"/>
<path transform="translate(197.2 526.0)" fill="#54c4c4" stroke="#54c4c4" d="M3.5,-9.3 3.2,-7.8 2.2,-6.5 0.8,-5.9 -0.8,-5.9 -2.2,-6.5 -3.2,-7.8 -3.5,-9.3 -3.2,-10.8 -2.2,-12.1 -0.8,-12.8 0.8,-12.8 2.2,-12.1 3.2,-10.8zM4.0,-5.3 2.7,4.0 5.3,12.0 4.0,13.3 1.3,13.3 0.0,6.7 -1.3,13.3 -4.0,13.3 -5.3,12.0 -2.7,4.0 -4.0,-5.3zM-2.0,-6.3 2.0,-6.3 2.0,-5.0 -2.0,-5.0zM4.0,-5.3 8.0,0.0 6.7,2.7 1.3,-4.0zM-1.3,-4.0 -6.7,2.7 -8.0,0.0 -4.0,-5.3z"/>
<path transform="translate(262.6 385.2)" fill="#ffffff" stroke="#ffffff" d="M3.5,-9.3 3.2,-7.8 2.2,-6.5 0.8,-5.9 -0.8,-5.9 -2.2,-6.5 -3.2,-7.8 -3.5,-9.3 -3.2,-10.8 -2.2,-12.1 -0.8,-12.8 0.8,-12.8 2.2,-12.1 3.2,-10.8zM4.0,-5.3 2.7,4.0 5.3,12.0 4.0,13.3 1.3,13.3 0.0,6.7 -1.3,13.3 -4.0,13.3 -5.3,12.0 -2.7,4.0 -4.0,-5.3zM-2.0,-6.3 2.0,-6.3 2.0,-5.0 -2.0,-5.0zM4.0,-5.3 8.0,0.0 6.7,2.7 1.3,-4.0zM-1.3,-4.0 -6.7,2.7 -8.0,0.0 -4.0,-5.3z"/>
<path transform="translate(290.5 397.8)" fill="#ffffff" stroke="#ffffff" d="M3.5,-9.3 3.2,-7.8 2.2,-6.5 0.8,-5.9 -0.8,-5.9 -2.2,-6.5 -3.2,-7.8 -3.5,-9.3 -3.2,-10.8 -2.2,-12.1 -0.8,-12.8 0.8,-12.8 2.2,-12.1 3.2,-10.8zM4.0,-5.3 2.7,4.0 5.3,12.0 4.0,13.3 1.3,13.3 0.0,6.7 -1.3,13.3 -4.0,13.3 -5.3,12.0 -2.7,4.0 -4.0,-5.3zM-2.0,-6.3 2.0,-6.3 2.0,-5.0 -2.0,-5.0zM4.0,-5.3 8.0,0.0 6.7,2.7 1.3,-4.0zM-1.3,-4.0 -6.7,2.7 -8.0,0.0 -4.0,-5.3z"/>
<path transform="translate(300.2 398.5)" fill="#d73229" stroke="#d73229" d="M3.5,-9.3 3.2,-7.8 2.2,-6.5 0.8,-5.9 -0.8,-5.9 -2.2,-6.5 -3.2,-7.8 -3.5,-9.3 -3.2,-10.8 -2.2,-12.1 -0.8,-12.8 0.8,-12.8 2.2,-12.1 3.2,-10.8zM4.0,-5.3 2.7,4.0 5.3,12.0 4.0,13.3 1.3,13.3 0.0,6.7 -1.3,13.3 -4.0,13.3 -5.3,12.0 -2.7,4.0 -4.0,-5.3zM-2.0,-6.3 2.0,-6.3 2.0,-5.0 -2.0,-5.0zM4.0,-5.3 8.0,0.0 6.7,2.7 1.3,-4.0zM-1.3,-4.0 -6.7,2.7 -8.0,0.0 -4.0,-5.3z"/>
<path transform="translate(306.6 409.2)" fill="#7c50a4" stroke="#7c50a4" d="M3.5,-9.3 3.2,-7.8 2.2,-6.5 0.8,-5.9 -0.8,-5.9 -2.2,-6.5 -3.2,-7.8 -3.5,-9.3 -3.2,-10.8 -2.2,-12.1 -0.8,-12.8 0.8,-12.8 2.2,-12.1 3.2,-10.8zM4.0,-5.3 2.7,4.0 5.3,12.0 4.0,13.3 1.3,13.3 0.0,6.7 -1.3,13.3 -4.0,13.3 -5.3,12.0 -2.7,4.0 -4.0,-5.3zM-2.0,-6.3 2.0,-6.3 2.0,-5.0 -2.0,-5.0zM4.0,-5.3 8.0,0.0 6.7,2.7 1.3,-4.0zM-1.3,-4.0 -6.7,2.7 -8.0,0.0 -4.0,-5.3z"/>
<path transform="translate(329.9 414.3)" fill="#ffffff" stroke="#ffffff" d="M3.5,-9.3 3.2,-7.8 2.2,-6.5 0.8,-5.9 -0.8,-5.9 -2.2,-6.5 -3.2,-7.8 -3.5,-9.3 -3.2,-10.8 -2.2,-12.1 -0.8,-12.8 0.8,-12.8 2.2,-12.1 3.2,-10.8zM4.0,-5.3 2.7,4.0 5.3,12.0 4.0,13.3 1.3,13.3 0.0,6.7 -1.3,13.3 -4.0,13.3 -5.3,12.0 -2.7,4.0 -4.0,-5.3zM-2.0,-6.3 2.0,-6.3 2.0,-5.0 -2.0,-5.0zM4.0,-5.3 8.0,0.0 6.7,2.7 1.3,-4.0zM-1.3,-4.0 -6.7,2.7 -8.0,0.0 -4.0,-5.3z"/>
<path transform="translate(334.5 425.3)" fill="#ffffff" stroke="#ffffff" d="M3.5,-9.3 3.2,-7.8 2.2,-6.5 0.8,-5.9 -0.8,-5.9 -2.2,-6.5 -3.2,-7.8 -3.5,-9.3 -3.2,-10.8 -2.2,-12.1 -0.8,-12.8 0.8,-12.8 2.2,-12.1 3.2,-10.8zM4.0,-5.3 2.7,4.0 5.3,12.0 4.0,13.3 1.3,13.3 0.0,6.7 -1.3,13.3 -4.0,13.3 -5.3,12.0 -2.7,4.0 -4.0,-5.3zM-2.0,-6.3 2.0,-6.3 2.0,-5.0 -2.0,-5.0zM4.0,-5.3 8.0,0.0 6.7,2.7 1.3,-4.0zM-1.3,-4.0 -6.7,2.7 -8.0,0.0 -4.0,-5.3z"/>
<path transform="translate(342.7 418.4)" fill="#ffffff" stroke="#ffffff" d="M3.5,-9.3 3.2,-7.8 2.2,-6.5 0.8,-5.9 -0.8,-5.9 -2.2,-6.5 -3.2,-7.8 -3.5,-9.3 -3.2,-10.8 -2.2,-12.1 -0.8,-12.8 0.8,-12.8 2.2,-12.1 3.2,-10.8zM4.0,-5.3 2.7,4.0 5.3,12.0 4.0,13.3 1.3,13.3 0.0,6.7 -1.3,13.3 -4.0,13.3 -5.3,12.0 -2.7,4.0 -4.0,-5.3zM-2.0,-6.3 2.0,-6.3 2.0,-5.0 -2.0,-5.0zM4.0,-5.3 8.0,0.0 6.7,2.7 1.3,-4.0zM-1.3,-4.0 -6.7,2.7 -8.0,0.0 -4.0,-5.3z"/>
<path transform="translate(365.6 413.8)" fill="#ffffff" stroke="#ffffff" d="M3.5,-9.3 3.2,-7.8 2.2,-6.5 0.8,-5.9 -0.8,-5.9 -2.2,-6.5 -3.2,-7.8 -3.5,-9.3 -3.2,-10.8 -2.2,-12.1 -0.8,-12.8 0.8,-12.8 2.2,-12.1 3.2,-10.8zM4.0,-5.3 2.7,4.0 5.3,12.0 4.0,13.3 1.3,13.3 0.0,6.7 -1.3,13.3 -4.0,13.3 -5.3,12.0 -2.7,4.0 -4.0,-5.3zM-2.0,-6.3 2.0,-6.3 2.0,-5.0 -2.0,-5.0zM4.0,-5.3 8.0,0.0 6.7,2.7 1.3,-4.0zM-1.3,-4.0 -6.7,2.7 -8.0,0.0 -4.0,-5.3z"/>
<path transform="translate(375.7 401.7)" fill="#ffffff" stroke="#ffffff" d="M3.5,-9.3 3.2,-7.8 2.2,-6.5 0.8,-5.9 -0.8,-5.9 -2.2,-6.5 -3.2,-7.8 -3.5,-9.3 -3.2,-10.8 -2.2,-12.1 -0.8,-12.8 0.8,-12.8 2.2,-12.1 3.2,-10.8zM4.0,-5.3 2.7,4.0 5.3,12.0 4.0,13.3 1.3,13.3 0.0,6.7 -1.3,13.3 -4.0,13.3 -5.3,12.0 -2.7,4.0 -4.0,-5.3zM-2.0,-6.3 2.0,-6.3 2.0,-5.0 -2.0,-5.0zM4.0,-5.3 8.0,0.0 6.7,2.7 1.3,-4.0zM-1.3,-4.0 -6.7,2.7 -8.0,0.0 -4.0,-5.3z"/>
<path transform="translate(376.4 421.8)" fill="#7c50a4" stroke="#7c50a4" d="M3.5,-9.3 3.2,-7.8 2.2,-6.5 0.8,-5.9 -0.8,-5.9 -2.2,-6.5 -3.2,-7.8 -3.5,-9.3 -3.2,-10.8 -2.2,-12.1 -0.8,-12.8 0.8,-12.8 2.2,-12.1 3.2,-10.8zM4.0,-5.3 2.7,4.0 5.3,12.0 4.0,13.3 1.3,13.3 0.0,6.7 -1.3,13.3 -4.0,13.3 -5.3,12.0 -2.7,4.0 -4.0,-5.3zM-2.0,-6.3 2.0,-6.3 2.0,-5.0 -2.0,-5.0zM4.0,-5.3 8.0,0.0 6.7,2.7 1.3,-4.0zM-1.3,-4.0 -6.7,2.7 -8.0,0.0 -4.0,-5.3z"/>
<path transform="translate(269.9 438.3)" fill="#ffffff" stroke="#ffffff" d="M3.5,-9.3 3.2,-7.8 2.2,-6.5 0.8,-5.9 -0.8,-5.9 -2.2,-6.5 -3.2,-7.8 -3.5,-9.3 -3.2,-10.8 -2.2,-12.1 -0.8,-12.8 0.8,-12.8 2.2,-12.1 3.2,-10.8zM4.0,-5.3 2.7,4.0 5.3,12.0 4.0,13.3 1.3,13.3 0.0,6.7 -1.3,13.3 -4.0,13.3 -5.3,12.0 -2.7,4.0 -4.0,-5.3zM-2.0,-6.3 2.0,-6.3 2.0,-5.0 -2.0,-5.0zM4.0,-5.3 8.0,0.0 6.7,2.7 1.3,-4.0zM-1.3,-4.0 -6.7,2.7 -8.0,0.0 -4.0,-5.3z"/>
<path transform="translate(266.5 448.6)" fill="#7c50a4" stroke="#7c50a4" d="M3.5,-9.3 3.2,-7.8 2.2,-6.5 0.8,-5.9 -0.8,-5.9 -2.2,-6.5 -3.2,-7.8 -3.5,-9.3 -3.2,-10.8 -2.2,-12.1 -0.8,-12.8 0.8,-12.8 2.2,-12.1 3.2,-10.8zM4.0,-5.3 2.7,4.0 5.3,12.0 4.0,13.3 1.3,13.3 0.0,6.7 -1.3,13.3 -4.0,13.3 -5.3,12.0 -2.7,4.0 -4.0,-5.3zM-2.0,-6.3 2.0,-6.3 2.0,-5.0 -2.0,-5.0zM4.0,-5.3 8.0,0.0 6.7,2.7 1.3,-4.0zM-1.3,-4.0 -6.7,2.7 -8.0,0.0 -4.0,-5.3z"/>
<path transform="translate(278.6 446.5)" fill="#d73229" stroke="#d73229" d="M3.5,-9.3 3.2,-7.8 2.2,-6.5 0.8,-5.9 -0.8,-5.9 -2.2,-6.5 -3.2,-7.8 -3.5,-9.3 -3.2,-10.8 -2.2,-12.1 -0.8,-12.8 0.8,-12.8 2.2,-12.1 3.2,-10.8zM4.0,-5.3 2.7,4.0 5.3,12.0 4.0,13.3 1.3,13.3 0.0,6.7 -1.3,13.3 -4.0,13.3 -5.3,12.0 -2.7,4.0 -4.0,-5.3zM-2.0,-6.3 2.0,-6.3 2.0,-5.0 -2.0,-5.0zM4.0,-5.3 8.0,0.0 6.7,2.7 1.3,-4.0zM-1.3,-4.0 -6.7,2.7 -8.0,0.0 -4.0,-5.3z"/>
<path transform="translate(296.3 461.2)" fill="#ffffff" stroke="#ffffff" d="M3.5,-9.3 3.2,-7.8 2.2,-6.5 0.8,-5.9 -0.8,-5.9 -2.2,-6.5 -3.2,-7.8 -3.5,-9.3 -3.2,-10.8 -2.2,-12.1 -0.8,-12.8 0.8,-12.8 2.2,-12.1 3.2,-10.8zM4.0,-5.3 2.7,4.0 5.3,12.0 4.0,13.3 1.3,13.3 0.0,6.7 -1.3,13.3 -4.0,13.3 -5.3,12.0 -2.7,4.0 -4.0,-5.3zM-2.0,-6.3 2.0,-6.3 2.0,-5.0 -2.0,-5.0zM4.0,-5.3 8.0,0.0 6.7,2.7 1.3,-4.0zM-1.3,-4.0 -6.7,2.7 -8.0,0.0 -4.0,-5.3z"/>
<path transform="translate(305.4 455.0)" fill="#54c4c4" stroke="#54c4c4" d="M3.5,-9.3 3.2,-7.8 2.2,-6.5 0.8,-5.9 -0.8,-5.9 -2.2,-6.5 -3.2,-7.8 -3.5,-9.3 -3.2,-10.8 -2.2,-12.1 -0.8,-12.8 0.8,-12.8 2.2,-12.1 3.2,-10.8zM4.0,-5.3 2.7,4.0 5.3,12.0 4.0,13.3 1.3,13.3 0.0,6.7 -1.3,13.3 -4.0,13.3 -5.3,12.0 -2.7,4.0 -4.0,-5.3zM-2.0,-6.3 2.0,-6.3 2.0,-5.0 -2.0,-5.0zM4.0,-5.3 8.0,0.0 6.7,2.7 1.3,-4.0zM-1.3,-4.0 -6.7,2.7 -8.0,0.0 -4.0,-5.3z"/>
<path transform="translate(347.3 450.4)" fill="#54c4c4" stroke="#54c4c4" d="M3.5,-9.3 3.2,-7.8 2.2,-6.5 0.8,-5.9 -0.8,-5.9 -2.2,-6.5 -3.2,-7.8 -3.5,-9.3 -3.2,-10.8 -2.2,-12.1 -0.8,-12.8 0.8,-12.8 2.2,-12.1 3.2,-10.8zM4.0,-5.3 2.7,4.0 5.3,12.0 4.0,13.3 1.3,13.3 0.0,6.7 -1.3,13.3 -4.0,13.3 -5.3,12.0 -2.7,4.0 -4.0,-5.3zM-2.0,-6.3 2.0,-6.3 2.0,-5.0 -2.0,-5.0zM4.0,-5.3 8.0,0.0 6.7,2.7 1.3,-4.0zM-1.3,-4.0 -6.7,2.7 -8.0,0.0 -4.0,-5.3z"/>
<path transform="translate(342.7 442.4)" fill="#ffffff" stroke="#ffffff" d="M3.5,-9.3 3.2,-7.8 2.2,-6.5 0.8,-5.9 -0.8,-5.9 -2.2,-6.5 -3.2,-7.8 -3.5,-9.3 -3.2,-10.8 -2.2,-12.1 -0.8,-12.8 0.8,-12.8 2.2,-12.1 3.2,-10.8zM4.0,-5.3 2.7,4.0 5.3,12.0 4.0,13.3 1.3,13.3 0.0,6.7 -1.3,13.3 -4.0,13.3 -5.3,12.0 -2.7,4.0 -4.0,-5.3zM-2.0,-6.3 2.0,-6.3 2.0,-5.0 -2.0,-5.0zM4.0,-5.3 8.0,0.0 6.7,2.7 1.3,-4.0zM-1.3,-4.0 -6.7,2.7 -8.0,0.0 -4.0,-5.3z"/>
<path transform="translate(360.3 444.7)" fill="#ffffff" stroke="#ffffff" d="M3.5,-9.3 3.2,-7.8 2.2,-6.5 0.8,-5.9 -0.8,-5.9 -2.2,-6.5 -3.2,-7.8 -3.5,-9.3 -3.2,-10.8 -2.2,-12.1 -0.8,-12.8 0.8,-12.8 2.2,-12.1 3.2,-10.8zM4.0,-5.3 2.7,4.0 5.3,12.0 4.0,13.3 1.3,13.3 0.0,6.7 -1.3,13.3 -4.0,13.3 -5.3,12.0 -2.7,4.0 -4.0,-5.3zM-2.0,-6.3 2.0,-6.3 2.0,-5.0 -2.0,-5.0zM4.0,-5.3 8.0,0.0 6.7,2.7 1.3,-4.0zM-1.3,-4.0 -6.7,2.7 -8.0,0.0 -4.0,-5.3z"/>
<path transform="translate(352.3 464.2)" fill="#7c50a4" stroke="#7c50a4" d="M3.5,-9.3 3.2,-7.8 2.2,-6.5 0.8,-5.9 -0.8,-5.9 -2.2,-6.5 -3.2,-7.8 -3.5,-9.3 -3.2,-10.8 -2.2,-12.1 -0.8,-12.8 0.8,-12.8 2.2,-12.1 3.2,-10.8zM4.0,-5.3 2.7,4.0 5.3,12.0 4.0,13.3 1.3,13.3 0.0,6.7 -1.3,13.3 -4.0,13.3 -5.3,12.0 -2.7,4.0 -4.0,-5.3zM-2.0,-6.3 2.0,-6.3 2.0,-5.0 -2.0,-5.0zM4.0,-5.3 8.0,0.0 6.7,2.7 1.3,-4.0zM-1.3,-4.0 -6.7,2.7 -8.0,0.0 -4.0,-5.3z"/>
<path transform="translate(371.1 452.3)" fill="#a71b6a" stroke="#a71b6a" d="M12.0,-4.5 12.3,-3.1 14.7,-2.3 14.9,-1.6 14.3,-1.0 12.7,-0.9 13.4,0.1 10.9,-0.5 9.2,-0.6 7.7,1.4 6.0,3.4 4.2,4.8 4.5,8.0 5.7,10.8 6.9,11.2 6.7,12.1 5.0,12.1 4.8,11.0 3.6,9.0 2.8,9.7 1.9,11.4 0.4,11.5 1.0,9.8 1.7,10.1 2.3,8.8 2.2,6.3 1.6,6.0 1.0,4.5 -0.7,5.2 -3.1,5.1 -5.2,4.6 -5.0,5.7 -7.1,8.1 -7.3,8.9 -4.7,11.1 -5.0,11.7 -6.6,11.8 -6.8,11.1 -8.5,9.3 -8.4,7.8 -7.5,5.9 -8.2,4.8 -9.0,5.6 -11.9,8.0 -11.9,10.3 -11.0,11.0 -11.2,11.6 -12.3,11.5 -13.0,10.7 -13.0,7.6 -11.2,5.5 -11.2,4.3 -12.0,4.1 -13.7,4.7 -14.8,4.4zM-15.1,4.5 -13.6,3.0 -11.4,1.6 -11.0,0.3 -9.7,-1.0 -6.8,-1.9 -1.6,-1.7 0.9,-2.4 3.8,-3.5 7.7,-4.2 8.6,-4.8 8.8,-5.2 11.8,-6.4 11.9,-5.8 13.1,-6.3 11.9,-4.7 11.9,-3.7z"/>
<path transform="translate(335.9 477.2)" fill="#54c4c4" stroke="#54c4c4" d="M3.5,-9.3 3.2,-7.8 2.2,-6.5 0.8,-5.9 -0.8,-5.9 -2.2,-6.5 -3.2,-7.8 -3.5,-9.3 -3.2,-10.8 -2.2,-12.1 -0.8,-12.8 0.8,-12.8 2.2,-12.1 3.2,-10.8zM4.0,-5.3 2.7,4.0 5.3,12.0 4.0,13.3 1.3,13.3 0.0,6.7 -1.3,13.3 -4.0,13.3 -5.3,12.0 -2.7,4.0 -4.0,-5.3zM-2.0,-6.3 2.0,-6.3 2.0,-5.0 -2.0,-5.0zM4.0,-5.3 8.0,0.0 6.7,2.7 1.3,-4.0zM-1.3,-4.0 -6.7,2.7 -8.0,0.0 -4.0,-5.3z"/>
<path transform="translate(290.1 483.2)" fill="#54c4c4" stroke="#54c4c4" d="M3.5,-9.3 3.2,-7.8 2.2,-6.5 0.8,-5.9 -0.8,-5.9 -2.2,-6.5 -3.2,-7.8 -3.5,-9.3 -3.2,-10.8 -2.2,-12.1 -0.8,-12.8 0.8,-12.8 2.2,-12.1 3.2,-10.8zM4.0,-5.3 2.7,4.0 5.3,12.0 4.0,13.3 1.3,13.3 0.0,6.7 -1.3,13.3 -4.0,13.3 -5.3,12.0 -2.7,4.0 -4.0,-5.3zM-2.0,-6.3 2.0,-6.3 2.0,-5.0 -2.0,-5.0zM4.0,-5.3 8.0,0.0 6.7,2.7 1.3,-4.0zM-1.3,-4.0 -6.7,2.7 -8.0,0.0 -4.0,-5.3z"/>
<path transform="translate(308.4 481.3)" fill="#54c4c4" stroke="#54c4c4" d="M3.5,-9.3 3.2,-7.8 2.2,-6.5 0.8,-5.9 -0.8,-5.9 -2.2,-6.5 -3.2,-7.8 -3.5,-9.3 -3.2,-10.8 -2.2,-12.1 -0.8,-12.8 0.8,-12.8 2.2,-12.1 3.2,-10.8zM4.0,-5.3 2.7,4.0 5.3,12.0 4.0,13.3 1.3,13.3 0.0,6.7 -1.3,13.3 -4.0,13.3 -5.3,12.0 -2.7,4.0 -4.0,-5.3zM-2.0,-6.3 2.0,-6.3 2.0,-5.0 -2.0,-5.0zM4.0,-5.3 8.0,0.0 6.7,2.7 1.3,-4.0zM-1.3,-4.0 -6.7,2.7 -8.0,0.0 -4.0,-5.3z"/>
<path transform="translate(280.2 494.6)" fill="#ffffff" stroke="#ffffff" d="M3.5,-9.3 3.2,-7.8 2.2,-6.5 0.8,-5.9 -0.8,-5.9 -2.2,-6.5 -3.2,-7.8 -3.5,-9.3 -3.2,-10.8 -2.2,-12.1 -0.8,-12.8 0.8,-12.8 2.2,-12.1 3.2,-10.8zM4.0,-5.3 2.7,4.0 5.3,12.0 4.0,13.3 1.3,13.3 0.0,6.7 -1.3,13.3 -4.0,13.3 -5.3,12.0 -2.7,4.0 -4.0,-5.3zM-2.0,-6.3 2.0,-6.3 2.0,-5.0 -2.0,-5.0zM4.0,-5.3 8.0,0.0 6.7,2.7 1.3,-4.0zM-1.3,-4.0 -6.7,2.7 -8.0,0.0 -4.0,-5.3z"/>
<path transform="translate(303.1 499.2)" fill="#54c4c4" stroke="#54c4c4" d="M3.5,-9.3 3.2,-7.8 2.2,-6.5 0.8,-5.9 -0.8,-5.9 -2.2,-6.5 -3.2,-7.8 -3.5,-9.3 -3.2,-10.8 -2.2,-12.1 -0.8,-12.8 0.8,-12.8 2.2,-12.1 3.2,-10.8zM4.0,-5.3 2.7,4.0 5.3,12.0 4.0,13.3 1.3,13.3 0.0,6.7 -1.3,13.3 -4.0,13.3 -5.3,12.0 -2.7,4.0 -4.0,-5.3zM-2.0,-6.3 2.0,-6.3 2.0,-5.0 -2.0,-5.0zM4.0,-5.3 8.0,0.0 6.7,2.7 1.3,-4.0zM-1.3,-4.0 -6.7,2.7 -8.0,0.0 -4.0,-5.3z"/>
<path transform="translate(374.1 482.5)" fill="#7c50a4" stroke="#7c50a4" d="M3.5,-9.3 3.2,-7.8 2.2,-6.5 0.8,-5.9 -0.8,-5.9 -2.2,-6.5 -3.2,-7.8 -3.5,-9.3 -3.2,-10.8 -2.2,-12.1 -0.8,-12.8 0.8,-12.8 2.2,-12.1 3.2,-10.8zM4.0,-5.3 2.7,4.0 5.3,12.0 4.0,13.3 1.3,13.3 0.0,6.7 -1.3,13.3 -4.0,13.3 -5.3,12.0 -2.7,4.0 -4.0,-5.3zM-2.0,-6.3 2.0,-6.3 2.0,-5.0 -2.0,-5.0zM4.0,-5.3 8.0,0.0 6.7,2.7 1.3,-4.0zM-1.3,-4.0 -6.7,2.7 -8.0,0.0 -4.0,-5.3z"/>
<path transform="translate(366.5 493.9)" fill="#ffffff" stroke="#ffffff" d="M3.5,-9.3 3.2,-7.8 2.2,-6.5 0.8,-5.9 -0.8,-5.9 -2.2,-6.5 -3.2,-7.8 -3.5,-9.3 -3.2,-10.8 -2.2,-12.1 -0.8,-12.8 0.8,-12.8 2.2,-12.1 3.2,-10.8zM4.0,-5.3 2.7,4.0 5.3,12.0 4.0,13.3 1.3,13.3 0.0,6.7 -1.3,13.3 -4.0,13.3 -5.3,12.0 -2.7,4.0 -4.0,-5.3zM-2.0,-6.3 2.0,-6.3 2.0,-5.0 -2.0,-5.0zM4.0,-5.3 8.0,0.0 6.7,2.7 1.3,-4.0zM-1.3,-4.0 -6.7,2.7 -8.0,0.0 -4.0,-5.3z"/>
<path transform="translate(386.2 480.2)" fill="#ffffff" stroke="#ffffff" d="M3.5,-9.3 3.2,-7.8 2.2,-6.5 0.8,-5.9 -0.8,-5.9 -2.2,-6.5 -3.2,-7.8 -3.5,-9.3 -3.2,-10.8 -2.2,-12.1 -0.8,-12.8 0.8,-12.8 2.2,-12.1 3.2,-10.8zM4.0,-5.3 2.7,4.0 5.3,12.0 4.0,13.3 1.3,13.3 0.0,6.7 -1.3,13.3 -4.0,13.3 -5.3,12.0 -2.7,4.0 -4.0,-5.3zM-2.0,-6.3 2.0,-6.3 2.0,-5.0 -2.0,-5.0zM4.0,-5.3 8.0,0.0 6.7,2.7 1.3,-4.0zM-1.3,-4.0 -6.7,2.7 -8.0,0.0 -4.0,-5.3z"/>
<path transform="translate(373.4 509.9)" fill="#54c4c4" stroke="#54c4c4" d="M3.5,-9.3 3.2,-7.8 2.2,-6.5 0.8,-5.9 -0.8,-5.9 -2.2,-6.5 -3.2,-7.8 -3.5,-9.3 -3.2,-10.8 -2.2,-12.1 -0.8,-12.8 0.8,-12.8 2.2,-12.1 3.2,-10.8zM4.0,-5.3 2.7,4.0 5.3,12.0 4.0,13.3 1.3,13.3 0.0,6.7 -1.3,13.3 -4.0,13.3 -5.3,12.0 -2.7,4.0 -4.0,-5.3zM-2.0,-6.3 2.0,-6.3 2.0,-5.0 -2.0,-5.0zM4.0,-5.3 8.0,0.0 6.7,2.7 1.3,-4.0zM-1.3,-4.0 -6.7,2.7 -8.0,0.0 -4.0,-5.3z"/>
<path transform="translate(335.2 507.7)" fill="#7c50a4" stroke="#7c50a4" d="M3.5,-9.3 3.2,-7.8 2.2,-6.5 0.8,-5.9 -0.8,-5.9 -2.2,-6.5 -3.2,-7.8 -3.5,-9.3 -3.2,-10.8 -2.2,-12.1 -0.8,-12.8 0.8,-12.8 2.2,-12.1 3.2,-10.8zM4.0,-5.3 2.7,4.0 5.3,12.0 4.0,13.3 1.3,13.3 0.0,6.7 -1.3,13.3 -4.0,13.3 -5.3,12.0 -2.7,4.0 -4.0,-5.3zM-2.0,-6.3 2.0,-6.3 2.0,-5.0 -2.0,-5.0zM4.0,-5.3 8.0,0.0 6.7,2.7 1.3,-4.0zM-1.3,-4.0 -6.7,2.7 -8.0,0.0 -4.0,-5.3z"/>
<path transform="translate(324.9 506.5)" fill="#ffffff" stroke="#ffffff" d="M3.5,-9.3 3.2,-7.8 2.2,-6.5 0.8,-5.9 -0.8,-5.9 -2.2,-6.5 -3.2,-7.8 -3.5,-9.3 -3.2,-10.8 -2.2,-12.1 -0.8,-12.8 0.8,-12.8 2.2,-12.1 3.2,-10.8zM4.0,-5.3 2.7,4.0 5.3,12.0 4.0,13.3 1.3,13.3 0.0,6.7 -1.3,13.3 -4.0,13.3 -5.3,12.0 -2.7,4.0 -4.0,-5.3zM-2.0,-6.3 2.0,-6.3 2.0,-5.0 -2.0,-5.0zM4.0,-5.3 8.0,0.0 6.7,2.7 1.3,-4.0zM-1.3,-4.0 -6.7,2.7 -8.0,0.0 -4.0,-5.3z"/>
<path transform="translate(331.7 503.1)" fill="#ffffff" stroke="#ffffff" d="M3.5,-9.3 3.2,-7.8 2.2,-6.5 0.8,-5.9 -0.8,-5.9 -2.2,-6.5 -3.2,-7.8 -3.5,-9.3 -3.2,-10.8 -2.2,-12.1 -0.8,-12.8 0.8,-12.8 2.2,-12.1 3.2,-10.8zM4.0,-5.3 2.7,4.0 5.3,12.0 4.0,13.3 1.3,13.3 0.0,6.7 -1.3,13.3 -4.0,13.3 -5.3,12.0 -2.7,4.0 -4.0,-5.3zM-2.0,-6.3 2.0,-6.3 2.0,-5.0 -2.0,-5.0zM4.0,-5.3 8.0,0.0 6.7,2.7 1.3,-4.0zM-1.3,-4.0 -6.7,2.7 -8.0,0.0 -4.0,-5.3z"/>
<path transform="translate(338.6 501.9)" fill="#ffffff" stroke="#ffffff" d="M3.5,-9.3 3.2,-7.8 2.2,-6.5 0.8,-5.9 -0.8,-5.9 -2.2,-6.5 -3.2,-7.8 -3.5,-9.3 -3.2,-10.8 -2.2,-12.1 -0.8,-12.8 0.8,-12.8 2.2,-12.1 3.2,-10.8zM4.0,-5.3 2.7,4.0 5.3,12.0 4.0,13.3 1.3,13.3 0.0,6.7 -1.3,13.3 -4.0,13.3 -5.3,12.0 -2.7,4.0 -4.0,-5.3zM-2.0,-6.3 2.0,-6.3 2.0,-5.0 -2.0,-5.0zM4.0,-5.3 8.0,0.0 6.7,2.7 1.3,-4.0zM-1.3,-4.0 -6.7,2.7 -8.0,0.0 -4.0,-5.3z"/>
<path transform="translate(387.8 518.4)" fill="#f16a15" stroke="#f16a15" d="M12.0,-4.5 12.3,-3.1 14.7,-2.3 14.9,-1.6 14.3,-1.0 12.7,-0.9 13.4,0.1 10.9,-0.5 9.2,-0.6 7.7,1.4 6.0,3.4 4.2,4.8 4.5,8.0 5.7,10.8 6.9,11.2 6.7,12.1 5.0,12.1 4.8,11.0 3.6,9.0 2.8,9.7 1.9,11.4 0.4,11.5 1.0,9.8 1.7,10.1 2.3,8.8 2.2,6.3 1.6,6.0 1.0,4.5 -0.7,5.2 -3.1,5.1 -5.2,4.6 -5.0,5.7 -7.1,8.1 -7.3,8.9 -4.7,11.1 -5.0,11.7 -6.6,11.8 -6.8,11.1 -8.5,9.3 -8.4,7.8 -7.5,5.9 -8.2,4.8 -9.0,5.6 -11.9,8.0 -11.9,10.3 -11.0,11.0 -11.2,11.6 -12.3,11.5 -13.0,10.7 -13.0,7.6 -11.2,5.5 -11.2,4.3 -12.0,4.1 -13.7,4.7 -14.8,4.4zM-15.1,4.5 -13.6,3.0 -11.4,1.6 -11.0,0.3 -9.7,-1.0 -6.8,-1.9 -1.6,-1.7 0.9,-2.4 3.8,-3.5 7.7,-4.2 8.6,-4.8 8.8,-5.2 11.8,-6.4 11.9,-5.8 13.1,-6.3 11.9,-4.7 11.9,-3.7z"/>
<path transform="translate(410.9 403.5)" fill="#d73229" stroke="#d73229" d="M3.5,-9.3 3.2,-7.8 2.2,-6.5 0.8,-5.9 -0.8,-5.9 -2.2,-6.5 -3.2,-7.8 -3.5,-9.3 -3.2,-10.8 -2.2,-12.1 -0.8,-12.8 0.8,-12.8 2.2,-12.1 3.2,-10.8zM4.0,-5.3 2.7,4.0 5.3,12.0 4.0,13.3 1.3,13.3 0.0,6.7 -1.3,13.3 -4.0,13.3 -5.3,12.0 -2.7,4.0 -4.0,-5.3zM-2.0,-6.3 2.0,-6.3 2.0,-5.0 -2.0,-5.0zM4.0,-5.3 8.0,0.0 6.7,2.7 1.3,-4.0zM-1.3,-4.0 -6.7,2.7 -8.0,0.0 -4.0,-5.3z"/>
<path transform="translate(404.5 397.8)" fill="#54c4c4" stroke="#54c4c4" d="M3.5,-9.3 3.2,-7.8 2.2,-6.5 0.8,-5.9 -0.8,-5.9 -2.2,-6.5 -3.2,-7.8 -3.5,-9.3 -3.2,-10.8 -2.2,-12.1 -0.8,-12.8 0.8,-12.8 2.2,-12.1 3.2,-10.8zM4.0,-5.3 2.7,4.0 5.3,12.0 4.0,13.3 1.3,13.3 0.0,6.7 -1.3,13.3 -4.0,13.3 -5.3,12.0 -2.7,4.0 -4.0,-5.3zM-2.0,-6.3 2.0,-6.3 2.0,-5.0 -2.0,-5.0zM4.0,-5.3 8.0,0.0 6.7,2.7 1.3,-4.0zM-1.3,-4.0 -6.7,2.7 -8.0,0.0 -4.0,-5.3z"/>
<path transform="translate(393.5 413.1)" fill="#ffffff" stroke="#ffffff" d="M3.5,-9.3 3.2,-7.8 2.2,-6.5 0.8,-5.9 -0.8,-5.9 -2.2,-6.5 -3.2,-7.8 -3.5,-9.3 -3.2,-10.8 -2.2,-12.1 -0.8,-12.8 0.8,-12.8 2.2,-12.1 3.2,-10.8zM4.0,-5.3 2.7,4.0 5.3,12.0 4.0,13.3 1.3,13.3 0.0,6.7 -1.3,13.3 -4.0,13.3 -5.3,12.0 -2.7,4.0 -4.0,-5.3zM-2.0,-6.3 2.0,-6.3 2.0,-5.0 -2.0,-5.0zM4.0,-5.3 8.0,0.0 6.7,2.7 1.3,-4.0zM-1.3,-4.0 -6.7,2.7 -8.0,0.0 -4.0,-5.3z"/>
<path transform="translate(411.4 416.1)" fill="#ffffff" stroke="#ffffff" d="M3.5,-9.3 3.2,-7.8 2.2,-6.5 0.8,-5.9 -0.8,-5.9 -2.2,-6.5 -3.2,-7.8 -3.5,-9.3 -3.2,-10.8 -2.2,-12.1 -0.8,-12.8 0.8,-12.8 2.2,-12.1 3.2,-10.8zM4.0,-5.3 2.7,4.0 5.3,12.0 4.0,13.3 1.3,13.3 0.0,6.7 -1.3,13.3 -4.0,13.3 -5.3,12.0 -2.7,4.0 -4.0,-5.3zM-2.0,-6.3 2.0,-6.3 2.0,-5.0 -2.0,-5.0zM4.0,-5.3 8.0,0.0 6.7,2.7 1.3,-4.0zM-1.3,-4.0 -6.7,2.7 -8.0,0.0 -4.0,-5.3z"/>
<path transform="translate(405.7 431.4)" fill="#ffffff" stroke="#ffffff" d="M3.5,-9.3 3.2,-7.8 2.2,-6.5 0.8,-5.9 -0.8,-5.9 -2.2,-6.5 -3.2,-7.8 -3.5,-9.3 -3.2,-10.8 -2.2,-12.1 -0.8,-12.8 0.8,-12.8 2.2,-12.1 3.2,-10.8zM4.0,-5.3 2.7,4.0 5.3,12.0 4.0,13.3 1.3,13.3 0.0,6.7 -1.3,13.3 -4.0,13.3 -5.3,12.0 -2.7,4.0 -4.0,-5.3zM-2.0,-6.3 2.0,-6.3 2.0,-5.0 -2.0,-5.0zM4.0,-5.3 8.0,0.0 6.7,2.7 1.3,-4.0zM-1.3,-4.0 -6.7,2.7 -8.0,0.0 -4.0,-5.3z"/>
<path transform="translate(456.7 413.6)" fill="#7c50a4" stroke="#7c50a4" d="M3.5,-9.3 3.2,-7.8 2.2,-6.5 0.8,-5.9 -0.8,-5.9 -2.2,-6.5 -3.2,-7.8 -3.5,-9.3 -3.2,-10.8 -2.2,-12.1 -0.8,-12.8 0.8,-12.8 2.2,-12.1 3.2,-10.8zM4.0,-5.3 2.7,4.0 5.3,12.0 4.0,13.3 1.3,13.3 0.0,6.7 -1.3,13.3 -4.0,13.3 -5.3,12.0 -2.7,4.0 -4.0,-5.3zM-2.0,-6.3 2.0,-6.3 2.0,-5.0 -2.0,-5.0zM4.0,-5.3 8.0,0.0 6.7,2.7 1.3,-4.0zM-1.3,-4.0 -6.7,2.7 -8.0,0.0 -4.0,-5.3z"/>
<path transform="translate(467.0 410.4)" fill="#ffffff" stroke="#ffffff" d="M3.5,-9.3 3.2,-7.8 2.2,-6.5 0.8,-5.9 -0.8,-5.9 -2.2,-6.5 -3.2,-7.8 -3.5,-9.3 -3.2,-10.8 -2.2,-12.1 -0.8,-12.8 0.8,-12.8 2.2,-12.1 3.2,-10.8zM4.0,-5.3 2.7,4.0 5.3,12.0 4.0,13.3 1.3,13.3 0.0,6.7 -1.3,13.3 -4.0,13.3 -5.3,12.0 -2.7,4.0 -4.0,-5.3zM-2.0,-6.3 2.0,-6.3 2.0,-5.0 -2.0,-5.0zM4.0,-5.3 8.0,0.0 6.7,2.7 1.3,-4.0zM-1.3,-4.0 -6.7,2.7 -8.0,0.0 -4.0,-5.3z"/>
<path transform="translate(493.8 421.8)" fill="#54c4c4" stroke="#54c4c4" d="M3.5,-9.3 3.2,-7.8 2.2,-6.5 0.8,-5.9 -0.8,-5.9 -2.2,-6.5 -3.2,-7.8 -3.5,-9.3 -3.2,-10.8 -2.2,-12.1 -0.8,-12.8 0.8,-12.8 2.2,-12.1 3.2,-10.8zM4.0,-5.3 2.7,4.0 5.3,12.0 4.0,13.3 1.3,13.3 0.0,6.7 -1.3,13.3 -4.0,13.3 -5.3,12.0 -2.7,4.0 -4.0,-5.3zM-2.0,-6.3 2.0,-6.3 2.0,-5.0 -2.0,-5.0zM4.0,-5.3 8.0,0.0 6.7,2.7 1.3,-4.0zM-1.3,-4.0 -6.7,2.7 -8.0,0.0 -4.0,-5.3z"/>
<path transform="translate(514.8 433.3)" fill="#d73229" stroke="#d73229" d="M3.5,-9.3 3.2,-7.8 2.2,-6.5 0.8,-5.9 -0.8,-5.9 -2.2,-6.5 -3.2,-7.8 -3.5,-9.3 -3.2,-10.8 -2.2,-12.1 -0.8,-12.8 0.8,-12.8 2.2,-12.1 3.2,-10.8zM4.0,-5.3 2.7,4.0 5.3,12.0 4.0,13.3 1.3,13.3 0.0,6.7 -1.3,13.3 -4.0,13.3 -5.3,12.0 -2.7,4.0 -4.0,-5.3zM-2.0,-6.3 2.0,-6.3 2.0,-5.0 -2.0,-5.0zM4.0,-5.3 8.0,0.0 6.7,2.7 1.3,-4.0zM-1.3,-4.0 -6.7,2.7 -8.0,0.0 -4.0,-5.3z"/>
<path transform="translate(516.7 452.7)" fill="#54c4c4" stroke="#54c4c4" d="M3.5,-9.3 3.2,-7.8 2.2,-6.5 0.8,-5.9 -0.8,-5.9 -2.2,-6.5 -3.2,-7.8 -3.5,-9.3 -3.2,-10.8 -2.2,-12.1 -0.8,-12.8 0.8,-12.8 2.2,-12.1 3.2,-10.8zM4.0,-5.3 2.7,4.0 5.3,12.0 4.0,13.3 1.3,13.3 0.0,6.7 -1.3,13.3 -4.0,13.3 -5.3,12.0 -2.7,4.0 -4.0,-5.3zM-2.0,-6.3 2.0,-6.3 2.0,-5.0 -2.0,-5.0zM4.0,-5.3 8.0,0.0 6.7,2.7 1.3,-4.0zM-1.3,-4.0 -6.7,2.7 -8.0,0.0 -4.0,-5.3z"/>
<path transform="translate(475.5 435.6)" fill="#ffffff" stroke="#ffffff" d="M3.5,-9.3 3.2,-7.8 2.2,-6.5 0.8,-5.9 -0.8,-5.9 -2.2,-6.5 -3.2,-7.8 -3.5,-9.3 -3.2,-10.8 -2.2,-12.1 -0.8,-12.8 0.8,-12.8 2.2,-12.1 3.2,-10.8zM4.0,-5.3 2.7,4.0 5.3,12.0 4.0,13.3 1.3,13.3 0.0,6.7 -1.3,13.3 -4.0,13.3 -5.3,12.0 -2.7,4.0 -4.0,-5.3zM-2.0,-6.3 2.0,-6.3 2.0,-5.0 -2.0,-5.0zM4.0,-5.3 8.0,0.0 6.7,2.7 1.3,-4.0zM-1.3,-4.0 -6.7,2.7 -8.0,0.0 -4.0,-5.3z"/>
<path transform="translate(481.2 439.0)" fill="#ffffff" stroke="#ffffff" d="M3.5,-9.3 3.2,-7.8 2.2,-6.5 0.8,-5.9 -0.8,-5.9 -2.2,-6.5 -3.2,-7.8 -3.5,-9.3 -3.2,-10.8 -2.2,-12.1 -0.8,-12.8 0.8,-12.8 2.2,-12.1 3.2,-10.8zM4.0,-5.3 2.7,4.0 5.3,12.0 4.0,13.3 1.3,13.3 0.0,6.7 -1.3,13.3 -4.0,13.3 -5.3,12.0 -2.7,4.0 -4.0,-5.3zM-2.0,-6.3 2.0,-6.3 2.0,-5.0 -2.0,-5.0zM4.0,-5.3 8.0,0.0 6.7,2.7 1.3,-4.0zM-1.3,-4.0 -6.7,2.7 -8.0,0.0 -4.0,-5.3z"/>
<path transform="translate(432.0 444.0)" fill="#ffffff" stroke="#ffffff" d="M3.5,-9.3 3.2,-7.8 2.2,-6.5 0.8,-5.9 -0.8,-5.9 -2.2,-6.5 -3.2,-7.8 -3.5,-9.3 -3.2,-10.8 -2.2,-12.1 -0.8,-12.8 0.8,-12.8 2.2,-12.1 3.2,-10.8zM4.0,-5.3 2.7,4.0 5.3,12.0 4.0,13.3 1.3,13.3 0.0,6.7 -1.3,13.3 -4.0,13.3 -5.3,12.0 -2.7,4.0 -4.0,-5.3zM-2.0,-6.3 2.0,-6.3 2.0,-5.0 -2.0,-5.0zM4.0,-5.3 8.0,0.0 6.7,2.7 1.3,-4.0zM-1.3,-4.0 -6.7,2.7 -8.0,0.0 -4.0,-5.3z"/>
<path transform="translate(471.4 453.9)" fill="#d73229" stroke="#d73229" d="M3.5,-9.3 3.2,-7.8 2.2,-6.5 0.8,-5.9 -0.8,-5.9 -2.2,-6.5 -3.2,-7.8 -3.5,-9.3 -3.2,-10.8 -2.2,-12.1 -0.8,-12.8 0.8,-12.8 2.2,-12.1 3.2,-10.8zM4.0,-5.3 2.7,4.0 5.3,12.0 4.0,13.3 1.3,13.3 0.0,6.7 -1.3,13.3 -4.0,13.3 -5.3,12.0 -2.7,4.0 -4.0,-5.3zM-2.0,-6.3 2.0,-6.3 2.0,-5.0 -2.0,-5.0zM4.0,-5.3 8.0,0.0 6.7,2.7 1.3,-4.0zM-1.3,-4.0 -6.7,2.7 -8.0,0.0 -4.0,-5.3z"/>
<path transform="translate(453.7 461.9)" fill="#ffffff" stroke="#ffffff" d="M3.5,-9.3 3.2,-7.8 2.2,-6.5 0.8,-5.9 -0.8,-5.9 -2.2,-6.5 -3.2,-7.8 -3.5,-9.3 -3.2,-10.8 -2.2,-12.1 -0.8,-12.8 0.8,-12.8 2.2,-12.1 3.2,-10.8zM4.0,-5.3 2.7,4.0 5.3,12.0 4.0,13.3 1.3,13.3 0.0,6.7 -1.3,13.3 -4.0,13.3 -5.3,12.0 -2.7,4.0 -4.0,-5.3zM-2.0,-6.3 2.0,-6.3 2.0,-5.0 -2.0,-5.0zM4.0,-5.3 8.0,0.0 6.7,2.7 1.3,-4.0zM-1.3,-4.0 -6.7,2.7 -8.0,0.0 -4.0,-5.3z"/>
<path transform="translate(467.5 468.8)" fill="#7c50a4" stroke="#7c50a4" d="M3.5,-9.3 3.2,-7.8 2.2,-6.5 0.8,-5.9 -0.8,-5.9 -2.2,-6.5 -3.2,-7.8 -3.5,-9.3 -3.2,-10.8 -2.2,-12.1 -0.8,-12.8 0.8,-12.8 2.2,-12.1 3.2,-10.8zM4.0,-5.3 2.7,4.0 5.3,12.0 4.0,13.3 1.3,13.3 0.0,6.7 -1.3,13.3 -4.0,13.3 -5.3,12.0 -2.7,4.0 -4.0,-5.3zM-2.0,-6.3 2.0,-6.3 2.0,-5.0 -2.0,-5.0zM4.0,-5.3 8.0,0.0 6.7,2.7 1.3,-4.0zM-1.3,-4.0 -6.7,2.7 -8.0,0.0 -4.0,-5.3z"/>
<path transform="translate(475.5 469.2)" fill="#7c50a4" stroke="#7c50a4" d="M3.5,-9.3 3.2,-7.8 2.2,-6.5 0.8,-5.9 -0.8,-5.9 -2.2,-6.5 -3.2,-7.8 -3.5,-9.3 -3.2,-10.8 -2.2,-12.1 -0.8,-12.8 0.8,-12.8 2.2,-12.1 3.2,-10.8zM4.0,-5.3 2.7,4.0 5.3,12.0 4.0,13.3 1.3,13.3 0.0,6.7 -1.3,13.3 -4.0,13.3 -5.3,12.0 -2.7,4.0 -4.0,-5.3zM-2.0,-6.3 2.0,-6.3 2.0,-5.0 -2.0,-5.0zM4.0,-5.3 8.0,0.0 6.7,2.7 1.3,-4.0zM-1.3,-4.0 -6.7,2.7 -8.0,0.0 -4.0,-5.3z"/>
<path transform="translate(504.8 460.1)" fill="#ffffff" stroke="#ffffff" d="M3.5,-9.3 3.2,-7.8 2.2,-6.5 0.8,-5.9 -0.8,-5.9 -2.2,-6.5 -3.2,-7.8 -3.5,-9.3 -3.2,-10.8 -2.2,-12.1 -0.8,-12.8 0.8,-12.8 2.2,-12.1 3.2,-10.8zM4.0,-5.3 2.7,4.0 5.3,12.0 4.0,13.3 1.3,13.3 0.0,6.7 -1.3,13.3 -4.0,13.3 -5.3,12.0 -2.7,4.0 -4.0,-5.3zM-2.0,-6.3 2.0,-6.3 2.0,-5.0 -2.0,-5.0zM4.0,-5.3 8.0,0.0 6.7,2.7 1.3,-4.0zM-1.3,-4.0 -6.7,2.7 -8.0,0.0 -4.0,-5.3z"/>
<path transform="translate(432.0 477.2)" fill="#7c50a4" stroke="#7c50a4" d="M3.5,-9.3 3.2,-7.8 2.2,-6.5 0.8,-5.9 -0.8,-5.9 -2.2,-6.5 -3.2,-7.8 -3.5,-9.3 -3.2,-10.8 -2.2,-12.1 -0.8,-12.8 0.8,-12.8 2.2,-12.1 3.2,-10.8zM4.0,-5.3 2.7,4.0 5.3,12.0 4.0,13.3 1.3,13.3 0.0,6.7 -1.3,13.3 -4.0,13.3 -5.3,12.0 -2.7,4.0 -4.0,-5.3zM-2.0,-6.3 2.0,-6.3 2.0,-5.0 -2.0,-5.0zM4.0,-5.3 8.0,0.0 6.7,2.7 1.3,-4.0zM-1.3,-4.0 -6.7,2.7 -8.0,0.0 -4.0,-5.3z"/>
<path transform="translate(446.9 481.3)" fill="#54c4c4" stroke="#54c4c4" d="M3.5,-9.3 3.2,-7.8 2.2,-6.5 0.8,-5.9 -0.8,-5.9 -2.2,-6.5 -3.2,-7.8 -3.5,-9.3 -3.2,-10.8 -2.2,-12.1 -0.8,-12.8 0.8,-12.8 2.2,-12.1 3.2,-10.8zM4.0,-5.3 2.7,4.0 5.3,12.0 4.0,13.3 1.3,13.3 0.0,6.7 -1.3,13.3 -4.0,13.3 -5.3,12.0 -2.7,4.0 -4.0,-5.3zM-2.0,-6.3 2.0,-6.3 2.0,-5.0 -2.0,-5.0zM4.0,-5.3 8.0,0.0 6.7,2.7 1.3,-4.0zM-1.3,-4.0 -6.7,2.7 -8.0,0.0 -4.0,-5.3z"/>
<path transform="translate(442.3 471.0)" fill="#ffffff" stroke="#ffffff" d="M3.5,-9.3 3.2,-7.8 2.2,-6.5 0.8,-5.9 -0.8,-5.9 -2.2,-6.5 -3.2,-7.8 -3.5,-9.3 -3.2,-10.8 -2.2,-12.1 -0.8,-12.8 0.8,-12.8 2.2,-12.1 3.2,-10.8zM4.0,-5.3 2.7,4.0 5.3,12.0 4.0,13.3 1.3,13.3 0.0,6.7 -1.3,13.3 -4.0,13.3 -5.3,12.0 -2.7,4.0 -4.0,-5.3zM-2.0,-6.3 2.0,-6.3 2.0,-5.0 -2.0,-5.0zM4.0,-5.3 8.0,0.0 6.7,2.7 1.3,-4.0zM-1.3,-4.0 -6.7,2.7 -8.0,0.0 -4.0,-5.3z"/>
<path transform="translate(441.1 479.0)" fill="#ffffff" stroke="#ffffff" d="M3.5,-9.3 3.2,-7.8 2.2,-6.5 0.8,-5.9 -0.8,-5.9 -2.2,-6.5 -3.2,-7.8 -3.5,-9.3 -3.2,-10.8 -2.2,-12.1 -0.8,-12.8 0.8,-12.8 2.2,-12.1 3.2,-10.8zM4.0,-5.3 2.7,4.0 5.3,12.0 4.0,13.3 1.3,13.3 0.0,6.7 -1.3,13.3 -4.0,13.3 -5.3,12.0 -2.7,4.0 -4.0,-5.3zM-2.0,-6.3 2.0,-6.3 2.0,-5.0 -2.0,-5.0zM4.0,-5.3 8.0,0.0 6.7,2.7 1.3,-4.0zM-1.3,-4.0 -6.7,2.7 -8.0,0.0 -4.0,-5.3z"/>
<path transform="translate(410.9 481.8)" fill="#7c50a4" stroke="#7c50a4" d="M3.5,-9.3 3.2,-7.8 2.2,-6.5 0.8,-5.9 -0.8,-5.9 -2.2,-6.5 -3.2,-7.8 -3.5,-9.3 -3.2,-10.8 -2.2,-12.1 -0.8,-12.8 0.8,-12.8 2.2,-12.1 3.2,-10.8zM4.0,-5.3 2.7,4.0 5.3,12.0 4.0,13.3 1.3,13.3 0.0,6.7 -1.3,13.3 -4.0,13.3 -5.3,12.0 -2.7,4.0 -4.0,-5.3zM-2.0,-6.3 2.0,-6.3 2.0,-5.0 -2.0,-5.0zM4.0,-5.3 8.0,0.0 6.7,2.7 1.3,-4.0zM-1.3,-4.0 -6.7,2.7 -8.0,0.0 -4.0,-5.3z"/>
<path transform="translate(389.0 475.6)" fill="#ffffff" stroke="#ffffff" d="M3.5,-9.3 3.2,-7.8 2.2,-6.5 0.8,-5.9 -0.8,-5.9 -2.2,-6.5 -3.2,-7.8 -3.5,-9.3 -3.2,-10.8 -2.2,-12.1 -0.8,-12.8 0.8,-12.8 2.2,-12.1 3.2,-10.8zM4.0,-5.3 2.7,4.0 5.3,12.0 4.0,13.3 1.3,13.3 0.0,6.7 -1.3,13.3 -4.0,13.3 -5.3,12.0 -2.7,4.0 -4.0,-5.3zM-2.0,-6.3 2.0,-6.3 2.0,-5.0 -2.0,-5.0zM4.0,-5.3 8.0,0.0 6.7,2.7 1.3,-4.0zM-1.3,-4.0 -6.7,2.7 -8.0,0.0 -4.0,-5.3z"/>
<path transform="translate(391.9 491.0)" fill="#7c50a4" stroke="#7c50a4" d="M3.5,-9.3 3.2,-7.8 2.2,-6.5 0.8,-5.9 -0.8,-5.9 -2.2,-6.5 -3.2,-7.8 -3.5,-9.3 -3.2,-10.8 -2.2,-12.1 -0.8,-12.8 0.8,-12.8 2.2,-12.1 3.2,-10.8zM4.0,-5.3 2.7,4.0 5.3,12.0 4.0,13.3 1.3,13.3 0.0,6.7 -1.3,13.3 -4.0,13.3 -5.3,12.0 -2.7,4.0 -4.0,-5.3zM-2.0,-6.3 2.0,-6.3 2.0,-5.0 -2.0,-5.0zM4.0,-5.3 8.0,0.0 6.7,2.7 1.3,-4.0zM-1.3,-4.0 -6.7,2.7 -8.0,0.0 -4.0,-5.3z"/>
<path transform="translate(497.2 480.2)" fill="#54c4c4" stroke="#54c4c4" d="M3.5,-9.3 3.2,-7.8 2.2,-6.5 0.8,-5.9 -0.8,-5.9 -2.2,-6.5 -3.2,-7.8 -3.5,-9.3 -3.2,-10.8 -2.2,-12.1 -0.8,-12.8 0.8,-12.8 2.2,-12.1 3.2,-10.8zM4.0,-5.3 2.7,4.0 5.3,12.0 4.0,13.3 1.3,13.3 0.0,6.7 -1.3,13.3 -4.0,13.3 -5.3,12.0 -2.7,4.0 -4.0,-5.3zM-2.0,-6.3 2.0,-6.3 2.0,-5.0 -2.0,-5.0zM4.0,-5.3 8.0,0.0 6.7,2.7 1.3,-4.0zM-1.3,-4.0 -6.7,2.7 -8.0,0.0 -4.0,-5.3z"/>
<path transform="translate(483.5 492.1)" fill="#7c50a4" stroke="#7c50a4" d="M3.5,-9.3 3.2,-7.8 2.2,-6.5 0.8,-5.9 -0.8,-5.9 -2.2,-6.5 -3.2,-7.8 -3.5,-9.3 -3.2,-10.8 -2.2,-12.1 -0.8,-12.8 0.8,-12.8 2.2,-12.1 3.2,-10.8zM4.0,-5.3 2.7,4.0 5.3,12.0 4.0,13.3 1.3,13.3 0.0,6.7 -1.3,13.3 -4.0,13.3 -5.3,12.0 -2.7,4.0 -4.0,-5.3zM-2.0,-6.3 2.0,-6.3 2.0,-5.0 -2.0,-5.0zM4.0,-5.3 8.0,0.0 6.7,2.7 1.3,-4.0zM-1.3,-4.0 -6.7,2.7 -8.0,0.0 -4.0,-5.3z"/>
<path transform="translate(504.5 499.6)" fill="#54c4c4" stroke="#54c4c4" d="M3.5,-9.3 3.2,-7.8 2.2,-6.5 0.8,-5.9 -0.8,-5.9 -2.2,-6.5 -3.2,-7.8 -3.5,-9.3 -3.2,-10.8 -2.2,-12.1 -0.8,-12.8 0.8,-12.8 2.2,-12.1 3.2,-10.8zM4.0,-5.3 2.7,4.0 5.3,12.0 4.0,13.3 1.3,13.3 0.0,6.7 -1.3,13.3 -4.0,13.3 -5.3,12.0 -2.7,4.0 -4.0,-5.3zM-2.0,-6.3 2.0,-6.3 2.0,-5.0 -2.0,-5.0zM4.0,-5.3 8.0,0.0 6.7,2.7 1.3,-4.0zM-1.3,-4.0 -6.7,2.7 -8.0,0.0 -4.0,-5.3z"/>
<path transform="translate(480.5 506.5)" fill="#ffffff" stroke="#ffffff" d="M3.5,-9.3 3.2,-7.8 2.2,-6.5 0.8,-5.9 -0.8,-5.9 -2.2,-6.5 -3.2,-7.8 -3.5,-9.3 -3.2,-10.8 -2.2,-12.1 -0.8,-12.8 0.8,-12.8 2.2,-12.1 3.2,-10.8zM4.0,-5.3 2.7,4.0 5.3,12.0 4.0,13.3 1.3,13.3 0.0,6.7 -1.3,13.3 -4.0,13.3 -5.3,12.0 -2.7,4.0 -4.0,-5.3zM-2.0,-6.3 2.0,-6.3 2.0,-5.0 -2.0,-5.0zM4.0,-5.3 8.0,0.0 6.7,2.7 1.3,-4.0zM-1.3,-4.0 -6.7,2.7 -8.0,0.0 -4.0,-5.3z"/>
<path transform="translate(420.5 502.4)" fill="#ffffff" stroke="#ffffff" d="M3.5,-9.3 3.2,-7.8 2.2,-6.5 0.8,-5.9 -0.8,-5.9 -2.2,-6.5 -3.2,-7.8 -3.5,-9.3 -3.2,-10.8 -2.2,-12.1 -0.8,-12.8 0.8,-12.8 2.2,-12.1 3.2,-10.8zM4.0,-5.3 2.7,4.0 5.3,12.0 4.0,13.3 1.3,13.3 0.0,6.7 -1.3,13.3 -4.0,13.3 -5.3,12.0 -2.7,4.0 -4.0,-5.3zM-2.0,-6.3 2.0,-6.3 2.0,-5.0 -2.0,-5.0zM4.0,-5.3 8.0,0.0 6.7,2.7 1.3,-4.0zM-1.3,-4.0 -6.7,2.7 -8.0,0.0 -4.0,-5.3z"/>
<path transform="translate(412.5 514.5)" fill="#54c4c4" stroke="#54c4c4" d="M3.5,-9.3 3.2,-7.8 2.2,-6.5 0.8,-5.9 -0.8,-5.9 -2.2,-6.5 -3.2,-7.8 -3.5,-9.3 -3.2,-10.8 -2.2,-12.1 -0.8,-12.8 0.8,-12.8 2.2,-12.1 3.2,-10.8zM4.0,-5.3 2.7,4.0 5.3,12.0 4.0,13.3 1.3,13.3 0.0,6.7 -1.3,13.3 -4.0,13.3 -5.3,12.0 -2.7,4.0 -4.0,-5.3zM-2.0,-6.3 2.0,-6.3 2.0,-5.0 -2.0,-5.0zM4.0,-5.3 8.0,0.0 6.7,2.7 1.3,-4.0zM-1.3,-4.0 -6.7,2.7 -8.0,0.0 -4.0,-5.3z"/>
<path transform="translate(456.0 512.2)" fill="#54c4c4" stroke="#54c4c4" d="M3.5,-9.3 3.2,-7.8 2.2,-6.5 0.8,-5.9 -0.8,-5.9 -2.2,-6.5 -3.2,-7.8 -3.5,-9.3 -3.2,-10.8 -2.2,-12.1 -0.8,-12.8 0.8,-12.8 2.2,-12.1 3.2,-10.8zM4.0,-5.3 2.7,4.0 5.3,12.0 4.0,13.3 1.3,13.3 0.0,6.7 -1.3,13.3 -4.0,13.3 -5.3,12.0 -2.7,4.0 -4.0,-5.3zM-2.0,-6.3 2.0,-6.3 2.0,-5.0 -2.0,-5.0zM4.0,-5.3 8.0,0.0 6.7,2.7 1.3,-4.0zM-1.3,-4.0 -6.7,2.7 -8.0,0.0 -4.0,-5.3z"/>
<path transform="translate(431.5 527.1)" fill="#d73229" stroke="#d73229" d="M3.5,-9.3 3.2,-7.8 2.2,-6.5 0.8,-5.9 -0.8,-5.9 -2.2,-6.5 -3.2,-7.8 -3.5,-9.3 -3.2,-10.8 -2.2,-12.1 -0.8,-12.8 0.8,-12.8 2.2,-12.1 3.2,-10.8zM4.0,-5.3 2.7,4.0 5.3,12.0 4.0,13.3 1.3,13.3 0.0,6.7 -1.3,13.3 -4.0,13.3 -5.3,12.0 -2.7,4.0 -4.0,-5.3zM-2.0,-6.3 2.0,-6.3 2.0,-5.0 -2.0,-5.0zM4.0,-5.3 8.0,0.0 6.7,2.7 1.3,-4.0zM-1.3,-4.0 -6.7,2.7 -8.0,0.0 -4.0,-5.3z"/>
<path transform="translate(442.3 526.7)" fill="#7c50a4" stroke="#7c50a4" d="M3.5,-9.3 3.2,-7.8 2.2,-6.5 0.8,-5.9 -0.8,-5.9 -2.2,-6.5 -3.2,-7.8 -3.5,-9.3 -3.2,-10.8 -2.2,-12.1 -0.8,-12.8 0.8,-12.8 2.2,-12.1 3.2,-10.8zM4.0,-5.3 2.7,4.0 5.3,12.0 4.0,13.3 1.3,13.3 0.0,6.7 -1.3,13.3 -4.0,13.3 -5.3,12.0 -2.7,4.0 -4.0,-5.3zM-2.0,-6.3 2.0,-6.3 2.0,-5.0 -2.0,-5.0zM4.0,-5.3 8.0,0.0 6.7,2.7 1.3,-4.0zM-1.3,-4.0 -6.7,2.7 -8.0,0.0 -4.0,-5.3z"/>
<path transform="translate(297.0 387.0)" fill="#a71b6a" stroke="#a71b6a" d="M12.0,-4.5 12.3,-3.1 14.7,-2.3 14.9,-1.6 14.3,-1.0 12.7,-0.9 13.4,0.1 10.9,-0.5 9.2,-0.6 7.7,1.4 6.0,3.4 4.2,4.8 4.5,8.0 5.7,10.8 6.9,11.2 6.7,12.1 5.0,12.1 4.8,11.0 3.6,9.0 2.8,9.7 1.9,11.4 0.4,11.5 1.0,9.8 1.7,10.1 2.3,8.8 2.2,6.3 1.6,6.0 1.0,4.5 -0.7,5.2 -3.1,5.1 -5.2,4.6 -5.0,5.7 -7.1,8.1 -7.3,8.9 -4.7,11.1 -5.0,11.7 -6.6,11.8 -6.8,11.1 -8.5,9.3 -8.4,7.8 -7.5,5.9 -8.2,4.8 -9.0,5.6 -11.9,8.0 -11.9,10.3 -11.0,11.0 -11.2,11.6 -12.3,11.5 -13.0,10.7 -13.0,7.6 -11.2,5.5 -11.2,4.3 -12.0,4.1 -13.7,4.7 -14.8,4.4zM-15.1,4.5 -13.6,3.0 -11.4,1.6 -11.0,0.3 -9.7,-1.0 -6.8,-1.9 -1.6,-1.7 0.9,-2.4 3.8,-3.5 7.7,-4.2 8.6,-4.8 8.8,-5.2 11.8,-6.4 11.9,-5.8 13.1,-6.3 11.9,-4.7 11.9,-3.7z"/>
</svg></div>
<div class="w sw" style="left:869px;width:221px"><span class="tx" style="left:9.3px;top:14.6px;font-size:15.5px;letter-spacing:-0.46px">enable-awareness-campai...</span><div class="tg"><i style="top:1px"></i></div></div>
<div class="w sw" style="left:1109px;width:179px"><span class="tx" style="left:9.2px;top:14.6px;font-size:15.5px;letter-spacing:-0.16px">enable-peer-reporti...</span><div class="tg"><i style="top:1px"></i></div></div>
<div class="w sw" style="left:1301px;width:185px"><span class="tx" style="left:9.4px;top:14.6px;font-size:15.5px;letter-spacing:-0.07px">enable-family-netwo..</span><div class="tg"><i style="top:20px"></i></div></div>
<div class="w mo" style="left:869px;top:93px;width:119px"><span class="tx" style="left:9.7px;top:7.4px;font-size:15.5px;letter-spacing:-0.77px">Attack Succes...</span><div class="val"></div><span class="tx" style="left:18.2px;top:38.6px;font-size:12.7px;letter-spacing:0.25px">7.85</span></div>
<div class="w mo" style="left:1001px;top:93px;width:119px"><span class="tx" style="left:9.6px;top:7.4px;font-size:15.5px;letter-spacing:-0.69px">Average User ...</span><div class="val"></div><span class="tx" style="left:18.3px;top:38.6px;font-size:12.7px;letter-spacing:0.35px">0.88</span></div>
<div class="w mo" style="left:1133px;top:93px;width:119px"><span class="tx" style="left:9.5px;top:7.4px;font-size:15.5px;letter-spacing:-0.71px">Avg User Trust</span><div class="val"></div><span class="tx" style="left:18.3px;top:38.6px;font-size:12.7px;letter-spacing:0.35px">0.48</span></div>
<div class="w mo" style="left:1265px;top:93px;width:119px"><span class="tx" style="left:9.3px;top:7.4px;font-size:15.5px;letter-spacing:-0.49px">Compromise...</span><div class="val"></div><span class="tx" style="left:18.6px;top:38.6px;font-size:12.7px;letter-spacing:0.44px">36</span></div>
<div class="w mo" style="left:1397px;top:93px;width:119px"><span class="tx" style="left:9.5px;top:7.4px;font-size:15.5px;letter-spacing:-0.22px">Victimization ...</span><div class="val"></div><span class="tx" style="left:18.5px;top:38.6px;font-size:12.7px;letter-spacing:0.35px">97.6</span></div>
<div class="w mo" style="left:869px;top:183px;width:119px"><span class="tx" style="left:8.6px;top:7.4px;font-size:15.5px;letter-spacing:-0.40px">Reporting Rat...</span><div class="val"></div><span class="tx" style="left:18.6px;top:38.6px;font-size:12.7px;letter-spacing:0.12px">9.68</span></div>
<div class="w mo" style="left:1001px;top:183px;width:143px"><span class="tx" style="left:8.8px;top:7.4px;font-size:15.5px;letter-spacing:-0.42px">Rolling 60-day R...</span><div class="val"></div><span class="tx" style="left:18.4px;top:38.6px;font-size:12.7px;letter-spacing:0.22px">3.26</span></div>
<div class="w pl" style="left:869px">
<span class="tx" style="left:36.3px;top:10.6px;font-size:15.5px;letter-spacing:-0.61px">Attack Success Rate Over Time</span>
<div class="cv" style="left:28px;top:39px;width:238px;height:76px"></div>
<span class="tx" style="left:3.7px;top:44.1px;font-size:15.5px;letter-spacing:-1.62px">66</span>
<span class="tx" style="left:11.2px;top:95.6px;font-size:15.5px;letter-spacing:0.00px">0</span>
<div class="yl" style="left:2px;top:88px;font-size:15.5px;letter-spacing:-0.6px">S...</div>
<span class="tx" style="left:31.3px;top:119.6px;font-size:15.5px;letter-spacing:0.00px">0</span>
<span class="tx" style="left:104.0px;top:119.6px;font-size:15.5px;letter-spacing:-0.75px">Ticks (days)</span>
<span class="tx" style="left:244.5px;top:119.6px;font-size:15.5px;letter-spacing:-1.37px">380</span>
<div class="ln" style="left:80.5px;top:151.6px;background:#d73229"></div>
<span class="tx" style="left:114.3px;top:143.4px;font-size:15.5px;letter-spacing:0.91px">cumulative</span>
<div class="ln" style="left:80.5px;top:188.6px;background:#2d8dbe"></div>
<span class="tx" style="left:113.3px;top:180.9px;font-size:15.5px;letter-spacing:1.09px">rolling-60d</span>
</div>
<div class="w pl" style="left:1151px">
<span class="tx" style="left:57.7px;top:10.6px;font-size:15.5px;letter-spacing:-0.71px">Average User Awareness</span>
<div class="cv" style="left:28px;top:39px;width:238px;height:136px"></div>
<span class="tx" style="left:3.2px;top:44.1px;font-size:15.5px;letter-spacing:-2.12px">10</span>
<span class="tx" style="left:11.2px;top:155.6px;font-size:15.5px;letter-spacing:0.00px">0</span>
<div class="yl" style="left:2px;top:149px;font-size:15.5px;letter-spacing:-0.6px">Awareness...</div>
<span class="tx" style="left:31.3px;top:179.6px;font-size:15.5px;letter-spacing:0.00px">0</span>
<span class="tx" style="left:126.8px;top:179.6px;font-size:15.5px;letter-spacing:-1.16px">Ticks</span>
<span class="tx" style="left:244.5px;top:179.6px;font-size:15.5px;letter-spacing:-1.37px">380</span>
</div>
<div class="w pl" style="left:1433px">
<span class="tx" style="left:50.4px;top:10.6px;font-size:15.5px;letter-spacing:-0.25px">Risk Category Distribution</span>
<div class="cv" style="left:35px;top:39px;width:231px;height:136px"></div>
<span class="tx" style="left:3.5px;top:44.1px;font-size:15.5px;letter-spacing:-2.02px">500</span>
<span class="tx" style="left:18.2px;top:155.6px;font-size:15.5px;letter-spacing:0.00px">0</span>
<div class="yl" style="left:10.5px;top:149.5px;font-size:15.5px;letter-spacing:-0.45px">Number of...</div>
<span class="tx" style="left:38.3px;top:179.6px;font-size:15.5px;letter-spacing:0.00px">0</span>
<span class="tx" style="left:91.2px;top:179.6px;font-size:15.5px;letter-spacing:-0.73px">Awareness Level</span>
<span class="tx" style="left:244.5px;top:179.6px;font-size:15.5px;letter-spacing:-1.37px">380</span>
</div>
<svg width="1741" height="568" viewBox="0 0 1741 568" style="position:absolute;left:0;top:0;pointer-events:none">
<polyline points="902.3,383.3 903.9,318.2 905.4,332.6 908.2,334.7 910.7,337.9 912.8,341.5 914.9,344.2 918.1,347.0 921.3,349.5 924.4,351.6 927.6,353.3 930.8,354.6 933.9,355.9 937.1,356.5 940.3,357.5 941.3,358.0 948.7,359.7 948.7,361.1 953.0,361.1 953.0,362.2 962.5,362.2 962.5,363.5 969.9,363.5 969.9,364.7 980.4,365.6 980.4,366.8 991.0,366.8 991.0,368.1 1005.8,368.5 1005.8,369.6 1024.8,369.8 1024.8,370.9 1050.2,371.5 1050.2,372.8 1075.5,372.8 1075.5,374.0 1109.3,374.4 1109.3,375.9 1122.0,375.9" fill="none" stroke="#d73229" stroke-width="1.6" stroke-linejoin="round"/>
<polyline points="902.3,383.3 903.9,318.2 905.4,332.6 908.2,334.7 910.7,337.9 912.8,341.5 914.9,344.2 918.1,347.0 921.3,349.5 924.4,351.6 927.6,353.3 930.8,354.6 933.9,355.9 937.1,356.5 940.3,357.5 942.4,360.5 944.5,363.2 947.7,364.9 950.9,366.4 954.0,367.9 957.2,369.0 961.4,369.8 965.6,370.6 968.8,372.1 972.0,373.2 979.4,374.2 986.8,375.3 991.0,376.3 995.2,377.0 1041.7,377.4 1042.8,379.5 1077.6,379.5 1080.8,378.7 1081.8,380.1 1085.0,380.6 1122.0,380.6" fill="none" stroke="#2d8dbe" stroke-width="1.4" stroke-linejoin="round"/>
<polyline points="1183.7,443.3 1183.7,440.8 1193.5,440.8 1193.5,439.1 1203.4,438.7 1203.4,437.6 1223.5,437.6 1223.5,435.9 1256.2,435.9 1256.2,434.4 1310.7,434.4 1310.7,433.0 1404.1,433.0" fill="none" stroke="#345da9" stroke-width="1.6" stroke-linejoin="round"/>
<polyline points="1474.1,415.4 1474.1,344.2 1475.4,344.2 1477.0,349.5 1478.7,358.0 1480.2,364.3 1481.3,371.7 1482.3,379.1 1483.4,382.7 1485.5,391.1 1487.6,399.6 1489.7,409.1 1491.8,419.7 1496.1,423.9 1500.3,427.0 1504.5,431.3 1508.7,434.4 1514.0,436.3 1519.3,437.6 1524.6,439.3 1529.9,441.8 1544.7,442.3 1544.7,443.3 1684.1,443.3" fill="none" stroke="#d73229" stroke-width="1.4" stroke-linejoin="round"/>
<polyline points="1474.1,443.3 1474.1,415.4 1476.0,405.9 1478.1,397.5 1480.8,388.0 1483.4,378.5 1484.4,373.8 1485.5,368.5 1487.2,361.1 1488.7,356.9 1490.8,353.7 1492.9,351.6 1497.1,350.6 1500.3,349.5 1504.5,347.4 1507.0,349.5 1508.3,353.7 1509.8,359.7 1510.9,362.2 1514.0,364.3 1516.1,365.4 1520.4,366.8 1523.5,368.5 1525.6,371.7 1526.7,374.9 1527.3,380.6 1527.8,383.7 1530.9,385.8 1534.1,388.0 1538.3,392.2 1542.5,395.4 1544.2,400.6 1545.7,402.7 1553.1,404.2 1559.4,404.9 1561.1,414.4 1567.9,415.6 1572.1,417.5 1576.3,421.8 1579.5,426.6 1586.9,426.0 1595.4,427.0 1598.5,432.8 1610.2,433.4 1613.3,436.6 1616.5,438.7 1636.6,439.1 1641.8,440.8 1647.1,441.8 1682.0,442.3 1685.2,443.3" fill="none" stroke="#eded31" stroke-width="1.4" stroke-linejoin="round"/>
<polyline points="1473.2,443.3 1481.3,443.3 1483.4,442.3 1487.6,441.4 1491.8,439.7 1492.9,431.3 1496.1,429.2 1500.3,427.5 1504.5,424.9 1507.7,420.3 1508.7,413.3 1509.8,407.0 1511.9,403.8 1514.0,402.7 1518.2,400.6 1521.4,398.5 1525.6,393.2 1526.7,379.5 1526.7,379.1 1529.9,375.9 1534.1,372.8 1538.3,369.0 1542.5,367.5 1543.8,362.2 1545.1,358.0 1552.1,356.9 1559.4,355.9 1561.1,346.3 1567.9,345.3 1572.1,343.6 1576.3,338.9 1579.5,333.7 1586.9,334.7 1594.3,334.3 1596.4,329.4 1598.5,327.8 1610.2,326.9 1613.3,323.7 1616.5,321.6 1635.5,321.4 1641.8,319.9 1647.1,318.9 1682.0,318.2 1683.0,316.8 1685.2,316.8" fill="none" stroke="#59b03c" stroke-width="1.5" stroke-linejoin="round"/>
</svg>
</body></html>
